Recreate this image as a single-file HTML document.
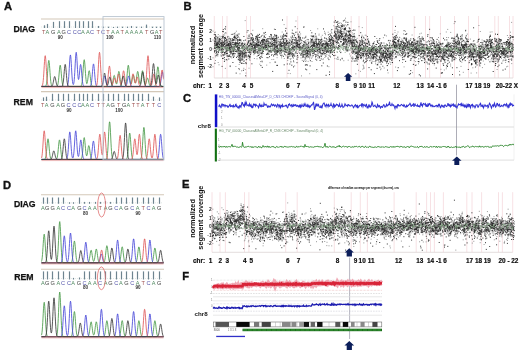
<!DOCTYPE html>
<html><head><meta charset="utf-8"><style>
html,body{margin:0;padding:0;background:#fff;width:520px;height:350px;overflow:hidden}
svg{display:block;filter:blur(0.3px)}
text{font-family:"Liberation Sans",sans-serif}
</style></head><body>
<svg width="520" height="350" viewBox="0 0 520 350">
<rect width="520" height="350" fill="#fff"/>
<text x="3.9" y="9.8" font-size="11.2" font-weight="bold" fill="#111" text-anchor="start" stroke="#111" stroke-width="0.35">A</text>
<text x="183.5" y="9.9" font-size="11.2" font-weight="bold" fill="#111" text-anchor="start" stroke="#111" stroke-width="0.35">B</text>
<text x="182.9" y="102.0" font-size="11.2" font-weight="bold" fill="#111" text-anchor="start" stroke="#111" stroke-width="0.35">C</text>
<text x="3.0" y="189.0" font-size="11.2" font-weight="bold" fill="#111" text-anchor="start" stroke="#111" stroke-width="0.35">D</text>
<text x="182.1" y="188.1" font-size="11.2" font-weight="bold" fill="#111" text-anchor="start" stroke="#111" stroke-width="0.35">E</text>
<text x="182.3" y="279.6" font-size="11.2" font-weight="bold" fill="#111" text-anchor="start" stroke="#111" stroke-width="0.35">F</text>
<polyline points="41.5,86.4 44.75,86.4 45,86.3 45.25,86.3 45.5,86.2 45.75,85.9 46,85.5 46.25,84.8 46.5,83.7 46.75,82.1 47,79.9 47.25,77.1 47.5,73.8 47.75,70.2 48,66.6 48.25,63.6 48.5,61.4 48.75,60.4 49,60.8 49.25,62.6 49.5,65.3 49.75,68.7 50,72.4 50.25,75.8 50.5,78.9 50.75,81.3 51,83.1 51.25,84.4 51.5,85.3 51.75,85.8 52,86.1 52.25,86.2 52.5,86.3 52.75,86.4 56.25,86.4 56.5,86.3 56.75,86.3 57,86.1 57.25,85.9 57.5,85.5 57.75,84.8 58,83.7 58.25,82.2 58.5,80.3 58.75,77.8 59,75 59.25,72 59.5,69.2 59.75,67 60,65.6 60.25,65.2 60.5,66 60.75,67.8 61,70.3 61.25,73.2 61.5,76.1 61.75,78.8 62,81.1 62.25,82.9 62.5,84.2 62.75,85.1 63,85.7 63.25,86 63.5,86.2 63.75,86.3 64,86.4 80.25,86.4 80.5,86.3 80.75,86.2 81,86.1 81.25,85.8 81.5,85.2 81.75,84.4 82,83 82.25,81.2 82.5,78.7 82.75,75.6 83,72 83.25,68.3 83.5,64.8 83.75,61.9 84,60.2 84.25,59.7 84.5,60.7 84.75,62.9 85,66.1 85.25,69.7 85.5,73.4 85.75,76.8 86,79.5 86.25,81.6 86.5,82.9 86.75,83.6 87,83.5 87.25,82.8 87.5,81.6 87.75,79.9 88,77.9 88.25,75.7 88.5,73.7 88.75,72 89,71 89.25,70.7 89.5,71.3 89.75,72.6 90,74.5 90.25,76.6 90.5,78.8 90.75,80.8 91,82.5 91.25,83.8 91.5,84.8 91.75,85.4 92,85.9 92.25,86.1 92.5,86.3 92.75,86.3 93,86.4 110.5,86.4 110.75,86.3 111,86.3 111.25,86.1 111.5,85.9 111.75,85.6 112,85 112.25,84.2 112.5,83.2 112.75,81.9 113,80.5 113.25,78.9 113.5,77.5 113.75,76.3 114,75.6 114.25,75.4 114.5,75.8 114.75,76.7 115,78 115.25,79.5 115.5,81 115.75,82.3 116,83.2 116.25,83.8 116.5,84 116.75,83.7 117,82.8 117.25,81.5 117.5,79.8 117.75,77.8 118,75.8 118.25,73.9 118.5,72.4 118.75,71.5 119,71.5 119.25,72.2 119.5,73.5 119.75,75.4 120,77.5 120.25,79.5 120.5,81.4 120.75,82.9 121,84.1 121.25,85 121.5,85.6 121.75,85.9 122,86.2 122.25,86.3 122.5,86.3 122.75,86.4 124.5,86.4 124.75,86.3 125,86.2 125.25,86 125.5,85.7 125.75,85.1 126,84.2 126.25,82.9 126.5,81.1 126.75,78.8 127,76.1 127.25,73.2 127.5,70.3 127.75,67.8 128,66 128.25,65.2 128.5,65.6 128.75,67 129,69.2 129.25,72 129.5,74.9 129.75,77.7 130,80.2 130.25,82 130.5,83.3 130.75,84.1 131,84.3 131.25,84 131.5,83.3 131.75,82.2 132,80.8 132.25,79.3 132.5,77.7 132.75,76.4 133,75.4 133.25,75 133.5,75.2 133.75,75.9 134,77.1 134.25,78.6 134.5,80.1 134.75,81.4 135,82.4 135.25,83 135.5,83.1 135.75,82.6 136,81.6 136.25,80 136.5,78.2 136.75,76.1 137,74.2 137.25,72.6 137.5,71.6 137.75,71.4 138,72 138.25,73.2 138.5,75 138.75,77 139,79 139.25,80.9 139.5,82.3 139.75,83.3 140,83.8 140.25,83.7 140.5,83.1 140.75,81.9 141,80.3 141.25,78.3 141.5,76.1 141.75,74.1 142,72.3 142.25,71.1 142.5,70.7 142.75,71.1 143,72.3 143.25,74.1 143.5,76.2 143.75,78.3 144,80.4 144.25,82.1 144.5,83.4 144.75,84.3 145,84.7 145.25,84.8 145.5,84.6 145.75,84 146,83.1 146.25,82.1 146.5,80.9 146.75,79.8 147,78.9 147.25,78.2 147.5,78 147.75,78.2 148,78.9 148.25,79.8 148.5,80.9 148.75,82.1 149,83.2 149.25,84.1 149.5,84.9 149.75,85.4 150,85.8 150.25,86.1 150.5,86.2 150.75,86.3 151,86.4 154,86.4 154.25,86.3 154.5,86.3 154.75,86.1 155,85.9 155.25,85.4 155.5,84.7 155.75,83.7 156,82.2 156.25,80.3 156.5,77.9 156.75,75.2 157,72.5 157.25,70 157.5,68 157.75,66.9 158,66.8 158.25,67.7 158.5,69.5 158.75,71.9 159,74.7 159.25,77.4 159.5,79.8 159.75,81.9 160,83.4 160.25,84.6 160.5,85.3 160.75,85.8 161,86.1 161.25,86.2 161.5,86.3 161.75,86.4 163.5,86.4" fill="none" stroke="#4a9a4a" stroke-width="0.95" stroke-opacity="0.9"/>
<polyline points="41.5,86.4 66.5,86.4 66.75,86.3 67,86.2 67.25,86 67.5,85.5 67.75,84.8 68,83.7 68.25,82.1 68.5,79.7 68.75,76.6 69,72.8 69.25,68.5 69.5,64.1 69.75,60.1 70,57 70.25,55.2 70.5,55 70.75,56.5 71,59.4 71.25,63.3 71.5,67.6 71.75,72 72,75.9 72.25,79.1 72.5,81.5 72.75,83.2 73,84.2 73.25,84.6 73.5,84.4 73.75,83.5 74,82 74.25,79.7 74.5,76.5 74.75,72.5 75,68 75.25,63.2 75.5,58.8 75.75,55.1 76,52.9 76.25,52.3 76.5,53.6 76.75,56.4 77,60.4 77.25,65 77.5,69.5 77.75,73.5 78,76.7 78.25,78.7 78.5,79.5 78.75,79.2 79,77.9 79.25,75.7 79.5,73 79.75,70.1 80,67.5 80.25,65.5 80.5,64.5 80.75,64.6 81,65.9 81.25,68 81.5,70.9 81.75,73.9 82,76.9 82.25,79.6 82.5,81.7 82.75,83.4 83,84.5 83.25,85.3 83.5,85.8 83.75,86.1 84,86.2 84.25,86.3 84.5,86.4 89.5,86.4 89.75,86.3 90,86.3 90.25,86.2 90.5,85.9 90.75,85.5 91,84.9 91.25,83.8 91.5,82.3 91.75,80.3 92,77.8 92.25,74.9 92.5,71.7 92.75,68.7 93,66.2 93.25,64.5 93.5,63.9 93.75,64.5 94,66.2 94.25,68.7 94.5,71.7 94.75,74.9 95,77.8 95.25,80.3 95.5,82.3 95.75,83.8 96,84.9 96.25,85.5 96.5,85.9 96.75,86.2 97,86.3 97.25,86.3 97.5,86.4 101.25,86.4 101.5,86.3 101.75,86.2 102,86 102.25,85.8 102.5,85.3 102.75,84.7 103,83.8 103.25,82.7 103.5,81.4 103.75,79.9 104,78.5 104.25,77.3 104.5,76.4 104.75,76 105,76.2 105.25,76.9 105.5,78 105.75,79.3 106,80.8 106.25,82.2 106.5,83.4 106.75,84.4 107,85.1 107.25,85.6 107.5,85.9 107.75,86.2 108,86.3 108.25,86.3 108.5,86.4 125,86.4 125.25,86.3 125.5,86.2 125.75,86.1 126,85.8 126.25,85.4 126.5,84.8 126.75,84 127,82.9 127.25,81.6 127.5,80.2 127.75,78.8 128,77.5 128.25,76.5 128.5,76 128.75,76.1 129,76.7 129.25,77.7 129.5,79.1 129.75,80.5 130,81.9 130.25,83.2 130.5,84.2 130.75,85 131,85.5 131.25,85.9 131.5,86.1 131.75,86.3 132,86.3 132.25,86.4 158.75,86.4 159,86.3 159.25,86.2 159.5,86 159.75,85.7 160,85.2 160.25,84.4 160.5,83.3 160.75,81.9 161,80.2 161.25,78.2 161.5,76.2 161.75,74.4 162,73 162.25,72.1 162.5,72.1 162.75,72.7 163,74.1 163.25,75.8 163.5,77.8" fill="none" stroke="#4a4ad8" stroke-width="0.95" stroke-opacity="0.9"/>
<polyline points="41.5,86.3 41.75,86.2 42,86 42.25,85.7 42.5,85.1 42.75,84.1 43,82.5 43.25,80.4 43.5,77.5 43.75,73.9 44,69.8 44.25,65.5 44.5,61.5 44.75,58.3 45,56.2 45.25,55.7 45.5,56.9 45.75,59.4 46,63.1 46.25,67.3 46.5,71.5 46.75,75.4 47,78.7 47.25,81.3 47.5,83.2 47.75,84.5 48,85.3 48.25,85.8 48.5,86.1 48.75,86.3 49,86.3 49.25,86.4 95.5,86.4 95.75,86.3 96,86.2 96.25,86 96.5,85.7 96.75,85.1 97,84.1 97.25,82.5 97.5,80.3 97.75,77.2 98,73.4 98.25,68.9 98.5,64.2 98.75,59.6 99,55.8 99.25,53.2 99.5,52.3 99.75,53.2 100,55.8 100.25,59.6 100.5,64.2 100.75,68.9 101,73.4 101.25,77.2 101.5,80.3 101.75,82.5 102,84.1 102.25,85.1 102.5,85.7 102.75,86 103,86.2 103.25,86.3 103.5,86.4 105.5,86.4 105.75,86.3 106,86.3 106.25,86.1 106.5,85.8 106.75,85.4 107,84.7 107.25,83.6 107.5,82.1 107.75,80 108,77.6 108.25,74.8 108.5,72 108.75,69.4 109,67.4 109.25,66.2 109.5,66.1 109.75,67 110,68.9 110.25,71.4 110.5,74.2 110.75,77 111,79.5 111.25,81.6 111.5,83.1 111.75,84.2 112,84.7 112.25,84.8 112.5,84.6 112.75,84 113,83.1 113.25,82.1 113.5,80.9 113.75,79.8 114,78.8 114.25,78.2 114.5,78 114.75,78.2 115,78.8 115.25,79.7 115.5,80.7 115.75,81.6 116,82.3 116.25,82.7 116.5,82.7 116.75,82.1 117,81.1 117.25,79.7 117.5,78.1 117.75,76.6 118,75.2 118.25,74.3 118.5,74 118.75,74.3 119,75.3 119.25,76.7 119.5,78.3 119.75,80 120,81.6 120.25,82.9 120.5,83.9 120.75,84.5 121,84.7 121.25,84.4 121.5,83.8 121.75,82.6 122,81.1 122.25,79.2 122.5,77 122.75,74.9 123,72.9 123.25,71.5 123.5,70.8 123.75,70.9 124,71.7 124.25,73.3 124.5,75.3 124.75,77.5 125,79.6 125.25,81.5 125.5,83.1 125.75,84.2 126,85.1 126.25,85.6 126.5,86 126.75,86.2 127,86.3 127.25,86.3 127.5,86.4 129.25,86.4 129.5,86.3 129.75,86.3 130,86.1 130.25,85.9 130.5,85.5 130.75,85 131,84.1 131.25,83 131.5,81.6 131.75,80 132,78.2 132.25,76.5 132.5,75.1 132.75,74.1 133,73.8 133.25,74.1 133.5,75.1 133.75,76.4 134,78.1 134.25,79.7 134.5,81.2 134.75,82.3 135,83 135.25,83.1 135.5,82.8 135.75,82.1 136,81.1 136.25,79.9 136.5,78.7 136.75,77.8 137,77.1 137.25,77 137.5,77.4 137.75,78.1 138,79.3 138.25,80.5 138.5,81.8 138.75,83 139,84.1 139.25,84.8 139.5,85.4 139.75,85.8 140,86.1 140.25,86.2 140.5,86.3 140.75,86.4 144,86.4 144.25,86.3 144.5,86.2 144.75,86.1 145,85.8 145.25,85.2 145.5,84.3 145.75,82.9 146,80.9 146.25,78.1 146.5,74.7 146.75,70.7 147,66.4 147.25,62.3 147.5,58.8 147.75,56.5 148,55.7 148.25,56.5 148.5,58.8 148.75,62.3 149,66.4 149.25,70.7 149.5,74.7 149.75,78.1 150,80.8 150.25,82.8 150.5,84.2 150.75,85 151,85.3 151.25,85.3 151.5,85 151.75,84.3 152,83.3 152.25,82 152.5,80.4 152.75,78.7 153,77 153.25,75.5 153.5,74.5 153.75,74 154,74.2 154.25,75 154.5,76.3 154.75,78 155,79.7 155.25,81.4 155.5,82.8 155.75,84 156,84.8 156.25,85.5 156.5,85.9 156.75,86.1 157,86.2 157.25,86.3 157.5,86.4 158.25,86.4 158.5,86.3 158.75,86.3 159,86.1 159.25,85.9 159.5,85.5 159.75,84.9 160,83.9 160.25,82.6 160.5,80.9 160.75,78.8 161,76.6 161.25,74.3 161.5,72.3 161.75,70.7 162,70 162.25,70.1 162.5,71 162.75,72.6 163,74.7 163.25,77 163.5,79.3" fill="none" stroke="#e05a5a" stroke-width="0.95" stroke-opacity="0.9"/>
<polyline points="41.5,86.4 51,86.4 51.25,86.3 51.5,86.3 51.75,86.2 52,86 52.25,85.6 52.5,85.2 52.75,84.5 53,83.5 53.25,82.4 53.5,81.1 53.75,79.7 54,78.4 54.25,77.3 54.5,76.7 54.75,76.5 55,76.9 55.25,77.7 55.5,78.9 55.75,80.2 56,81.6 56.25,82.9 56.5,83.9 56.75,84.8 57,85.4 57.25,85.8 57.5,86.1 57.75,86.2 58,86.3 58.25,86.4 61.25,86.4 61.5,86.3 61.75,86.3 62,86.1 62.25,85.9 62.5,85.4 62.75,84.7 63,83.6 63.25,82.1 63.5,80 63.75,77.5 64,74.5 64.25,71.5 64.5,68.6 64.75,66.2 65,64.8 65.25,64.4 65.5,65.2 65.75,67.1 66,69.7 66.25,72.7 66.5,75.7 66.75,78.5 67,80.9 67.25,82.8 67.5,84.1 67.75,85 68,85.6 68.25,86 68.5,86.2 68.75,86.3 69,86.4 100.75,86.4 101,86.3 101.25,86.3 101.5,86.1 101.75,85.9 102,85.5 102.25,84.9 102.5,84 102.75,82.8 103,81.3 103.25,79.5 103.5,77.7 103.75,75.9 104,74.4 104.25,73.4 104.5,73 104.75,73.4 105,74.4 105.25,75.9 105.5,77.7 105.75,79.5 106,81.3 106.25,82.8 106.5,83.9 106.75,84.7 107,85.2 107.25,85.3 107.5,85.1 107.75,84.7 108,84 108.25,83 108.5,81.8 108.75,80.5 109,79.3 109.25,78.1 109.5,77.4 109.75,77 110,77.2 110.25,77.8 110.5,78.8 110.75,80 111,81.3 111.25,82.6 111.5,83.7 111.75,84.6 112,85.2 112.25,85.7 112.5,86 112.75,86.2 113,86.3 113.25,86.3 113.5,86.4 119.5,86.4 119.75,86.3 120,86.3 120.25,86.2 120.5,85.9 120.75,85.6 121,85.1 121.25,84.4 121.5,83.4 121.75,82.2 122,80.8 122.25,79.3 122.5,78 122.75,76.9 123,76.2 123.25,76 123.5,76.4 123.75,77.3 124,78.5 124.25,79.9 124.5,81.4 124.75,82.7 125,83.8 125.25,84.7 125.5,85.3 125.75,85.8 126,86 126.25,86.2 126.5,86.3 126.75,86.4 139,86.4 139.25,86.3 139.5,86.3 139.75,86.1 140,85.9 140.25,85.5 140.5,84.9 140.75,84 141,82.8 141.25,81.3 141.5,79.4 141.75,77.4 142,75.5 142.25,73.8 142.5,72.5 142.75,72 143,72.2 143.25,73.2 143.5,74.7 143.75,76.6 144,78.6 144.25,80.6 144.5,82.2 144.75,83.6 145,84.6 145.25,85.3 145.5,85.8 145.75,86.1 146,86.2 146.25,86.3 146.5,86.4 149.5,86.4 149.75,86.3 150,86.3 150.25,86.2 150.5,85.9 150.75,85.5 151,84.8 151.25,83.8 151.5,82.3 151.75,80.3 152,77.7 152.25,74.7 152.5,71.5 152.75,68.5 153,65.9 153.25,64.2 153.5,63.6 153.75,64.2 154,65.9 154.25,68.5 154.5,71.5 154.75,74.7 155,77.6 155.25,80.1 155.5,81.9 155.75,83.1 156,83.7 156.25,83.6 156.5,83.1 156.75,82.1 157,80.8 157.25,79.2 157.5,77.7 157.75,76.4 158,75.4 158.25,75 158.5,75.2 158.75,75.9 159,77.2 159.25,78.7 159.5,80.3 159.75,81.8 160,83.1 160.25,84.2 160.5,85 160.75,85.5 161,85.9 161.25,86.1 161.5,86.3 161.75,86.3 162,86.4 163.5,86.4" fill="none" stroke="#3a3a3a" stroke-width="0.95" stroke-opacity="0.9"/>
<line x1="41.5" y1="86.60000000000001" x2="163.5" y2="86.60000000000001" stroke="#404040" stroke-width="0.8"/>
<line x1="41.5" y1="87.60000000000001" x2="163.5" y2="87.60000000000001" stroke="#e89090" stroke-width="0.6"/>
<line x1="41" y1="19.0" x2="164" y2="19.0" stroke="#d4c8b8" stroke-width="1.1"/>
<line x1="41" y1="27.0" x2="163" y2="27.0" stroke="#b8c8c0" stroke-width="0.4" stroke-dasharray="1,1"/>
<line x1="44.5" y1="25.28" x2="44.5" y2="28.0" stroke="#6e8490" stroke-width="1.2"/>
<text x="43.80" y="33.9" font-size="5.6" fill="#a05050" text-anchor="middle">T</text>
<line x1="47.5" y1="23.92" x2="47.5" y2="28.0" stroke="#6e8490" stroke-width="1.2"/>
<text x="47.40" y="33.9" font-size="5.6" fill="#508a60" text-anchor="middle">A</text>
<line x1="53.5" y1="21.88" x2="53.5" y2="28.0" stroke="#6e8490" stroke-width="1.2"/>
<text x="53.30" y="33.9" font-size="5.6" fill="#404040" text-anchor="middle">G</text>
<line x1="59.5" y1="21.20" x2="59.5" y2="28.0" stroke="#6e8490" stroke-width="1.2"/>
<text x="58.80" y="33.9" font-size="5.6" fill="#508a60" text-anchor="middle">A</text>
<line x1="64.5" y1="21.20" x2="64.5" y2="28.0" stroke="#6e8490" stroke-width="1.2"/>
<text x="63.80" y="33.9" font-size="5.6" fill="#404040" text-anchor="middle">G</text>
<line x1="69.5" y1="21.20" x2="69.5" y2="28.0" stroke="#6e8490" stroke-width="1.2"/>
<text x="69.00" y="33.9" font-size="5.6" fill="#5050a8" text-anchor="middle">C</text>
<line x1="75.5" y1="21.20" x2="75.5" y2="28.0" stroke="#6e8490" stroke-width="1.2"/>
<text x="74.80" y="33.9" font-size="5.6" fill="#5050a8" text-anchor="middle">C</text>
<line x1="79.5" y1="21.20" x2="79.5" y2="28.0" stroke="#6e8490" stroke-width="1.2"/>
<text x="79.20" y="33.9" font-size="5.6" fill="#5050a8" text-anchor="middle">C</text>
<line x1="83.5" y1="21.20" x2="83.5" y2="28.0" stroke="#6e8490" stroke-width="1.2"/>
<text x="82.80" y="33.9" font-size="5.6" fill="#508a60" text-anchor="middle">A</text>
<line x1="88.5" y1="21.20" x2="88.5" y2="28.0" stroke="#6e8490" stroke-width="1.2"/>
<text x="87.80" y="33.9" font-size="5.6" fill="#508a60" text-anchor="middle">A</text>
<line x1="92.5" y1="21.20" x2="92.5" y2="28.0" stroke="#6e8490" stroke-width="1.2"/>
<text x="92.10" y="33.9" font-size="5.6" fill="#5050a8" text-anchor="middle">C</text>
<line x1="98.5" y1="25.96" x2="98.5" y2="28.0" stroke="#6e8490" stroke-width="1.2"/>
<text x="98.10" y="33.9" font-size="5.6" fill="#a05050" text-anchor="middle">T</text>
<line x1="103.5" y1="26.64" x2="103.5" y2="28.0" stroke="#6e8490" stroke-width="1.2"/>
<text x="103.10" y="33.9" font-size="5.6" fill="#5050a8" text-anchor="middle">C</text>
<line x1="108.5" y1="26.64" x2="108.5" y2="28.0" stroke="#6e8490" stroke-width="1.2"/>
<text x="108.00" y="33.9" font-size="5.6" fill="#a05050" text-anchor="middle">T</text>
<line x1="113.5" y1="26.98" x2="113.5" y2="28.0" stroke="#6e8490" stroke-width="1.2"/>
<text x="112.80" y="33.9" font-size="5.6" fill="#508a60" text-anchor="middle">A</text>
<line x1="117.5" y1="26.64" x2="117.5" y2="28.0" stroke="#6e8490" stroke-width="1.2"/>
<text x="117.50" y="33.9" font-size="5.6" fill="#508a60" text-anchor="middle">A</text>
<line x1="122.5" y1="26.64" x2="122.5" y2="28.0" stroke="#6e8490" stroke-width="1.2"/>
<text x="122.20" y="33.9" font-size="5.6" fill="#a05050" text-anchor="middle">T</text>
<line x1="127.5" y1="26.64" x2="127.5" y2="28.0" stroke="#6e8490" stroke-width="1.2"/>
<text x="126.90" y="33.9" font-size="5.6" fill="#508a60" text-anchor="middle">A</text>
<line x1="131.5" y1="25.96" x2="131.5" y2="28.0" stroke="#6e8490" stroke-width="1.2"/>
<text x="131.60" y="33.9" font-size="5.6" fill="#508a60" text-anchor="middle">A</text>
<line x1="136.5" y1="26.64" x2="136.5" y2="28.0" stroke="#6e8490" stroke-width="1.2"/>
<text x="136.30" y="33.9" font-size="5.6" fill="#508a60" text-anchor="middle">A</text>
<line x1="141.5" y1="26.64" x2="141.5" y2="28.0" stroke="#6e8490" stroke-width="1.2"/>
<text x="141.10" y="33.9" font-size="5.6" fill="#508a60" text-anchor="middle">A</text>
<line x1="146.5" y1="24.60" x2="146.5" y2="28.0" stroke="#6e8490" stroke-width="1.2"/>
<text x="146.60" y="33.9" font-size="5.6" fill="#a05050" text-anchor="middle">T</text>
<line x1="152.5" y1="26.64" x2="152.5" y2="28.0" stroke="#6e8490" stroke-width="1.2"/>
<text x="152.10" y="33.9" font-size="5.6" fill="#404040" text-anchor="middle">G</text>
<line x1="156.5" y1="26.64" x2="156.5" y2="28.0" stroke="#6e8490" stroke-width="1.2"/>
<text x="156.50" y="33.9" font-size="5.6" fill="#508a60" text-anchor="middle">A</text>
<line x1="160.5" y1="26.64" x2="160.5" y2="28.0" stroke="#6e8490" stroke-width="1.2"/>
<text x="160.70" y="33.9" font-size="5.6" fill="#a05050" text-anchor="middle">T</text>
<text x="60.3" y="39.0" font-size="4.6" font-weight="bold" fill="#333" text-anchor="middle">90</text>
<text x="109.8" y="39.0" font-size="4.6" font-weight="bold" fill="#333" text-anchor="middle">100</text>
<text x="157.4" y="39.0" font-size="4.6" font-weight="bold" fill="#333" text-anchor="middle">110</text>
<polyline points="41.5,159.4 44.25,159.4 44.5,159.3 44.75,159.2 45,159 45.25,158.6 45.5,158 45.75,157 46,155.7 46.25,153.9 46.5,151.5 46.75,148.9 47,146 47.25,143.2 47.5,140.9 47.75,139.3 48,138.8 48.25,139.3 48.5,140.9 48.75,143.2 49,146 49.25,148.9 49.5,151.5 49.75,153.9 50,155.7 50.25,157 50.5,158 50.75,158.6 51,159 51.25,159.2 51.5,159.3 51.75,159.4 55.75,159.4 56,159.3 56.25,159.2 56.5,159 56.75,158.6 57,158.1 57.25,157.2 57.5,155.9 57.75,154.2 58,152 58.25,149.4 58.5,146.7 58.75,144.1 59,141.9 59.25,140.4 59.5,139.9 59.75,140.4 60,141.9 60.25,144.1 60.5,146.7 60.75,149.4 61,152 61.25,154.2 61.5,155.9 61.75,157.2 62,158.1 62.25,158.6 62.5,159 62.75,159.2 63,159.3 63.25,159.4 80.25,159.4 80.5,159.3 80.75,159.3 81,159.1 81.25,158.9 81.5,158.4 81.75,157.7 82,156.7 82.25,155.1 82.5,153.1 82.75,150.5 83,147.6 83.25,144.6 83.5,141.7 83.75,139.4 84,138 84.25,137.6 84.5,138.4 84.75,140.2 85,142.8 85.25,145.7 85.5,148.7 85.75,151.4 86,153.5 86.25,155 86.5,155.7 86.75,155.8 87,155.2 87.25,154.1 87.5,152.5 87.75,150.7 88,148.9 88.25,147.3 88.5,146.1 88.75,145.6 89,145.8 89.25,146.7 89.5,148.2 89.75,150 90,152 90.25,153.8 90.5,155.4 90.75,156.7 91,157.7 91.25,158.3 91.5,158.8 91.75,159.1 92,159.2 92.25,159.3 92.5,159.4 105.5,159.4 105.75,159.3 106,159.3 106.25,159.1 106.5,158.8 106.75,158.2 107,157.3 107.25,155.9 107.5,153.7 107.75,150.7 108,146.8 108.25,142.1 108.5,136.9 108.75,131.7 109,127 109.25,123.5 109.5,121.8 109.75,122 110,124.1 110.25,127.9 110.5,132.7 110.75,138 111,143.1 111.25,147.6 111.5,151.4 111.75,154.2 112,156.2 112.25,157.5 112.5,158.4 112.75,158.9 113,159.1 113.25,159.3 113.5,159.3 113.75,159.4 125.75,159.4 126,159.3 126.25,159.2 126.5,159.1 126.75,158.8 127,158.2 127.25,157.4 127.5,156.1 127.75,154.2 128,151.8 128.25,148.7 128.5,145.2 128.75,141.5 129,138 129.25,135.2 129.5,133.4 129.75,133 130,134 130.25,136.2 130.5,139.3 130.75,142.9 131,146.6 131.25,150 131.5,152.8 131.75,155 132,156.7 132.25,157.8 132.5,158.5 132.75,158.9 133,159.2 133.25,159.3 133.5,159.3 133.75,159.4 140,159.4 140.25,159.3 140.5,159.2 140.75,158.9 141,158.5 141.25,157.8 141.5,156.7 141.75,155 142,152.6 142.25,149.4 142.5,145.5 142.75,141.2 143,136.7 143.25,132.6 143.5,129.4 143.75,127.6 144,127.4 144.25,128.9 144.5,131.9 144.75,135.8 145,140.3 145.25,144.7 145.5,148.7 145.75,152 146,154.6 146.25,156.4 146.5,157.6 146.75,158.4 147,158.9 147.25,159.1 147.5,159.3 147.75,159.3 148,159.4 163.5,159.4" fill="none" stroke="#4a9a4a" stroke-width="0.95" stroke-opacity="0.9"/>
<polyline points="41.5,159.4 65.75,159.4 66,159.3 66.25,159.3 66.5,159.1 66.75,158.9 67,158.4 67.25,157.7 67.5,156.6 67.75,154.9 68,152.5 68.25,149.6 68.5,146.1 68.75,142.3 69,138.5 69.25,135.2 69.5,132.9 69.75,131.9 70,132.4 70.25,134.2 70.5,137.1 70.75,140.7 71,144.6 71.25,148.2 71.5,151.4 71.75,154 72,155.9 72.25,157.1 72.5,157.8 72.75,158.1 73,157.8 73.25,157.1 73.5,155.7 73.75,153.8 74,151.1 74.25,147.8 74.5,144 74.75,140 75,136.2 75.25,133.2 75.5,131.3 75.75,130.8 76,131.9 76.25,134.3 76.5,137.7 76.75,141.6 77,145.5 77.25,149.1 77.5,152.1 77.75,154.3 78,155.8 78.25,156.4 78.5,156.4 78.75,155.7 79,154.3 79.25,152.3 79.5,149.9 79.75,147.2 80,144.6 80.25,142.3 80.5,140.6 80.75,139.9 81,140.2 81.25,141.5 81.5,143.6 81.75,146.2 82,148.9 82.25,151.5 82.5,153.8 82.75,155.6 83,157 83.25,157.9 83.5,158.5 83.75,158.9 84,159.2 84.25,159.3 84.5,159.3 84.75,159.4 89.5,159.4 89.75,159.3 90,159.3 90.25,159.1 90.5,158.9 90.75,158.5 91,157.8 91.25,156.9 91.5,155.5 91.75,153.7 92,151.5 92.25,149 92.5,146.4 92.75,144 93,142.2 93.25,141.2 93.5,141.1 93.75,141.9 94,143.6 94.25,145.9 94.5,148.4 94.75,151 95,153.3 95.25,155.2 95.5,156.6 95.75,157.7 96,158.4 96.25,158.8 96.5,159.1 96.75,159.3 97,159.3 97.25,159.4 156.75,159.4 157,159.3 157.25,159.2 157.5,159 157.75,158.6 158,158 158.25,157 158.5,155.6 158.75,153.6 159,151 159.25,147.9 159.5,144.4 159.75,140.9 160,137.8 160.25,135.5 160.5,134.3 160.75,134.4 161,135.9 161.25,138.4 161.5,141.6 161.75,145.1 162,148.5 162.25,151.6 162.5,154 162.75,155.9 163,157.3 163.25,158.2 163.5,158.7" fill="none" stroke="#4a4ad8" stroke-width="0.95" stroke-opacity="0.9"/>
<polyline points="41.5,158.1 41.75,157.2 42,155.8 42.25,153.8 42.5,151.1 42.75,147.8 43,144 43.25,140 43.5,136.2 43.75,133.2 44,131.3 44.25,130.8 44.5,131.9 44.75,134.3 45,137.7 45.25,141.6 45.5,145.5 45.75,149.2 46,152.3 46.25,154.7 46.5,156.4 46.75,157.6 47,158.4 47.25,158.9 47.5,159.1 47.75,159.3 48,159.3 48.25,159.4 95.75,159.4 96,159.3 96.25,159.3 96.5,159.2 96.75,158.9 97,158.5 97.25,157.8 97.5,156.8 97.75,155.2 98,153.1 98.25,150.4 98.5,147.2 98.75,143.7 99,140.2 99.25,137.3 99.5,135.2 99.75,134.2 100,134.6 100.25,136.3 100.5,139 100.75,142.2 101,145.7 101.25,148.9 101.5,151.7 101.75,153.6 102,154.7 102.25,154.9 102.5,154.1 102.75,152.5 103,149.9 103.25,146.7 103.5,143 103.75,139.2 104,135.8 104.25,133.3 104.5,132 104.75,132.2 105,133.7 105.25,136.5 105.5,140 105.75,143.8 106,147.5 106.25,150.8 106.5,153.5 106.75,155.6 107,157.1 107.25,158 107.5,158.7 107.75,159 108,159.2 108.25,159.3 108.5,159.4 116.25,159.4 116.5,159.3 116.75,159.2 117,159 117.25,158.7 117.5,158.1 117.75,157.1 118,155.8 118.25,153.8 118.5,151.4 118.75,148.4 119,145.1 119.25,141.7 119.5,138.7 119.75,136.5 120,135.4 120.25,135.5 120.5,136.9 120.75,139.3 121,142.4 121.25,145.7 121.5,149 121.75,151.9 122,154.3 122.25,156.1 122.5,157.4 122.75,158.2 123,158.7 123.25,159.1 123.5,159.2 123.75,159.3 124,159.4 131,159.4 131.25,159.3 131.5,159.2 131.75,159 132,158.7 132.25,158.1 132.5,157.3 132.75,156 133,154.3 133.25,152 133.5,149.4 133.75,146.6 134,143.7 134.25,141.3 134.5,139.6 134.75,138.8 135,139.1 135.25,140.5 135.5,142.7 135.75,145.3 136,148.1 136.25,150.7 136.5,152.7 136.75,154.1 137,154.7 137.25,154.4 137.5,153.1 137.75,151.1 138,148.3 138.25,145 138.5,141.5 138.75,138.3 139,135.9 139.25,134.4 139.5,134.3 139.75,135.5 140,137.8 140.25,140.9 140.5,144.4 140.75,147.9 141,151 141.25,153.6 141.5,155.6 141.75,157 142,158 142.25,158.6 142.5,159 142.75,159.2 143,159.3 143.25,159.4 145.25,159.4 145.5,159.3 145.75,159.3 146,159.1 146.25,158.9 146.5,158.5 146.75,157.8 147,156.8 147.25,155.4 147.5,153.4 147.75,151 148,148.3 148.25,145.4 148.5,142.7 148.75,140.5 149,139.2 149.25,138.8 149.5,139.6 149.75,141.3 150,143.7 150.25,146.6 150.5,149.4 150.75,152 151,154.2 151.25,155.9 151.5,157.1 151.75,157.8 152,158 152.25,157.8 152.5,157.1 152.75,155.8 153,154 153.25,151.5 153.5,148.5 153.75,145.1 154,141.6 154.25,138.4 154.5,135.9 154.75,134.4 155,134.3 155.25,135.5 155.5,137.8 155.75,140.9 156,144.4 156.25,147.9 156.5,151 156.75,153.6 157,155.6 157.25,157 157.5,158 157.75,158.6 158,159 158.25,159.2 158.5,159.3 158.75,159.4 163.5,159.4" fill="none" stroke="#e05a5a" stroke-width="0.95" stroke-opacity="0.9"/>
<polyline points="41.5,159.4 50.25,159.4 50.5,159.3 50.75,159.2 51,159.1 51.25,158.9 51.5,158.5 51.75,158 52,157.3 52.25,156.4 52.5,155.3 52.75,154.1 53,152.9 53.25,151.9 53.5,151.2 53.75,150.9 54,151 54.25,151.6 54.5,152.5 54.75,153.6 55,154.8 55.25,155.9 55.5,156.9 55.75,157.7 56,158.3 56.25,158.8 56.5,159 56.75,159.2 57,159.3 57.25,159.3 57.5,159.4 60.5,159.4 60.75,159.3 61,159.2 61.25,159 61.5,158.7 61.75,158.1 62,157.3 62.25,156 62.5,154.3 62.75,152 63,149.4 63.25,146.6 63.5,143.7 63.75,141.3 64,139.6 64.25,138.8 64.5,139.2 64.75,140.5 65,142.7 65.25,145.4 65.5,148.3 65.75,151 66,153.4 66.25,155.4 66.5,156.8 66.75,157.8 67,158.5 67.25,158.9 67.5,159.1 67.75,159.3 68,159.3 68.25,159.4 110.75,159.4 111,159.3 111.25,159.2 111.5,159 111.75,158.8 112,158.4 112.25,157.8 112.5,157.1 112.75,156.2 113,155.1 113.25,154 113.5,152.9 113.75,152.1 114,151.5 114.25,151.4 114.5,151.7 114.75,152.4 115,153.3 115.25,154.4 115.5,155.5 115.75,156.5 116,157.4 116.25,158.1 116.5,158.6 116.75,158.9 117,159.1 117.25,159.3 117.5,159.3 117.75,159.4 121.5,159.4 121.75,159.3 122,159.3 122.25,159.1 122.5,158.8 122.75,158.3 123,157.4 123.25,156 123.5,153.9 123.75,151 124,147.2 124.25,142.6 124.5,137.6 124.75,132.5 125,128 125.25,124.7 125.5,123 125.75,123.2 126,125.2 126.25,128.9 126.5,133.5 126.75,138.6 127,143.6 127.25,148 127.5,151.6 127.75,154.4 128,156.3 128.25,157.6 128.5,158.4 128.75,158.9 129,159.1 129.25,159.3 129.5,159.3 129.75,159.4 163.5,159.4" fill="none" stroke="#3a3a3a" stroke-width="0.95" stroke-opacity="0.9"/>
<line x1="41.5" y1="159.6" x2="163.5" y2="159.6" stroke="#404040" stroke-width="0.8"/>
<line x1="41.5" y1="160.6" x2="163.5" y2="160.6" stroke="#e89090" stroke-width="0.6"/>
<line x1="41" y1="91.6" x2="164" y2="91.6" stroke="#d4c8b8" stroke-width="1.1"/>
<line x1="41" y1="100.0" x2="163" y2="100.0" stroke="#b8c8c0" stroke-width="0.4" stroke-dasharray="1,1"/>
<line x1="43.5" y1="97.40" x2="43.5" y2="101.0" stroke="#6e8490" stroke-width="1.2"/>
<text x="42.80" y="106.5" font-size="5.6" fill="#a05050" text-anchor="middle">T</text>
<line x1="46.5" y1="96.68" x2="46.5" y2="101.0" stroke="#6e8490" stroke-width="1.2"/>
<text x="46.60" y="106.5" font-size="5.6" fill="#508a60" text-anchor="middle">A</text>
<line x1="52.5" y1="93.80" x2="52.5" y2="101.0" stroke="#6e8490" stroke-width="1.2"/>
<text x="52.40" y="106.5" font-size="5.6" fill="#404040" text-anchor="middle">G</text>
<line x1="58.5" y1="93.80" x2="58.5" y2="101.0" stroke="#6e8490" stroke-width="1.2"/>
<text x="58.10" y="106.5" font-size="5.6" fill="#508a60" text-anchor="middle">A</text>
<line x1="63.5" y1="93.80" x2="63.5" y2="101.0" stroke="#6e8490" stroke-width="1.2"/>
<text x="62.90" y="106.5" font-size="5.6" fill="#404040" text-anchor="middle">G</text>
<line x1="68.5" y1="93.80" x2="68.5" y2="101.0" stroke="#6e8490" stroke-width="1.2"/>
<text x="68.40" y="106.5" font-size="5.6" fill="#5050a8" text-anchor="middle">C</text>
<line x1="74.5" y1="93.80" x2="74.5" y2="101.0" stroke="#6e8490" stroke-width="1.2"/>
<text x="74.30" y="106.5" font-size="5.6" fill="#5050a8" text-anchor="middle">C</text>
<line x1="79.5" y1="93.80" x2="79.5" y2="101.0" stroke="#6e8490" stroke-width="1.2"/>
<text x="79.40" y="106.5" font-size="5.6" fill="#5050a8" text-anchor="middle">C</text>
<line x1="83.5" y1="93.80" x2="83.5" y2="101.0" stroke="#6e8490" stroke-width="1.2"/>
<text x="82.80" y="106.5" font-size="5.6" fill="#508a60" text-anchor="middle">A</text>
<line x1="87.5" y1="93.80" x2="87.5" y2="101.0" stroke="#6e8490" stroke-width="1.2"/>
<text x="87.40" y="106.5" font-size="5.6" fill="#508a60" text-anchor="middle">A</text>
<line x1="92.5" y1="93.80" x2="92.5" y2="101.0" stroke="#6e8490" stroke-width="1.2"/>
<text x="92.00" y="106.5" font-size="5.6" fill="#5050a8" text-anchor="middle">C</text>
<line x1="98.5" y1="93.80" x2="98.5" y2="101.0" stroke="#6e8490" stroke-width="1.2"/>
<text x="98.40" y="106.5" font-size="5.6" fill="#a05050" text-anchor="middle">T</text>
<line x1="103.5" y1="93.80" x2="103.5" y2="101.0" stroke="#6e8490" stroke-width="1.2"/>
<text x="103.20" y="106.5" font-size="5.6" fill="#a05050" text-anchor="middle">T</text>
<line x1="108.5" y1="93.80" x2="108.5" y2="101.0" stroke="#6e8490" stroke-width="1.2"/>
<text x="108.20" y="106.5" font-size="5.6" fill="#508a60" text-anchor="middle">A</text>
<line x1="113.5" y1="93.80" x2="113.5" y2="101.0" stroke="#6e8490" stroke-width="1.2"/>
<text x="112.80" y="106.5" font-size="5.6" fill="#404040" text-anchor="middle">G</text>
<line x1="118.5" y1="93.80" x2="118.5" y2="101.0" stroke="#6e8490" stroke-width="1.2"/>
<text x="118.70" y="106.5" font-size="5.6" fill="#a05050" text-anchor="middle">T</text>
<line x1="124.5" y1="93.80" x2="124.5" y2="101.0" stroke="#6e8490" stroke-width="1.2"/>
<text x="124.20" y="106.5" font-size="5.6" fill="#404040" text-anchor="middle">G</text>
<line x1="128.5" y1="93.80" x2="128.5" y2="101.0" stroke="#6e8490" stroke-width="1.2"/>
<text x="128.30" y="106.5" font-size="5.6" fill="#508a60" text-anchor="middle">A</text>
<line x1="133.5" y1="93.80" x2="133.5" y2="101.0" stroke="#6e8490" stroke-width="1.2"/>
<text x="133.40" y="106.5" font-size="5.6" fill="#a05050" text-anchor="middle">T</text>
<line x1="138.5" y1="93.80" x2="138.5" y2="101.0" stroke="#6e8490" stroke-width="1.2"/>
<text x="138.00" y="106.5" font-size="5.6" fill="#a05050" text-anchor="middle">T</text>
<line x1="142.5" y1="93.80" x2="142.5" y2="101.0" stroke="#6e8490" stroke-width="1.2"/>
<text x="142.50" y="106.5" font-size="5.6" fill="#508a60" text-anchor="middle">A</text>
<line x1="148.5" y1="93.80" x2="148.5" y2="101.0" stroke="#6e8490" stroke-width="1.2"/>
<text x="147.80" y="106.5" font-size="5.6" fill="#a05050" text-anchor="middle">T</text>
<line x1="153.5" y1="96.68" x2="153.5" y2="101.0" stroke="#6e8490" stroke-width="1.2"/>
<text x="153.50" y="106.5" font-size="5.6" fill="#a05050" text-anchor="middle">T</text>
<line x1="159.5" y1="97.40" x2="159.5" y2="101.0" stroke="#6e8490" stroke-width="1.2"/>
<text x="159.20" y="106.5" font-size="5.6" fill="#5050a8" text-anchor="middle">C</text>
<text x="69.0" y="112.0" font-size="4.6" font-weight="bold" fill="#333" text-anchor="middle">90</text>
<text x="119.0" y="112.0" font-size="4.6" font-weight="bold" fill="#333" text-anchor="middle">100</text>
<rect x="103" y="16.6" width="61" height="143.3" fill="none" stroke="#b8c4d0" stroke-width="0.9"/>
<polyline points="41.5,261.5 41.75,260.6 42,259.2 42.25,257.2 42.5,254.5 42.75,251.2 43,247.4 43.25,243.4 43.5,239.6 43.75,236.6 44,234.7 44.25,234.2 44.5,235.3 44.75,237.7 45,241.1 45.25,245 45.5,248.9 45.75,252.6 46,255.7 46.25,258.1 46.5,259.8 46.75,261 47,261.8 47.25,262.3 47.5,262.5 47.75,262.7 48,262.7 48.25,262.8 55.5,262.8 55.75,262.7 56,262.7 56.25,262.5 56.5,262.3 56.75,261.8 57,261 57.25,259.7 57.5,257.6 57.75,254.7 58,250.9 58.25,246.1 58.5,240.6 58.75,234.8 59,229.4 59.25,225 59.5,222.3 59.75,221.6 60,223.2 60.25,226.6 60.5,231.5 60.75,237.1 61,242.8 61.25,248.1 61.5,252.5 61.75,256 62,258.5 62.25,260.3 62.5,261.4 62.75,262 63,262.4 63.25,262.6 63.5,262.7 63.75,262.8 70.5,262.8 70.75,262.7 71,262.6 71.25,262.5 71.5,262.2 71.75,261.7 72,261 72.25,259.8 72.5,258.2 72.75,256 73,253.4 73.25,250.4 73.5,247.4 73.75,244.6 74,242.4 74.25,241.2 74.5,241.1 74.75,242.1 75,244.1 75.25,246.8 75.5,249.8 75.75,252.8 76,255.5 76.25,257.8 76.5,259.5 76.75,260.8 77,261.6 77.25,262.1 77.5,262.4 77.75,262.6 78,262.7 78.25,262.8 87.5,262.8 87.75,262.7 88,262.6 88.25,262.4 88.5,262.1 88.75,261.6 89,260.9 89.25,259.9 89.5,258.6 89.75,257 90,255.3 90.25,253.6 90.5,252 90.75,250.8 91,250.3 91.25,250.3 91.5,251 91.75,252.3 92,253.9 92.25,255.6 92.5,257.3 92.75,258.8 93,260 93.25,260.8 93.5,261.3 93.75,261.3 94,261 94.25,260.3 94.5,259.3 94.75,257.8 95,256.1 95.25,254.2 95.5,252.3 95.75,250.7 96,249.5 96.25,249 96.5,249.2 96.75,250.1 97,251.6 97.25,253.4 97.5,255.4 97.75,257.2 98,258.8 98.25,260.1 98.5,261.1 98.75,261.7 99,262.2 99.25,262.5 99.5,262.6 99.75,262.7 100,262.8 103,262.8 103.25,262.7 103.5,262.7 103.75,262.6 104,262.3 104.25,262 104.5,261.3 104.75,260.4 105,259.1 105.25,257.4 105.5,255.4 105.75,253 106,250.6 106.25,248.4 106.5,246.7 106.75,245.8 107,245.7 107.25,246.5 107.5,248.1 107.75,250.2 108,252.6 108.25,254.9 108.5,257.1 108.75,258.8 109,260.2 109.25,261.2 109.5,261.9 109.75,262.3 110,262.5 110.25,262.7 110.5,262.7 110.75,262.8 118.5,262.8 118.75,262.7 119,262.6 119.25,262.4 119.5,262.1 119.75,261.6 120,260.8 120.25,259.7 120.5,258.2 120.75,256.3 121,254.2 121.25,251.9 121.5,249.8 121.75,248.1 122,247.1 122.25,246.8 122.5,247.4 122.75,248.7 123,250.6 123.25,252.8 123.5,255 123.75,257.1 124,258.8 124.25,260.2 124.5,261.1 124.75,261.8 125,262.2 125.25,262.5 125.5,262.6 125.75,262.7 126,262.8 135,262.8 135.25,262.7 135.5,262.7 135.75,262.6 136,262.4 136.25,262 136.5,261.4 136.75,260.6 137,259.4 137.25,257.8 137.5,255.9 137.75,253.7 138,251.5 138.25,249.5 138.5,247.9 138.75,247 139,246.9 139.25,247.6 139.5,249.1 139.75,251.1 140,253.3 140.25,255.5 140.5,257.5 140.75,259.1 141,260.4 141.25,261.3 141.5,261.9 141.75,262.3 142,262.5 142.25,262.7 142.5,262.7 142.75,262.8 151.25,262.8 151.5,262.7 151.75,262.6 152,262.4 152.25,262.1 152.5,261.5 152.75,260.8 153,259.7 153.25,258.2 153.5,256.4 153.75,254.4 154,252.3 154.25,250.5 154.5,249 154.75,248.1 155,248.1 155.25,248.8 155.5,250.1 155.75,251.9 156,254 156.25,256 156.5,257.9 156.75,259.4 157,260.6 157.25,261.4 157.5,262 157.75,262.3 158,262.6 158.25,262.7 158.5,262.7 158.75,262.8 163.5,262.8" fill="none" stroke="#4a9a4a" stroke-width="0.95" stroke-opacity="0.9"/>
<polyline points="41.5,262.8 60.25,262.8 60.5,262.7 60.75,262.7 61,262.5 61.25,262.3 61.5,261.9 61.75,261.1 62,260 62.25,258.3 62.5,256.1 62.75,253.2 63,249.7 63.25,246 63.5,242.3 63.75,239.1 64,236.8 64.25,235.8 64.5,236.3 64.75,238 65,240.9 65.25,244.5 65.5,248.2 65.75,251.8 66,255 66.25,257.5 66.5,259.4 66.75,260.7 67,261.5 67.25,261.8 67.5,261.8 67.75,261.5 68,260.7 68.25,259.4 68.5,257.4 68.75,254.8 69,251.4 69.25,247.5 69.5,243.4 69.75,239.4 70,236 70.25,233.8 70.5,233 70.75,233.8 71,236 71.25,239.4 71.5,243.4 71.75,247.5 72,251.4 72.25,254.8 72.5,257.4 72.75,259.4 73,260.8 73.25,261.6 73.5,262.2 73.75,262.5 74,262.6 74.25,262.7 74.5,262.8 82,262.8 82.25,262.7 82.5,262.6 82.75,262.4 83,262.1 83.25,261.5 83.5,260.7 83.75,259.4 84,257.7 84.25,255.4 84.5,252.8 84.75,250 85,247.1 85.25,244.7 85.5,243 85.75,242.2 86,242.6 86.25,243.9 86.5,246.1 86.75,248.8 87,251.7 87.25,254.4 87.5,256.8 87.75,258.8 88,260.2 88.25,261.2 88.5,261.9 88.75,262.3 89,262.5 89.25,262.7 89.5,262.7 89.75,262.8 97.75,262.8 98,262.7 98.25,262.6 98.5,262.5 98.75,262.3 99,261.9 99.25,261.3 99.5,260.6 99.75,259.7 100,258.5 100.25,257.3 100.5,256.1 100.75,255.1 101,254.3 101.25,254 101.5,254.1 101.75,254.7 102,255.7 102.25,256.8 102.5,258.1 102.75,259.2 103,260.3 103.25,261.1 103.5,261.7 103.75,262.1 104,262.4 104.25,262.6 104.5,262.7 104.75,262.7 105,262.8 113.75,262.8 114,262.7 114.25,262.6 114.5,262.4 114.75,262.1 115,261.5 115.25,260.7 115.5,259.4 115.75,257.5 116,255.2 116.25,252.4 116.5,249.2 116.75,246.1 117,243.3 117.25,241.2 117.5,240.1 117.75,240.2 118,241.5 118.25,243.8 118.5,246.7 118.75,249.9 119,253 119.25,255.7 119.5,257.9 119.75,259.7 120,260.9 120.25,261.7 120.5,262.2 120.75,262.5 121,262.6 121.25,262.7 121.5,262.8 129.75,262.8 130,262.7 130.25,262.6 130.5,262.4 130.75,262.1 131,261.5 131.25,260.6 131.5,259.2 131.75,257.3 132,254.8 132.25,251.8 132.5,248.5 132.75,245.2 133,242.2 133.25,240 133.5,238.9 133.75,239 134,240.4 134.25,242.8 134.5,245.8 134.75,249.2 135,252.4 135.25,255.3 135.5,257.7 135.75,259.5 136,260.8 136.25,261.6 136.5,262.1 136.75,262.5 137,262.6 137.25,262.7 137.5,262.8 146,262.8 146.25,262.7 146.5,262.6 146.75,262.5 147,262.2 147.25,261.7 147.5,260.9 147.75,259.7 148,257.9 148.25,255.7 148.5,253 148.75,249.9 149,246.7 149.25,243.8 149.5,241.5 149.75,240.2 150,240.1 150.25,241.2 150.5,243.3 150.75,246.1 151,249.2 151.25,252.4 151.5,255.2 151.75,257.5 152,259.4 152.25,260.7 152.5,261.5 152.75,262.1 153,262.4 153.25,262.6 153.5,262.7 153.75,262.8 163.5,262.8" fill="none" stroke="#4a4ad8" stroke-width="0.95" stroke-opacity="0.9"/>
<polyline points="41.5,262.8 98,262.8 98.25,262.7 98.5,262.6 98.75,262.4 99,262.1 99.25,261.6 99.5,260.9 99.75,259.8 100,258.5 100.25,256.9 100.5,255.2 100.75,253.4 101,251.8 101.25,250.7 101.5,250.1 101.75,250.1 102,250.8 102.25,252.1 102.5,253.8 102.75,255.5 103,257.3 103.25,258.8 103.5,260.1 103.75,261 104,261.7 104.25,262.2 104.5,262.5 104.75,262.6 105,262.7 105.25,262.8 140.75,262.8 141,262.7 141.25,262.6 141.5,262.4 141.75,262.1 142,261.5 142.25,260.6 142.5,259.2 142.75,257.3 143,254.8 143.25,251.8 143.5,248.5 143.75,245.2 144,242.2 144.25,240 144.5,238.9 144.75,239 145,240.4 145.25,242.8 145.5,245.8 145.75,249.2 146,252.4 146.25,255.3 146.5,257.7 146.75,259.5 147,260.8 147.25,261.6 147.5,262.1 147.75,262.5 148,262.6 148.25,262.7 148.5,262.8 163.5,262.8" fill="none" stroke="#e05a5a" stroke-width="0.95" stroke-opacity="0.9"/>
<polyline points="41.5,262.8 44.75,262.8 45,262.7 45.25,262.6 45.5,262.4 45.75,262 46,261.4 46.25,260.4 46.5,258.8 46.75,256.5 47,253.5 47.25,249.8 47.5,245.5 47.75,241.1 48,236.9 48.25,233.5 48.5,231.3 48.75,230.8 49,232 49.25,234.7 49.5,238.5 49.75,242.8 50,247.3 50.25,251.3 50.5,254.6 50.75,257.1 51,258.7 51.25,259.4 51.5,259.2 51.75,258 52,255.9 52.25,252.8 52.5,248.8 52.75,244 53,238.9 53.25,234 53.5,229.9 53.75,227.2 54,226.2 54.25,227.2 54.5,229.9 54.75,234 55,239 55.25,244.1 55.5,248.8 55.75,253 56,256.2 56.25,258.6 56.5,260.3 56.75,261.4 57,262 57.25,262.4 57.5,262.6 57.75,262.7 58,262.8 77,262.8 77.25,262.7 77.5,262.7 77.75,262.6 78,262.4 78.25,262 78.5,261.5 78.75,260.8 79,259.7 79.25,258.4 79.5,256.8 79.75,255.1 80,253.5 80.25,252 80.5,251 80.75,250.5 81,250.7 81.25,251.5 81.5,252.8 81.75,254.4 82,256.2 82.25,257.8 82.5,259.2 82.75,260.4 83,261.3 83.25,261.9 83.5,262.3 83.75,262.5 84,262.6 84.25,262.7 84.5,262.8 108.25,262.8 108.5,262.7 108.75,262.6 109,262.4 109.25,262.1 109.5,261.5 109.75,260.8 110,259.7 110.25,258.2 110.5,256.4 110.75,254.4 111,252.3 111.25,250.5 111.5,249 111.75,248.1 112,248.1 112.25,248.8 112.5,250.1 112.75,251.9 113,254 113.25,256 113.5,257.9 113.75,259.4 114,260.6 114.25,261.4 114.5,262 114.75,262.3 115,262.6 115.25,262.7 115.5,262.7 115.75,262.8 124.25,262.8 124.5,262.7 124.75,262.6 125,262.4 125.25,262.1 125.5,261.6 125.75,260.9 126,259.9 126.25,258.5 126.5,256.8 126.75,255 127,253 127.25,251.3 127.5,249.9 127.75,249.1 128,249.1 128.25,249.7 128.5,251 128.75,252.7 129,254.6 129.25,256.5 129.5,258.2 129.75,259.6 130,260.7 130.25,261.5 130.5,262 130.75,262.4 131,262.6 131.25,262.7 131.5,262.7 131.75,262.8 157,262.8 157.25,262.7 157.5,262.6 157.75,262.4 158,262.1 158.25,261.6 158.5,260.9 158.75,259.9 159,258.6 159.25,257 159.5,255.3 159.75,253.6 160,252 160.25,250.8 160.5,250.3 160.75,250.3 161,251 161.25,252.3 161.5,253.9 161.75,255.7 162,257.4 162.25,258.9 162.5,260.1 162.75,261.1 163,261.7 163.25,262.2 163.5,262.5" fill="none" stroke="#3a3a3a" stroke-width="0.95" stroke-opacity="0.9"/>
<line x1="41.5" y1="263.0" x2="163.5" y2="263.0" stroke="#404040" stroke-width="0.8"/>
<line x1="41.5" y1="264.0" x2="163.5" y2="264.0" stroke="#e89090" stroke-width="0.6"/>
<line x1="41" y1="194.8" x2="164" y2="194.8" stroke="#d4c8b8" stroke-width="1.1"/>
<line x1="41" y1="202.8" x2="163" y2="202.8" stroke="#b8c8c0" stroke-width="0.4" stroke-dasharray="1,1"/>
<line x1="43.5" y1="197.50" x2="43.5" y2="203.8" stroke="#6e8490" stroke-width="1.2"/>
<text x="42.80" y="209.60000000000002" font-size="5.6" fill="#508a60" text-anchor="middle">A</text>
<line x1="47.5" y1="197.50" x2="47.5" y2="203.8" stroke="#6e8490" stroke-width="1.2"/>
<text x="47.30" y="209.60000000000002" font-size="5.6" fill="#404040" text-anchor="middle">G</text>
<line x1="52.5" y1="197.50" x2="52.5" y2="203.8" stroke="#6e8490" stroke-width="1.2"/>
<text x="52.60" y="209.60000000000002" font-size="5.6" fill="#404040" text-anchor="middle">G</text>
<line x1="58.5" y1="197.50" x2="58.5" y2="203.8" stroke="#6e8490" stroke-width="1.2"/>
<text x="58.30" y="209.60000000000002" font-size="5.6" fill="#508a60" text-anchor="middle">A</text>
<line x1="63.5" y1="197.50" x2="63.5" y2="203.8" stroke="#6e8490" stroke-width="1.2"/>
<text x="62.90" y="209.60000000000002" font-size="5.6" fill="#5050a8" text-anchor="middle">C</text>
<line x1="69.5" y1="202.23" x2="69.5" y2="203.8" stroke="#6e8490" stroke-width="1.2"/>
<text x="69.10" y="209.60000000000002" font-size="5.6" fill="#5050a8" text-anchor="middle">C</text>
<line x1="73.5" y1="202.23" x2="73.5" y2="203.8" stroke="#6e8490" stroke-width="1.2"/>
<text x="73.00" y="209.60000000000002" font-size="5.6" fill="#508a60" text-anchor="middle">A</text>
<line x1="79.5" y1="197.50" x2="79.5" y2="203.8" stroke="#6e8490" stroke-width="1.2"/>
<text x="79.40" y="209.60000000000002" font-size="5.6" fill="#404040" text-anchor="middle">G</text>
<line x1="84.5" y1="201.91" x2="84.5" y2="203.8" stroke="#6e8490" stroke-width="1.2"/>
<text x="84.40" y="209.60000000000002" font-size="5.6" fill="#5050a8" text-anchor="middle">C</text>
<line x1="89.5" y1="201.91" x2="89.5" y2="203.8" stroke="#6e8490" stroke-width="1.2"/>
<text x="89.70" y="209.60000000000002" font-size="5.6" fill="#508a60" text-anchor="middle">A</text>
<line x1="95.5" y1="201.91" x2="95.5" y2="203.8" stroke="#6e8490" stroke-width="1.2"/>
<text x="94.90" y="209.60000000000002" font-size="5.6" fill="#508a60" text-anchor="middle">A</text>
<line x1="100.5" y1="201.91" x2="100.5" y2="203.8" stroke="#6e8490" stroke-width="1.2"/>
<text x="100.20" y="209.60000000000002" font-size="5.6" fill="#a05050" text-anchor="middle">T</text>
<line x1="105.5" y1="201.28" x2="105.5" y2="203.8" stroke="#6e8490" stroke-width="1.2"/>
<text x="105.50" y="209.60000000000002" font-size="5.6" fill="#508a60" text-anchor="middle">A</text>
<line x1="110.5" y1="201.91" x2="110.5" y2="203.8" stroke="#6e8490" stroke-width="1.2"/>
<text x="110.50" y="209.60000000000002" font-size="5.6" fill="#404040" text-anchor="middle">G</text>
<line x1="116.5" y1="197.50" x2="116.5" y2="203.8" stroke="#6e8490" stroke-width="1.2"/>
<text x="116.20" y="209.60000000000002" font-size="5.6" fill="#5050a8" text-anchor="middle">C</text>
<line x1="121.5" y1="197.50" x2="121.5" y2="203.8" stroke="#6e8490" stroke-width="1.2"/>
<text x="120.80" y="209.60000000000002" font-size="5.6" fill="#508a60" text-anchor="middle">A</text>
<line x1="126.5" y1="197.50" x2="126.5" y2="203.8" stroke="#6e8490" stroke-width="1.2"/>
<text x="126.50" y="209.60000000000002" font-size="5.6" fill="#404040" text-anchor="middle">G</text>
<line x1="132.5" y1="197.50" x2="132.5" y2="203.8" stroke="#6e8490" stroke-width="1.2"/>
<text x="132.20" y="209.60000000000002" font-size="5.6" fill="#5050a8" text-anchor="middle">C</text>
<line x1="137.5" y1="197.50" x2="137.5" y2="203.8" stroke="#6e8490" stroke-width="1.2"/>
<text x="137.50" y="209.60000000000002" font-size="5.6" fill="#508a60" text-anchor="middle">A</text>
<line x1="143.5" y1="197.50" x2="143.5" y2="203.8" stroke="#6e8490" stroke-width="1.2"/>
<text x="143.20" y="209.60000000000002" font-size="5.6" fill="#a05050" text-anchor="middle">T</text>
<line x1="148.5" y1="197.50" x2="148.5" y2="203.8" stroke="#6e8490" stroke-width="1.2"/>
<text x="148.50" y="209.60000000000002" font-size="5.6" fill="#5050a8" text-anchor="middle">C</text>
<line x1="153.5" y1="197.50" x2="153.5" y2="203.8" stroke="#6e8490" stroke-width="1.2"/>
<text x="153.50" y="209.60000000000002" font-size="5.6" fill="#508a60" text-anchor="middle">A</text>
<line x1="159.5" y1="197.50" x2="159.5" y2="203.8" stroke="#6e8490" stroke-width="1.2"/>
<text x="159.20" y="209.60000000000002" font-size="5.6" fill="#404040" text-anchor="middle">G</text>
<text x="85.5" y="215.3" font-size="4.6" font-weight="bold" fill="#333" text-anchor="middle">80</text>
<text x="138.1" y="215.3" font-size="4.6" font-weight="bold" fill="#333" text-anchor="middle">90</text>
<polyline points="41.5,335.2 41.75,334.1 42,332.4 42.25,330 42.5,326.7 42.75,322.7 43,318.1 43.25,313.3 43.5,308.8 43.75,305.2 44,302.9 44.25,302.3 44.5,303.6 44.75,306.5 45,310.6 45.25,315.3 45.5,320 45.75,324.4 46,328.1 46.25,331 46.5,333.1 46.75,334.6 47,335.5 47.25,336.1 47.5,336.4 47.75,336.5 48,336.6 48.25,336.7 55.5,336.7 55.75,336.6 56,336.6 56.25,336.4 56.5,336.1 56.75,335.6 57,334.7 57.25,333.3 57.5,331.1 57.75,327.9 58,323.7 58.25,318.5 58.5,312.6 58.75,306.3 59,300.5 59.25,295.7 59.5,292.8 59.75,292 60,293.7 60.25,297.4 60.5,302.7 60.75,308.8 61,315 61.25,320.7 61.5,325.6 61.75,329.3 62,332.1 62.25,333.9 62.5,335.1 62.75,335.9 63,336.3 63.25,336.5 63.5,336.6 63.75,336.7 70.5,336.7 70.75,336.6 71,336.5 71.25,336.3 71.5,336 71.75,335.5 72,334.6 72.25,333.2 72.5,331.3 72.75,328.9 73,325.8 73.25,322.4 73.5,318.9 73.75,315.7 74,313.2 74.25,311.7 74.5,311.6 74.75,312.8 75,315.1 75.25,318.2 75.5,321.7 75.75,325.2 76,328.3 76.25,330.9 76.5,332.9 76.75,334.3 77,335.3 77.25,335.9 77.5,336.3 77.75,336.5 78,336.6 78.25,336.7 87.25,336.7 87.5,336.6 87.75,336.6 88,336.5 88.25,336.2 88.5,335.9 88.75,335.3 89,334.5 89.25,333.3 89.5,331.7 89.75,329.9 90,327.8 90.25,325.8 90.5,323.9 90.75,322.6 91,321.9 91.25,321.9 91.5,322.8 91.75,324.3 92,326.2 92.25,328.2 92.5,330.2 92.75,332 93,333.4 93.25,334.4 93.5,334.9 93.75,335 94,334.8 94.25,334 94.5,332.9 94.75,331.3 95,329.5 95.25,327.4 95.5,325.4 95.75,323.6 96,322.4 96.25,321.8 96.5,322.1 96.75,323 97,324.6 97.25,326.6 97.5,328.7 97.75,330.6 98,332.4 98.25,333.8 98.5,334.8 98.75,335.6 99,336 99.25,336.3 99.5,336.5 99.75,336.6 100,336.7 103,336.7 103.25,336.6 103.5,336.6 103.75,336.5 104,336.3 104.25,335.9 104.5,335.3 104.75,334.5 105,333.3 105.25,331.7 105.5,329.8 105.75,327.6 106,325.3 106.25,323.3 106.5,321.7 106.75,320.8 107,320.7 107.25,321.4 107.5,322.9 107.75,324.9 108,327.1 108.25,329.3 108.5,331.3 108.75,333 109,334.3 109.25,335.2 109.5,335.8 109.75,336.2 110,336.4 110.25,336.6 110.5,336.6 110.75,336.7 118.5,336.7 118.75,336.6 119,336.5 119.25,336.3 119.5,336 119.75,335.5 120,334.7 120.25,333.5 120.5,332 120.75,330.2 121,328 121.25,325.8 121.5,323.7 121.75,321.9 122,320.9 122.25,320.6 122.5,321.2 122.75,322.6 123,324.5 123.25,326.7 123.5,328.9 123.75,331 124,332.7 124.25,334 124.5,335 124.75,335.7 125,336.1 125.25,336.4 125.5,336.5 125.75,336.6 126,336.7 135,336.7 135.25,336.6 135.5,336.6 135.75,336.5 136,336.3 136.25,335.9 136.5,335.3 136.75,334.5 137,333.3 137.25,331.7 137.5,329.8 137.75,327.6 138,325.3 138.25,323.3 138.5,321.7 138.75,320.8 139,320.7 139.25,321.4 139.5,322.9 139.75,324.9 140,327.1 140.25,329.3 140.5,331.3 140.75,333 141,334.3 141.25,335.2 141.5,335.8 141.75,336.2 142,336.4 142.25,336.6 142.5,336.6 142.75,336.7 151,336.7 151.25,336.6 151.5,336.6 151.75,336.5 152,336.3 152.25,335.9 152.5,335.3 152.75,334.5 153,333.3 153.25,331.7 153.5,329.8 153.75,327.6 154,325.3 154.25,323.3 154.5,321.7 154.75,320.8 155,320.7 155.25,321.4 155.5,322.9 155.75,324.9 156,327.1 156.25,329.3 156.5,331.3 156.75,333 157,334.3 157.25,335.2 157.5,335.8 157.75,336.2 158,336.4 158.25,336.6 158.5,336.6 158.75,336.7 163.5,336.7" fill="none" stroke="#4a9a4a" stroke-width="0.95" stroke-opacity="0.9"/>
<polyline points="41.5,336.7 60.25,336.7 60.5,336.6 60.75,336.6 61,336.4 61.25,336.1 61.5,335.6 61.75,334.8 62,333.5 62.25,331.6 62.5,329 62.75,325.7 63,321.7 63.25,317.4 63.5,313.2 63.75,309.6 64,307 64.25,305.8 64.5,306.3 64.75,308.4 65,311.7 65.25,315.7 65.5,320 65.75,324.2 66,327.7 66.25,330.6 66.5,332.8 66.75,334.3 67,335.2 67.25,335.6 67.5,335.6 67.75,335.1 68,334.2 68.25,332.6 68.5,330.3 68.75,327.1 69,323.2 69.25,318.5 69.5,313.6 69.75,308.8 70,304.8 70.25,302.1 70.5,301.2 70.75,302.1 71,304.8 71.25,308.8 71.5,313.6 71.75,318.5 72,323.2 72.25,327.1 72.5,330.3 72.75,332.6 73,334.3 73.25,335.3 73.5,336 73.75,336.3 74,336.5 74.25,336.6 74.5,336.7 82,336.7 82.25,336.6 82.5,336.5 82.75,336.3 83,335.9 83.25,335.4 83.5,334.5 83.75,333.1 84,331.3 84.25,329 84.5,326.2 84.75,323.2 85,320.2 85.25,317.6 85.5,315.8 85.75,315 86,315.4 86.25,316.8 86.5,319.1 86.75,322 87,325 87.25,327.9 87.5,330.4 87.75,332.4 88,334 88.25,335 88.5,335.7 88.75,336.2 89,336.4 89.25,336.6 89.5,336.6 89.75,336.7 97.5,336.7 97.75,336.6 98,336.5 98.25,336.3 98.5,336 98.75,335.3 99,334.4 99.25,332.9 99.5,330.8 99.75,328.1 100,324.8 100.25,321.1 100.5,317.3 100.75,313.8 101,311 101.25,309.5 101.5,309.3 101.75,310.6 102,313.1 102.25,316.5 102.5,320.3 102.75,324.1 103,327.5 103.25,330.4 103.5,332.5 103.75,334.1 104,335.2 104.25,335.9 104.5,336.3 104.75,336.5 105,336.6 105.25,336.7 113.75,336.7 114,336.6 114.25,336.5 114.5,336.3 114.75,336 115,335.4 115.25,334.6 115.5,333.2 115.75,331.4 116,329.1 116.25,326.2 116.5,323.1 116.75,319.9 117,317.1 117.25,315 117.5,313.9 117.75,314 118,315.3 118.25,317.6 118.5,320.5 118.75,323.7 119,326.8 119.25,329.6 119.5,331.8 119.75,333.5 120,334.8 120.25,335.6 120.5,336.1 120.75,336.4 121,336.5 121.25,336.6 121.5,336.7 129.75,336.7 130,336.6 130.25,336.5 130.5,336.3 130.75,335.9 131,335.3 131.25,334.3 131.5,332.9 131.75,330.9 132,328.3 132.25,325.2 132.5,321.7 132.75,318.2 133,315.1 133.25,312.8 133.5,311.6 133.75,311.7 134,313.2 134.25,315.7 134.5,318.9 134.75,322.4 135,325.8 135.25,328.9 135.5,331.3 135.75,333.2 136,334.6 136.25,335.5 136.5,336 136.75,336.3 137,336.5 137.25,336.6 137.5,336.7 146,336.7 146.25,336.6 146.5,336.5 146.75,336.4 147,336.1 147.25,335.6 147.5,334.8 147.75,333.5 148,331.8 148.25,329.6 148.5,326.8 148.75,323.7 149,320.5 149.25,317.6 149.5,315.3 149.75,314 150,313.9 150.25,315 150.5,317.1 150.75,319.9 151,323.1 151.25,326.2 151.5,329.1 151.75,331.4 152,333.2 152.25,334.6 152.5,335.4 152.75,336 153,336.3 153.25,336.5 153.5,336.6 153.75,336.7 163.5,336.7" fill="none" stroke="#4a4ad8" stroke-width="0.95" stroke-opacity="0.9"/>
<polyline points="41.5,336.7 140.75,336.7 141,336.6 141.25,336.5 141.5,336.3 141.75,335.9 142,335.2 142.25,334.1 142.5,332.5 142.75,330.4 143,327.5 143.25,324.1 143.5,320.3 143.75,316.5 144,313.1 144.25,310.6 144.5,309.3 144.75,309.5 145,311 145.25,313.8 145.5,317.3 145.75,321.1 146,324.8 146.25,328.1 146.5,330.8 146.75,332.9 147,334.4 147.25,335.3 147.5,336 147.75,336.3 148,336.5 148.25,336.6 148.5,336.7 163.5,336.7" fill="none" stroke="#e05a5a" stroke-width="0.95" stroke-opacity="0.9"/>
<polyline points="41.5,336.7 44.75,336.7 45,336.6 45.25,336.5 45.5,336.3 45.75,335.8 46,335.1 46.25,334 46.5,332.2 46.75,329.7 47,326.4 47.25,322.3 47.5,317.6 47.75,312.6 48,307.9 48.25,304.2 48.5,301.8 48.75,301.2 49,302.5 49.25,305.5 49.5,309.7 49.75,314.6 50,319.5 50.25,323.9 50.5,327.6 50.75,330.4 51,332.2 51.25,333 51.5,332.8 51.75,331.6 52,329.4 52.25,326.1 52.5,321.8 52.75,316.8 53,311.3 53.25,306.1 53.5,301.8 53.75,298.8 54,297.8 54.25,298.8 54.5,301.8 54.75,306.1 55,311.4 55.25,316.8 55.5,321.9 55.75,326.2 56,329.7 56.25,332.3 56.5,334 56.75,335.2 57,335.9 57.25,336.3 57.5,336.5 57.75,336.6 58,336.7 76.5,336.7 76.75,336.6 77,336.6 77.25,336.4 77.5,336.2 77.75,335.9 78,335.3 78.25,334.4 78.5,333.3 78.75,331.8 79,330.1 79.25,328.2 79.5,326.3 79.75,324.7 80,323.5 80.25,323 80.5,323.2 80.75,324.1 81,325.6 81.25,327.4 81.5,329.3 81.75,331.1 82,332.7 82.25,334 82.5,335 82.75,335.7 83,336.1 83.25,336.4 83.5,336.5 83.75,336.6 84,336.7 108,336.7 108.25,336.6 108.5,336.6 108.75,336.4 109,336.2 109.25,335.8 109.5,335.2 109.75,334.2 110,332.8 110.25,331 110.5,328.8 110.75,326.3 111,323.8 111.25,321.4 111.5,319.6 111.75,318.6 112,318.5 112.25,319.3 112.5,321 112.75,323.3 113,325.8 113.25,328.3 113.5,330.6 113.75,332.5 114,333.9 114.25,335 114.5,335.7 114.75,336.1 115,336.4 115.25,336.6 115.5,336.6 115.75,336.7 124,336.7 124.25,336.6 124.5,336.6 124.75,336.5 125,336.3 125.25,335.9 125.5,335.3 125.75,334.5 126,333.3 126.25,331.7 126.5,329.8 126.75,327.6 127,325.3 127.25,323.3 127.5,321.7 127.75,320.8 128,320.7 128.25,321.4 128.5,322.9 128.75,324.9 129,327.1 129.25,329.3 129.5,331.3 129.75,333 130,334.3 130.25,335.2 130.5,335.8 130.75,336.2 131,336.4 131.25,336.6 131.5,336.6 131.75,336.7 157,336.7 157.25,336.6 157.5,336.5 157.75,336.3 158,336 158.25,335.5 158.5,334.8 158.75,333.8 159,332.5 159.25,330.9 159.5,329.1 159.75,327.4 160,325.8 160.25,324.6 160.5,324.1 160.75,324.1 161,324.8 161.25,326.1 161.5,327.7 161.75,329.5 162,331.2 162.25,332.7 162.5,334 162.75,334.9 163,335.6 163.25,336.1 163.5,336.4" fill="none" stroke="#3a3a3a" stroke-width="0.95" stroke-opacity="0.9"/>
<line x1="41.5" y1="336.9" x2="163.5" y2="336.9" stroke="#404040" stroke-width="0.8"/>
<line x1="41.5" y1="337.9" x2="163.5" y2="337.9" stroke="#e89090" stroke-width="0.6"/>
<line x1="41" y1="269.3" x2="164" y2="269.3" stroke="#d4c8b8" stroke-width="1.1"/>
<line x1="41" y1="278.5" x2="163" y2="278.5" stroke="#b8c8c0" stroke-width="0.4" stroke-dasharray="1,1"/>
<line x1="43.5" y1="271.40" x2="43.5" y2="279.5" stroke="#6e8490" stroke-width="1.2"/>
<text x="42.80" y="284.6" font-size="5.6" fill="#508a60" text-anchor="middle">A</text>
<line x1="47.5" y1="271.40" x2="47.5" y2="279.5" stroke="#6e8490" stroke-width="1.2"/>
<text x="47.30" y="284.6" font-size="5.6" fill="#404040" text-anchor="middle">G</text>
<line x1="52.5" y1="271.40" x2="52.5" y2="279.5" stroke="#6e8490" stroke-width="1.2"/>
<text x="52.60" y="284.6" font-size="5.6" fill="#404040" text-anchor="middle">G</text>
<line x1="58.5" y1="271.40" x2="58.5" y2="279.5" stroke="#6e8490" stroke-width="1.2"/>
<text x="58.30" y="284.6" font-size="5.6" fill="#508a60" text-anchor="middle">A</text>
<line x1="63.5" y1="271.40" x2="63.5" y2="279.5" stroke="#6e8490" stroke-width="1.2"/>
<text x="62.90" y="284.6" font-size="5.6" fill="#5050a8" text-anchor="middle">C</text>
<line x1="69.5" y1="271.40" x2="69.5" y2="279.5" stroke="#6e8490" stroke-width="1.2"/>
<text x="69.10" y="284.6" font-size="5.6" fill="#5050a8" text-anchor="middle">C</text>
<line x1="73.5" y1="277.88" x2="73.5" y2="279.5" stroke="#6e8490" stroke-width="1.2"/>
<text x="73.00" y="284.6" font-size="5.6" fill="#508a60" text-anchor="middle">A</text>
<line x1="79.5" y1="277.48" x2="79.5" y2="279.5" stroke="#6e8490" stroke-width="1.2"/>
<text x="78.90" y="284.6" font-size="5.6" fill="#404040" text-anchor="middle">G</text>
<line x1="84.5" y1="271.40" x2="84.5" y2="279.5" stroke="#6e8490" stroke-width="1.2"/>
<text x="84.40" y="284.6" font-size="5.6" fill="#5050a8" text-anchor="middle">C</text>
<line x1="89.5" y1="271.40" x2="89.5" y2="279.5" stroke="#6e8490" stroke-width="1.2"/>
<text x="89.70" y="284.6" font-size="5.6" fill="#508a60" text-anchor="middle">A</text>
<line x1="95.5" y1="271.40" x2="95.5" y2="279.5" stroke="#6e8490" stroke-width="1.2"/>
<text x="94.90" y="284.6" font-size="5.6" fill="#508a60" text-anchor="middle">A</text>
<line x1="100.5" y1="271.40" x2="100.5" y2="279.5" stroke="#6e8490" stroke-width="1.2"/>
<text x="100.00" y="284.6" font-size="5.6" fill="#5050a8" text-anchor="middle">C</text>
<line x1="105.5" y1="271.40" x2="105.5" y2="279.5" stroke="#6e8490" stroke-width="1.2"/>
<text x="105.50" y="284.6" font-size="5.6" fill="#508a60" text-anchor="middle">A</text>
<line x1="110.5" y1="271.40" x2="110.5" y2="279.5" stroke="#6e8490" stroke-width="1.2"/>
<text x="110.50" y="284.6" font-size="5.6" fill="#404040" text-anchor="middle">G</text>
<line x1="116.5" y1="271.40" x2="116.5" y2="279.5" stroke="#6e8490" stroke-width="1.2"/>
<text x="116.20" y="284.6" font-size="5.6" fill="#5050a8" text-anchor="middle">C</text>
<line x1="121.5" y1="271.40" x2="121.5" y2="279.5" stroke="#6e8490" stroke-width="1.2"/>
<text x="120.80" y="284.6" font-size="5.6" fill="#508a60" text-anchor="middle">A</text>
<line x1="126.5" y1="271.40" x2="126.5" y2="279.5" stroke="#6e8490" stroke-width="1.2"/>
<text x="126.50" y="284.6" font-size="5.6" fill="#404040" text-anchor="middle">G</text>
<line x1="132.5" y1="271.40" x2="132.5" y2="279.5" stroke="#6e8490" stroke-width="1.2"/>
<text x="132.20" y="284.6" font-size="5.6" fill="#5050a8" text-anchor="middle">C</text>
<line x1="137.5" y1="271.40" x2="137.5" y2="279.5" stroke="#6e8490" stroke-width="1.2"/>
<text x="137.50" y="284.6" font-size="5.6" fill="#508a60" text-anchor="middle">A</text>
<line x1="143.5" y1="271.40" x2="143.5" y2="279.5" stroke="#6e8490" stroke-width="1.2"/>
<text x="143.20" y="284.6" font-size="5.6" fill="#a05050" text-anchor="middle">T</text>
<line x1="148.5" y1="271.40" x2="148.5" y2="279.5" stroke="#6e8490" stroke-width="1.2"/>
<text x="148.50" y="284.6" font-size="5.6" fill="#5050a8" text-anchor="middle">C</text>
<line x1="153.5" y1="271.40" x2="153.5" y2="279.5" stroke="#6e8490" stroke-width="1.2"/>
<text x="153.50" y="284.6" font-size="5.6" fill="#508a60" text-anchor="middle">A</text>
<line x1="159.5" y1="271.40" x2="159.5" y2="279.5" stroke="#6e8490" stroke-width="1.2"/>
<text x="159.20" y="284.6" font-size="5.6" fill="#404040" text-anchor="middle">G</text>
<text x="85.5" y="289.0" font-size="4.6" font-weight="bold" fill="#333" text-anchor="middle">80</text>
<text x="138.1" y="289.0" font-size="4.6" font-weight="bold" fill="#333" text-anchor="middle">90</text>
<ellipse cx="101.6" cy="205" rx="3.9" ry="12" fill="none" stroke="#e07070" stroke-width="0.8"/>
<ellipse cx="101.4" cy="278.3" rx="4" ry="11.4" fill="none" stroke="#e07070" stroke-width="0.8"/>
<text x="13.4" y="31.5" font-size="8.7" font-weight="bold" fill="#111" text-anchor="start" stroke="#111" stroke-width="0.25">DIAG</text>
<text x="13.6" y="104.7" font-size="8.7" font-weight="bold" fill="#111" text-anchor="start" stroke="#111" stroke-width="0.25">REM</text>
<text x="13.9" y="206.8" font-size="8.7" font-weight="bold" fill="#111" text-anchor="start" stroke="#111" stroke-width="0.25">DIAG</text>
<text x="14.3" y="279.5" font-size="8.7" font-weight="bold" fill="#111" text-anchor="start" stroke="#111" stroke-width="0.25">REM</text>
<line x1="214.3" y1="16.0" x2="214.3" y2="78.0" stroke="#f0c8ce" stroke-width="0.55"/>
<line x1="222.5" y1="16.0" x2="222.5" y2="78.0" stroke="#f0c8ce" stroke-width="0.55"/>
<line x1="227.0" y1="16.0" x2="227.0" y2="78.0" stroke="#f0c8ce" stroke-width="0.55"/>
<line x1="246.5" y1="16.0" x2="246.5" y2="78.0" stroke="#f0c8ce" stroke-width="0.55"/>
<line x1="250.5" y1="16.0" x2="250.5" y2="78.0" stroke="#f0c8ce" stroke-width="0.55"/>
<line x1="287.0" y1="16.0" x2="287.0" y2="78.0" stroke="#f0c8ce" stroke-width="0.55"/>
<line x1="297.7" y1="16.0" x2="297.7" y2="78.0" stroke="#f0c8ce" stroke-width="0.55"/>
<line x1="334.5" y1="16.0" x2="334.5" y2="78.0" stroke="#f0c8ce" stroke-width="0.55"/>
<line x1="351.2" y1="16.0" x2="351.2" y2="78.0" stroke="#f0c8ce" stroke-width="0.55"/>
<line x1="359.0" y1="16.0" x2="359.0" y2="78.0" stroke="#f0c8ce" stroke-width="0.55"/>
<line x1="366.5" y1="16.0" x2="366.5" y2="78.0" stroke="#f0c8ce" stroke-width="0.55"/>
<line x1="392.7" y1="16.0" x2="392.7" y2="78.0" stroke="#f0c8ce" stroke-width="0.55"/>
<line x1="414.2" y1="16.0" x2="414.2" y2="78.0" stroke="#f0c8ce" stroke-width="0.55"/>
<line x1="425.5" y1="16.0" x2="425.5" y2="78.0" stroke="#f0c8ce" stroke-width="0.55"/>
<line x1="429.6" y1="16.0" x2="429.6" y2="78.0" stroke="#f0c8ce" stroke-width="0.55"/>
<line x1="440.5" y1="16.0" x2="440.5" y2="78.0" stroke="#f0c8ce" stroke-width="0.55"/>
<line x1="454.5" y1="16.0" x2="454.5" y2="78.0" stroke="#f0c8ce" stroke-width="0.55"/>
<line x1="468.5" y1="16.0" x2="468.5" y2="78.0" stroke="#f0c8ce" stroke-width="0.55"/>
<line x1="478.5" y1="16.0" x2="478.5" y2="78.0" stroke="#f0c8ce" stroke-width="0.55"/>
<line x1="494.8" y1="16.0" x2="494.8" y2="78.0" stroke="#f0c8ce" stroke-width="0.55"/>
<line x1="498.3" y1="16.0" x2="498.3" y2="78.0" stroke="#f0c8ce" stroke-width="0.55"/>
<line x1="509.5" y1="16.0" x2="509.5" y2="78.0" stroke="#f0c8ce" stroke-width="0.55"/>
<line x1="513.0" y1="16.0" x2="513.0" y2="78.0" stroke="#f0c8ce" stroke-width="0.55"/>
<line x1="214.3" y1="78.0" x2="513" y2="78.0" stroke="#dcd4d4" stroke-width="0.8"/>
<text x="211.8" y="32.8" font-size="4.8" font-weight="bold" fill="#333" text-anchor="end">2</text>
<line x1="212.4" y1="31.1" x2="213.60000000000002" y2="31.1" stroke="#555" stroke-width="0.5"/>
<text x="211.8" y="41.7" font-size="4.8" font-weight="bold" fill="#333" text-anchor="end">1</text>
<line x1="212.4" y1="40.0" x2="213.60000000000002" y2="40.0" stroke="#555" stroke-width="0.5"/>
<text x="211.8" y="50.6" font-size="4.8" font-weight="bold" fill="#333" text-anchor="end">0</text>
<line x1="212.4" y1="48.9" x2="213.60000000000002" y2="48.9" stroke="#555" stroke-width="0.5"/>
<text x="211.8" y="59.5" font-size="4.8" font-weight="bold" fill="#333" text-anchor="end">-1</text>
<line x1="212.4" y1="57.8" x2="213.60000000000002" y2="57.8" stroke="#555" stroke-width="0.5"/>
<text x="211.8" y="68.4" font-size="4.8" font-weight="bold" fill="#333" text-anchor="end">-2</text>
<line x1="212.4" y1="66.7" x2="213.60000000000002" y2="66.7" stroke="#555" stroke-width="0.5"/>
<path d="M214.3 41.2h0m0.1 5.3h0m0.1-13.8h0m0 6.4h0m0 7.2h0m0.1 5.9h0m0.3-11.3h0m0.4 0.8h0m0.1-9.5h0m0 8.7h0m0 5.1h0m0.1-3h0m0-7.5h0m0 9.3h0m0 15.7h0m0-21.8h0m0.1 2.8h0m0-2.6h0m0 18h0m0.2-14.2h0m0.1 0.3h0m0-2.7h0m0.1 2.4h0m0.1-2.1h0m0.1 4.7h0m0.1-7h0m0 11.4h0m0-2.3h0m0.2-7.7h0m0 3.1h0m0.1 1h0m0.1-0.7h0m0.1-0.3h0m0-1h0m0 2h0m0.2-0.7h0m0.1-1.4h0m0 2.9h0m0.1 0.6h0m0.2 2.4h0m0-7.8h0m0.1 11.8h0m0-4h0m0-7.6h0m0.1 13.2h0m0.2 2.8h0m0-17.8h0m0.2 16.1h0m0-17.9h0m0.1 4.4h0m0.1 4.1h0m0 17.6h0m0.1-28h0m0.1 13.9h0m0.2 4.2h0m0-8h0m0 5.5h0m0-6.2h0m0.4 20.9h0m0.2-16.8h0m0.1-1.9h0m0 1.2h0m0.1-2.6h0m0 1.1h0m0-5.6h0m0 1.8h0m0.3 4.7h0m0.1 0.2h0m0-10.8h0m0.1 4.8h0m0-1.8h0m0.1 11h0m0-8.1h0m0.2 3.5h0m0 3.8h0m0.1-5.3h0m0.1-0.6h0m0.2 4.4h0m0.2 4.7h0m0.1-9h0m0-6.5h0m0.1 17.9h0m0-13.2h0m0.1-1.1h0m0.4 9.4h0m0-3.8h0m0.2 3.3h0m0-3.8h0m0.2 2.7h0m0.1-2.9h0m0-7h0m0 6.9h0m0.1 1.2h0m0.2 4.5h0m0-4.9h0m0.2-9.4h0m0.1 8.2h0m0.1 3.3h0m0.3-12.2h0m0.2 9.1h0m0.1-10.5h0m0.1 11.7h0m0-1.4h0m0.1 6.8h0m0-14.7h0m0.1 5.5h0m0 13.1h0m0.5-9.5h0m0-3.2h0m0.1-5.4h0m0.2 6h0m0.1-1.4h0m0.2-7.2h0m0-6.5h0m0.2 18.8h0m0 2.5h0m0-16.4h0m0.2 12.7h0m0.1 2.1h0m0.1-2h0m0.1 22.2h0m0-22.3h0m0-13.5h0m0 17.4h0m0-3.4h0m0-3.8h0m0.2-4.1h0m0.2 2.8h0m0.4-8.5h0m0 10h0m0-1.4h0m0-0.4h0m0.2 14.5h0m0.1-13.3h0m0 6.1h0m0-6h0m0-3.2h0m0.1 14.6h0m0.2-14.3h0m0 12.2h0m0.1 8.6h0m0.2-3.9h0m0-12.4h0m0 3.6h0m0.1 3.7h0m0.1-12.2h0m0.1 8.2h0m0.1 2h0m0-1.2h0m0.2-0.2h0m0-2.1h0m0.2-2.1h0m0.1 3h0m0.3-10.4h0m0 8.9h0m0.3-1.8h0m0-2.2h0m0.1-1.6h0m0.1 9h0m0.2-8.5h0m0.1-3h0m0.1 9.7h0m0.2-3.5h0m0 6h0m0-5.7h0m0.2 1.6h0m0 2.4h0m0 8.2h0m0.1-5.8h0m0 5.9h0m0.3-7.6h0m0.1-3.9h0m0.1 22.1h0m0-14.9h0m0 0.7h0m0.1-1.4h0m0.1-5.1h0m0.2-0.5h0m0-2.1h0m0.1-0.2h0m0-2.2h0m0.3 10.8h0m0 4.7h0m0-7.4h0m0.1-0.9h0m0.2-7.1h0m0.1 9.1h0m0-15.6h0m0 9.4h0m0.1 2.2h0m0.2-2h0m0.1 13.8h0m0.1-5.7h0m0.1-5.3h0m0-4.1h0m0.1 5.5h0m0 2.9h0m0.3 2.4h0m0.1-14.7h0m0 5.8h0m0 11.1h0m0-0.6h0m0-7.3h0m0.1-5.2h0m0.2 0h0m0 6.8h0m0.4 1.4h0m0.2-2.2h0m0.1-9.3h0m0 1.2h0m0 5.8h0m0.2 4.5h0m0 0.8h0m0-0.6h0m0-3.4h0m0.1 5.1h0m0-3.5h0m0.2-1.1h0m0.2-0.5h0m0-4.5h0m0.1 12.7h0m0.2-4.9h0m0-12.4h0m0.1-5.1h0m0.2 12.8h0m0-7.4h0m0-0.1h0m0.1 10.1h0m0-8.7h0m0.1-2.4h0m0.1 5.8h0m0-4.9h0m0.1 3.8h0m0-9.7h0m0.1 10.5h0m0 10.3h0m0.3-11.7h0m0 5h0m0.2-6.4h0m0 6.5h0m0.1 19.5h0m0-22.8h0m0.1-4.6h0m0.1 8.4h0m0.2-4.8h0m0.1 9.1h0m0-20.6h0m0.4 5h0m0.4 10.4h0m0.1-9.2h0m0.3 10.5h0m0 4.3h0m0.1-8.4h0m0 2.4h0m0.1-11.9h0m0.3 19.2h0m0 0.9h0m0-0.8h0m0.1-13.8h0m0-3.1h0m0 22.4h0m0-7.4h0m0.1-7.8h0m0-3.7h0m0 16.3h0m0-9.4h0m0.1 10.1h0m0.1-4.8h0m0-16.2h0m0.1 21.3h0m0-13.3h0m0 11.1h0m0.1-4.7h0m0 8.8h0m0.1-8.5h0m0-10.1h0m0.1 11h0m0-4.1h0m0.1 3.1h0m0 5.9h0m0-10.8h0m0 3.2h0m0.1 3.1h0m0-7h0m0.1 14.5h0m0 4.8h0m0.1-8.6h0m0.1-8.3h0m0-1.7h0m0 10.3h0m0.1 13.4h0m0.1-31.6h0m0 5.4h0m0 4.7h0m0.1 1.1h0m0 6.3h0m0.1-15.4h0m0.1 16.5h0m0.1-6.2h0m0 23.4h0m0.1-25.3h0m0.1 2.3h0m0 2.8h0m0 6.7h0m0.1-6.9h0m0.1 8.7h0m0.3-3.4h0m0.1 0.9h0m0-5.8h0m0.1 0.3h0m0-8.3h0m0.1-1h0m0.1 12.2h0m0.1-15h0m0.1 3.1h0m0 0.5h0m0.2 8.9h0m0.1 16.3h0m0-18.1h0m0.1 5.7h0m0.1 0.9h0m0.1 3.2h0m0-14.2h0m0 2h0m0 4.6h0m0.1 1.9h0m0.2 0.1h0m0.1-4.6h0m0.1-9.8h0m0.1 14.4h0m0-8.4h0m0.1 11.6h0m0.1-17.4h0m0.2 11.3h0m0.1 2.8h0m0.1-1.1h0m0.4-8h0m0.1-3.9h0m0.1 9.1h0m0.1 3.4h0m0 12h0m0-23.1h0m0.2 0.4h0m0.2 17.9h0m0.3-2.6h0m0.1-14.1h0m0.4 8.7h0m0.2-34.9h0m0.1 25.4h0m0 23.6h0m0.1-24h0m0 3.1h0m0 5.9h0m0.2-1.7h0m0.3 20.2h0m0-17.8h0m0.1 1.3h0m0 3.2h0m0.2-3.4h0m0.1-1.5h0m0 9h0m0.2-11.5h0m0-4.9h0m0.2 1.1h0m0.1-0.8h0m0 7.9h0m0.2-24.6h0m0 16.5h0m0-15.1h0m0.3 14.6h0m0.1 3.1h0m0.2 6.6h0m0.1-4.6h0m0.1-9.5h0m0 0.8h0m0 1.5h0m0.1-7.2h0m0.1 11.9h0m0-1.8h0m0.1-0.7h0m0 3.6h0m0.1-14.9h0m0 22.3h0m0.1-15.9h0m0-1.7h0m0 5.7h0m0.1-4.6h0m0.2 1.4h0m0.3-1.5h0m0.1 26.6h0m0-18h0m0.1-1.8h0m0.1 4h0m0-4.5h0m0.3-9.6h0m0 21.5h0m0.2-6.1h0m0-4.6h0m0-0.4h0m0-2.3h0m0.1 0h0m0-0.1h0m0.1 2.3h0m0-0.4h0m0-3.8h0m0.1-2.5h0m0 9.3h0m0.1-4.5h0m0 11h0m0.1 2.5h0m0.1-2.6h0m0-14h0m0 11.2h0m0.2-9.2h0m0.2-6h0m0 0.6h0m0.1 5.4h0m0.1-4.6h0m0-3.3h0m0.1 2h0m0 7h0m0.1 3.3h0m0.2-7.3h0m0.1 7.6h0m0-4.2h0m0 2.4h0m0-4.4h0m0.1 1.8h0m0 3.2h0m0.4-9.1h0m0.2 9.9h0m0.2-4.7h0m0-1.8h0m0.2 3.7h0m0-2.4h0m0.1-1.9h0m0.1-1.1h0m0.1-11.4h0m0.2 15.4h0m0 3h0m0-4.1h0m0.1-6.9h0m0.2 0.9h0m0.2 5.7h0m0.2 7.7h0m0.1-9.2h0m0 1.6h0m0.1 5.1h0m0 1.8h0m0 3.4h0m0.1-5.5h0m0.1 1.7h0m0.1-10.2h0m0 9.7h0m0.2-2.5h0m0 5.8h0m0 4.8h0m0.2-7.3h0m0.1 0.7h0m0-3h0m0.1-3.8h0m0.1-0.1h0m0.1 3.3h0m0.1-1.9h0m0 2.2h0m0.1-6.1h0m0.1 4.8h0m0.1 0.4h0m0.1 5.5h0m0-8.5h0m0.1-4.5h0m0 9.6h0m0-5.5h0m0.1-5.5h0m0 4.3h0m0.2 1.1h0m0.3-4.7h0m0.1 6h0m0.1-0.9h0m0-4.5h0m0.1 7h0m0.1-5.6h0m0.1-3.4h0m0.2 6.7h0m0 0.3h0m0.1 13.7h0m0.1-13.8h0m0-3.4h0m0 14.9h0m0.1-14.7h0m0.1 6.2h0m0-5.1h0m0.1-0.6h0m0.1-6.7h0m0.2 9.2h0m0.1-10.4h0m0 8.2h0m0-6.3h0m0.2 11.3h0m0 1.9h0m0.1-12.1h0m0 8.1h0m0.1-1.8h0m0.3 0.2h0m0 9.4h0m0.1-7.9h0m0 0.9h0m0.3 0.7h0m0.1 0.9h0m0-8.2h0m0.1 8.9h0m0.1 6.5h0m0.1-9.1h0m0-1.1h0m0 3h0m0.1 3.3h0m0-3.4h0m0-5.1h0m0.1 11.7h0m0-1.7h0m0-8.6h0m0.1 4.1h0m0.1 1.8h0m0.1 3.9h0m0 10.3h0m0-16.3h0m0.6-10.9h0m0 7.1h0m0.1 14.4h0m0 3.1h0m0.1-18h0m0 9h0m0.2-14.7h0m0.1 9.6h0m0.1 3.2h0m0.1-8.1h0m0 5.8h0m0.1-7.4h0m0.1 5.5h0m0.1 9.9h0m0.1-8.8h0m0-6.7h0m0 5.9h0m0.1-6.4h0m0.1 6.1h0m0.1 3.7h0m0 5h0m0.2-10.7h0m0.2-0.8h0m0 18.3h0m0.1-9h0m0.2-17.7h0m0.1 7.9h0m0 0.7h0m0.1-15.2h0m0.1 16.7h0m0.2-0.6h0m0 6.8h0m0-12.2h0m0 1.1h0m0.2 5.7h0m0 7.3h0m0-12.7h0m0.2 7.1h0m0.3-15h0m0 15.2h0m0-8.7h0m0.1-1.7h0m0 2h0m0.1 6.9h0m0.1 1.1h0m0.1-12.5h0m0.1 14.2h0m0-2.1h0m0.2-5.5h0m0.4 0.7h0m0.2 1.2h0m0.2 3.7h0m0-0.8h0m0 2.7h0m0-0.4h0m0.2 0.5h0m0-2.9h0m0.1-0.9h0m0-5.6h0m0.1 2h0m0-1.4h0m0.2-6h0m0.1 15.1h0m0 0.5h0m0.1-7.4h0m0 1.5h0m0 1.3h0m0.2-1.7h0m0-2.4h0m0.3 0.7h0m0 5.1h0m0-1h0m0.1-4.3h0m0 2.6h0m0.1 20.5h0m0-23.1h0m0.1 6h0m0.1 6.5h0m0.1-10h0m0 2.3h0m0.1-0.9h0m0 4.7h0m0-9h0m0.1 0.4h0m0.1 11.3h0m0-9.3h0m0 1.6h0m0.2-1.8h0m0 9.2h0m0.1-13h0m0 8.7h0m0 0h0m0.3 1.4h0m0.3-8.5h0m0.2 2.5h0m0.1 3.7h0m0-7.8h0m0.3 1.6h0m0.1 10.1h0m0.1-4.7h0m0.1-3.3h0m0.1 0.2h0m0 7.1h0m0.1-14.4h0m0 9.4h0m0.1 8.2h0m0-3.7h0m0.2 0.2h0m0.3-4.8h0m0.1 16.8h0m0.1-19.9h0m0.3 2.2h0m0-2.9h0m0 4.4h0m0.3-3.4h0m0 6.1h0m0-5.6h0m0.3-1h0m0 7.5h0m0.2-6.6h0m0.2 8.7h0m0-16.3h0m0 2.8h0m0.1 1.4h0m0 3.3h0m0.1 3h0m0.1 6h0m0.2 7.1h0m0.1-13.4h0m0.1-0.7h0m0.1 9.1h0m0.1-11.2h0m0.3 4.8h0m0.1-1.1h0m0.2-0.2h0m0.2-3.9h0m0.2 3.1h0m0.1-7.2h0m0.2 12h0m0-6.6h0m0.1 15.2h0m0-4.2h0m0.2-6.5h0m0-8.2h0m0.1-3.6h0m0.2 6.3h0m0 8.4h0m0-5h0m0.1-1.1h0m0.1-6.9h0m0 11.3h0m0 4.5h0m0-25.3h0m0.3 5.8h0m0.1 12.3h0m0-0.5h0m0-3.7h0m0.2 3.9h0m0-4.2h0m0 8.7h0m0.2-10h0m0.1 6.3h0m0.2-3.1h0m0-6.4h0m0-2h0m0.1 26h0m0-14.2h0m0.1-0.8h0m0.1 7.1h0m0.1-12.4h0m0 13h0m0-15.9h0m0 7h0m0.1 1.8h0m0-0.7h0m0.1 3h0m0.1-7h0m0 4.3h0m0 5.1h0m0.1-5.5h0m0 0h0m0.1 6.8h0m0.2-14.2h0m0.1 3h0m0.3 0.6h0m0 2.2h0m0 2.5h0m0.1 0.8h0m0 9h0m0-10.4h0m0-0.7h0m0.1 5.8h0m0.1-9.8h0m0 13h0m0-10.4h0m0.2 6.1h0m0.2-3.3h0m0.1-7.2h0m0.2-1.4h0m0.3 12h0m0.1-0.1h0m0-13.6h0m0.2 5.4h0m0.2 2.6h0m0.4-2.2h0m0.1 6.5h0m0.1-4h0m0 2.7h0m0-3.1h0m0.1-2.2h0m0 1h0m0.1 8h0m0.1 0.9h0m0-4.8h0m0.3-8.8h0m0-0.4h0m0.2 10.5h0m0 0.8h0m0.1-4h0m0 4.3h0m0.2-14h0m0.1 13.2h0m0.1-9.2h0m0 5.4h0m0.1-10.2h0m0.1 8h0m0.1-0.3h0m0 8.2h0m0.1 0.8h0m0-4.7h0m0.2 2.3h0m0-7.9h0m0 6.4h0m0.2 7.3h0m0.1 1.7h0m0-18.8h0m0.2 10.1h0m0-3.7h0m0.1-3.5h0m0-4.4h0m0.2 1.2h0m0 7.4h0m0.1-14.2h0m0.1 17.9h0m0-4.3h0m0.3-3.6h0m0.3-2.3h0m0.1 3.1h0m0-1.1h0m0 10h0m0-13.4h0m0.1-1h0m0.1 0.4h0m0.2 7h0m0.1-3.3h0m0-1.8h0m0.2 11h0m0.3-9.9h0m0.1-16.1h0m0 23.5h0m0.2 10.4h0m0.1-5.2h0m0-1.6h0m0-6.3h0m0 8.3h0m0.1-2.5h0m0.1-12.1h0m0.2 8.2h0m0 4.9h0m0.1-3.2h0m0.1-4.6h0m0.1-10.1h0m0 8.7h0m0.1 8.6h0m0.1-6.5h0m0.1-2.4h0m0 2.9h0m0-9.8h0m0 11.6h0m0.3-0.8h0m0.1 9.1h0m0.1-8.1h0m0-5h0m0.4-3.2h0m0 5.2h0m0.1-3.4h0m0.1-0.3h0m0.4 2.6h0m0-9.7h0m0-0.7h0m0.3 16.8h0m0-4.5h0m0.1 4.3h0m0-0.1h0m0.2-2.1h0m0.2 8.9h0m0 4.1h0m0-10.2h0m0.1-1.2h0m0.1-3.4h0m0 7h0m0.1 20.7h0m0.1-28.8h0m0.1 7h0m0.2 2.3h0m0.3-10.8h0m0 9.6h0m0.1-13.8h0m0.1 6.4h0m0.1 5.8h0m0-5.4h0m0 2.2h0m0-3h0m0 8.1h0m0.1-1.1h0m0.1-7h0m0.1 3h0m0.2 2.9h0m0.1-1.4h0m0.1-3.5h0m0.2 3.2h0m0.1 3.3h0m0 6.4h0m0.1-18h0m0.2 32.8h0m0-29.8h0m0.2 5.3h0m0-3.6h0m0.1 14.2h0m0-22.6h0m0.2 15h0m0-8.7h0m0.1 1.5h0m0.1 13.6h0m0.1-16.8h0m0.2-2.6h0m0.3 14h0m0 1.6h0m0-16.4h0m0.2 2.8h0m0.2 1.7h0m0.1 1.7h0m0-0.3h0m0.1 6.7h0m0-10.2h0m0.1 2.4h0m0-13.1h0m0 13.1h0m0.1-7.1h0m0 7.6h0m0 3.1h0m0.1-16.1h0m0.1 12.2h0m0.1 5.9h0m0.1-3.7h0m0-11.6h0m0 20.6h0m0-8.7h0m0.1 4h0m0.1-7.3h0m0.2 1h0m0 11h0m0.1-6.9h0m0.1 11.2h0m0-10.4h0m0.1-10.1h0m0.4 10.2h0m0 14h0m0.1-17.9h0m0 9.6h0m0-10.8h0m0.3 7.1h0m0.3-9.4h0m0 6.4h0m0 18.9h0m0-10.8h0m0-7.7h0m0.1 2.2h0m0-2.6h0m0.2 1.6h0m0-14.3h0m0.3 8.8h0m0-1.1h0m0 11h0m0.1-5.6h0m0.2-3.6h0m0-3.9h0m0 1h0m0.1 11.6h0m0.2-8h0m0.1 9.1h0m0.1-32.6h0m0 21.3h0m0-2.9h0m0.2 7h0m0 0.1h0m0.1-1.2h0m0-6.6h0m0.2 12.1h0m0.1-5h0m0.1 1.8h0m0.2 8.6h0m0-10.3h0m0.1-13.8h0m0.1 26h0m0-12.3h0m0.1 0.2h0m0.2 1.8h0m0-19.1h0m0 18.8h0m0.2-3.6h0m0.1-3.2h0m0.2-0.1h0m0 1.2h0m0.1-8.2h0m0.2 6.5h0m0.1 3.6h0m0-6.2h0m0 2.7h0m0.1 0.8h0m0-4.1h0m0.1-1.6h0m0 9.3h0m0.2 7.4h0m0.1-9.9h0m0.1-3.1h0m0 5.6h0m0-6.4h0m0.1 9h0m0.1-9.6h0m0 1.2h0m0.1 8.2h0m0-10.4h0m0.1 0.2h0m0.1 2.4h0m0.1 2.7h0m0.3-6.7h0m0.1 5.6h0m0 3.1h0m0.2 3.5h0m0.2-7.4h0m0.3-6.1h0m0.1 15.8h0m0.2-5.8h0m0-3.7h0m0 15.2h0m0-7.2h0m0.1 9.7h0m0-11.4h0m0.2 2.6h0m0-0.9h0m0.2-8.2h0m0.1 35.9h0m0.1-33.3h0m0.2 9.3h0m0.2 3.5h0m0.1-4.4h0m0.2 9.4h0m0.2-10.2h0m0 7.4h0m0-5.9h0m0.1-0.2h0m0.2 2h0m0.2-6.8h0m0-2.9h0m0.1 10.9h0m0.2-7.4h0m0.3 8.4h0m0.1-7.1h0m0.1-7h0m0.1 8.7h0m0-2.3h0m0.1-3h0m0.2 9.1h0m0.1-3.7h0m0-0.6h0m0.1-22.9h0m0 11.3h0m0 21.8h0m0.1-2.2h0m0.1-3.4h0m0.2-16.4h0m0 3.3h0m0.1 15.8h0m0.1-9.8h0m0-3.8h0m0.2 4.1h0m0.1-3.6h0m0.1 2.3h0m0.1 15.1h0m0-18.3h0m0 14.4h0m0-9.5h0m0-3h0m0.1 7.1h0m0 1.7h0m0-2.3h0m0.1-11h0m0.1 2.8h0m0 5.1h0m0.1-12.2h0m0 11.2h0m0.1-1.7h0m0-0.2h0m0.2 15.4h0m0.1-10.1h0m0.1-7.1h0m0.1 9.3h0m0.2-8.8h0m0.1 0.8h0m0.1 1.5h0m0.1 5.9h0m0-8.4h0m0.1 3.2h0m0 10.5h0m0-7.1h0m0-0.4h0m0-10.8h0m0.1 5.2h0m0 7h0m0 2.2h0m0.1-3.7h0m0.1-5.2h0m0 5h0m0 15.1h0m0-13.2h0m0.1-4.3h0m0.1-0.4h0m0-1.4h0m0.1 10.6h0m0-9.2h0m0.1 4.7h0m0.1-0.9h0m0.2-9.5h0m0 20h0m0.1-6.4h0m0.1-7.4h0m0.1-4.9h0m0 4.9h0m0.1 2.6h0m0.1-7.4h0m0.2 8.3h0m0.1-2h0m0 2.2h0m0.1-4.4h0m0.2 2.9h0m0.2 5.5h0m0.1-4.5h0m0.2 22.9h0m0-14.9h0m0.1-10.6h0m0.1-6h0m0.2 5.3h0m0.1 9.4h0m0.1-5h0m0-4.4h0m0 5.8h0m0.1-11.6h0m0 2.5h0m0.2-13.7h0m0 8h0m0 11.1h0m0.1-6.9h0m0.2 1h0m0.1-7.8h0m0.1 16.8h0m0-10.6h0m0.1-1.6h0m0.2-0.9h0m0.1-3h0m0.1-0.2h0m0 6.5h0m0-7h0m0 22.4h0m0-8.7h0m0-1.2h0m0.1 3h0m0.3 10.1h0m0-19.6h0m0.1 15.3h0m0.1-11.3h0m0-6.4h0m0-3.5h0m0.1 19.9h0m0.1-8.9h0m0.1-4.5h0m0.1 5.3h0m0-2h0m0 1.5h0m0.1-8.2h0m0 0.6h0m0.2-1.8h0m0.1 15.7h0m0-8.1h0m0 4.4h0m0.1-7.3h0m0.1 6.1h0m0-11.6h0m0 8.4h0m0.5-2.8h0m0-1.4h0m0 0.9h0m0.2 9.9h0m0-8.6h0m0.1-0.5h0m0.2 7.4h0m0.1-7.4h0m0.3 8.4h0m0-11.6h0m0.2 8.9h0m0.2-11.4h0m0.2 1.6h0m0 7.1h0m0 5.1h0m0.1-8h0m0.1 0.4h0m0-2.9h0m0.1 15.5h0m0.2-5.8h0m0.2-0.7h0m0.1-7.4h0m0.2 12.4h0m0-12.4h0m0-0.4h0m0 3.8h0m0-6.9h0m0.1 17.1h0m0-14.9h0m0-0.9h0m0.1 9.2h0m0 7.1h0m0-19.2h0m0.1 5.8h0m0.1 3.6h0m0.1-8.6h0m0.1 0.9h0m0.2 5.9h0m0.1 9.6h0m0-7.7h0m0.1-2.4h0m0.2 11.4h0m0.1-12.1h0m0.1 12.1h0m0-9h0m0.1-17.8h0m0 29h0m0-18.5h0m0.1 8.2h0m0.2 1.7h0m0.3-9.3h0m0 6h0m0.2 4.2h0m0.1 5.4h0m0-16.3h0m0 9h0m0.1 8.2h0m0-9.1h0m0.2-3.7h0m0.1-8.4h0m0.1 23h0m0-24.1h0m0.1 15.6h0m0.2 2.9h0m0.1-3.4h0m0-6.8h0m0.1 4h0m0.4 1.4h0m0.1-1.8h0m0.1 7.7h0m0.3-11.2h0m0 4.8h0m0.1 7.9h0m0-2.4h0m0.1-4.2h0m0.1-8.9h0m0 5.4h0m0.1-4.1h0m0 9.5h0m0.1-0.5h0m0.1-2.4h0m0.1-10.6h0m0.1 10.9h0m0-4.9h0m0 6.4h0m0-6.7h0m0 6.1h0m0.2-6.5h0m0.1 13.5h0m0.2-0.7h0m0.1-11.2h0m0.2 5.7h0m0.1-3.4h0m0.1-10.9h0m0 5.6h0m0.4 6.1h0m0.2 7.2h0m0 5.4h0m0.1-5.3h0m0.1-4.7h0m0 3.4h0m0.2-6.8h0m0 12.6h0m0.4-6.9h0m0.5-5.5h0m0 2.3h0m0.1-5.3h0m0.2-5.5h0m0-6.5h0m0.1 22.5h0m0.2-6.4h0m0 3.7h0m0.1-9.6h0m0 15.9h0m0.2-14.3h0m0.1 2.4h0m0 2.6h0m0 7.1h0m0.1-8.7h0m0.2-4.6h0m0-7.3h0m0 8.1h0m0 6.5h0m0.1-8.4h0m0.2 6.2h0m0-0.3h0m0.2 6.2h0m0-11.5h0m0.1 2.3h0m0 6.4h0m0 1.1h0m0.2-0.8h0m0.1-3h0m0.1 1.5h0m0-9.8h0m0.2 5.3h0m0-3.2h0m0.1 13.3h0m0-12.4h0m0 1.4h0m0.1-0.4h0m0.1-3.1h0m0.2 4.9h0m0.2 1.2h0m0-2.5h0m0.1 1.1h0m0 6.2h0m0-7.5h0m0.1 2.9h0m0.1-0.2h0m0.1-6.8h0m0.1 13.1h0m0.1-2.5h0m0-5.8h0m0.2 8.2h0m0-20.2h0m0.1 18.8h0m0-4.3h0m0.3-9.3h0m0 3.9h0m0 6.5h0m0.3 7.8h0m0 11.1h0m0.3-11.7h0m0-4.3h0m0.1-5.4h0m0.1-6.8h0m0 14.5h0m0-8.4h0m0.4-3.7h0m0.1-0.7h0m0 10.8h0m0.1-6.4h0m0.1-5.1h0m0.1 6.8h0m0 1.6h0m0-10.1h0m0.1 5.2h0m0-8.8h0m0.1 7.1h0m0.1 16h0m0-16.4h0m0.1-1.5h0m0 13.3h0m0.1-12.5h0m0.1 13.4h0m0-5.3h0m0.3-12.6h0m0 10.5h0m0-10.6h0m0-4.6h0m0.2 18.9h0m0.1 0.1h0m0-7.2h0m0.2-10.4h0m0 15.1h0m0.1-8.6h0m0.1 10h0m0-6.6h0m0.1-9h0m0 11.6h0m0.3-2.7h0m0 7.3h0m0-8.8h0m0.1 7.5h0m0-10h0m0.2 7.8h0m0 1.7h0m0.1-3.7h0m0-3.3h0m0 11.6h0m0-5.9h0m0.3-4.6h0m0 4.8h0m0.5 1.5h0m0.1-3.1h0m0.1 5.9h0m0.2-25.2h0m0 20.3h0m0-2.8h0m0.5-3h0m0.2 6.6h0m0.3 11.8h0m0-26.4h0m0 0h0m0.3-3.3h0m0 4.9h0m0.1-7.1h0m0 3.3h0m0-2.9h0m0.2 1.4h0m0 6.9h0m0-13.3h0m0.1 12.9h0m0-0.3h0m0.1 6.5h0m0 14.1h0m0.1-9.2h0m0.3-13.3h0m0.1 13.9h0m0.1-3.6h0m0.1-4.5h0m0.1 7.7h0m0-11.7h0m0.1-8h0m0.1 32.3h0m0.1-29.6h0m0 15.3h0m0-7.1h0m0.2 4.6h0m0.1-13.2h0m0.2 7.7h0m0.1 15.9h0m0-12.6h0m0-6.9h0m0-6.6h0m0 3.8h0m0.4 5.8h0m0 13h0m0.2-17.5h0m0.1 1.8h0m0.2 2.1h0m0.1 1.5h0m0 2.8h0m0 9.6h0m0-2.7h0m0.2-11.8h0m0.1 1.8h0m0.2-5.5h0m0.1 7.2h0m0-3.5h0m0.2 4.8h0m0-4.8h0m0.2-0.4h0m0.2 17h0m0-7.4h0m0.1-4.2h0m0-3.5h0m0-0.1h0m0.1 1.8h0m0.1 0.4h0m0-6.5h0m0.1-1.2h0m0-0.8h0m0 16.8h0m0.1-11.6h0m0.1-1.5h0m0-10.8h0m0.1 16.9h0m0.1-8.8h0m0.2 2.3h0m0 2.2h0m0.1-7.7h0m0 18.7h0m0.2-21h0m0.1 26.6h0m0.1-17h0m0.1-8.9h0m0 13.2h0m0.1-0.1h0m0.3-13.7h0m0-2.1h0m0.1 14.2h0m0.1-2.3h0m0.2-8.3h0m0 7.4h0m0.1-8.4h0m0-0.2h0m0.1 19.3h0m0-13.1h0m0.1-5.9h0m0.1 32.9h0m0.1-30.4h0m0 7.8h0m0.2 9.4h0m0.2-12.2h0m0.1-2.1h0m0.3 2.5h0m0-5.7h0m0.2 1.4h0m0.1 10.1h0m0 4.3h0m0-1.8h0m0.1-10.3h0m0 14.8h0m0.2 13.9h0m0.3-21.4h0m0-2.5h0m0.1-4.1h0m0.1 7.4h0m0.1-9.1h0m0 12.2h0m0-13.5h0m0.1 11.9h0m0.2-0.3h0m0.1-0.9h0m0.3-6.6h0m0.2-8.9h0m0 25.1h0m0.1-10.9h0m0.1-4.1h0m0-16.8h0m0.3 26h0m0.1-8.3h0m0 13.8h0m0.2-10.6h0m0 6.5h0m0.1-2.9h0m0-12h0m0.1 6.7h0m0.2 7.7h0m0 1.2h0m0.1-15.4h0m0 2.5h0m0-7.5h0m0 21.3h0m0-15h0m0.2 4.1h0m0.1 13.9h0m0-6.5h0m0.1 6.6h0m0.2-13.5h0m0.1 1.3h0m0 6.2h0m0 1.2h0m0.3-14.1h0m0 18.9h0m0.2 0.1h0m0-25.7h0m0.1 25h0m0 1.2h0m0.1-12.8h0m0 4.5h0m0.1-3.7h0m0.1 21.3h0m0-16.2h0m0.2-0.8h0m0.1-7h0m0.1 4.8h0m0.1-3h0m0 1.3h0m0-1.8h0m0.3-9.6h0m0 12.4h0m0.2-5h0m0 3.4h0m0-5.3h0m0-1.9h0m0.1 7.1h0m0.1-11h0m0 13.2h0m0 0.5h0m0-3h0m0.1-6.8h0m0 11.1h0m0-7.6h0m0.1-5h0m0 24h0m0-14.3h0m0-1.8h0m0.1-4.7h0m0.1 8.6h0m0.1 8.5h0m0.3-8.2h0m0.1-3.9h0m0.1 2h0m0-0.3h0m0-5.3h0m0 21.4h0m0.2-7.5h0m0.1-1.2h0m0-11.7h0m0.2 6.3h0m0.1-10.2h0m0-9.9h0m0.1 18.6h0m0.2 2h0m0.1 15.5h0m0.1-14.3h0m0.3 6.4h0m0-7.1h0m0.1-4.4h0m0 19.8h0m0-9.1h0m0-2h0m0.1-6.6h0m0.1 17.4h0m0-17.3h0m0.1-0.7h0m0.1-7.1h0m0 9h0m0 1.3h0m0.3 2.9h0m0.1-1.6h0m0 14.9h0m0-2.5h0m0.3-10.4h0m0-12.1h0m0.1 7.5h0m0-5.8h0m0 15.9h0m0.5-6.2h0m0-16.1h0m0.1 21.8h0m0.1-8.1h0m0.1 5.7h0m0-2.4h0m0.4 5.2h0m0-15.7h0m0 7.7h0m0.1 10.3h0m0-14.1h0m0 3h0m0.1-4.9h0m0.1 8.5h0m0 0.1h0m0-10.4h0m0.1 7.6h0m0.3 17.1h0m0.4-10.1h0m0 1.4h0m0.3 6.4h0m0-14.3h0m0.1 29.3h0m0-27.2h0m0.1-5.7h0m0.1 10.9h0m0.1 1.5h0m0.1-3.3h0m0.4-0.3h0m0 6h0m0.2-10h0m0.3-7.4h0m0 14.8h0m0.1 0.5h0m0 4.3h0m0-6h0m0.1 9.4h0m0-3.4h0m0.1-9.3h0m0.2 6.3h0m0-1.7h0m0-1.1h0m0-9.6h0m0.8 16.9h0m0.1-5.1h0m0 16h0m0.2-15.3h0m0 1.5h0m0.1-3.6h0m0.1-7h0m0.1-19.2h0m0.3 24.5h0m0.1-6.4h0m0-3.7h0m0.2 2.6h0m0.1 2.4h0m0 8.6h0m0-8.2h0m0.1 2.1h0m0-3.5h0m0.5 5.2h0m0 0h0m0.1 21.1h0m0-23.7h0m0-0.3h0m0.1 3.2h0m0.3-1.6h0m0.1-2.5h0m0 5.8h0m0.1 1.2h0m0.3 3.9h0m0.1 0.5h0m0.1-5.4h0m0.1-5.1h0m0-1.8h0m0 13.2h0m0-17.8h0m0 12.1h0m0-16.6h0m0.1 11.8h0m0-6.1h0m0 10.5h0m0-11.9h0m0.1 9.5h0m0 4.2h0m0-13h0m0.2 10.7h0m0 1.2h0m0.1-2.6h0m0-8h0m0-7.6h0m0.1 7.8h0m0.1 2.6h0m0-18h0m0.3 23.7h0m0.2-1.5h0m0 6.1h0m0 13.3h0m0.2-32.8h0m0.1 12.2h0m0 16.6h0m0.1-24.4h0m0.1 2.6h0m0 5.4h0m0 9h0m0.1 8h0m0.3-15.5h0m0-0.7h0m0 17.2h0m0-18.5h0m0 7.9h0m0.2-14.4h0m0.1 1.4h0m0.2 3.4h0m0.1-3.8h0m0 13.5h0m0.2-18.2h0m0 4.7h0m0.1 0h0m0.1 6.2h0m0.2-8.2h0m0.1 11.6h0m0-3.5h0m0.1-5.9h0m0 6.7h0m0.1-14.5h0m0 8.8h0m0.3 11.3h0m0.2-9.6h0m0.1-5.4h0m0.2 6.5h0m0.1-11.4h0m0 17.2h0m0.1 4.8h0m0.2-8.9h0m0.2 11.2h0m0.1-11.8h0m0 3.4h0m0.3-7.9h0m0.1 6.1h0m0 6.1h0m0.1 1.7h0m0.2-6.5h0m0 0.4h0m0.1-4.6h0m0.2 5h0m0-7.2h0m0.3-5.8h0m0 13.4h0m0.1-9.7h0m0.2 7.9h0m0.1-4.3h0m0.1-3.5h0m0 7.2h0m0-7.9h0m0.2 10.5h0m0 5.8h0m0.2-1.4h0m0-15.3h0m0 3h0m0.1 8.4h0m0.1 5.6h0m0.1-14.8h0m0.2 13.4h0m0.3-13.6h0m0.1 9.7h0m0.1-5.1h0m0 8.8h0m0.1-6.4h0m0.1 2.6h0m0-3.4h0m0 3.8h0m0.1 4.6h0m0.1-6.6h0m0.1 6.7h0m0 0.8h0m0.1-8.5h0m0.1 3.4h0m0.3 0.1h0m0-5.9h0m0 0.6h0m0 10.6h0m0.1-8.3h0m0 3h0m0 2.3h0m0.1-4.4h0m0 0.7h0m0.1-3.4h0m0.1 1.9h0m0 7.3h0m0.1 4.1h0m0.1-5h0m0-9h0m0.1 2.8h0m0.1 0.9h0m0.1 11.4h0m0.1-15h0m0.1 11.7h0m0-8.1h0m0.2 2.1h0m0-5.6h0m0.1 13.2h0m0.1-4.6h0m0-2.1h0m0.1-3.5h0m0 6.4h0m0.1 0.3h0m0-7.6h0m0.1-1.4h0m0 2.9h0m0-0.5h0m0.1-6.5h0m0 12.9h0m0-9.3h0m0-5.1h0m0.1 4.7h0m0.2 6.5h0m0-6.9h0m0.1 7h0m0.1-2.7h0m0.1 7.3h0m0.1-5.3h0m0-5.1h0m0.1 0.8h0m0.1-2h0m0.1 10.2h0m0.2 3.4h0m0-10.7h0m0 2h0m0.1-2.3h0m0 0.5h0m0.1 0.7h0m0.1-2.4h0m0 3h0m0.1-10.7h0m0 5.6h0m0.1 5.6h0m0.1-7.3h0m0 7.1h0m0.1 1.4h0m0-0.1h0m0.1 2.8h0m0-7.2h0m0.1-0.2h0m0.4 9h0m0.1-5.4h0m0.2 10.9h0m0-2h0m0-4.8h0m0.1-7.1h0m0 11.7h0m0.4-1.7h0m0-4.9h0m0.1 5.4h0m0-4.4h0m0.3-3.6h0m0.2-6.1h0m0-7.8h0m0 19.7h0m0-3h0m0.6-14.3h0m0.3 14.4h0m0.1-2.7h0m0 6.8h0m0.2-7.5h0m0 13h0m0.2-1.9h0m0.1-3h0m0.2-0.6h0m0.2 1.6h0m0.2-4.2h0m0.2 5.3h0m0.2-14.7h0m0.1 3h0m0.1 6.6h0m0.1-4.4h0m0 4h0m0.1 0.3h0m0.1-0.8h0m0.1-12.1h0m0.1 6.6h0m0 8.1h0m0.1-15.5h0m0.2 17h0m0-9.5h0m0.1 2.6h0m0 2.7h0m0.2 13.7h0m0-24.2h0m0 5h0m0.2 11.7h0m0.1-8.1h0m0.2 0.2h0m0-6.1h0m0 8.2h0m0.1 12.4h0m0.2-18.5h0m0.2 2.4h0m0 4.3h0m0.2 0.2h0m0.1-3.4h0m0.1 2.9h0m0.1-4.5h0m0.1 5.4h0m0.2-5.1h0m0-2.5h0m0.4 16.4h0m0.1-0.2h0m0.3-9.3h0m0-13.9h0m0.1 11.1h0m0 1h0m0.1-3h0m0.1 0.4h0m0-14.8h0m0.1 22.7h0m0-9.8h0m0.1 9.4h0m0.3-8h0m0 3.7h0m0.1 4.8h0m0.1-8.4h0m0 0.1h0m0 1.2h0m0.1-8.1h0m0 15.4h0m0 7.3h0m0-24.9h0m0.1 9.5h0m0.3-0.3h0m0.1 0h0m0 7.9h0m0.3-1.1h0m0.1 1h0m0.3 1.3h0m0-14.2h0m0 4.1h0m0-5.8h0m0.2 15.2h0m0-12.8h0m0 0.5h0m0.1 3.3h0m0.1-1.8h0m0.1 5.7h0m0.1-5h0m0.4-14.7h0m0 13.1h0m0 0.8h0m0-5.9h0m0.1 10.5h0m0.1-5h0m0.1 8h0m0.1-9.7h0m0 6.9h0m0.1 6.7h0m0.2-4.1h0m0.1-9.1h0m0 17.6h0m0.1-17.7h0m0.1 0.1h0m0.4 3.3h0m0 4.6h0m0-0.6h0m0.3 17.5h0m0-20.5h0m0.1 0h0m0-5.1h0m0 1.8h0m0.1-8.3h0m0 10.1h0m0.1-1.6h0m0.2 5.7h0m0-6.9h0m0.2 9.2h0m0.2-4.2h0m0.2 0h0m0.1-4.8h0m0.2-1.6h0m0 0.5h0m0.1 6.4h0m0.1-4.6h0m0 12.3h0m0.1-3.9h0m0.1-10.4h0m0 5.3h0m0.3 10.3h0m0.3-10.8h0m0.1 12.5h0m0-6.3h0m0-9.1h0m0.2 8h0m0-9.2h0m0.1-0.1h0m0-3.7h0m0.1 8.1h0m0.1 3.1h0m0-7.4h0m0 9.7h0m0.1-2.2h0m0-7.4h0m0.1 11.2h0m0.1-3.7h0m0-9.8h0m0.1 1.7h0m0.2 4.4h0m0-6.3h0m0.2 9.6h0m0.1 5.8h0m0.2-6.2h0m0.1 4.9h0m0.2-5.1h0m0-3.9h0m0-1h0m0 6.1h0m0-0.6h0m0.4-17.9h0m0.2 2.5h0m0 16.8h0m0-15.3h0m0.1-1.4h0m0.2 4.6h0m0.1-3h0m0-2.6h0m0.3 0.6h0m0 7.3h0m0.1 8.3h0m0.1-10h0m0.1-0.3h0m0 0.3h0m0-6.1h0m0.1 19.5h0m0.3-18.7h0m0 5.8h0m0.1-2.9h0m0.3-4.5h0m0 8.1h0m0.1-13.4h0m0-2.2h0m0 11.1h0m0.1 3.9h0m0-0.4h0m0 9.2h0m0.2-14.8h0m0 4.7h0m0.1-6.9h0m0.1 11.6h0m0.1 18.3h0m0-15.6h0m0.2-12.5h0m0.1 9.9h0m0-3.6h0m0.4-5.8h0m0 2.8h0m0 2.8h0m0.3 2.5h0m0-9.7h0m0.1 10.7h0m0.1-3.6h0m0.1-1.3h0m0.2-9.6h0m0 20.6h0m0.2-9.4h0m0.1 4.1h0m0-0.2h0m0.1-3.1h0m0.1-2.7h0m0.1 4.2h0m0-0.1h0m0 5.7h0m0.1 1.8h0m0-7.2h0m0 4.5h0m0.1-10h0m0.1 6h0m0 4.6h0m0-20.9h0m0.2 13.8h0m0.1 3h0m0.3-5.9h0m0.1-3.9h0m0 5.6h0m0.2-2.7h0m0 13.4h0m0.1-9.2h0m0.1-0.7h0m0 8.7h0m0.1-0.9h0m0-4.8h0m0.2-11.1h0m0.1 0.2h0m0.1 8.8h0m0-2.3h0m0.1 7h0m0-7.3h0m0.1-6h0m0.2 11.2h0m0.1-4h0m0.3 7.1h0m0-7.1h0m0.2 10.9h0m0-8.5h0m0.3 1.5h0m0.1 0.2h0m0-4.9h0m0.3-2.8h0m0.1 7.8h0m0-2.4h0m0.3-0.1h0m0 2.5h0m0.1-10h0m0.2 12.4h0m0 4.4h0m0.2-7.7h0m0.1 5.4h0m0.1-6.4h0m0.1 15.3h0m0.2-22.1h0m0.2 8.7h0m0.1 0.3h0m0-6.9h0m0.2 6h0m0.1-1.7h0m0.1 6.8h0m0.1-19.7h0m0 8h0m0 17.7h0m0.1-16.1h0m0 3.2h0m0.1 5.1h0m0.1 2.2h0m0.1-4.6h0m0.1-10.6h0m0.1 28.1h0m0-18.4h0m0.1 5.4h0m0.1-7h0m0 12.4h0m0-16.3h0m0.1 9.6h0m0-0.4h0m0.2-6h0m0.1-8.2h0m0 18.5h0m0.1-3.9h0m0.1-4h0m0.1-4.5h0m0-5.5h0m0.1 9.1h0m0-0.5h0m0.1 3.8h0m0-12.2h0m0.1 5.3h0m0.1 4.1h0m0.1-4.8h0m0-12.1h0m0.2 14.5h0m0.1 6.8h0m0-10.3h0m0.2-4.1h0m0 0.9h0m0.1 9.6h0m0.1 5.2h0m0-6h0m0.2-13.5h0m0 5.2h0m0.1 10.6h0m0-9.5h0m0.2-1.8h0m0.4 8.7h0m0.1 2.4h0m0.1 0.1h0m0.1-6.6h0m0-0.2h0m0.1 8.7h0m0.1-10h0m0 11.2h0m0.2 4h0m0.1-10.3h0m0 0.2h0m0.1 5.7h0m0.2-9.9h0m0.1-0.8h0m0.1 0h0m0 7.6h0m0 2.7h0m0-5.3h0m0 1h0m0.1-4.2h0m0.1 13.2h0m0-8h0m0.1 1.7h0m0.2-1.8h0m0-8.9h0m0.2 7.6h0m0 4.4h0m0-2.4h0m0.1 2.8h0m0.3-9.4h0m0 1h0m0.1 3.8h0m0.1 3.2h0m0 0.4h0m0.2-7h0m0.1 6.8h0m0.1-7.1h0m0.2 7.7h0m0-2.4h0m0.2 2h0m0.1-4.8h0m0-0.6h0m0.1 8.5h0m0.2 1.4h0m0.1-1h0m0.2-9h0m0 5.9h0m0 8.2h0m0.2-13.5h0m0.2 11.7h0m0.1-7.4h0m0 0.8h0m0.1-7.7h0m0.2 9.5h0m0-4h0m0.1-14.5h0m0.1 18.4h0m0.1-6.5h0m0.1 25.8h0m0.1-23.1h0m0 7.2h0m0.1-5.2h0m0.2-3.9h0m0-3.6h0m0.1 13.6h0m0-14.9h0m0.1 1.2h0m0 4.8h0m0.2 15.6h0m0-15.2h0m0.2-3.4h0m0.1-0.5h0m0-0.3h0m0-1.5h0m0 6.6h0m0.1-3.2h0m0.1 9.7h0m0-13h0m0.2-2.3h0m0 1.9h0m0.1 5.3h0m0-4.2h0m0.2 16.4h0m0.2-16.2h0m0 10h0m0.1-8.1h0m0 1h0m0 0.9h0m0.2-3.4h0m0 0.3h0m0 2.8h0m0.2-1.9h0m0-2.2h0m0.2 0.8h0m0.1-4.9h0m0.1 18.1h0m0.1-9.2h0m0.1-2.4h0m0 4.7h0m0.1 10.6h0m0-17.8h0m0.2 9.8h0m0.2-3.5h0m0-6.6h0m0.1 4.3h0m0 0h0m0-4.4h0m0.2 8.1h0m0.1 13.5h0m0-20.2h0m0 8.1h0m0.1-2.9h0m0.2 0.6h0m0-4.9h0m0.1 0.5h0m0.3 4.2h0m0-0.1h0m0.1-2.1h0m0.2 4.6h0m0 0.6h0m0 2.8h0m0.1-11.9h0m0.2 8.1h0m0.1-10.8h0m0-3.6h0m0 2.6h0m0.1 12.4h0m0-7.1h0m0.2-5.6h0m0 21.1h0m0.1-14.3h0m0 3.9h0m0-7.6h0m0.2 2.1h0m0.1 18.3h0m0-8.4h0m0-2.8h0m0.1-0.9h0m0-4.5h0m0.1 8h0m0.2-17.9h0m0 14h0m0-2.8h0m0.1 1.9h0m0.1-5h0m0.1 6.1h0m0 1h0m0.3-3.8h0m0-6.1h0m0 0.5h0m0 12.7h0m0.1-7.8h0m0.1 2h0m0 0.5h0m0-11.7h0m0.1-4.9h0m0.1 7.9h0m0 0.6h0m0.1 10.6h0m0-7.8h0m0.2-6.2h0m0 9.2h0m0.2 8h0m0.1-5.4h0m0 7.9h0m0-15.2h0m0.4 4.1h0m0 8.8h0m0.1-2.2h0m0-13.1h0m0.2 4h0m0.1-11.9h0m0 15.2h0m0.3 4.2h0m0 1.4h0m0.1-9.6h0m0.1 8.5h0m0 4.6h0m0.1-6.6h0m0.2 9.7h0m0.1-7.9h0m0-8.4h0m0 4.3h0m0.1-0.2h0m0.2-1h0m0.1 1.9h0m0.1 8.8h0m0.2-13.2h0m0.1 5.2h0m0.1 7.4h0m0-10.1h0m0.1 1.4h0m0.1 7.2h0m0-2.6h0m0.1-5.5h0m0.2-0.7h0m0.1-1.3h0m0 2.8h0m0.1 9.8h0m0.1-14h0m0.4 4.3h0m0 5.2h0m0 6.7h0m0.1-9h0m0.1 0.1h0m0 0.3h0m0 0.1h0m0.6 3.1h0m0.2-2.2h0m0-3.9h0m0 2.5h0m0.1 9.4h0m0-6.9h0m0.3 0.8h0m0-6.9h0m0.3-6.1h0m0.2 20.7h0m0-7.6h0m0.1-9.9h0m0.1 10h0m0.1-6.6h0m0.1 8.4h0m0.2-11.6h0m0 16.4h0m0.1-19.3h0m0.1 14.3h0m0.1-3.1h0m0.1 1.8h0m0.1-14h0m0 8.3h0m0-2.5h0m0.1 15.3h0m0-16.1h0m0.1 17.4h0m0-7h0m0.4-7.3h0m0.2 5.2h0m0-2.3h0m0 0h0m0.2-3h0m0.2-9h0m0 9.7h0m0.1 10.1h0m0.2-7h0m0.1-0.3h0m0.1-6.1h0m0.1 16.6h0m0.3-19.6h0m0 10.1h0m0.1-3.5h0m0.1 0.5h0m0-9.5h0m0.1 5.2h0m0 1.2h0m0.1 7.7h0m0-3.4h0m0.1-8.3h0m0.2 7.5h0m0.1 0.2h0m0 8h0m0.1-13.1h0m0.2 13.5h0m0.1 1.4h0m0-14.6h0m0 4.2h0m0.1-10.7h0m0.1 6.3h0m0.3 12.3h0m0.1-14h0m0-0.8h0m0.1 5.6h0m0 4.3h0m0 5.8h0m0.2-2.9h0m0.1-14.1h0m0.1 7h0m0 4h0m0-1.6h0m0.1-11.6h0m0.2 10.9h0m0.1-10h0m0.1 14.9h0m0.1 2.7h0m0.1-6.9h0m0 4h0m0.1 3h0m0.1-3.6h0m0 4.8h0m0.1-3.7h0m0.3-17h0m0.3 15.5h0m0-4h0m0 3.9h0m0-11.5h0m0.2 6.2h0m0.1-3.8h0m0 0.5h0m0 4.7h0m0.1-1.1h0m0-0.1h0m0.2-4.6h0m0 18h0m0.2-5.1h0m0-9.7h0m0.1 11.8h0m0.1 4.5h0m0-13.5h0m0-1.3h0m0.2-5.8h0m0.1 1.3h0m0.2 8.7h0m0-0.9h0m0.1 6.4h0m0.1 0.4h0m0.1-6.2h0m0.2 2.4h0m0-7.4h0m0.2 1.5h0m0.3-0.9h0m0 8.6h0m0.1-1.5h0m0 2.8h0m0 0.5h0m0.1-13.1h0m0.1-1.6h0m0 13.9h0m0-5.4h0m0.1 2.8h0m0-6.1h0m0.2 6.5h0m0-5.8h0m0 2.4h0m0.1 8.3h0m0-5.7h0m0.1 3.4h0m0.1-6.2h0m0.2-1.1h0m0 2.6h0m0.1-10h0m0 5.9h0m0.2-7.1h0m0 6h0m0.1 12.7h0m0-9.5h0m0.2-0.2h0m0-0.5h0m0.1 6.5h0m0.3-2.9h0m0.2-7.7h0m0-2.1h0m0.1 7.7h0m0.1 0.7h0m0.2-16.9h0m0.1 13.2h0m0 1.4h0m0 0.6h0m0.1-10.4h0m0-1.5h0m0.1 10.7h0m0-0.6h0m0.2-1.4h0m0-6.6h0m0 8.9h0m0.1 1.6h0m0-5.1h0m0 6.3h0m0 4.9h0m0.2-10.2h0m0.1-2.5h0m0 5.4h0m0.1-9.1h0m0.1 3.2h0m0.1 4.5h0m0.1-8.7h0m0 12.1h0m0-5.6h0m0.2 5.3h0m0.1 1.3h0m0.1-10.3h0m0.1-11.1h0m0.1 23h0m0.2-0.5h0m0.1-6.5h0m0.2 19.5h0m0.1-17.9h0m0.1 8.2h0m0.2-7h0m0.1 4.1h0m0.1-6.4h0m0.1-4.4h0m0-2.2h0m0 15.7h0m0.2-6.4h0m0.1 1.7h0m0-6h0m0.1-2.3h0m0.2 10h0m0.1-10h0m0.1 7.1h0m0.1 1.2h0m0 0.1h0m0.1-0.9h0m0.2-4h0m0.1-6.7h0m0 0.9h0m0.2 14.9h0m0.3-3.6h0m0 9.6h0m0.1-15.3h0m0.1 9.2h0m0-4.2h0m0-5.8h0m0 3.7h0m0.1 3.8h0m0 0h0m0.2-8.7h0m0.3-1.2h0m0.1 23.5h0m0-15.7h0m0.1 4.8h0m0-7.1h0m0 0.5h0m0 9.2h0m0.5 1h0m0.2-3.2h0m0-9.5h0m0.1 0.7h0m0 11.5h0m0.1-10.9h0m0.1 4h0m0-3.2h0m0.1 1.9h0m0 1.8h0m0.1 6.5h0m0.3-2.5h0m0.1-3.7h0m0.1-6.1h0m0.1 2.3h0m0-2.8h0m0.1 2.6h0m0-20.1h0m0 20.2h0m0-2.5h0m0 19.1h0m0.1-1.7h0m0.2-20.2h0m0-2.1h0m0-7.3h0m0.1 12.5h0m0.2 0.6h0m0 0.1h0m0.1 5.7h0m0-10.6h0m0 7.6h0m0.1-4.1h0m0 5.3h0m0-0.7h0m0.1 10.8h0m0-21.4h0m0.2 13.6h0m0.3-14.8h0m0-12.7h0m0 31.4h0m0-14.2h0m0-3.3h0m0.1 14.4h0m0.2-12.4h0m0 2.3h0m0.3 2.6h0m0.1-0.7h0m0 1.6h0m0-13.5h0m0.1 17.9h0m0.1-6.1h0m0.1 6.3h0m0 0.2h0m0-11.8h0m0.2 4.7h0m0.1-6.3h0m0 16h0m0-8.5h0m0.1 4.6h0m0.5-0.7h0m0-2.5h0m0 2h0m0.1-3.6h0m0.1-1.6h0m0.2 2.7h0m0 1.9h0m0.1 0.4h0m0.1-0.3h0m0.1-0.2h0m0-6h0m0.1-0.4h0m0.2 19.7h0m0-1.9h0m0-13.4h0m0.1-18.3h0m0 23h0m0-7.7h0m0.1 4.1h0m0-0.9h0m0 0.1h0m0.2-5.5h0m0.1-2.8h0m0 4.9h0m0.1 1.8h0m0.1 7.4h0m0.3-10.4h0m0 5.1h0m0.1 1.5h0m0-7.3h0m0 11.2h0m0.2-2.1h0m0.1-16.8h0m0 13.1h0m0.1 10h0m0.2-3.6h0m0.6-1.4h0m0-10h0m0.2-5.5h0m0 15.2h0m0.2-6.1h0m0.1 2.4h0m0-0.6h0m0.1 8.4h0m0.1-8.2h0m0-5.2h0m0.1 2.2h0m0-2h0m0.1-2.5h0m0.1-4.5h0m0 4.7h0m0 7.6h0m0 3.2h0m0 1h0m0.1-9.2h0m0.1-1.5h0m0.1-21.9h0m0 30h0m0-12h0m0.1-0.1h0m0.1 2.8h0m0.1-5.2h0m0.1 15.2h0m0.2-11.3h0m0.2-5h0m0-1.2h0m0 12.2h0m0.1-7.6h0m0.1 0.5h0m0.2 8.1h0m0 3.3h0m0-7.3h0m0.1-2.4h0m0 1h0m0.1 8.9h0m0.2-4.9h0m0.2 4.7h0m0-6.9h0m0.1-2.5h0m0.1 4.7h0m0.1-1.7h0m0 11.5h0m0-15.3h0m0.2-6.4h0m0.5 17.6h0m0-5.1h0m0.2 4.9h0m0.3-1.6h0m0.2-7.9h0m0.1 2.8h0m0-0.8h0m0.2-3.2h0m0 1.2h0m0.1-6.9h0m0.4 12h0m0.1-11.1h0m0.1 14.3h0m0.3-11.9h0m0.1 4.4h0m0 3.4h0m0.2-1.8h0m0.1-1.8h0m0.1 26.2h0m0-14.1h0m0 3.4h0m0.1-10.3h0m0.1-5.3h0m0.1 2.1h0m0 3.5h0m0-3.1h0m0.3-5.1h0m0.1 7.3h0m0.1 3.1h0m0.2-3.9h0m0.1 3.1h0m0.1-2.1h0m0.1-1.5h0m0.1 6.6h0m0.1 11.3h0m0.2-31h0m0.1 2.6h0m0.2 18.8h0m0.1-11.4h0m0 9.5h0m0-5.7h0m0-5.2h0m0.1 8.6h0m0.1 9.6h0m0.2-8.2h0m0.1-7.5h0m0-7.4h0m0-2.5h0m0 13.5h0m0.3-11.1h0m0-0.7h0m0 8.6h0m0-5.9h0m0.1 12.8h0m0.1 6.2h0m0.2-10.3h0m0.1-1.7h0m0 7.3h0m0-4.8h0m0 0.3h0m0.1 8.7h0m0-4.7h0m0.1-14.7h0m0 11h0m0.2 5.1h0m0 16.1h0m0.2-17.3h0m0.1-4.2h0m0.1 0.9h0m0.2 0.9h0m0.2-3.2h0m0 2.5h0m0.1-3.2h0m0 2.9h0m0.1-2.6h0m0 2.4h0m0-7.1h0m0-2.2h0m0.1 10.6h0m0.1 6.1h0m0-10.6h0m0.1 0.8h0m0-3.8h0m0-4.1h0m0.5 8.7h0m0 4.1h0m0.1-6.4h0m0.1 4.8h0m0.1-9h0m0.1 2.4h0m0 6.7h0m0-8.6h0m0 3.1h0m0.2-16.7h0m0 11.9h0m0.1 12h0m0.2-2.2h0m0.2-7.3h0m0 2.2h0m0.2-3.1h0m0.1-2.3h0m0.1 4.2h0m0.1 6.9h0m0-4.3h0m0.2 0.4h0m0.1-1.8h0m0-0.2h0m0.2 2.7h0m0.1-2.3h0m0-12.9h0m0.2 10.7h0m0 13.5h0m0-11.3h0m0.1 3.9h0m0 1.6h0m0.1-13.7h0m0.1 2.8h0m0.3 0.6h0m0.2-2.7h0m0.1 18.1h0m0-5.6h0m0.1 2h0m0.1 0.5h0m0.3-4.5h0m0 12.9h0m0.1-9.7h0m0-8.8h0m0.2 7.9h0m0.1 4.6h0m0-2.8h0m0.1-9.2h0m0.2 1.5h0m0 6.2h0m0 2.9h0m0 5h0m0.1-10.7h0m0.1-0.9h0m0.1 0.6h0m0 1.6h0m0.1 5.5h0m0-7.4h0m0 1.4h0m0.1-4.3h0m0.1 8.8h0m0.1-10.3h0m0 9.9h0m0.1-7.3h0m0-8.3h0m0.2 11.4h0m0.1 7.6h0m0-7.2h0m0 4.2h0m0.1 2.2h0m0.1-3.3h0m0 3h0m0.1 3.3h0m0.1-5.1h0m0 17.9h0m0-25.3h0m0.1-3.1h0m0 15.3h0m0.1-11.7h0m0 2.4h0m0.1 1.9h0m0-2.6h0m0 2.9h0m0.1-2.9h0m0.3 7.9h0m0.3-3.4h0m0 9.8h0m0-14.7h0m0.1 7h0m0.1-2.4h0m0 2.4h0m0-5.8h0m0.1 5.3h0m0-2.2h0m0-5.8h0m0.1 3h0m0.1 1.6h0m0.1-3.7h0m0-4h0m0.1 22.8h0m0-18.8h0m0.1 3h0m0.1-4.5h0m0 2.9h0m0.1 2.8h0m0 1.4h0m0.1-2.5h0m0-6.9h0m0 9.2h0m0.1-13h0m0.1 5.2h0m0.2 9.6h0m0 4h0m0-6.7h0m0 5.7h0m0-7.5h0m0.1 3h0m0-9.2h0m0.1 8.6h0m0-4.8h0m0.1 2.7h0m0 6h0m0-7h0m0 5.9h0m0.1-0.2h0m0-5.2h0m0 0.9h0m0.1-8.2h0m0.2 9.6h0m0.1-3.6h0m0 6.5h0m0 4.5h0m0-16.3h0m0.2 6.5h0m0.1-1.3h0m0.1-6.6h0m0.3 9.5h0m0.1-3.2h0m0 7.4h0m0.2-2.6h0m0-1.7h0m0 14.5h0m0.1-11h0m0-7.6h0m0 3.4h0m0.1 4.6h0m0-5.8h0m0.1 15.6h0m0.1-3.3h0m0.1-1.9h0m0.1-11.7h0m0.1-3.8h0m0.1 16.8h0m0.1-0.7h0m0-4.3h0m0.3 15.2h0m0.1-16h0m0-1.4h0m0.1 6.2h0m0.1-5.9h0m0-4.4h0m0.1 4.6h0m0 6.5h0m0-8.2h0m0.2-11.9h0m0.1 19.6h0m0.1-5.8h0m0.1 3.4h0m0-4.7h0m0.3-1.1h0m0.3-8.5h0m0-5.4h0m0 1.7h0m0.1 6h0m0.1 2.9h0m0 0.2h0m0.1 0.8h0m0.1-0.9h0m0.2-0.9h0m0.2-24.2h0m0.2 28.6h0m0-6.9h0m0.2 15.4h0m0 1.5h0m0.1-25.1h0m0.1 5.1h0m0 21.1h0m0 0.6h0m0.1-14.1h0m0.1 0.2h0m0 12.2h0m0-4.2h0m0.2 3.2h0m0-14.2h0m0 8.2h0m0-2.8h0m0.3 2.5h0m0 9.1h0m0.1-8.9h0m0 6h0m0-6.5h0m0-25h0m0.1 23.2h0m0-5.3h0m0.3 3.1h0m0.2-6.3h0m0 13.7h0m0-14h0m0 2.5h0m0 11.3h0m0.2-2.4h0m0-11h0m0 0.5h0m0.1 11.1h0m0-3.9h0m0.3 1.1h0m0 0.7h0m0.1-7.4h0m0 3h0m0.2 3.5h0m0.1-9.5h0m0.1 13.2h0m0.1-18.6h0m0.1 15.8h0m0.2-6.2h0m0 2.1h0m0 15.9h0m0-10.3h0m0-14.2h0m0.2 1.4h0m0 11.8h0m0.1-0.2h0m0-4.5h0m0-1.4h0m0-1h0m0-0.8h0m0.2-1.2h0m0.1-1.2h0m0.2-3.2h0m0.1 18.2h0m0-11.4h0m0.5 3.4h0m0-12.4h0m0.1 10.7h0m0.7 13h0m0-17.3h0m0.1 3h0m0 2.6h0m0 1.1h0m0.2 2h0m0.3-9.1h0m0.1 8.6h0m0.1-5.1h0m0.1-2.2h0m0.1-4h0m0 2h0m0 1.6h0m0.1-5.9h0m0 4.2h0m0.1 4.2h0m0.2 2.4h0m0.2-5.8h0m0.1 1.1h0m0.1-5.9h0m0 7.3h0m0.1-5.4h0m0.2 10.3h0m0.1 0.3h0m0.2-7.9h0m0.1 2h0m0-0.3h0m0.1-6.7h0m0 5.8h0m0.1 7.8h0m0.2-4.3h0m0-5.2h0m0.3 6.4h0m0.2 3.7h0m0.1-9.3h0m0.2-2h0m0.1 1.7h0m0.1 10.6h0m0.1 3.2h0m0.2-19.9h0m0.1 3.3h0m0.1 5.3h0m0.1-5.1h0m0 6.7h0m0.2-10.2h0m0.2 1.4h0m0-3.9h0m0.1 14.2h0m0.1-3h0m0.1-4.7h0m0.1 8h0m0-6.4h0m0.1-6.5h0m0.1 17h0m0.1-23.9h0m0 23.4h0m0.3-15.7h0m0 14.4h0m0.3-14.2h0m0.2 6.1h0m0 1.6h0m0.1 12.2h0m0.1-16.9h0m0.2 5h0m0.1-8.2h0m0.1 6.4h0m0-5.6h0m0.1 6.5h0m0 1.2h0m0.1-0.8h0m0-1.7h0m0.1 7.9h0m0-7.7h0m0-4.4h0m0.1-9.7h0m0 17.4h0m0-1.8h0m0.1 0.3h0m0.1 3.9h0m0-12.4h0m0 0.5h0m0.1 10.8h0m0.2-1.1h0m0.1 8.4h0m0-4.6h0m0.1 1.8h0m0 0.8h0m0.2-0.3h0m0-4.3h0m0 9.8h0m0.1-3h0m0.1-9.3h0m0.1-5.1h0m0.1 4.5h0m0 10.1h0m0-5.9h0m0.1-1.2h0m0-4.2h0m0.3 1.5h0m0.1 13.9h0m0.1-1.2h0m0-6.5h0m0 1.1h0m0.1-6.3h0m0 8.3h0m0-8.3h0m0.1 9.2h0m0.4-20.3h0m0.5 13.4h0m0.2-1.2h0m0.1 15h0m0.1-17h0m0.2 1.1h0m0.1-7.9h0m0 5.8h0m0.3-6.8h0m0.2 10.1h0m0.1-4h0m0.1 5.7h0m0.1-1.1h0m0-2.9h0m0.1 9.7h0m0-13.8h0m0.1 4.7h0m0 6.3h0m0.1-4h0m0.1 7.5h0m0.1-10.4h0m0.1 20.9h0m0-26.3h0m0.1 0.5h0m0.2 0.7h0m0 0.4h0m0.1 6.9h0m0 7.1h0m0-12.3h0m0.1 9.4h0m0.1-21.8h0m0.2 24.7h0m0.2-16.8h0m0 8.5h0m0.1-5.7h0m0 1.2h0m0.4-0.2h0m0.2 12.4h0m0.1-10.2h0m0-3.3h0m0 9.8h0m0.1-3.4h0m0.2-11.2h0m0.5 17.2h0m0.1-14h0m0.1-0.6h0m0.3 5.8h0m0 0.6h0m0 1.3h0m0-4.5h0m0-6.1h0m0.2 2h0m0 2.5h0m0.1 9.8h0m0.1 0.5h0m0-6.9h0m0.1-6.6h0m0.1 16.5h0m0.2-10.9h0m0 1.4h0m0.1 0.6h0m0.1 8.2h0m0.1-12.1h0m0.1-4.3h0m0.1 18h0m0-4.9h0m0.3-5.6h0m0.1 6.1h0m0-2.7h0m0.3 3.1h0m0-11.3h0m0.1 2.8h0m0 9.1h0m0.1-9.5h0m0.1-1h0m0 3.4h0m0 5h0m0-5.2h0m0.1 8.1h0m0.1-3.9h0m0.1 9.2h0m0.2-14.2h0m0.3 13.2h0m0.1-2.6h0m0.1-6.9h0m0.1 0.9h0m0 0.8h0m0 2.1h0m0.5 6h0m0-11h0m0.1 4.7h0m0.1-5.5h0m0.1 6.7h0m0.1-0.3h0m0-1.5h0m0-3.4h0m0 0.9h0m0.2 0.3h0m0.1 0.1h0m0.1 1.3h0m0 4.5h0m0-3.7h0m0-1.6h0m0.1-2.2h0m0 8.2h0m0 0.3h0m0.1-9.4h0m0.1 5.7h0m0.2-8.3h0m0.1 8.6h0m0.1 7.7h0m0.3-2.6h0m0.2-5h0m0-6.8h0m0.1 5.9h0m0.3 2.7h0m0.1 10.2h0m0-17.1h0m0.1-1.9h0m0 2.6h0m0.2 0h0m0-5.1h0m0 6.9h0m0.2-2h0m0.1 3h0m0-4.7h0m0 4.7h0m0.1 4.2h0m0.1-10.8h0m0-11.1h0m0 5.9h0m0.3 24.9h0m0.1-19.3h0m0.2 9.6h0m0.3-13.7h0m0 0.4h0m0.1-5.8h0m0 15.8h0m0.1-13.7h0m0.1 4.1h0m0.2 3h0m0 8.5h0m0.1-7.7h0m0.1-7.9h0m0.2 22.3h0m0.1-14.1h0m0.3 3.7h0m0 4.9h0m0.1-10.6h0m0.1-2.2h0m0.1 12.8h0m0-0.1h0m0.1 3.2h0m0.2-19.6h0m0.2 14.2h0m0 1.6h0m0-14.6h0m0.1 1.4h0m0 4.2h0m0-14.5h0m0.1 19.8h0m0.1 1.7h0m0.1-1.6h0m0.1-15.8h0m0 16.1h0m0.1-5.8h0m0.1-0.7h0m0.1 12.9h0m0.1-8.2h0m0.1 3.7h0m0.1-2.2h0m0.1-0.9h0m0-28.8h0m0.1 35.9h0m0 5.3h0m0-9.5h0m0 5.5h0m0.1-4.3h0m0.1-18.2h0m0 11.7h0m0.1 1.6h0m0-5.2h0m0.1-8h0m0 4.7h0m0.1 11.3h0m0-7.4h0m0.2 0.5h0m0 3.1h0m0.2 6.7h0m0-2.7h0m0-15.9h0m0.1 10.2h0m0.1 2h0m0.1-3.1h0m0 9.4h0m0-0.5h0m0.1-6.8h0m0-1.1h0m0.1 2.6h0m0.1-10.4h0" stroke="#959595" stroke-width=".95" stroke-linecap="square"/>
<path d="M214.3 34.6h0m0.2 13.7h0m0 3.5h0m0.1-9.9h0m0-4.3h0m0 13.3h0m0-7h0m0.1 1.3h0m0-1.9h0m0.1 4.2h0m0.1 15.8h0m0-12.6h0m0-12.3h0m0.2 2.4h0m0.2 4.4h0m0-7.2h0m0 10.7h0m0.1-0.7h0m0-13.4h0m0.1 4.7h0m0.2 2.4h0m0.1-5.5h0m0.2 0.5h0m0 16.6h0m0 2.4h0m0.1-5.1h0m0.1-5h0m0-1.2h0m0.1-1h0m0 8h0m0.1 3.6h0m0.1-7.8h0m0-2.8h0m0.1 0.9h0m0 2.2h0m0-2.5h0m0 7.5h0m0.1-5.4h0m0.1-2.8h0m0.4-2h0m0.1 0.9h0m0.1 2.1h0m0-7.5h0m0.1 6.7h0m0 2.2h0m0.1 8.1h0m0.1-5.8h0m0-5.2h0m0 0.5h0m0.3-1.6h0m0.1-4.7h0m0 8.5h0m0-0.4h0m0.1 1.3h0m0.2-5.6h0m0 4.9h0m0 4.4h0m0.1 1.1h0m0.2-8.5h0m0.1-0.7h0m0 5.3h0m0.3-8.4h0m0 0.1h0m0 7.5h0m0.2-6h0m0.1-1.6h0m0.1 4.6h0m0 3h0m0.1 2.2h0m0-11.3h0m0.1 7.6h0m0.2 2h0m0.1 2.1h0m0.1-7.5h0m0-3.4h0m0.1 4.5h0m0.2-4h0m0.6 6.6h0m0.1-0.5h0m0-2.1h0m0.2-0.9h0m0 13.2h0m0.1-7.8h0m0.1 0.2h0m0.1-4.6h0m0 0.8h0m0 8.3h0m0.1-4.1h0m0.1-3.8h0m0 6h0m0-1.4h0m0.1-7.1h0m0.1-3.6h0m0 7.9h0m0.1-3.8h0m0-2.3h0m0 25.7h0m0.1-16.5h0m0-13.5h0m0.1 10.5h0m0-5h0m0 4.3h0m0.1 2.2h0m0.1-11.1h0m0.1 21.2h0m0-6.1h0m0.1-8.1h0m0-12.8h0m0 23.4h0m0.2-2.9h0m0-8.4h0m0.2 14.8h0m0.1-13.6h0m0 0.7h0m0.1-15.9h0m0 13.1h0m0-0.6h0m0.1-5.8h0m0-4.6h0m0.1 13.4h0m0 4.2h0m0.2 5.6h0m0.2-8h0m0.2 8h0m0-17h0m0.1 0.9h0m0.1 2.1h0m0.1 20.5h0m0-3.8h0m0.1-15.8h0m0 2.7h0m0 8h0m0.1-12.7h0m0-2.3h0m0.2 15.9h0m0 6.4h0m0-16.5h0m0.2 0.6h0m0 10.3h0m0.1-6.2h0m0.1-7.6h0m0 6.2h0m0 5.6h0m0.1-14.9h0m0.1 1.1h0m0-9.3h0m0.1 9.1h0m0.1-11.4h0m0.2 25.2h0m0.1-4.9h0m0.1 1.6h0m0.1-3.2h0m0.1 6.1h0m0-11.1h0m0 3.7h0m0.1 1.2h0m0.2 4.5h0m0 3.7h0m0.2 5.9h0m0-20.1h0m0.1 6.8h0m0.1 7.2h0m0.1-2.9h0m0-0.2h0m0-6.2h0m0 3.4h0m0.2-5h0m0.2 3h0m0-4.4h0m0.1 12.2h0m0-16.3h0m0.2 18.3h0m0-7.9h0m0.1 0.6h0m0-3.6h0m0 6h0m0.2 6.2h0m0.1-11.8h0m0.3 0.2h0m0.2 11.1h0m0-11.2h0m0-0.6h0m0.1 1.1h0m0 3h0m0.1-4.9h0m0 15.5h0m0-10.5h0m0.1-5.3h0m0 1.2h0m0.1 2.3h0m0.1-8.2h0m0.1 17.9h0m0-5.7h0m0-5.7h0m0.1 5.5h0m0-4.6h0m0.1 9.2h0m0-5.6h0m0.1-1.8h0m0.2-6h0m0 6.9h0m0.1 0.7h0m0-0.2h0m0.1-1.7h0m0-5.6h0m0.1 7.8h0m0 2.5h0m0.2-9h0m0 22.9h0m0.1-14.2h0m0-11.9h0m0 3.2h0m0.2-4.2h0m0 5.6h0m0 5.3h0m0.1-2.2h0m0.1 3.5h0m0 5.8h0m0.1-2.9h0m0-1h0m0.1-6.8h0m0.1-3.3h0m0 2.5h0m0.6 7.5h0m0.1-5.9h0m0-0.8h0m0.1 5.3h0m0.2-10.7h0m0.1 7.6h0m0-4.1h0m0 2.8h0m0-8.2h0m0.1 11.2h0m0.1-2.8h0m0-13h0m0.5 8h0m0-2.3h0m0 0.6h0m0.1 14.1h0m0 7.8h0m0-8.7h0m0.1-14.5h0m0.1 14.6h0m0.1-11.3h0m0 8.9h0m0-1.9h0m0.2 3.9h0m0.1 3.9h0m0.1-17.6h0m0.1 4.8h0m0-7.4h0m0 13.6h0m0.1 2.7h0m0.1 2.7h0m0.1-22.2h0m0.1 13.4h0m0-7.4h0m0.1 4.9h0m0.1 2.3h0m0 1.6h0m0.1-11.3h0m0 9h0m0.1-10.5h0m0 8.2h0m0.1-7.7h0m0.2 1.1h0m0 16.2h0m0.3-4.4h0m0.1-6.6h0m0 0.1h0m0.2-5.8h0m0.1 7.6h0m0.1 6.8h0m0-6.2h0m0.1-1.8h0m0.1-5.5h0m0.2 6.3h0m0.1-1.2h0m0 3h0m0-11h0m0 9.7h0m0.1 28.3h0m0-23h0m0.1 0.8h0m0-7.6h0m0 2.8h0m0-3h0m0.2 14.3h0m0.2-5.8h0m0-13.1h0m0.2 8.1h0m0.1 0.9h0m0.2-2.2h0m0-5.4h0m0.2 16.3h0m0.1-20.9h0m0 7.5h0m0 5.2h0m0.1-4.4h0m0 5.5h0m0.1-2.3h0m0 4.2h0m0-9.7h0m0.1-1h0m0-0.7h0m0 10.3h0m0.1-12.6h0m0 11.3h0m0-3.2h0m0.2 2.7h0m0.1-5h0m0 0.8h0m0.1 1.3h0m0.1 14.5h0m0-10.4h0m0.1-1.8h0m0.2 3.1h0m0.2-6.6h0m0 9.5h0m0 15.2h0m0.1-34.7h0m0 21.4h0m0.2-1.1h0m0 3.6h0m0.1-4.1h0m0-5.2h0m0.1 0h0m0-1.1h0m0.1-7.4h0m0 15.8h0m0-13.2h0m0 8.8h0m0-11.8h0m0.1 19.3h0m0.1-13.2h0m0 14.8h0m0-7.1h0m0-4.8h0m0.1 2.4h0m0-10.7h0m0.1 15.7h0m0 6.2h0m0.1-19.3h0m0 12.4h0m0.1-2.7h0m0 1h0m0.1 3.6h0m0.1 1.7h0m0-3.7h0m0.2 5.6h0m0.1-6.5h0m0.1-14.7h0m0 11.2h0m0.1-5.1h0m0-5.2h0m0.1 11.4h0m0.3-0.3h0m0.2 11.8h0m0.2-19.6h0m0 4h0m0 12.1h0m0.1-6.7h0m0.2-9.6h0m0.1 12.5h0m0.1-10.2h0m0-1.6h0m0.1 3.8h0m0-0.5h0m0 10.5h0m0-6.9h0m0.1 4.2h0m0.1-1.3h0m0.2 2.6h0m0-13.2h0m0.1 8.7h0m0.1-5.9h0m0 6.4h0m0 6.8h0m0.1-6.1h0m0.1 10h0m0.1-9.4h0m0.1-8.3h0m0.2 4.8h0m0-4.7h0m0 24.4h0m0.4-9.1h0m0-20.5h0m0 8.4h0m0.1 5.6h0m0-18.2h0m0.2 17h0m0 4.4h0m0.1-6.1h0m0.1 2h0m0-4.7h0m0.1 8h0m0.1-10.1h0m0-2.5h0m0.3 9.5h0m0 2.1h0m0-6.6h0m0 3.7h0m0.1-9.9h0m0.1 12.4h0m0.1-3.4h0m0.3-4.3h0m0 4.8h0m0-12.7h0m0.1 10.8h0m0.2 24.9h0m0.1-13.1h0m0.2-7.4h0m0 1.7h0m0.2 6.3h0m0.2-10.4h0m0.2-6.8h0m0 13.5h0m0.4-10.5h0m0.1-0.8h0m0.1 1.3h0m0.1-5.1h0m0.1 3.5h0m0.1-4.1h0m0.2 5.8h0m0-0.3h0m0.1 1h0m0.2-19.8h0m0.1 8h0m0.1 7.7h0m0.1-3.7h0m0-1.4h0m0.1 13.9h0m0.2 1.2h0m0.1-10.6h0m0.1-4.5h0m0 11.2h0m0.2 3.2h0m0.1-18.9h0m0.1-1.6h0m0.1 16.8h0m0.2 5.9h0m0-1.3h0m0-11.1h0m0 3.8h0m0.3 0.7h0m0.1 2.1h0m0-11.5h0m0.2 16.1h0m0-4.3h0m0.2-2.6h0m0-6.4h0m0.1 0h0m0 1.1h0m0.2 10.2h0m0-11.2h0m0.3 9.7h0m0.2-19.5h0m0 4.5h0m0.1 10.8h0m0.2-10.6h0m0.1 6.3h0m0.1-0.6h0m0.2 2.6h0m0 3.8h0m0.1 13.4h0m0.1-19h0m0 7.1h0m0-17.5h0m0.1 3.1h0m0 1.9h0m0.2 7.6h0m0.1-6.5h0m0.1-4.8h0m0 11h0m0 2.2h0m0.3-4.7h0m0.1-4.8h0m0.1 1.6h0m0.1-2.1h0m0 3.6h0m0 2.7h0m0.5-6h0m0 2.5h0m0.1 9.9h0m0 0.6h0m0 0.2h0m0-7h0m0.1 3.3h0m0.2 1.7h0m0.2-1.9h0m0-0.4h0m0-0.6h0m0 3.2h0m0.1-3.3h0m0 5.7h0m0.1-8.2h0m0-1.9h0m0 3.2h0m0 3.3h0m0.1 0.6h0m0-4h0m0.2 3.9h0m0.1-0.6h0m0.1-3.7h0m0.3 4.4h0m0.2 0.8h0m0-2.8h0m0.1-3.1h0m0 7.1h0m0-5.2h0m0.1-8.2h0m0.1-1.7h0m0.2 9.2h0m0.3-9.7h0m0 7.1h0m0.1 1.4h0m0.1-1h0m0 0.5h0m0.1-0.5h0m0.2-7.9h0m0 16h0m0.1-2.3h0m0-12.8h0m0 7.9h0m0.1-7.1h0m0 6.2h0m0 3.2h0m0.1-4.1h0m0.1 3.8h0m0.2-9.7h0m0 14.2h0m0.1-6.5h0m0 8.2h0m0.1-14.4h0m0 0.9h0m0.1 6.3h0m0.1-5.5h0m0-1.2h0m0 6.5h0m0.2 6.9h0m0.3-11.5h0m0.1 9.9h0m0 4.4h0m0-19.9h0m0 19.9h0m0.1-13.4h0m0 3.1h0m0-2.6h0m0 2.2h0m0.2 4.5h0m0.1-3.5h0m0.1 4.7h0m0.1-4.9h0m0-5.4h0m0.1 5.4h0m0.2 3h0m0-11.1h0m0.1 7.7h0m0-7.5h0m0.2-3.2h0m0.1 15.5h0m0.1 7.6h0m0.2-15.8h0m0.1 9.1h0m0.1 7.9h0m0.1-8.4h0m0.1-4.7h0m0.1 0.8h0m0.1-3.7h0m0.1 6.2h0m0-5.3h0m0.2 13.1h0m0.1 8.9h0m0.2-12.1h0m0.1-4.5h0m0.3-1.7h0m0-6.8h0m0-4.4h0m0.1 9.1h0m0.1 7.9h0m0.2 0.7h0m0.1 7.4h0m0-20.2h0m0.1 0.2h0m0 3.5h0m0-2.5h0m0 15.2h0m0.1-4.7h0m0.1-12.8h0m0 27.5h0m0.1-15.6h0m0-9.7h0m0.3 8.4h0m0.1-3h0m0-0.9h0m0-2.4h0m0-5h0m0 1.6h0m0.1-0.5h0m0 8.7h0m0.1 2.3h0m0-7.1h0m0.1-1.4h0m0.3-1.4h0m0 9.9h0m0.2-3.7h0m0 0.8h0m0.1-8.7h0m0.1 2.9h0m0.2-3.1h0m0.2-6.3h0m0.1 3.6h0m0 3.4h0m0 3.6h0m0-7.6h0m0.2 3.3h0m0 1.2h0m0.1 6.2h0m0-1.9h0m0.4-1.1h0m0.2-6.3h0m0 8.1h0m0.1 1.3h0m0.1-14.6h0m0 16.3h0m0.1-0.9h0m0.1-2.3h0m0-0.4h0m0.2 0.3h0m0.2-1.6h0m0.1-2.1h0m0.2-0.4h0m0 4.2h0m0 4.1h0m0.2-4h0m0 8.7h0m0-6.9h0m0.1-7.5h0m0 7h0m0.2-7.7h0m0.2 1.5h0m0 16.9h0m0.7-18.9h0m0.1 14.9h0m0-12.5h0m0.1 8.3h0m0-5.6h0m0 9.9h0m0-5.8h0m0.1 9.8h0m0-3.4h0m0.1-8.2h0m0.3-1.3h0m0-2.8h0m0 9.7h0m0.1-6.2h0m0.3-6.9h0m0 12.3h0m0.1 0.3h0m0-7.5h0m0.1 2.6h0m0.1 0.5h0m0-4.6h0m0 9.7h0m0.4 4.8h0m0.3-17.9h0m0.1-1.9h0m0.1 13.8h0m0-3.9h0m0.2-0.3h0m0.3-3.5h0m0.1 9h0m0.1-1.2h0m0-2.7h0m0.2-13.6h0m0 5.2h0m0.1-1.1h0m0 7.2h0m0-11.3h0m0.2 1.2h0m0.1 8.8h0m0.1 7.1h0m0.1 3.5h0m0.2-17.9h0m0.2 9.4h0m0.1-2.3h0m0-2.7h0m0.1 9.1h0m0.1-5.8h0m0.1 1h0m0.1-2.3h0m0.1-5.3h0m0.1 1.4h0m0.1 31.7h0m0-21.3h0m0-6.8h0m0.1-4.8h0m0.2 0.3h0m0.1 10.2h0m0.4-4.3h0m0.1-4.2h0m0 15.5h0m0.1-5.7h0m0-5.3h0m0.1-8h0m0.1 5.4h0m0.1 7.4h0m0.2-11h0m0 0.7h0m0.1 5h0m0 4.3h0m0-7.8h0m0.1-0.5h0m0.1 4.7h0m0 3h0m0.1 6.1h0m0-2.3h0m0-5h0m0.1-12.1h0m0.1 4.9h0m0.1 2.2h0m0 0.8h0m0 1.6h0m0.1 17.7h0m0-22h0m0.1 0.7h0m0 11.3h0m0.1-22.6h0m0 21.1h0m0-14.9h0m0.1 13.7h0m0-4.1h0m0.2 1.7h0m0.2-8.5h0m0.2 15.4h0m0.1-2.3h0m0 2.1h0m0.2-13.1h0m0.1 2.2h0m0.1 3.7h0m0-7.7h0m0.1 3.2h0m0-6.7h0m0 1.6h0m0 0.3h0m0.1 14.7h0m0.1-16.3h0m0 15.3h0m0-6.9h0m0.1 4.8h0m0.1 16.6h0m0-27.1h0m0 7.7h0m0.1 2.1h0m0-1.2h0m0 0h0m0.1-0.5h0m0.1 4.2h0m0 3.6h0m0-2.5h0m0.1-6.1h0m0 5.1h0m0.1-0.1h0m0 14.8h0m0.3-13h0m0-0.4h0m0.2-3.3h0m0.1-0.6h0m0.1-6.7h0m0-4.2h0m0.1 13.9h0m0.1-6.4h0m0.3 5.1h0m0.2 1.4h0m0.7-9.1h0m0.1 5h0m0.1-2.3h0m0.2 4h0m0.1 5.1h0m0-3.1h0m0.1-0.5h0m0.1-4.8h0m0.2 2.8h0m0-6.6h0m0.1 2.8h0m0.1-1.3h0m0.1 7.3h0m0.1 4.9h0m0.1-12.4h0m0 8.3h0m0.1-6.9h0m0-4.8h0m0.1 6.8h0m0 0.3h0m0.1-1.3h0m0.1 7.5h0m0.2-6.8h0m0 3.8h0m0-6.7h0m0.2 2.2h0m0.1 4.8h0m0.2 5h0m0.4-11.7h0m0-7.4h0m0.1 2.1h0m0-18.2h0m0.1 26h0m0.4 4.8h0m0.2-14.5h0m0.1 10.7h0m0.1-3.2h0m0-4.5h0m0 3h0m0 14h0m0.1-22h0m0.1 11.4h0m0-4h0m0.1-1.4h0m0.3-4.2h0m0.1 9h0m0-9.5h0m0.1 29.2h0m0-15.7h0m0.1 2.1h0m0.1-3.3h0m0.1-5.2h0m0 4h0m0.2-3.2h0m0.2 5h0m0-4.4h0m0 10.4h0m0.1-10.7h0m0-5.1h0m0.1 10.8h0m0.1-6.7h0m0.3-7.2h0m0 16.3h0m0-21h0m0.1 19.2h0m0.1-0.8h0m0.1-10.6h0m0 6.6h0m0.1 2h0m0-18.9h0m0.3 23.9h0m0-3.2h0m0.1-7.7h0m0-5.1h0m0 4.1h0m0.1-4.4h0m0 7.3h0m0.1 1.5h0m0.2-3.4h0m0 3.4h0m0-11.5h0m0 18.8h0m0.1-16h0m0.3 4.6h0m0 9.5h0m0-7.6h0m0.2 21.4h0m0.2-20.6h0m0 6.2h0m0.3 8.4h0m0-14.8h0m0 14.8h0m0.1-3.2h0m0 2.9h0m0.2-1.3h0m0-3.4h0m0.1-4.3h0m0.1 5.6h0m0.3-7.2h0m0.2 6.8h0m0-7.7h0m0.1-4.2h0m0.1 1.6h0m0 26.7h0m0.2-27.7h0m0 8.9h0m0.2 2.9h0m0-4.4h0m0.2 3.5h0m0.1-10.9h0m0 6.5h0m0.1 7h0m0 7.9h0m0.1-23.9h0m0.2 8.6h0m0 3.5h0m0.1 0.7h0m0.4 0.2h0m0.2-2.1h0m0.1 10.9h0m0-11.7h0m0 2.4h0m0.1 2.2h0m0-1.1h0m0.3-9.4h0m0.1 5h0m0.1-7.5h0m0.2 0.6h0m0.1 4.9h0m0 17.9h0m0.1-17.3h0m0.2-10.5h0m0.1-4.3h0m0.1 8.1h0m0.1 12h0m0-17.1h0m0 20.5h0m0.1-10.1h0m0.2 8.8h0m0-7.4h0m0 1h0m0.1-9.2h0m0 6.6h0m0 7.6h0m0.1-14.5h0m0.1 8.6h0m0.1 9.1h0m0-5.9h0m0 4h0m0-7.5h0m0.1-1.5h0m0.3 14.8h0m0 5.9h0m0.1-33.1h0m0.1 21.1h0m0.1-11.7h0m0.1 6.1h0m0.1-3.3h0m0.2 4.3h0m0.1-0.8h0m0.1-13.8h0m0.2 7.1h0m0-3h0m0 6.7h0m0.1 9.6h0m0.1-9h0m0.4-20.4h0m0 10.9h0m0.5 0h0m0.1-5.3h0m0.1 7.7h0m0 6h0m0.1-2.8h0m0.1-4.3h0m0 13.2h0m0.1-8.8h0m0 4.8h0m0.1-6.1h0m0 6.9h0m0.4-5.9h0m0-2h0m0 4.8h0m0.3 13.5h0m0-14.5h0m0 17.9h0m0.1-22.2h0m0.1 1.9h0m0 11.1h0m0-10.3h0m0 2.6h0m0-1h0m0.1-1.6h0m0.1-0.3h0m0 3.6h0m0-1.8h0m0.2 10.8h0m0.3 1.7h0m0.1-22.5h0m0.5 12.5h0m0.1-2.8h0m0-7.9h0m0.2 9.6h0m0.1-6h0m0-2.7h0m0.2 10.3h0m0.1 0.5h0m0-2.5h0m0.1 4.6h0m0.1-6.3h0m0 3.4h0m0-2.8h0m0.2 0.1h0m0-3.6h0m0-9h0m0.1 21h0m0.3-4.9h0m0.1-2h0m0 3.1h0m0-10.3h0m0.1 10.3h0m0-2.2h0m0.2-9.7h0m0 1.5h0m0.2 4.4h0m0.1 11.5h0m0.2-7.3h0m0.1-0.2h0m0 2.7h0m0.4 3.5h0m0.4-0.1h0m0.1-12.7h0m0.1 7.9h0m0 6.1h0m0.3-2.8h0m0-6.1h0m0.3 2.4h0m0-0.5h0m0.1-9.7h0m0.2 18.7h0m0.2-4.1h0m0 3.2h0m0.1-9.6h0m0-0.3h0m0.1 4.3h0m0.1 4.2h0m0 2.6h0m0.2-12.5h0m0 6.7h0m0-24.1h0m0 34.2h0m0.2-14.8h0m0-4.7h0m0.2 4.1h0m0.3 5.1h0m0.1-6.5h0m0.1-2.2h0m0 6.3h0m0.1-3.8h0m0.1 4h0m0.1 5.8h0m0-2.4h0m0.2 2.6h0m0.2-6h0m0.2 4.3h0m0 12h0m0-14h0m0.2 3.6h0m0 14.4h0m0-10.2h0m0.1-21.7h0m0.1 5h0m0.2 8.7h0m0.1-2.7h0m0.1 1.7h0m0 14.7h0m0-10.4h0m0.1 2h0m0 0.5h0m0.2-6.6h0m0.2 19.7h0m0-16.4h0m0.2-9h0m0 2.9h0m0.1 8.2h0m0.1 9.6h0m0.1-12.4h0m0-2.3h0m0.1 2.7h0m0.2 2.1h0m0-7.1h0m0.1 2.7h0m0.1 0.8h0m0 1.9h0m0.1-1.4h0m0.2 2h0m0-6.4h0m0.1 3h0m0.1 6.1h0m0-17.1h0m0 8h0m0-0.5h0m0.1 6.7h0m0.1-6.9h0m0.2-3.3h0m0 6.8h0m0.1-7.6h0m0 8.8h0m0.1-6.5h0m0.1 4.4h0m0.2 7.5h0m0.1-8.1h0m0.4 2.9h0m0.2 1h0m0.2 1.1h0m0-4.5h0m0.1 16.4h0m0-16.3h0m0 4.8h0m0.1-7.2h0m0.2 13.5h0m0-9.1h0m0.2 3.6h0m0.1-5.4h0m0.1-3h0m0-0.5h0m0.3 4.7h0m0.1-10.7h0m0.1-0.8h0m0 2.4h0m0 8.4h0m0.1-4h0m0.3-0.9h0m0.1-12.6h0m0.1 6.7h0m0.1 1.3h0m0.2 4.3h0m0-5.9h0m0.1 9.6h0m0.1 1.1h0m0 0.3h0m0.1 0.6h0m0 0.8h0m0-15.3h0m0.1 11.1h0m0.1 3.9h0m0.1-5.5h0m0.1 7.9h0m0.1-12.7h0m0 3.2h0m0.1 9.2h0m0-8h0m0.1-3h0m0 13.3h0m0.1-12.4h0m0.1 2.7h0m0.1 2.6h0m0.1-12.2h0m0 8.1h0m0 1.7h0m0.1-10.3h0m0.1 16h0m0-3.2h0m0.1 0.4h0m0.1-0.4h0m0.2 3.5h0m0.1-9.7h0m0.1 8h0m0-5.2h0m0 1.3h0m0-0.7h0m0.1-2.4h0m0 0.8h0m0.1 9.7h0m0.3-8.5h0m0.1-3.9h0m0.3 6h0m0.1-13.7h0m0.1 23h0m0.2-2.2h0m0-11h0m0.1 7.7h0m0 7.8h0m0-7.7h0m0.1-15.3h0m0.1 3.3h0m0 7.1h0m0.2-5.5h0m0.2 3.1h0m0.2-5h0m0 4.8h0m0-1.1h0m0.1 4.6h0m0 12.6h0m0.1 9.5h0m0.1-25.5h0m0.1 1.1h0m0.1 2.9h0m0 3.8h0m0.1-7.1h0m0 5.3h0m0.1 0.1h0m0.1-4.8h0m0.1 4.8h0m0.6 3.6h0m0-2h0m0-7.5h0m0.1 2.9h0m0.2-3.2h0m0-0.8h0m0.2 0.2h0m0.1-3.8h0m0 4h0m0 0.5h0m0.1-3h0m0 8.5h0m0.1-6.8h0m0.1-3.2h0m0.2 12.2h0m0.1-10.2h0m0 6.2h0m0 1.8h0m0.1-4.7h0m0 12.7h0m0.1-9h0m0.1 1.3h0m0-3.9h0m0.1 10.6h0m0-12h0m0.1 7.5h0m0.3 8.4h0m0-11.4h0m0 2.1h0m0.3-11.1h0m0 3.5h0m0.2 9.2h0m0.1-1.9h0m0-8.7h0m0.4 2.8h0m0 3.4h0m0.1-8.4h0m0 18.9h0m0.1-5.6h0m0 3.3h0m0.3-17.4h0m0 8.6h0m0.1-1.9h0m0-6.6h0m0.1 26.5h0m0-11.9h0m0.1-12.3h0m0 3.4h0m0.3 0.3h0m0.1-1.5h0m0 2.6h0m0.2 7.3h0m0.1-3.5h0m0.1-5h0m0 5.5h0m0-5.7h0m0 3.5h0m0.1 2.2h0m0.3 2.4h0m0.1-2.3h0m0-6h0m0.1-1.4h0m0 19.6h0m0.2-34.1h0m0.2 14.6h0m0.1 9h0m0.2-7.8h0m0.1 3.2h0m0-0.7h0m0-6.4h0m0.2 8.4h0m0.1-0.9h0m0.2-0.9h0m0.1-9.4h0m0.1 6.7h0m0 6h0m0 3h0m0.2-2.5h0m0-3.4h0m0-14.6h0m0.1 20.3h0m0.1-6h0m0.3-0.5h0m0 2.1h0m0.2-5.5h0m0.1 4.4h0m0-3.5h0m0 2.1h0m0.1 9.6h0m0.1-9.8h0m0.1 28.9h0m0-31.9h0m0.1-5h0m0.1 6.9h0m0.1-1.4h0m0.1 7.4h0m0 1.1h0m0-3.7h0m0.3-5.7h0m0-0.6h0m0.1 3.8h0m0-0.3h0m0.2 4.5h0m0-4.6h0m0-2.1h0m0.2 3.1h0m0.1 19.2h0m0-21.7h0m0.2 0.9h0m0 0.1h0m0 0.2h0m0-0.4h0m0 6.2h0m0-2.3h0m0.2-5.4h0m0.2 7.3h0m0.1 7.2h0m0.1-8.9h0m0-4.9h0m0.1 4.4h0m0-2.3h0m0 5.5h0m0.1-17.1h0m0.3 12.8h0m0.1-6h0m0.1 1.9h0m0 16.1h0m0-8.5h0m0.1-5.6h0m0.1-4.4h0m0-2.1h0m0.4-2.3h0m0 37.9h0m0.1-35.5h0m0 1.9h0m0 31h0m0.2-23.3h0m0.1-8.5h0m0 10.6h0m0-11.4h0m0.1-5.3h0m0.1 11.3h0m0 10.9h0m0.1-15.3h0m0.1 11.6h0m0-3.8h0m0.1-5.4h0m0 3.8h0m0.1 4.7h0m0-5.8h0m0.2 1h0m0 3.7h0m0-8h0m0-7.1h0m0 4h0m0.6 5.4h0m0 7h0m0-1.5h0m0.1-10.9h0m0 0.1h0m0.1-3h0m0 1.3h0m0.3 11.2h0m0-19.7h0m0.1 15.1h0m0.1 1h0m0.2-2.4h0m0.1 8.7h0m0-12.1h0m0 7.8h0m0.2 6.7h0m0.1-13.4h0m0-3.6h0m0.4 5.8h0m0.1-2.7h0m0 6.5h0m0.1-8.1h0m0.2 5.7h0m0.1-1.3h0m0-2.7h0m0 1.6h0m0 8.5h0m0.1-6.1h0m0.2 2.4h0m0.1 8.5h0m0 0.1h0m0-14h0m0.1-5.8h0m0.2 0.4h0m0-14.1h0m0.1 30.4h0m0.1-1.9h0m0.2-3.2h0m0-16.2h0m0 1.4h0m0.1 3.6h0m0.1-0.9h0m0.3 13.4h0m0-7.5h0m0.3-20.6h0m0 14.1h0m0.2 3.1h0m0-4.3h0m0.2 3.1h0m0.2-5.2h0m0 6.8h0m0.2 1.7h0m0-3.1h0m0.1 5.8h0m0-7.2h0m0.1 7h0m0.2-4.2h0m0.1-9.9h0m0-6.1h0m0.1 4.9h0m0 7.2h0m0.1 13.1h0m0.1-24.9h0m0 16.2h0m0.1-1.4h0m0.1 4.1h0m0.1 6.7h0m0.1-21.9h0m0 15.9h0m0.1-17.8h0m0.3 32.9h0m0-27h0m0-8.8h0m0.1 18.8h0m0-8.6h0m0 1.4h0m0 15.7h0m0.1-19h0m0 29.5h0m0-15.8h0m0.1-11.1h0m0.1 10.3h0m0-5.3h0m0 2.3h0m0.2-0.3h0m0 8.2h0m0.1-1.9h0m0.2-9.9h0m0-9.8h0m0 22.3h0m0.1-12.2h0m0.1 2.2h0m0-14.9h0m0.1 3.9h0m0.1 18.4h0m0.1-18.3h0m0.2 19.3h0m0.1-9.1h0m0.2-1.1h0m0.1 2.1h0m0-6.3h0m0.1 0.1h0m0.4 1h0m0.1 26.6h0m0-24h0m0.2 5.9h0m0.1-11.2h0m0 22h0m0.1-24.4h0m0 3.5h0m0 4.5h0m0.1-4h0m0 9.3h0m0.1-8.6h0m0.1-3.2h0m0.2 12.1h0m0-4.8h0m0 0.7h0m0.1-6.3h0m0.2 3.1h0m0-1h0m0.1 3.4h0m0-10.3h0m0 8.2h0m0.1-0.8h0m0.1-8.2h0m0.2 32.5h0m0.1-19.1h0m0.1-14.4h0m0.1 20.2h0m0-8.7h0m0.2-0.3h0m0-9.7h0m0.2 7.6h0m0 10h0m0.2-0.2h0m0.2-6.7h0m0.1 7.8h0m0-5.4h0m0 1.2h0m0.1-19.7h0m0.1 21.4h0m0.1 0.8h0m0-4.6h0m0 0.2h0m0 5.1h0m0.2-3.9h0m0 2.9h0m0.1 5.4h0m0-23h0m0.1 13.6h0m0.1 5.6h0m0-18.3h0m0 17h0m0.1 3.3h0m0.1-10.5h0m0.1-6.4h0m0.1 10.2h0m0-11.3h0m0.2-8.2h0m0.1 8.8h0m0 0.4h0m0.1 7.8h0m0.2-4h0m0.1-3.6h0m0.1 12.1h0m0 1h0m0.1-14.8h0m0 11.7h0m0-1.2h0m0.1 8.6h0m0-18h0m0.1-0.6h0m0 7.4h0m0 4h0m0.2-4.3h0m0.1-0.6h0m0-12.8h0m0 26.2h0m0-12.1h0m0.1 4.6h0m0 8.3h0m0-14.8h0m0.1 5.2h0m0 1.8h0m0.2 6.3h0m0.1-7.4h0m0 4h0m0 4.6h0m0-2.1h0m0.1-12.8h0m0.3 17h0m0.1-10.7h0m0 3.9h0m0.1-2.3h0m0-7h0m0.1 14.4h0m0.4-13.2h0m0 6.1h0m0.2 8.7h0m0.1-26.1h0m0 14.4h0m0.1-16.7h0m0.3 8.6h0m0.1 16.3h0m0.2-6.7h0m0-5.3h0m0-3.9h0m0.1 6h0m0-5.2h0m0 9.5h0m0.2-0.2h0m0-3.4h0m0.5-0.1h0m0-6.6h0m0.1 14.4h0m0-11.8h0m0.1 0.9h0m0.2-0.2h0m0.1 9.1h0m0-12.7h0m0-2.6h0m0 7.3h0m0.1-3.8h0m0 8.5h0m0.2 3.5h0m0-9.5h0m0 6.6h0m0.1-4h0m0 1.8h0m0.1-3.6h0m0.2 5.1h0m0.1-4h0m0-6h0m0.3 11.4h0m0.1-1.7h0m0-4.4h0m0.1 6.5h0m0-0.2h0m0.2 0.9h0m0.3-0.2h0m0-6.5h0m0.1 15.9h0m0.2-3.9h0m0-3.6h0m0 16.5h0m0-17.6h0m0.1 1.6h0m0-4.8h0m0.1 8.2h0m0-1.8h0m0.1-1.2h0m0.2 0.7h0m0.1-4.1h0m0 7.8h0m0.2-13.2h0m0.1 5.4h0m0 11.3h0m0.1-15.6h0m0 14.1h0m0.1-21.4h0m0 12.3h0m0 15.5h0m0-11.8h0m0-10h0m0.1 7.5h0m0-1.3h0m0-3.2h0m0.2 11.3h0m0 1h0m0.2-11.3h0m0.2-4h0m0.1 15.5h0m0-5.3h0m0.2-4.8h0m0.1 0.6h0m0 8.4h0m0.1 10.1h0m0-27.2h0m0.2 11.8h0m0-9.3h0m0.2 13.1h0m0.1-9.4h0m0.1 4.7h0m0-1.4h0m0 2.8h0m0.1-9h0m0-6.9h0m0.2 10.4h0m0.1 11.8h0m0.1 6.3h0m0.3-10.3h0m0.1 5h0m0.1-6.9h0m0 11.9h0m0-10.2h0m0 1.1h0m0.1 4.5h0m0-14.3h0m0 7.7h0m0.1 13.7h0m0.2-5h0m0.1-3.8h0m0.2-10.1h0m0 14.7h0m0.1-15h0m0 5.8h0m0-1h0m0 6.8h0m0-7.1h0m0 11.6h0m0.1-16.9h0m0.1 11.6h0m0.1-7.6h0m0.1 15h0m0.3-7.7h0m0.1-10.1h0m0 22.2h0m0-13.4h0m0.1 6.7h0m0-3.6h0m0.2-10.9h0m0 13.3h0m0.1-7.2h0m0-2.2h0m0.1 8.2h0m0-7.3h0m0 9.5h0m0-3h0m0 4.3h0m0.3-11.5h0m0.1-1.1h0m0 6.3h0m0.1-3.6h0m0.1 1.8h0m0.1 6.9h0m0-3.8h0m0.1-4.2h0m0-0.9h0m0.1-1.9h0m0 4.7h0m0.3-4.3h0m0.1-11.5h0m0.1 10.1h0m0 5.5h0m0.1-0.3h0m0-0.9h0m0-5.2h0m0.2 7.4h0m0 2.4h0m0.2-11.5h0m0 7h0m0-5.4h0m0.1 2.6h0m0.1-6.8h0m0.1 15.3h0m0.1-13h0m0.1 6h0m0.1 1.4h0m0-1.3h0m0.1-3.4h0m0 9.9h0m0.1 2.8h0m0.1-16.8h0m0 11.6h0m0-3.1h0m0-17.2h0m0.2 24.2h0m0.1 0.3h0m0.1-8.8h0m0.2 9.1h0m0-2.3h0m0.1-10.9h0m0.1-6.8h0m0.1 12.1h0m0-1.7h0m0.1-8.8h0m0.6 5.2h0m0 5h0m0.1-4.9h0m0-4.1h0m0 2.6h0m0 10.8h0m0.2 2h0m0.1-13.7h0m0.1-0.8h0m0.1 7.9h0m0.2-0.3h0m0 4.5h0m0.1-1.8h0m0 2.7h0m0.1 0.3h0m0 6.7h0m0.1-15h0m0-8.4h0m0 16.1h0m0.1-5.7h0m0.1 7.4h0m0-6h0m0 10.6h0m0.2-14.7h0m0.1 6.5h0m0 1.5h0m0-6.3h0m0 20.9h0m0.5-5.3h0m0.3-19.8h0m0 4.1h0m0.1 3.9h0m0.1 0.4h0m0-1.8h0m0.1-1.5h0m0.2 5.8h0m0.2-3.5h0m0-11h0m0.2 22.6h0m0-17.2h0m0.1 3.2h0m0-2.1h0m0 12.9h0m0.2-4.3h0m0.1-11.4h0m0 10.7h0m0.2 7.7h0m0.1-5.2h0m0.1-2.7h0m0.3-1.9h0m0.1-8.2h0m0 11.5h0m0.3-8.5h0m0 7.2h0m0 6.7h0m0-1.8h0m0-3.4h0m0.1-8.8h0m0.1 0.2h0m0.1-10h0m0.2 14h0m0 0h0m0-7h0m0.1 10.2h0m0-14.4h0m0.2 12.6h0m0.3-11.2h0m0.1 7.6h0m0.1 7.3h0m0.1 0h0m0.2-14.2h0m0 15.7h0m0.2-14.6h0m0 6.9h0m0.1-1.6h0m0 5.3h0m0 14.4h0m0-18.5h0m0.1 1h0m0.1 1h0m0 3h0m0.2-9.4h0m0.2 3.2h0m0.2 5.8h0m0-2.3h0m0 1.4h0m0.1 7.9h0m0-6.6h0m0.1-4.2h0m0-4.5h0m0.2 5.9h0m0.3 2.1h0m0 1.6h0m0.1-5h0m0.6 19.8h0m0.2-19h0m0.1-1.2h0m0.1-2.6h0m0 2.5h0m0 13.5h0m0.1-13.4h0m0.1 1.3h0m0 5.8h0m0.2-4.7h0m0.1 3h0m0-6.4h0m0.1 9.5h0m0-11.1h0m0.1-1.1h0m0.1 4.9h0m0-2.6h0m0.3 0.8h0m0 5.3h0m0.1-5h0m0.1 5.7h0m0.2-4.3h0m0.1-6.8h0m0.1 5.3h0m0.1 8.4h0m0-0.1h0m0.1-3.1h0m0 1.5h0m0-12.6h0m0 13.3h0m0.1 1.8h0m0.1-10.8h0m0.2-4.5h0m0 6.5h0m0 3h0m0.1-4.5h0m0.1-1.3h0m0.3 26.8h0m0.1-19.8h0m0 1h0m0.1 1.9h0m0.2-20.2h0m0.1 17.5h0m0-5.9h0m0.2 1h0m0.2 8.1h0m0.1-10.7h0m0 2.3h0m0.1 5.2h0m0-3.8h0m0 0.9h0m0.1-1.6h0m0.1 4.7h0m0.1 6h0m0-11.2h0m0.1 2.9h0m0.1 2.6h0m0.1-10h0m0 6h0m0.2 0.3h0m0.3 4.6h0m0 2.8h0m0-10h0m0.1 2.7h0m0 2.1h0m0-0.2h0m0-8.3h0m0.1 5.5h0m0.1 2.5h0m0.2 15.9h0m0-12.1h0m0.1-4.4h0m0 12.9h0m0-15.2h0m0.1-8.7h0m0.2 1.4h0m0 9.6h0m0.1 12.7h0m0.1-22.6h0m0.1 7h0m0.1 3.8h0m0 7.2h0m0.4-9.9h0m0.2-3.6h0m0.1-3.1h0m0.3 7.8h0m0.3-10.9h0m0.2 11.6h0m0 7.4h0m0-11.2h0m0 0.5h0m0.1 8.8h0m0-11.3h0m0.3 3.5h0m0-11h0m0 12.1h0m0.1 16.4h0m0.1-9.9h0m0-5.1h0m0 10h0m0-9.2h0m0 5.8h0m0.1-13.4h0m0 4h0m0.1 0.8h0m0.2-3.2h0m0 6.4h0m0.1 7.2h0m0-1h0m0.2 0.9h0m0-11.6h0m0-4.1h0m0 16.2h0m0-0.7h0m0.2-13.9h0m0.1 8.4h0m0.1 9.5h0m0-21.3h0m0 12.3h0m0 6h0m0-12.4h0m0.1 11h0m0.1-11.6h0m0.2-5.1h0m0 16.6h0m0.1-11.6h0m0.2 4.5h0m0 1.2h0m0 7.4h0m0.1-4.9h0m0.1 2.2h0m0.1-10.1h0m0.3 5.7h0m0.1-8.4h0m0.1 16.4h0m0.1-5.1h0m0.1-1.4h0m0-1.5h0m0 0.3h0m0.1 0.9h0m0.1-4.2h0m0.2-3.9h0m0 6.8h0m0.1 3.1h0m0.1-6.5h0m0.1 3.4h0m0.1-0.6h0m0 2.5h0m0.1-3.1h0m0.1-2.7h0m0.1 3.6h0m0 4h0m0.1-4.6h0m0.2-7.1h0m0.1 12.8h0m0.2-1.1h0m0.2-22.6h0m0 21.2h0m0.1-8.8h0m0 11.4h0m0.1-7.3h0m0-3.2h0m0.1 9.2h0m0-5.5h0m0.1-3.5h0m0.1 11.6h0m0.2-3.5h0m0.1-3h0m0 2.8h0m0.1-1.3h0m0-4h0m0.1 4.7h0m0-2.7h0m0 2.9h0m0.1-10.1h0m0.2 12.1h0m0.2-5.4h0m0-3.3h0m0.2 4.4h0m0.1-0.1h0m0 3.4h0m0.1 5.9h0m0.1-4.6h0m0.1-5h0m0.1 8.2h0m0.1-5.5h0m0.1 1.6h0m0-8.9h0m0-4.2h0m0.2 16.2h0m0-6.3h0m0 7.2h0m0 3.8h0m0.1-5.8h0m0-14.4h0m0.1 24.8h0m0-18.9h0m0.1-0.7h0m0 3.8h0m0.1 1.2h0m0.1-4.6h0m0 7.1h0m0.2 1.8h0m0-8.4h0m0-2.5h0m0.4 14.8h0m0.2-9.6h0m0-5.3h0m0.1 8.6h0m0.1-17h0m0.2 16.2h0m0 0.9h0m0.2-6.3h0m0.1 6.6h0m0-2.6h0m0-9.7h0m0.1 2.2h0m0-4.7h0m0.1 10.6h0m0.1-8.3h0m0.2 9.3h0m0 1.8h0m0.1 1.7h0m0.1 0.6h0m0-2.9h0m0.1 3.5h0m0.2-11.3h0m0-7.2h0m0.2 12.7h0m0-0.4h0m0.1 3.3h0m0.3-1.4h0m0 0h0m0-3.3h0m0.1 2h0m0.3 1.2h0m0.5 5.4h0m0-14.8h0m0.2 13.3h0m0.1-7.4h0m0 1.2h0m0.1 5.5h0m0-1.8h0m0.1-2.9h0m0 9.1h0m0.1 0.1h0m0.1-10.7h0m0.1 1.3h0m0-5.5h0m0.1 4.4h0m0.1-10.4h0m0 9.4h0m0-16.9h0m0.1 17.3h0m0-10.2h0m0.1 3.9h0m0.1-0.3h0m0.1-4.4h0m0.1 3.8h0m0.1-0.9h0m0.2-1.3h0m0.1 10.6h0m0-15.3h0m0.5 4.5h0m0 5.2h0m0 3h0m0 0.3h0m0-7.8h0m0.1-1.2h0m0.2 5.1h0m0-1h0m0-3.3h0m0.1 4.6h0m0 3.7h0m0.2-3.1h0m0-10.9h0m0.1 3.2h0m0.1-0.8h0m0.1 5.5h0m0.1 2.6h0m0 1.2h0m0-8.8h0m0.1 3.9h0m0.1-5.6h0m0.1-11.3h0m0 16.1h0m0.1 14.3h0m0-9.4h0m0 6.4h0m0.1-8.1h0m0.1-9.8h0m0 14.9h0m0.1-4.6h0m0.1 11.4h0m0.1-14.4h0m0.1 4.3h0m0 5h0m0.1 3.9h0m0-10.2h0m0.1-10.6h0m0.2 11.1h0m0 4.9h0m0.1-6h0m0.1 0.9h0m0.1-1.9h0m0.2 7.4h0m0.1-14.8h0m0.2 33.4h0m0.3-29.7h0m0-0.1h0m0.2 5h0m0.1 6.8h0m0.2 15.1h0m0-26.7h0m0.3 3h0m0.1-3h0m0 0.7h0m0.1-1h0m0.3-1.2h0m0.2 7.9h0m0-2.3h0m0.1 3h0m0.1 0.1h0m0 0.5h0m0.1 12h0m0.2-14h0m0.2 8h0m0.1-8.3h0m0 1.8h0m0.1-3.5h0m0.2 0.6h0m0.1 0.5h0m0.2 4.6h0m0.3-8.9h0m0.1 1.5h0m0 7.8h0m0.1-9.5h0m0.1 2h0m0 1.5h0m0.3 8.3h0m0-10.2h0m0.3 3.4h0m0 6.9h0m0.4 2.2h0m0.1-7.2h0m0.1 9.5h0m0.1-3.4h0m0-3.1h0m0.1-2h0m0-4.6h0m0.1 15h0m0.1-18.4h0m0.2 1.3h0m0 6.9h0m0.1 3h0m0-2.6h0m0.1-2.7h0m0 6h0m0-7.6h0m0 1.5h0m0.1 0.5h0m0.1 0.4h0m0.1 0h0m0.1-4.2h0m0.2 7.7h0m0-8.8h0m0.1 0.1h0m0-4.6h0m0.1 8h0m0 10.8h0m0.1-7.7h0m0 7.1h0m0-25.6h0m0.2 15.1h0m0.1-7.7h0m0 12.4h0m0-5.2h0m0.1-1.2h0m0.2 11.6h0m0.1-10h0m0 4.1h0m0.1-2.5h0m0.4-12.9h0m0.1 9.3h0m0.1 4.7h0m0.1 6h0m0 1.3h0m0 5.7h0m0.2-8.4h0m0-6.3h0m0.1-6.4h0m0 5.4h0m0-1.9h0m0.2-3.9h0m0.2-0.2h0m0 7.1h0m0.1-8.6h0m0.2 3.1h0m0.1 5.1h0m0-12.7h0m0.3 8.6h0m0.1 3.4h0m0 0.1h0m0.1-1.3h0m0 1.3h0m0.1 2h0m0.1-3.5h0m0.3-2.2h0m0 5.7h0m0.1 8.7h0m0-13.8h0m0.1 10.3h0m0.1-3.4h0m0 7.4h0m0-2.1h0m0.1-7.4h0m0.1 8.7h0m0.2-2.9h0m0.2 0.1h0m0.1-0.1h0m0-12.1h0m0.1 4.9h0m0.1 9.3h0m0.2-11.5h0m0 0.3h0m0.2 30.1h0m0.1-25.1h0m0.1-1.7h0m0-5.4h0m0 5.5h0m0.1 8.1h0m0.1-8.8h0m0.1-1.7h0m0.1 5.9h0m0.1-2.4h0m0.1-4.6h0m0.1 5.8h0m0-9.5h0m0.1 3.6h0m0.1 16.2h0m0.1 13.5h0m0.2-3.1h0m0.1-31.7h0m0.2 11.6h0m0 8.1h0m0.1-12.8h0m0.1 5.1h0m0.1-2.2h0m0-0.2h0m0.2-4.8h0m0 7.5h0m0-8.3h0m0.1 1.8h0m0.2 5.1h0m0.1-7.9h0m0.1 0.5h0m0.1-0.1h0m0.1 4.2h0m0 2.6h0m0-4.4h0m0.1 6.2h0m0.2 0.2h0m0-0.2h0m0-8.8h0m0.2 8.6h0m0-0.6h0m0-4.3h0m0.1 7h0m0.2-1.3h0m0 4.8h0m0-5.7h0m0.2-1h0m0 0.4h0m0.1-5.3h0m0.1 1.4h0m0-0.9h0m0-6.6h0m0 12h0m0.1 1.9h0m0.1-3.1h0m0 15h0m0-7.7h0m0.2-7.5h0m0-0.8h0m0 4h0m0.1-1.1h0m0 2.6h0m0.1-14.6h0m0.1 1.1h0m0 2.4h0m0-2.6h0m0.3 13.4h0m0.2 1.1h0m0.1 2.5h0m0-7.9h0m0.2 8.5h0m0-30.5h0m0 29.7h0m0-9.4h0m0.2-0.8h0m0.1-2.4h0m0 7.1h0m0.1-0.2h0m0-8.3h0m0 9.5h0m0.1 12.8h0m0.2-17h0m0.1-4.3h0m0 5.3h0m0.1 0.1h0m0 5.4h0m0.1-6.6h0m0.3 9.3h0m0-16.3h0m0.1 9.9h0m0.2-3.8h0m0 5.3h0m0-9.3h0m0.1 6.8h0m0.1-1.1h0m0 0.4h0m0-3.2h0m0.1 3.8h0m0.3 1h0m0.1-1.9h0m0.1-0.4h0m0.1-6.8h0m0.1 1.9h0m0 5.9h0m0-3.9h0m0.3-3.6h0m0.2-0.5h0m0.1 6.3h0m0.1 1.9h0m0.1-4.9h0m0.1 16.5h0m0.1-9.7h0m0.2-5.9h0m0 13h0m0.1-10h0m0 4.3h0m0 2.1h0m0-4.6h0m0.2 11.1h0m0-11.4h0m0.2-0.8h0m0-4.6h0m0.1 29.8h0m0-38.2h0m0.1 14.4h0m0-4.1h0m0.4-1.6h0m0.1-2.1h0m0.2 8.2h0m0-12.6h0m0 2.5h0m0-1h0m0.4 35.6h0m0.1-21.6h0m0.2-9.5h0m0 2.6h0m0.1 6.5h0m0 3.2h0m0.2-5.7h0m0-1.9h0m0.1-8.7h0m0 9.7h0m0.1-1.4h0m0-2h0m0.1-3.2h0m0-2h0m0.3 11.6h0m0 7.1h0m0.2-7.1h0m0.1-1.8h0m0-6.9h0m0.1-5.7h0m0-0.4h0m0.1-1.6h0m0.3 13.5h0m0.1-3.1h0m0.1-1.1h0m0 4.1h0m0-6.5h0m0.3 7.6h0m0.1-12h0m0 17h0m0-0.4h0m0.1-4.5h0m0.2-13.3h0m0.1 6.6h0m0.1 5.2h0m0 0.3h0m0.1 3.4h0m0.2-2.6h0m0-10.7h0m0 6.6h0m0.1 8h0m0-1.4h0m0.1-3h0m0-5.7h0m0.2 13.1h0m0.2 4.4h0m0.1-4.3h0m0-5.2h0m0.1-5.8h0m0.2-2.9h0m0 15.1h0m0-10.7h0m0.1 2.6h0m0.3 1.5h0m0.8-4.5h0m0.1-4h0m0.4 3.2h0m0 2.4h0m0.1-1.1h0m0-1.4h0m0.6-2.3h0m0 7.7h0m0 3.6h0m0.1-3.2h0m0-4.5h0m0.2 20.1h0m0-32.7h0m0.1 19.2h0m0.1-6.9h0m0.1-13.9h0m0.1 13.7h0m0 0.9h0m0 1.3h0m0.2 9.3h0m0.1-1.1h0m0.1-6.8h0m0.2-0.8h0m0 4.9h0m0-2.8h0m0.1 6.6h0m0.1-11.4h0m0 10.9h0m0.3-17.6h0m0 9h0m0.1 13.5h0m0.2-11.3h0m0.2-2.4h0m0-21.2h0m0 19.4h0m0.1-4.4h0m0 11.3h0m0.1 4.6h0m0.1-7.3h0m0-3.7h0m0.2 8.5h0m0.1-20h0m0.2 18.9h0m0.1 0.3h0m0-10.8h0m0 4.9h0m0.1 9.5h0m0.1-2.4h0m0.2-4.3h0m0.2 7.9h0m0.1-18.2h0m0 2.5h0m0.2 2.6h0m0 3.6h0m0.2-2.9h0m0.2 6.4h0m0.1-3.7h0m0.1 1.4h0m0-15.8h0m0.2 21.6h0m0.1-7.3h0m0-8.9h0m0 17.2h0m0-21.9h0m0.1 15.3h0m0-4.9h0m0.1-3.3h0m0.1 9h0m0.1 8.8h0m0.4-5.1h0m0-3.3h0m0 6.2h0m0.1-17.8h0m0.1-3.7h0m0 3.4h0m0.2 7.8h0m0 2.5h0m0.1 3.6h0m0 2.2h0m0.1-15.8h0m0 11h0m0.1-13.6h0m0 20.8h0m0.2-19.7h0m0.1 1.6h0m0.3 10.5h0m0.2 9.7h0m0-19.9h0m0 3.4h0m0.1 5h0m0 1.2h0m0.1-8h0m0.1 2.3h0m0.1 3.5h0m0-3.8h0m0 3.5h0m0.1 2.7h0m0-7.3h0m0 1.1h0m0.3 7h0m0.1-6.7h0m0 0h0m0.1 3.5h0m0 3.5h0m0-2h0m0.3 6.8h0m0.1-5.8h0m0.1-5.4h0m0.1 20h0m0.1-13.6h0m0-5.3h0m0.1-7.2h0m0.1 12.9h0m0-8.9h0m0.4 5.3h0m0-6.2h0m0 11.3h0m0.1-6.2h0m0 6.1h0m0.1-16.9h0m0 6.3h0m0-1.7h0m0.1 12.1h0m0.2-2.9h0m0-4h0m0-1.8h0m0 12.5h0m0.2-3.3h0m0.1 6.3h0m0.1-18h0m0 16.8h0m0.1-5.2h0m0-7.4h0m0.1 2h0m0.1-0.3h0m0.1 1.5h0m0-3h0m0.2-2h0m0.1 10.3h0m0-7h0m0.1-0.7h0m0 1.1h0m0-5.7h0m0.2 6.1h0m0.1-5.7h0m0.1-1.2h0m0.1 8.4h0m0.1-4.4h0m0-0.6h0m0 8.9h0m0-9.5h0m0.3 1.1h0m0-1.6h0m0.1 2.7h0m0.1 7.1h0m0.1-4h0m0-5.5h0m0 2.6h0m0.2 6.1h0m0.1-6.4h0m0.3-6h0m0 17.6h0m0.1-9.2h0m0.1 1.3h0m0-8.7h0m0 3.6h0m0 0.8h0m0.1 3.1h0m0.2-2.2h0m0.2 3.1h0m0.2 8.2h0m0-10.3h0m0 22.5h0m0.3-16.4h0m0.3 0h0m0 1.8h0m0-14.4h0m0.1 6.8h0m0.1 22h0m0.1-0.4h0m0.1-15.1h0m0.1 0.8h0m0.3-14.9h0m0.2 11.9h0m0-6.2h0m0 8.7h0m0-1.4h0m0.1-4.6h0m0.1 11.9h0m0.1-6.5h0m0.1 2.2h0m0.1-11.2h0m0.1 10.7h0m0-20.6h0m0.1 15.4h0m0 11.7h0m0.2-13h0m0-1.9h0m0.2 1.9h0m0 7.3h0m0.1-10.5h0m0 2.1h0m0.3 1.5h0m0 7.4h0m0-5h0m0.2 0.3h0m0.1-15.6h0m0.1 17.1h0m0-4.2h0m0 7.1h0m0.1-5.9h0m0.1-5h0m0.1-2.3h0m0.4 4.5h0m0.3-1.4h0m0 3.1h0m0.1-7.3h0m0.3 0.7h0m0 6.8h0m0-7.6h0m0.1 0.8h0m0 10.7h0m0-11.6h0m0.1 5.4h0m0.1 2.1h0m0.1-6.3h0m0.1 7.1h0m0.1-13.8h0m0 25.7h0m0-15.3h0m0.1-0.5h0m0-5.1h0m0.1 12.7h0m0.1-6.8h0m0-4.3h0m0.3 4.8h0m0.1 15.4h0m0.2-9.3h0m0.1 6.4h0m0-18h0m0.1 1.3h0m0-1.7h0m0.1 5.6h0m0-6.4h0m0.1 15.9h0m0.1-5.2h0m0.1 3.5h0m0-15.6h0m0.1 5h0m0.3 1.3h0m0 0.9h0m0.2 1h0m0-6.9h0m0.1 11.6h0m0 0.3h0m0-5.8h0m0 3.6h0m0.3 8.2h0m0-12.4h0m0-3.4h0m0.1-1.6h0m0.3 1.9h0m0.4-0.2h0m0 9.6h0m0.1-12.6h0m0.1 12.5h0m0.2-0.6h0m0.1-4h0m0.1-0.7h0m0.1-3.4h0m0.1 7.3h0m0.2-9.4h0m0.1 11.4h0m0.1-5.5h0m0.1 2.5h0m0.2 0.6h0m0 0.4h0m0-16.4h0m0.1 17.2h0m0-7h0m0.3 3h0m0.1 9.4h0m0-1.7h0m0-10.9h0m0-2.5h0m0 10.6h0m0.2-6.8h0m0.1 18.3h0m0-18h0m0.1 24.7h0m0-16.6h0m0.1-5.3h0m0-9.3h0m0.1 12.5h0m0.1-17.7h0m0.1 13.9h0m0.1 0.4h0m0.1 0.4h0m0-0.8h0m0.2 5.1h0m0.1-8.4h0m0-7.6h0m0.1 15.5h0m0.1-9.8h0m0.1 7.3h0m0-10.8h0m0.2-4.7h0m0.2 7.3h0m0 13.3h0m0.1-20.9h0m0.1 12.8h0m0.1-7.7h0m0.1 3.9h0m0.1-6.5h0m0.1 18.9h0m0.1-11.7h0m0 3.7h0m0.1 6h0m0.1-11.1h0m0-24.9h0m0 31.3h0m0 4.9h0m0.2-8h0m0.3-7.4h0m0.3-2.6h0m0.2 15.6h0m0.1-13.6h0m0.1 3.2h0m0.1 2.6h0m0 3.7h0m0.1-8.6h0m0 4.1h0m0.2 1.8h0m0-0.1h0m0-5.2h0m0.1-7h0m0 9.5h0m0.2 21.8h0m0-19.4h0m0 5.3h0m0.2-17.9h0m0.1-1.5h0m0.1 0.8h0m0.1 6.5h0m0 2.8h0m0.2 6.7h0m0.1-14.1h0m0.2 7.3h0m0-1.6h0m0.1 9.6h0m0.1-13.1h0m0 13.6h0m0-5h0m0-7.2h0m0.1 3.8h0m0 4.1h0m0.1 1h0m0-11.5h0m0.3 17.3h0m0-6h0m0.1-10.5h0m0.1 11.2h0m0 1h0m0.2-7.6h0m0-2.1h0m0 10.4h0m0.1-8.5h0m0-0.1h0m0.2 0.1h0m0 12.1h0m0.2-5h0m0-8.3h0m0.1 17.4h0m0-15.2h0m0.1 30.8h0m0.1-21.7h0m0.2-5.2h0m0 7.6h0m0-2.6h0m0.1-3.2h0m0.2 3.7h0m0-0.8h0m0.3 8.5h0m0-11h0m0-13.6h0m0 16.6h0m0.1-2.3h0m0-3.6h0m0.1 0.9h0m0-8.4h0m0 11.4h0m0.1 7.3h0m0-9.2h0m0-0.1h0m0 5.8h0m0.1-16.1h0m0-0.5h0m0.3 7.3h0m0-2.8h0m0 6.5h0m0.1-4.8h0m0.1-0.4h0m0.2 0.8h0m0 7.3h0m0 5.1h0m0.2-6.6h0m0.1-9.2h0m0.3-6.6h0m0.2 24.4h0m0-12.3h0m0.1-1.3h0m0 1.1h0m0 12.9h0m0.1-11.4h0m0-3.7h0m0.1 3.4h0m0.1-0.3h0m0.1 0.7h0m0.2-0.6h0m0-2h0m0.2 0.6h0m0.1-5.8h0m0 6.4h0m0.1 3.5h0m0.1-5.6h0m0.1 1.5h0m0 12.2h0m0.3-9.2h0m0-4.3h0m0.1 2.6h0m0 4.6h0m0 1.4h0m0.2-4.5h0m0 0.2h0m0.1-2h0m0 10.2h0m0.1-11.8h0m0.1-1.3h0m0.1 8.4h0m0-8.1h0m0.1 6.4h0m0.1 6.2h0m0.1-8.6h0m0.1 8h0m0 3.7h0m0.1-9h0m0-5.8h0m0.3-8.5h0m0-6.5h0m0 21.7h0m0-2.2h0m0.1-5.5h0m0 12h0m0.2-12.5h0m0 0.9h0m0-2.2h0m0.1-4.5h0m0.2 5.7h0m0.1 2h0m0-10.4h0m0.1 3.3h0m0 11.6h0m0.1 1.3h0m0-4.8h0m0.1 2.7h0m0.2-5.6h0m0 8.8h0m0.2-11.8h0m0.2-1.3h0m0.4 1.3h0m0.1 8.1h0m0.2-8h0m0.1 8.1h0m0.1-1.1h0m0 8h0m0.2-14.9h0m0 28h0m0.4-23h0m0 0.1h0m0.2 5h0m0.3 5.4h0m0.1 5.3h0m0.1-6h0m0-3.4h0m0.2 0.9h0m0.2-4.8h0m0.1-3.4h0m0 10.1h0m0-6.7h0m0.1 7.1h0m0.2-4.8h0m0.2 0.2h0m0.1-1.2h0m0.2 1.6h0m0.1 1.2h0m0.1 1.7h0m0.1-11h0m0 0.4h0m0 7.8h0m0.3 0.6h0m0 6.9h0m0.1-15.1h0m0 20.4h0m0-8h0m0 2.7h0m0.1-0.4h0m0.1 4.9h0m0 0.2h0m0.1-0.6h0m0.2-9.2h0m0.2 1.4h0m0-2.8h0m0.1 0.8h0m0.2 2.2h0m0-10.2h0m0.3 8.5h0m0.2-0.3h0m0.1-10.1h0m0 12.9h0m0.2 0.5h0m0.1-4.2h0m0.1 6h0m0.1-1.6h0m0-11.2h0m0.1-18.5h0m0 21h0m0.1 0.4h0m0.2 7.5h0m0-16h0m0.1 16.2h0m0-9.9h0m0.2 2h0m0.2 1.7h0m0 10.3h0m0 0.1h0m0.2-11.1h0m0.1 1.3h0m0-1.9h0m0.2-4.8h0m0.2 9.3h0m0.3 8.8h0m0.1 1h0m0-12.8h0m0.1 10.1h0m0.1-0.5h0m0.1 2.1h0m0.3-3.2h0m0.1-3.1h0m0 7.6h0m0.4-16h0m0.1 6h0m0.2-1.6h0m0.1 7.8h0m0.1 4.9h0m0.2-10.6h0m0.1 0.9h0m0.2-3h0m0.1-1.6h0m0.3 3.3h0m0.2-13h0m0.1 13.1h0m0.1 2.8h0m0.1-1.7h0m0.1-15.7h0m0.1 7h0m0.1-7.2h0m0.1 13.5h0m0.1 4.2h0m0.1 1.4h0m0.1-6.3h0m0 4h0m0.1-0.1h0m0 1.5h0m0.1 3.2h0m0-9.8h0m0.1 10.1h0m0-4.9h0m0 4.9h0m0.2-14.2h0m0 6h0m0-6.5h0m0 1.9h0m0.1 7.1h0m0.1-3.1h0m0-2.9h0m0 5.6h0m0 3.7h0m0.1-5.3h0m0-4.5h0m0.1 3.9h0m0.1-1h0m0 5.3h0m0.1 2.3h0m0-4.1h0m0-9.3h0m0 7h0m0.1-3.9h0m0 4h0m0.1 4.8h0m0.2 5.3h0m0.1-20.6h0m0.2 17.6h0m0.1-0.7h0m0.1-7.9h0m0 5.4h0m0.2 0.9h0m0.3-11.5h0m0 1.4h0m0 5.9h0m0.1 3.7h0m0.2-3.2h0m0-11.7h0m0.1 1.7h0m0 8.2h0m0.1-0.1h0m0.5-1.1h0m0.2-4.2h0m0.1 9.9h0m0.3-5.4h0m0 1.9h0m0.2-3.4h0m0.2 0.5h0m0 7h0m0.1-5.2h0m0-4.5h0m0 4.5h0m0.1 0.8h0m0 0.4h0m0-0.1h0m0 2h0m0 0.1h0m0.1-10.5h0m0.1 4.3h0m0.1-7.6h0m0.1 10.7h0m0-3.8h0m0.1 2.8h0m0.1 0.2h0m0.1-10.4h0m0.1 17.2h0m0.1-5.2h0m0.3 2.2h0m0.5 3.4h0m0.1-14.3h0m0.1 10.2h0m0.1 4.6h0m0-14.2h0m0-2.8h0m0.1 13.3h0m0-8.7h0m0.1 3h0m0.1-7.5h0m0.2 8.5h0m0.1-5.1h0m0.4-4.1h0m0 4.4h0m0.1-6.5h0m0.1 9.1h0m0.1-8.2h0m0.1 5.4h0m0 8.2h0m0.1-5.6h0m0 6.4h0m0-9.8h0m0-0.6h0m0.1 7.5h0m0.3 5.6h0m0-4.1h0m0.1-6h0m0 4.6h0m0.1-6.6h0m0.1-4.3h0m0 12.3h0m0.1-8.6h0m0.1 4.8h0m0-0.9h0m0.2-0.2h0m0-6.3h0m0.1 14.8h0m0.3-0.5h0m0.1-5.7h0m0.3-0.1h0m0.2-9.6h0m0-4.1h0m0.1 14.8h0m0-12.5h0m0.1 2.5h0m0.2 20h0m0.2-12.9h0m0-1.5h0m0.2-12.2h0m0 1.3h0m0.1 6.8h0m0 4.6h0m0-2.5h0m0-9.3h0m0.1 7.4h0m0 0.9h0m0.1 2.5h0m0.1-6h0m0 3.3h0m0.1 7.3h0m0.1-1.1h0m0-8.7h0m0 4.1h0m0.1-2.8h0m0 3.6h0m0.1 0.9h0m0.2 0.7h0m0-0.5h0m0.1-7h0m0.1 1.7h0m0 3.5h0m0 6.4h0m0.1 5.9h0m0.2-10.7h0m0.1-0.3h0m0.1 7.2h0m0-10.4h0m0.2-4.5h0m0.1 22.1h0m0-13.2h0m0.1-5.9h0m0.6 14.1h0m0-9.5h0m0.1 8.5h0m0.1 15.9h0m0-16.3h0m0.1 4.4h0m0-8.7h0m0-0.8h0m0 1.7h0m0.1 4.4h0m0.1-4.3h0m0.2 9.5h0m0.1-3.4h0m0.1-3.8h0m0.1-10.2h0m0 11.5h0m0.1-6.6h0m0.2 7.7h0m0.2-2.8h0m0 2.4h0m0-4.5h0m0.3-11.8h0m0.1 12h0m0.1-13.5h0m0 16.1h0m0.1 4.3h0m0.1-17.5h0m0 12.5h0m0-7.4h0m0.1-5.4h0m0 10.7h0m0-0.1h0m0.1 2.1h0m0.1-19.6h0m0 31.2h0m0.1-1.8h0m0.1 0.1h0m0.1-2.3h0m0.1-3.6h0m0.1-11.6h0m0.1 8.3h0m0-3.7h0m0.2 0.8h0m0-2.8h0m0-9.3h0m0 17.1h0m0.1-11.4h0m0 10h0m0.1-9.3h0m0.1 1.2h0m0 3.9h0m0.1-11.7h0m0 2h0m0-0.1h0m0.1 6.7h0m0.1 6.1h0m0-4.1h0m0.2-3.3h0m0.1-4h0m0 13.2h0m0-6.2h0m0 10.4h0m0.1-3.4h0m0.2-8.7h0m0-13.3h0m0 18.7h0m0.3-3.7h0m0 12.5h0m0-7.5h0m0.1-3.1h0m0-6.1h0m0 21.3h0m0.1-11.6h0m0.5-7h0m0-4.8h0m0.1 17.8h0m0-11.3h0m0-5.1h0m0.1-4.4h0m0 19.6h0m0-10.3h0m0 4.3h0m0.2-8.1h0m0 6.5h0m0.1-13.6h0m0 8.2h0m0 18.4h0m0.1-23.7h0m0.1 6.7h0m0-0.3h0m0 4.4h0m0.1-0.3h0m0-5.5h0m0 2.1h0m0 7h0m0.1-7.3h0m0.1 10.7h0m0-19.1h0m0.2 3.6h0m0.2-4h0m0.1 17.7h0m0.1-0.7h0m0.2-5.1h0m0 5.2h0m0.2-6.1h0m0 7h0m0.2-16.5h0m0.1-1.4h0m0.4 13.6h0m0-2.7h0m0-10.4h0m0.3 10.7h0m0.1 1.8h0m0-0.9h0m0.1-8.2h0m0 11.4h0m0.1 8.3h0m0.3-9.9h0m0-6.9h0m0.1 5.6h0m0.2-5.5h0m0.1 6.8h0m0-3.5h0m0.2-1.6h0m0 5.3h0m0.1-1.2h0m0.1-1h0m0-2.2h0m0.1 21h0m0.2-21.5h0m0.1 0.2h0m0 3.5h0m0.2 1.2h0m0.1-10.8h0m0.1 8.9h0m0 2.9h0m0.1-6.5h0m0.2 7h0m0-6h0m0.1 1.7h0m0.1-6.5h0m0 8.7h0m0.1 4.4h0m0-6.6h0m0.2-7.9h0m0.2 6.4h0m0.1 3.8h0m0.2-4h0m0.3 20.1h0m0-13.9h0m0.1-0.9h0m0-11.9h0m0 14h0m0.2-5.8h0m0.2-2h0m0 11.7h0m0.1-8.8h0m0.1-7.3h0m0.3-0.2h0m0.1 1.2h0m0.1-3.2h0m0-0.1h0m0 9.1h0m0-7.8h0m0.1 10.6h0m0.3-0.5h0m0-11.8h0m0 13.9h0m0.2-13.8h0m0.1 10.3h0m0.3 0.6h0m0.1-10.5h0m0.1-2.4h0m0 4.6h0m0 8.4h0m0-5.4h0m0.1 8.8h0m0.2 1.2h0m0.1-17h0m0 2.3h0m0.1 3.4h0m0.1-1.8h0m0 4.8h0m0-2.6h0m0.1-3.2h0m0 18.6h0m0.1-9.9h0m0.1 7.6h0m0.1-10.7h0m0.2-5.2h0m0.1 0.6h0m0.2-1.2h0m0 7h0m0-4.4h0m0.1-3h0m0 5.6h0m0-0.4h0m0.1-6h0m0.1 1h0m0.1 1.7h0m0 2.7h0m0.2 2.4h0m0-3.8h0m0.2 5.7h0m0.1-13h0m0.2-2.9h0m0.1 15.9h0m0 1.2h0m0.2-15.1h0m0.1 6.9h0m0 7.5h0m0.1-7.5h0m0 11.7h0m0.2-12.7h0m0.4-0.1h0m0 0.3h0m0.2 16.5h0m0.1-11.4h0m0.1 7.5h0m0.1-8.3h0m0.3-11.4h0m0 7.2h0m0 8.1h0m0.2-4h0m0.1 0.1h0m0 3.4h0m0.2 5.1h0m0.1-11.6h0m0 2.4h0m0-9.7h0m0.1 9.9h0m0.1 2.4h0m0 7.3h0m0-12.2h0m0.4-8h0" stroke="#2a2a2a" stroke-width=".95" stroke-linecap="square"/>
<path d="M215.3 47.1h0m0.6-0.3h0m0.4 2.1h0m0.4 0.3h0m0-2.7h0m1.8 2h0m0.4 2.4h0m0.1-1.2h0m0.4 0.6h0m0.3-4.6h0m0 0.7h0m1.3 1.3h0m0.2 0.8h0m0 3h0m0.4-3.6h0m0.8-0.6h0m0 0h0m0.3 4.1h0m0.3-3.5h0m0.4 2.9h0m0.8-2.7h0m1.2-0.1h0m0.2-1h0m0.5 2.1h0m0.7-1.6h0m0.1 0.4h0m0.3 2h0m0.8-1.9h0m0.1 1.8h0m0.1 0.1h0m0.1-1.9h0m0.2 0h0m0-0.7h0m0.3 2.8h0m0.4 0.4h0m0.7-0.8h0m1.9-1.3h0m0.4 0.9h0m0.2 1.9h0m0.3-3.8h0m0.1 1.8h0m0.9 0.1h0m0.2-0.4h0m0.2-3.4h0m0.1 1.3h0m0.3 3.6h0m0.1-3.1h0m1.7 3.3h0m0.1-5.3h0m0.4-0.5h0m0.3 2.9h0m1.6-2.4h0m0.6 3.6h0m0.2 2.8h0m1.8-3.2h0m0.2-0.7h0m0 0.8h0m0.4-2.4h0m0.5 3.7h0m0.5-1.2h0m0.2-0.3h0m0.8-0.1h0m0.1-0.6h0m0.4 3.4h0m0.3-4.6h0m0.2 4.2h0m0.9-6h0m0.6 1.8h0m0.2 0.5h0m0.6 1.4h0m0.1 1.1h0m0.3 0.1h0m1.4 1.5h0m0-3h0m0.4 0.9h0m1.1 0.1h0m0 1.5h0m0.1-2.8h0m0 0.7h0m0.6-1.1h0m0 2.5h0m0-0.2h0m1.5-5.3h0m1.2 4.3h0m0.1 0.5h0m0.6 0.2h0m0 0.4h0m0.4 2.5h0m3-4.8h0m0-0.2h0m0.6 2.1h0m0.2-2h0m0.3 3.4h0m0.3-1.9h0m0.7 0.4h0m0.1-2.3h0m1.6 0.2h0m0.1 1.3h0m0-0.3h0m0.3 1h0m0.1-1.2h0m0 2.3h0m0 1.5h0m0.5-2.5h0m0.1 0h0m1.4-0.7h0m0.1 0.2h0m0.5 0.2h0m0.5 0.5h0m0.2-0.5h0m0.1 0.1h0m0.7-4.5h0m0.8 0.5h0m0.9 1.8h0m0.4 4.5h0m0-3.9h0m0.1-3h0m0.2 5.2h0m0.3-2.2h0m1.1 0.9h0m0.9 1.4h0m0.3 1.5h0m0.3-5.5h0m0.2 2.7h0m1.2 1.6h0m0 1h0m0.5-3.2h0m0.2 2.3h0m2.3 1.7h0m0.6-3.4h0m0.2 1.2h0m0.3 0.1h0m2.1 2.3h0m0.1-3.4h0m0.4-1.4h0m0.8 2.5h0m0.5-1h0m0.1-0.9h0m0.6-0.1h0m0.3 0.5h0m0-0.4h0m0.8 3.8h0m0.6-2.9h0m0.8 0.4h0m1.4-2.9h0m0.5 2.1h0m0.1 0.3h0m0.1 2.8h0m0.7-1.8h0m0.1-2.8h0m0.3 2.9h0m0.9 0.4h0m0-1.3h0m0-0.1h0m1.3-1.9h0m0.1-0.6h0m0.6 5.8h0m0-2.5h0m0.2 0.6h0m0.5-1.2h0m1.7-2.6h0m0 2.9h0m0.2-3h0m1.6 3.6h0m0.8 1.4h0m0.5-2.3h0m0.6-0.4h0m0.7 0.8h0m0.2-0.2h0m1.2-0.1h0m1.5 0.7h0m0.1-1.9h0m0.2 2h0m0.6 3.3h0m0.3-3.6h0m0.9-1.3h0m0.5 0.9h0m0.4 2h0m0.8-1.5h0m0.1-3.2h0m0.2 2.7h0m0.1-4.7h0m0.4 4.1h0m0.4 2.2h0m0.1 3.5h0m0.1-7.9h0m0.5 1h0m1.7 0.1h0m0.8 2.6h0m0.2-0.7h0m1.1-1.1h0m0.3 0.9h0m0.6-2.2h0m0.3 2h0m0.1 3h0m0.1-0.9h0m0.8-1.3h0m0.8 1.1h0m0.2-0.2h0m0.3 1.6h0m0.3-3.7h0m0.1 1.9h0m0.2-2.1h0m0.3 0h0m0.6-0.5h0m0.1 1h0m0.4 0.2h0m0.4-0.8h0m0.1 0.1h0m0.4 0.8h0m0.1-0.4h0m0-0.9h0m1.2 1.1h0m0.4-0.2h0m1.6-6.1h0m0.1 5.2h0m0.6 3.1h0m1.1-4.2h0m0.7 1.1h0m0.3 0.5h0m1.3 0.1h0m0.5-1.1h0m0.4 1.5h0m1.2-3.2h0m1.2 2.5h0m0.1-1.7h0m0.1 1.5h0m0.2 1.7h0m1.4 0.9h0m0.1-1h0m0.4-1.3h0m0.3-1h0m1.2 0h0m0.6 1.9h0m0.3 2.6h0m0.8-4.2h0m0.4 3.5h0m0.1-6.3h0m0.1 3.8h0m0.6 1.9h0m0.7-4.2h0m0.5 3.2h0m0-4.4h0m0.1 4.7h0m0.2-1h0m0.7-0.7h0m0.3-0.4h0m1.2 3.9h0m1-3.6h0m0.1 0.8h0m0.1-0.2h0m1.3-0.1h0m0.2-3.5h0m0.2 5.3h0m0.1-1.1h0m0.3-2.1h0m0.3-1.1h0m0.7-0.9h0m0.4 2.7h0m0.1-0.9h0m0.2 1.2h0m0.4 1.3h0m0.7-0.2h0m0.4-2.6h0m0 3.6h0m0.5-3.1h0m1.1 5.2h0m1-5.2h0m0 2.1h0m0.2-0.7h0m0.9-1.7h0m0.7 1.4h0m0.2-0.5h0m0.7 1.6h0m0.1-3.5h0m1 4h0m1.3-3.1h0m0.1-0.1h0m0.1 2h0m1.7 0.5h0m0.3-1.6h0m0.6 1.1h0m0.8-6.3h0m0.2 9.9h0m0.1-4.1h0m0.7-2.7h0m0.1 1.4h0m0.6 1h0m0.4 0.5h0m0.2 0.3h0m0.1-1.3h0m1.5 2.8h0m0.5-1h0m0.1 0.6h0m1.3-2.3h0m0.2 0.4h0m0.6 1.7h0m0.3 0.5h0m0.3-2.6h0m1 2.8h0m0.6-0.8h0m0.1 1.5h0m0.2-2.4h0m0.5 0.7h0m0.1-1.8h0m0.4 1.5h0m0.9-1.3h0m0.7-0.6h0m0.3 1h0m0.2 1.9h0m0.8-2h0m0.5 2.7h0m0.2-2.2h0m0.2 0.8h0m0.3 2.2h0m0.4-3.1h0m0.2 1.5h0m0.6-1h0m0.1 1.2h0m0-2.1h0m0.7 0.7h0m0.8-1h0m0.7 3.1h0m0.4-1.2h0m1-3.4h0m0.5 2.6h0m0.1 1.3h0m0.4-0.2h0m0.2-1.3h0m0.2-0.1h0m0.6-1.7h0m1 1.2h0m0.8-0.5h0m0.4 5.3h0m0.6-5.2h0m0.8 1.8h0m0.1-1.1h0m0.7 2.6h0m0.8 0.4h0m0-4.8h0m0.2 5.1h0m2.7 0.6h0m0.1 0.3h0m0.4-6.5h0m1.3 3.4h0m0.2-2.7h0m0.5-1.2h0m0.4 2.3h0m2-0.5h0m0.9-2.3h0m0.1 5.6h0m0.1 1.7h0m1-1.4h0m0-4.6h0m0.6 5.4h0m0.4-4.5h0m0-0.7h0m0.5 4.9h0m0.6-3.7h0m0.7 1.6h0m0.1-1.2h0m0.8-3.5h0m0.4 4.1h0m0.1 2.8h0m0.5-2.8h0m0-1.7h0m0.8 0.9h0m0.4 1.2h0m1.1 3.6h0m0.1-7h0m0.3 5.6h0m0.3-3.8h0m0.5 0.2h0m0.2 2.4h0m0 0.3h0m0.3-0.9h0m0.8 2.9h0m0.4-5.8h0m0.5 1h0m0.4-2.3h0m1.7 6.6h0m0.4-2.9h0m0-1.1h0m2.6 1.5h0m0.3 0.6h0m0-2.9h0m2.5 1.9h0m0-2.2h0m0.4 0.9h0m0.2 4h0m0.1-3.4h0m0.4 1.2h0m0.4-0.1h0m0-0.2h0m0-2.2h0m0.4 6.3h0m1-5.8h0m0.7 2.4h0m0.7-3.2h0m0.1 1.9h0m0.8 2.8h0m0.6-1.9h0m0.8 0.9h0m0.9 2.6h0m0.7-7.8h0m0.5 1.3h0m0.1 2.8h0m0.6-3.4h0m0.1 1.8h0m1.9 2.2h0m0.1-0.8h0m0.1-1.1h0m0.5 1.8h0m0.3-3.2h0m0.2 2.7h0m0.7 2.6h0m0.1-3.6h0m0.6 0.6h0m1.1 0.2h0m0-1.5h0m0.5 2.6h0m0.4-1.6h0m0.1 0.4h0m1.1 0.5h0m0.1-2.7h0m1.1 0.6h0m0.2-0.1h0m0-0.6h0m0.3 2.3h0m0.3 1.7h0m0.4-1.1h0m0.1 0h0m0.3-2.4h0m0.7 1.8h0m0.1-1.2h0m0.3 4.2h0m0-4h0m0.2-1h0m1 2.5h0m1.7-2.7h0m0.5 0.7h0m1.6 1.6h0m0.3 0.6h0m0-3.1h0m0.2 2h0m0.9 0.5h0m0.3-1.6h0m0.6 1.5h0m0.2 0.3h0m0.1-0.3h0m1.1-2.3h0m1.3 0.8h0m0.4 3.5h0m0.2-2h0m0.3-0.4h0m0.9 2.1h0m0.4-1.4h0m0.9-0.7h0m0.4-0.3h0m0.6 1.2h0m0.6 1.2h0m0.5-1.9h0m1 0.7h0m0-1.9h0m0.3-3h0m0 2.9h0m0.1 1h0m0.5-1.2h0m0.9 4.8h0m0.2-1.1h0m0.4-1.8h0m1.1-0.9h0m0.2 1.6h0m0.1-0.5h0m0.4 0.8h0m0-1.2h0m0.8-0.5h0m0.6 0.6h0m2.1-0.3h0m0.4-0.9h0m0 1.7h0m0.2 0.5h0m0-0.3h0m0.5-0.6h0m0.8 0.5h0m0.1-1.8h0m0.2 3.1h0m0.5-1.3h0m0.4-0.6h0m0.1 1.9h0m0.2-2h0m0.1 1.6h0m0.1-5.3h0m0.1 3.7h0m0.5 2.8h0m0.5 0h0m1.7-3h0m0.5 0.3h0m1.3-0.3h0m0.2 2.4h0m0.3 0.2h0m0.5 2.2h0m1.7-4.5h0m1.6 0.2h0m0.3 0.6h0m0.4-0.6h0m0.3-0.4h0m0.6-1.6h0m0.4 1.1h0m0.4 1.4h0m0.6-2.8h0m0.7-0.6h0m0.5-0.3h0m0.6 5.4h0m0.5-1.5h0m0.6-1.5h0m0.3 2.5h0m0.1-1h0m0.4 0.9h0m0.2-2.9h0m1.2-1.6h0m0.5-0.7h0m0.1 1.2h0m0.8 2h0m0 1.9h0m0.1 2h0m0-3.4h0m2.1-0.8h0m0.3 2.3h0m0.3-2.6h0m0.1 1.5h0m0 0.7h0m0.6 0.1h0m0.6 0.6h0m0.2-5.8h0m0.7 3.8h0m0.4 3.4h0m1-5.2h0m0.3 4h0m0.5 0.1h0m0.9-0.7h0m0.9 0.9h0m0.9-2.2h0m1.5-2.1h0m0 1.7h0m0.9 2.6h0m0.6-2.1h0m1.6-0.9h0m0.1 1.1h0m0.1-0.9h0m1.1-0.8h0m0.5 0.3h0m0.1 2.4h0m0.3-4.4h0m0.4 4.1h0m0.1-1.3h0m0.9-0.6h0m0.2 3.5h0m0-4.9h0m0.6 4h0m0.4-2.9h0m0.8-1.7h0m0.5 6.6h0m0.3-5.1h0m0.4-1.2h0m0.2-1.5h0m0.2 4.5h0m0.2-3.7h0m0.3 4.4h0m0.8 0.3h0m0.4-5.8h0m0.2 3.3h0m0.3-1.2h0m2.2 0.5h0m0.2 2.5h0m3-0.7h0m0-1.5h0m0.1 0.2h0m0.5 0h0m0.5 0.5h0m0.6 0.6h0m0.4-0.8h0m0.2 2.1h0m0.1-4.1h0m0 3.9h0m0.1-0.9h0m0.3 0h0m0.9-0.5h0m0.9 1.4h0m0.4-3.8h0m0.4-2.3h0m0.1 6.1h0m0.9-0.2h0m0.1-0.2h0m0.5-2.4h0m0.3 1.9h0" stroke="#88a888" stroke-width=".95" stroke-linecap="square"/>
<g stroke="#111" stroke-width="0.2"><text x="193" y="87.60000000000001" font-size="6.4" font-weight="bold" fill="#111">chr:</text>
<text x="208.5" y="87.60000000000001" font-size="6.4" font-weight="bold" fill="#111">1</text>
<text x="219" y="87.60000000000001" font-size="6.4" font-weight="bold" fill="#111">2</text>
<text x="225.8" y="87.60000000000001" font-size="6.4" font-weight="bold" fill="#111">3</text>
<text x="242.3" y="87.60000000000001" font-size="6.4" font-weight="bold" fill="#111">4</text>
<text x="249.7" y="87.60000000000001" font-size="6.4" font-weight="bold" fill="#111">5</text>
<text x="285.9" y="87.60000000000001" font-size="6.4" font-weight="bold" fill="#111">6</text>
<text x="296.8" y="87.60000000000001" font-size="6.4" font-weight="bold" fill="#111">7</text>
<text x="335.4" y="87.60000000000001" font-size="6.4" font-weight="bold" fill="#111">8</text>
<text x="353.5" y="87.60000000000001" font-size="6.4" font-weight="bold" fill="#111">9</text>
<text x="359" y="87.60000000000001" font-size="6.4" font-weight="bold" fill="#111">10</text>
<text x="368.2" y="87.60000000000001" font-size="6.4" font-weight="bold" fill="#111">11</text>
<text x="393.3" y="87.60000000000001" font-size="6.4" font-weight="bold" fill="#111">12</text>
<text x="416.6" y="87.60000000000001" font-size="6.4" font-weight="bold" fill="#111">13</text>
<text x="427" y="87.60000000000001" font-size="6.4" font-weight="bold" fill="#111">14 -1 6</text>
<text x="465.5" y="87.60000000000001" font-size="6.4" font-weight="bold" fill="#111">17 18 19</text>
<text x="495.7" y="87.60000000000001" font-size="6.4" font-weight="bold" fill="#111">20-22 X</text>
</g>
<text transform="translate(195.2,45.0) rotate(-90)" font-size="7.3" font-weight="bold" fill="#111" text-anchor="middle">normalized</text>
<text transform="translate(203.4,46.0) rotate(-90)" font-size="7.3" font-weight="bold" fill="#111" text-anchor="middle">segment coverage</text>
<line x1="212.0" y1="192.2" x2="212.0" y2="252.3" stroke="#f0c8ce" stroke-width="0.55"/>
<line x1="220.0" y1="192.2" x2="220.0" y2="252.3" stroke="#f0c8ce" stroke-width="0.55"/>
<line x1="225.4" y1="192.2" x2="225.4" y2="252.3" stroke="#f0c8ce" stroke-width="0.55"/>
<line x1="244.5" y1="192.2" x2="244.5" y2="252.3" stroke="#f0c8ce" stroke-width="0.55"/>
<line x1="248.9" y1="192.2" x2="248.9" y2="252.3" stroke="#f0c8ce" stroke-width="0.55"/>
<line x1="285.7" y1="192.2" x2="285.7" y2="252.3" stroke="#f0c8ce" stroke-width="0.55"/>
<line x1="297.2" y1="192.2" x2="297.2" y2="252.3" stroke="#f0c8ce" stroke-width="0.55"/>
<line x1="334.3" y1="192.2" x2="334.3" y2="252.3" stroke="#f0c8ce" stroke-width="0.55"/>
<line x1="351.2" y1="192.2" x2="351.2" y2="252.3" stroke="#f0c8ce" stroke-width="0.55"/>
<line x1="360.3" y1="192.2" x2="360.3" y2="252.3" stroke="#f0c8ce" stroke-width="0.55"/>
<line x1="367.4" y1="192.2" x2="367.4" y2="252.3" stroke="#f0c8ce" stroke-width="0.55"/>
<line x1="394.1" y1="192.2" x2="394.1" y2="252.3" stroke="#f0c8ce" stroke-width="0.55"/>
<line x1="416.2" y1="192.2" x2="416.2" y2="252.3" stroke="#f0c8ce" stroke-width="0.55"/>
<line x1="426.6" y1="192.2" x2="426.6" y2="252.3" stroke="#f0c8ce" stroke-width="0.55"/>
<line x1="430.5" y1="192.2" x2="430.5" y2="252.3" stroke="#f0c8ce" stroke-width="0.55"/>
<line x1="434.4" y1="192.2" x2="434.4" y2="252.3" stroke="#f0c8ce" stroke-width="0.55"/>
<line x1="443.4" y1="192.2" x2="443.4" y2="252.3" stroke="#f0c8ce" stroke-width="0.55"/>
<line x1="466.8" y1="192.2" x2="466.8" y2="252.3" stroke="#f0c8ce" stroke-width="0.55"/>
<line x1="472.0" y1="192.2" x2="472.0" y2="252.3" stroke="#f0c8ce" stroke-width="0.55"/>
<line x1="481.6" y1="192.2" x2="481.6" y2="252.3" stroke="#f0c8ce" stroke-width="0.55"/>
<line x1="498.5" y1="192.2" x2="498.5" y2="252.3" stroke="#f0c8ce" stroke-width="0.55"/>
<line x1="502.4" y1="192.2" x2="502.4" y2="252.3" stroke="#f0c8ce" stroke-width="0.55"/>
<line x1="512.7" y1="192.2" x2="512.7" y2="252.3" stroke="#f0c8ce" stroke-width="0.55"/>
<line x1="212" y1="252.3" x2="512.7" y2="252.3" stroke="#dcd4d4" stroke-width="0.8"/>
<text x="211.6" y="210.9" font-size="4.8" font-weight="bold" fill="#333" text-anchor="end">2</text>
<line x1="212.2" y1="209.2" x2="213.4" y2="209.2" stroke="#555" stroke-width="0.5"/>
<text x="211.6" y="219.5" font-size="4.8" font-weight="bold" fill="#333" text-anchor="end">1</text>
<line x1="212.2" y1="217.8" x2="213.4" y2="217.8" stroke="#555" stroke-width="0.5"/>
<text x="211.6" y="228.1" font-size="4.8" font-weight="bold" fill="#333" text-anchor="end">0</text>
<line x1="212.2" y1="226.4" x2="213.4" y2="226.4" stroke="#555" stroke-width="0.5"/>
<text x="211.6" y="236.7" font-size="4.8" font-weight="bold" fill="#333" text-anchor="end">-1</text>
<line x1="212.2" y1="235.0" x2="213.4" y2="235.0" stroke="#555" stroke-width="0.5"/>
<text x="211.6" y="245.3" font-size="4.8" font-weight="bold" fill="#333" text-anchor="end">-2</text>
<line x1="212.2" y1="243.6" x2="213.4" y2="243.6" stroke="#555" stroke-width="0.5"/>
<path d="M212.1 228.8h0m0.1 5.5h0m0 1.7h0m0.1-6.9h0m0-4.9h0m0 16.2h0m0-11.4h0m0.1 9.9h0m0-16.6h0m0.1-3.5h0m0.1 10.5h0m0.1 8.5h0m0-4.7h0m0 5.9h0m0.4-1h0m0.1-11h0m0.2-10h0m0 17.9h0m0-6.5h0m0.1-2.5h0m0.1 5.3h0m0.1-6.2h0m0.1 12h0m0-8.8h0m0.3-4.3h0m0 2.7h0m0-3h0m0.1-1.4h0m0.2 9.7h0m0.1-5.6h0m0.1 6.7h0m0-4.7h0m0-8.2h0m0.5 11.9h0m0 1h0m0.4-11.8h0m0.1 10.9h0m0.3-10.1h0m0.1 6h0m0.5 1.9h0m0 3.5h0m0.1-9.8h0m0 8.7h0m0.1-7.6h0m0 16.7h0m0.6-17.6h0m0 5h0m0-16.9h0m0.1 15.9h0m0.3-4.5h0m0.1-6.3h0m0 11.6h0m0.1 4.5h0m0.1-6.9h0m0.1 3h0m0-10.1h0m0.1 3.8h0m0 12.3h0m0.1 0h0m0.1-4.3h0m0.1-5.9h0m0.2-11.3h0m0.2 14.8h0m0.1-6.5h0m0.1 6.2h0m0 16.9h0m0.1-15.4h0m0.1 1h0m0-4h0m0 2h0m0.1-0.8h0m0-9.2h0m0 5.7h0m0.1 0.8h0m0.1 4.4h0m0-3.8h0m0.1 3.6h0m0-2.6h0m0.1 2.2h0m0-1h0m0.1-3.7h0m0.1 9.3h0m0.1-0.4h0m0.2 1.4h0m0 5h0m0-2.6h0m0.1-12.1h0m0.1 4.9h0m0.2 4.3h0m0 3.7h0m0-11.6h0m0.2-2.1h0m0.1 2.2h0m0 1.2h0m0.1-3.1h0m0 3.1h0m0.3-2.8h0m0.3 7.8h0m0-2.2h0m0.1 0.6h0m0-4.9h0m0.1-18.2h0m0 13h0m0.6 7.2h0m0.1-0.6h0m0.1 7.8h0m0 2.2h0m0.1-13.8h0m0.1 3.8h0m0-0.1h0m0.2 4.2h0m0-3.7h0m0 1.3h0m0.2 0.2h0m0-19.6h0m0.1 27.6h0m0.1-10.4h0m0-3.6h0m0 11.5h0m0-2.8h0m0-6.5h0m0.2 5.7h0m0.3-10.1h0m0.1-3.8h0m0 11.4h0m0 12h0m0.1-7.6h0m0-4.2h0m0 0.2h0m0.1-2.5h0m0-4h0m0.3-1.6h0m0.1 3.2h0m0.1 6.3h0m0-5.4h0m0 6.2h0m0.3-4.3h0m0.1 0.3h0m0.1 1.2h0m0-4.1h0m0.7-5.2h0m0-0.1h0m0.1-0.5h0m0.1 18.9h0m0-13h0m0-11.4h0m0.1 21.2h0m0-10.7h0m0.2 5.7h0m0-9.3h0m0.1 5.7h0m0-1h0m0.1-5.6h0m0.2-2h0m0.1 3.3h0m0-2.6h0m0 2.3h0m0.1-7.4h0m0.2 0.8h0m0.8 12.3h0m0-3.7h0m0-7.8h0m0.2 17.5h0m0.1-2.7h0m0-12.9h0m0-0.9h0m0.1 5.2h0m0.1 10.2h0m0-5.9h0m0.1-12.7h0m0.1 12.6h0m0.1-4.1h0m0 0.6h0m0.1 6.5h0m0 1.2h0m0.1-3.6h0m0-8.7h0m0.1 2.1h0m0.1 14.4h0m0.2-18.1h0m0.2 17.1h0m0.4-6.4h0m0.2-7.2h0m0.2-3.7h0m0.1 3.8h0m0 9.5h0m0.1-12.8h0m0.4 11.4h0m0-1.3h0m0-9h0m0.1 9.4h0m0 4.3h0m0.1-8.5h0m0 1.1h0m0.1-0.9h0m0.1 0.2h0m0.1-7.4h0m0.1 1.3h0m0-4.1h0m0 6.7h0m0.2 11.2h0m0.1-15.1h0m0 8h0m0.1 0.1h0m0 0h0m0 1.1h0m0.3-7.4h0m0.2 7.2h0m0-7.9h0m0 6.7h0m0-6.8h0m0 2.5h0m0.1 2.3h0m0 5h0m0.4 5.7h0m0-6.6h0m0.1-7.8h0m0.1 0.1h0m0.2 5.2h0m0.1-3.7h0m0-3.1h0m0.1 12.8h0m0.3-11h0m0.1 15.2h0m0.1-10.9h0m0 4.4h0m0.1-14.1h0m0 1h0m0.1 4.1h0m0-3.5h0m0.1 3.7h0m0.1 9.4h0m0.1-8h0m0.1-4.8h0m0 20.2h0m0.1-15.9h0m0.1 9.8h0m0.2-7.8h0m0-0.3h0m0.2-4.1h0m0.1 8.2h0m0 2.3h0m0 0.3h0m0 0.4h0m0.1 2.9h0m0-6h0m0.1 1.7h0m0.1-3.4h0m0 3.5h0m0.1 7.1h0m0-16.5h0m0.1 12.3h0m0.1-6.1h0m0.1 1.3h0m0 11.4h0m0.1-1.9h0m0.2-18.9h0m0.1 13.6h0m0.1-0.7h0m0.1-15.7h0m0.3 7.1h0m0.2 8h0m0.1-2.6h0m0.3-9.9h0m0.1 6.9h0m0.2 4.5h0m0.1-0.1h0m0.2-5.9h0m0.1 0.6h0m0 6.9h0m0-10.9h0m0.1 1.8h0m0 1.2h0m0.1-3.1h0m0.1 10.4h0m0.1-4.4h0m0.1 2.1h0m0.1-0.7h0m0 5.9h0m0.1-6.7h0m0.1 0.3h0m0 1.9h0m0.4-2.8h0m0.1 2.1h0m0.3-0.8h0m0-5.3h0m0 5.4h0m0.1 8.3h0m0.1-13.2h0m0 0.6h0m0 1.7h0m0.7-12.6h0m0 3.7h0m0 3.2h0m0.1-5.5h0m0.1-5.5h0m0.2 14.6h0m0.2-5.4h0m0 3.2h0m0.1 4.4h0m0 3.3h0m0-12.9h0m0-0.2h0m0.1 9.7h0m0-3.9h0m0.1-5.4h0m0.4 7.6h0m0-7.9h0m0 7.4h0m0 5h0m0.1-2.6h0m0 3.8h0m0.3-16.7h0m0.2 12.4h0m0.2-4.4h0m0.1-1.7h0m0.1-4.3h0m0.1-1.7h0m0.1 6.8h0m0.1-4.8h0m0 7.9h0m0.1-2.4h0m0.1-10.9h0m0.1 11h0m0-2.1h0m0 2.3h0m0.1-1.2h0m0.1-1.6h0m0 5.8h0m0.1-2.8h0m0 7.2h0m0-6.8h0m0.2 3.3h0m0.1 7.5h0m0 13.5h0m0.1-27.2h0m0.2-3.3h0m0.2 29.7h0m0.1-13.3h0m0.1-3.4h0m0.2 6.8h0m0.2-7.9h0m0 5.8h0m0.1 8.7h0m0-1.6h0m0 3.2h0m0.3-22.3h0m0 9.5h0m0.3 1.9h0m0-12.7h0m0 4.9h0m0.1 8.6h0m0.3-2.1h0m0-6.7h0m0.1 12.8h0m0-12.4h0m0.3 7.6h0m0-3.3h0m0.4-12.2h0m0.1 9h0m0.1 3.9h0m0.1 7.8h0m0.2-9.9h0m0 13.9h0m0-10.9h0m0.1-1.2h0m0-0.1h0m0.3 7.1h0m0.1 10.3h0m0-12.1h0m0.3-6h0m0 16.7h0m0.5-15.6h0m0-3.5h0m0.1 6.5h0m0.1-6.8h0m0 1.2h0m0.1 12h0m0-4.9h0m0.4-1.7h0m0 5.3h0m0-2.8h0m0.1 1.9h0m0.1-3.3h0m0-12.8h0m0.2 9.9h0m0 0h0m0.1-2.8h0m0.1 4.9h0m0 2h0m0.2 3.7h0m0-7.7h0m0 1.6h0m0.1-1.3h0m0 9.7h0m0-7.9h0m0.1-6.5h0m0 5.9h0m0.1-2.2h0m0 4.6h0m0.1 2.7h0m0-9.2h0m0.1 2.9h0m0.1 4.4h0m0.2 8.7h0m0.1-14.2h0m0 2.7h0m0.3-3.1h0m0 7.6h0m0 5.8h0m0-3.9h0m0.3 7.6h0m0-16.5h0m0.1-0.6h0m0.1 7.7h0m0.1-5.4h0m0.1-8.3h0m0.1-1.2h0m0.2 14.1h0m0.2 2.1h0m0.2-9.2h0m0.1-3.5h0m0.2 0.1h0m0 13.7h0m0-12.4h0m0.1 5.9h0m0 2.3h0m0 1.3h0m0-8h0m0.1 0.4h0m0-0.2h0m0.2 4.5h0m0.1-4.8h0m0 13h0m0.2-6.3h0m0-1h0m0 4.2h0m0.2-0.5h0m0.1-4.9h0m0.1 8.3h0m0 0.1h0m0.2-13.9h0m0.1-1.1h0m0.2 16.6h0m0.1-4.8h0m0-4.8h0m0.1-6.8h0m0.1 5.4h0m0 6.1h0m0-10.4h0m0.1 1.1h0m0.2 0.8h0m0.1 0.2h0m0.1 2.2h0m0.1-8.5h0m0 12h0m0.3 3.6h0m0.1-9.9h0m0 5.4h0m0.1 2.7h0m0.1-0.8h0m0.1-0.5h0m0-3.1h0m0.2 6.6h0m0 1.3h0m0-16.3h0m0.1 12.6h0m0.1 0.3h0m0-4.3h0m0.3-2.3h0m0.1 1h0m0 4.6h0m0.5-2.8h0m0.1 4.1h0m0.1 5.8h0m0-10h0m0.1-5.1h0m0 6h0m0.2-7.9h0m0-0.1h0m0.1 2.1h0m0.1 11.3h0m0.2-1.1h0m0 2.3h0m0.1-1.3h0m0.2-10.6h0m0.1-2.2h0m0.1 10.1h0m0.5-5.8h0m0.1 5.6h0m0.1-9.9h0m0.1 3.3h0m0.1-4.9h0m0 11.5h0m0.1-1.9h0m0.1 5.7h0m0-18.1h0m0.1 6.9h0m0.1 8h0m0.2-10.9h0m0.1 2.3h0m0 2.8h0m0.1 6.8h0m0.1-6.7h0m0.3 0.8h0m0 1.9h0m0.1-7.4h0m0 10.9h0m0.3-4.4h0m0 7.5h0m0 3.9h0m0.1-6.5h0m0.1-1.8h0m0.1-0.7h0m0.2-0.6h0m0-4.2h0m0.1 2.7h0m0.2-2.8h0m0.1 10.2h0m0.2 9.3h0m0.2-10.1h0m0 7.6h0m0.1-17.5h0m0 7.4h0m0.1-10.4h0m0.1 2.2h0m0.1 4.9h0m0.1-9.2h0m0.1-5h0m0.2 7.1h0m0 4.1h0m0.2 2.7h0m0-6.7h0m0.1 4.2h0m0.2-0.7h0m0 14.6h0m0.1-11.7h0m0.1-7.9h0m0.1 7.3h0m0.1 5.2h0m0-0.6h0m0 2.4h0m0.1-9.6h0m0.1 5.4h0m0-8.5h0m0 6.3h0m0-4.3h0m0 5.1h0m0-7.6h0m0.2 0.8h0m0.1 5.3h0m0.1-3.9h0m0.1 4.5h0m0-5.1h0m0.1-0.2h0m0.1 1.1h0m0.1 5.9h0m0.1-0.8h0m0-8.8h0m0.2 3.7h0m0 8.2h0m0.1-8.6h0m0.1 4.1h0m0.1 0.6h0m0.3 8.4h0m0-15.4h0m0 5.9h0m0-10.2h0m0 15h0m0.1-4.7h0m0.1-6.9h0m0.1 6.1h0m0.2 4.7h0m0.2-2.9h0m0-2.8h0m0.1 4.2h0m0 8.3h0m0.1-10.8h0m0.1 1h0m0-4.7h0m0 4.5h0m0.2-1.1h0m0.3-1.8h0m0.1 4.1h0m0.2-9.8h0m0.1 7.4h0m0 0.8h0m0.1 5.9h0m0-12h0m0.1 6.6h0m0.2 1.3h0m0-12.7h0m0.4 8.3h0m0.1 5.4h0m0 2.4h0m0-9.4h0m0.1 9.2h0m0-12.2h0m0.2 11.6h0m0.1-8.2h0m0 2.4h0m0.1-0.3h0m0.1 8h0m0.2-4.8h0m0.2-4.5h0m0.2 2.6h0m0.1 8.5h0m0-8.3h0m0.1-3.6h0m0.3 4.1h0m0.1-3.7h0m0 10h0m0-1.9h0m0.1-5.8h0m0 6.2h0m0.1-2.2h0m0 0.3h0m0-0.6h0m0.1-4.6h0m0.1 3h0m0-9.7h0m0 6.7h0m0 5.4h0m0.1-2.7h0m0-0.3h0m0.1-10.4h0m0.3 2.6h0m0 7.6h0m0.1-1.2h0m0-1.2h0m0.1-2.5h0m0 16.3h0m0.1-12h0m0-15.1h0m0.2 18.8h0m0.1-10.5h0m0 5.5h0m0.1 8.8h0m0.1-16.4h0m0.2 11.9h0m0.2-5.1h0m0 5.7h0m0.3-0.2h0m0.3-7.6h0m0.2 9.2h0m0-9.1h0m0 2.2h0m0.1 4.9h0m0.2 5.4h0m0.2-5.3h0m0-0.6h0m0.3-8.8h0m0.4 4.9h0m0.2-3.6h0m0.1 1h0m0 2.2h0m0.1 0.6h0m0.2 2.6h0m0-6.5h0m0 6.8h0m0.1-1.6h0m0-8.3h0m0.2 19h0m0-10.3h0m0.1 8.5h0m0.2 2h0m0-7.3h0m0.1-18.3h0m0.1 13.4h0m0.1 12.5h0m0-7.3h0m0.1 4.4h0m0-2.5h0m0-11.3h0m0.1 6.9h0m0.2 4.3h0m0-8.1h0m0.1 5.1h0m0.3-6h0m0 4.9h0m0.1 9.8h0m0-1.6h0m0-13.6h0m0 10.7h0m0.1-12.8h0m0.1 17.5h0m0.1-7h0m0.1 3.7h0m0-7.7h0m0 5.8h0m0.2 6.4h0m0.1-12.5h0m0.1 4.6h0m0.1 5.1h0m0.2-8.2h0m0.3 4.6h0m0.2-4.2h0m0.4 0.3h0m0.1 5h0m0 1.9h0m0.1-2h0m0.2-14.2h0m0 15.2h0m0.1 8.7h0m0-10h0m0.1 0.5h0m0-4.9h0m0.2 3.7h0m0.1 1.4h0m0.2-5.4h0m0.1-0.3h0m0.2-0.1h0m0.2 2.6h0m0.1-5.8h0m0.2 2.8h0m0.3-6.4h0m0 0.8h0m0.2 1.5h0m0.2 4.6h0m0.1 0.3h0m0 1.4h0m0.3 3.5h0m0.1-6.3h0m0.1 9.5h0m0.3-10.7h0m0.1-0.8h0m0 0.1h0m0-15.4h0m0.1 26h0m0.3-12.1h0m0.1 13.3h0m0-15h0m0.1 6.6h0m0.2-11.7h0m0.2 15.4h0m0.2-9.1h0m0.1 4.9h0m0.1 3.2h0m0.4-8.5h0m0 14.6h0m0.1-15.3h0m0 11.6h0m0.3-21.3h0m0.2 14.8h0m0 7.5h0m0.1-10h0m0.2 16.8h0m0-3.8h0m0.2-10.9h0m0-9.5h0m0.1 10.4h0m0.2-2.3h0m0-2.6h0m0.2 6.6h0m0.2-14.5h0m0.1 2.7h0m0.1 1h0m0.2 11.2h0m0-7.8h0m0.1 17.9h0m0-19.1h0m0-20.1h0m0 17h0m0.2 2.1h0m0.1 5.7h0m0.1 0.5h0m0.2 9h0m0.5-24.8h0m0.1 11.4h0m0-7.8h0m0.1 1.2h0m0.2 9.8h0m0-2.7h0m0-2.3h0m0.1 3.5h0m0-3.9h0m0 9h0m0.1-4.5h0m0.1-11.9h0m0.3 3.7h0m0 16.3h0m0 1.2h0m0.1-6.6h0m0.1-3.2h0m0.1-9.2h0m0.2 10.2h0m0-6.2h0m0 1.1h0m0.2 14.7h0m0.1-8.9h0m0.1 2.5h0m0.3-1h0m0-5.4h0m0-7.4h0m0.1 1.6h0m0.1 9.4h0m0.1-13h0m0.2 8h0m0.1 4.5h0m0-7h0m0.2 3.4h0m0 2.3h0m0-4.7h0m0-7.2h0m0 13.6h0m0.2 4.6h0m0.2 1.3h0m0-14h0m0.1 5.9h0m0.1-6.3h0m0.1 14.7h0m0.1-3h0m0.1-8.4h0m0.2 7.4h0m0-9.5h0m0 13.5h0m0-13.4h0m0.1-3.5h0m0 1.9h0m0.1 6.6h0m0-3.4h0m0 3h0m0.2-7.6h0m0 10.4h0m0-5.7h0m0.7-4h0m0.6 11.2h0m0.2 0.6h0m0.4-2.8h0m0.2-7.2h0m0.1 13.9h0m0.1-4.7h0m0-4.6h0m0.2 3.5h0m0 6.4h0m0.1-17.1h0m0 6.7h0m0.1 8.3h0m0.5-15.8h0m0.1 7.4h0m0 17.5h0m0-11h0m0.2-6.3h0m0 5.9h0m0-4.1h0m0.2-2.1h0m0 2.9h0m0.7 9.3h0m0.1-3.9h0m0.1-0.1h0m0.1-4.8h0m0 6.9h0m0-7.2h0m0.2 5.7h0m0.2 2.4h0m0 0.3h0m0.3-2.2h0m0-4.8h0m0.1-0.7h0m0 2.2h0m0 4.8h0m0 5.2h0m0.1-6.6h0m0 4.3h0m0.1-7.6h0m0 4.6h0m0.1-3h0m0.1-3h0m0.2 3.2h0m0-3.3h0m0.1-3.6h0m0.1 1.9h0m0 11h0m0-10.8h0m0.3-2.4h0m0.1 10.2h0m0.2-7.7h0m0.1 2.4h0m0.2-7.5h0m0 4.2h0m0.1 8.3h0m0-1.8h0m0.1 2.9h0m0.1-14.8h0m0.1 6.6h0m0 6.6h0m0.1-1.8h0m0 0.3h0m0 0.2h0m0.1-4.6h0m0 4.1h0m0-1.2h0m0.1-3.1h0m0 1.4h0m0-4.8h0m0 14.5h0m0.3-3.3h0m0.1-11.6h0m0 7.1h0m0.5 0.1h0m0-16.2h0m0.3 15.9h0m0-5.9h0m0.1-1.2h0m0.3 3.6h0m0.2 10h0m0-4.5h0m0.5-1.8h0m0-4.7h0m0.1 6.5h0m0.2-3h0m0.1 0h0m0.1 2.4h0m0.1 0.3h0m0.1 0.5h0m0-1.7h0m0-2.1h0m0.2 0.5h0m0.3-4.1h0m0.1 1.1h0m0.1-12.1h0m0.1 15h0m0.1-3h0m0 0h0m0 4.8h0m0.1-1.7h0m0-1.3h0m0.2-7.6h0m0.1 4h0m0 6.4h0m0-0.2h0m0.1 1.1h0m0.2-4.5h0m0.2-14h0m0.1 12.9h0m0 4.9h0m0.1-1.5h0m0-7.3h0m0.1 7.2h0m0.1-0.3h0m0.1-0.4h0m0 2.7h0m0.1-3h0m0.1-7.1h0m0 10.7h0m0.2-7.5h0m0.1 3.1h0m0.1 12h0m0-9.9h0m0.1-2.3h0m0 6h0m0.2-4.9h0m0 4.9h0m0.1-8.4h0m0 0.2h0m0.2-2.3h0m0 7.7h0m0.1-1.6h0m0.1-3.2h0m0.3 1.5h0m0 5h0m0 2.8h0m0-9.5h0m0.1 9.2h0m0.1-10.4h0m0.4-3.3h0m0 6.7h0m0.1-5.3h0m0 5.3h0m0.2-1.3h0m0.1 3.6h0m0 3.3h0m0-2.8h0m0-2.6h0m0 2.2h0m0 7.7h0m0.1-12.1h0m0.1 5.3h0m0-2.2h0m0.4 1.5h0m0-3.8h0m0-2.4h0m0.1 2h0m0.2-2.5h0m0 1.9h0m0 1.9h0m0.1 2.3h0m0.3-5.1h0m0-3.7h0m0 11.6h0m0-23.7h0m0.1 36.7h0m0.1-20.1h0m0 0.8h0m0 8.6h0m0.1-18.7h0m0.1 6.3h0m0-3.2h0m0.1-1h0m0.5 6.8h0m0.1-5.8h0m0.1 13.3h0m0.1-2h0m0.1-8.7h0m0-7.1h0m0.1 19.9h0m0-8.8h0m0 2.4h0m0.2-5.1h0m0.1 1.6h0m0.1-2.5h0m0.1 0.6h0m0 6.6h0m0.5 5.2h0m0-12.4h0m0.2 1.2h0m0.1 10.1h0m0-13.6h0m0 2.2h0m0 8.9h0m0.2-2.7h0m0 4.7h0m0.1-12.1h0m0.1 0.5h0m0.1-3.3h0m0 7.2h0m0.1 4.8h0m0-12.7h0m0.2 8.2h0m0.1-1.2h0m0.3-0.7h0m0.1 4.5h0m0-7.7h0m0.1 6.3h0m0.3-4.8h0m0.1 9.5h0m0.1 2.5h0m0-16.2h0m0 8.7h0m0-10.5h0m0.1 20.1h0m0-7.9h0m0 1.8h0m0.3-8.3h0m0-0.1h0m0.1 2.8h0m0-4.1h0m0 8.4h0m0.1-3.4h0m0.1-2.4h0m0-4.6h0m0.1 11.2h0m0-11.7h0m0 3.8h0m0.2 1.9h0m0 4.1h0m0-3.2h0m0.1-2.2h0m0-1.7h0m0.1 0.5h0m0 0.5h0m0 3.5h0m0.1 16.8h0m0.7-12.7h0m0.2-11.7h0m0.1 5.8h0m0.2 7.6h0m0.1-1.1h0m0.8-6.9h0m0 1.5h0m0.2 9.4h0m0-7h0m0.3 6.1h0m0.6-4.3h0m0-1.3h0m0.3-0.2h0m0.1-3.7h0m0 0.9h0m0 0.4h0m0.2-6.8h0m0.1 3.7h0m0 10.5h0m0.1-11.8h0m0.1 2.7h0m0.1 4.2h0m0-5.9h0m0.1 10.5h0m0.2-2.3h0m0 1h0m0.1-0.3h0m0.2 0.4h0m0-2h0m0-6.4h0m0 0.8h0m0.2-2.1h0m0.1 5h0m0-3.3h0m0 4.8h0m0.2-0.1h0m0 4.5h0m0.3-13h0m0 3.4h0m0.1 12.2h0m0-4.9h0m0.1-9.6h0m0.2 14h0m0-2.3h0m0.2-15h0m0 4.3h0m0.3 2.9h0m0.3 2.4h0m0.3-3.2h0m0.1 3.4h0m0-0.3h0m0.1 9.5h0m0 3.3h0m0.1-14.9h0m0.2 2.8h0m0.4-3.5h0m0.2 18.4h0m0.3-8.1h0m0-7.3h0m0.1 3.4h0m0.4 7.9h0m0-3.1h0m0.2-6.7h0m0.1-6h0m0.1 4.7h0m0.1-0.7h0m0.2 7.8h0m0.1-5.9h0m0 3.5h0m0.1-2.7h0m0-0.1h0m0 4.4h0m0.1-3h0m0-2.9h0m0.2-3.3h0m0 6.9h0m0.1 15.3h0m0.2-3.3h0m0-19.3h0m0.2 1.1h0m0 3.7h0m0 0.8h0m0-1.2h0m0.1-2.1h0m0.1 4.2h0m0.2 1h0m0 0.8h0m0.1-4.5h0m0.3 4.9h0m0-1.1h0m0.1-8.1h0m0.1 12.7h0m0.1-4.7h0m0.1 0.8h0m0.1 2.3h0m0.1-2.5h0m0-1.9h0m0.2 4.3h0m0.1-6.2h0m0 4h0m0 0.2h0m0-2.1h0m0.1-0.8h0m0 17.2h0m0-19.3h0m0 7.2h0m0.1-10.2h0m0.1 7.9h0m0.2-0.6h0m0-10.8h0m0.2 13.9h0m0.1-3.6h0m0.1 7.8h0m0-10.6h0m0.1 2.6h0m0 1.8h0m0.1-2h0m0.1-4.2h0m0 4.5h0m0.1-2.9h0m0.1 6h0m0.1-1.5h0m0.1-6.6h0m0 7.2h0m0.2 3.1h0m0-6.8h0m0-1.1h0m0.1 7.7h0m0-17.1h0m0.1 7.5h0m0 4.4h0m0 5.1h0m0.1-0.7h0m0-4h0m0-1.2h0m0.1 3.5h0m0.3-1h0m0 3.4h0m0.1-11.9h0m0-1.5h0m0.1 9.2h0m0.1 14.9h0m0.3-10.3h0m0-14.1h0m0.1 4.3h0m0-0.4h0m0 1h0m0.4-10.4h0m0 3.7h0m0.2 7.6h0m0-0.6h0m0.2 7h0m0-8.3h0m0.3 7h0m0.3-8.5h0m0.1 0.7h0m0.1 6.1h0m0 0.6h0m0.2-5.3h0m0 0.4h0m0 0.2h0m0.1 13.7h0m0.1-14.2h0m0.2-18h0m0.3 28.1h0m0-8.8h0m0.1-5.4h0m0 8.4h0m0.1-2.3h0m0.1-1.2h0m0.2 0h0m0.1 0.4h0m0.1-9.7h0m0.1 10.4h0m0 5.4h0m0.1-10.6h0m0.1 2.1h0m0.1-5.1h0m0.1 11.8h0m0.4-2.3h0m0.1 0.9h0m0.5-7h0m0-4.4h0m0 4.7h0m0.1-14.6h0m0.1 14.6h0m0.1-7.2h0m0.1 1.8h0m0.1 4.7h0m0.3-0.7h0m0-5.1h0m0.2 7.1h0m0 14.7h0m0.7-14.2h0m0 0.6h0m0.1 11h0m0.1-8.8h0m0-12.2h0m0 5.6h0m0.1-5.1h0m0.1 10.5h0m0.1-9.3h0m0.2 4.6h0m0.1-7.8h0m0 7.4h0m0.4 22h0m0.2-16.3h0m0-4.9h0m0-8.4h0m0.2 13.5h0m0-17.5h0m0.1 15.6h0m0 5.1h0m0.1-19h0m0.2 13.3h0m0-1.9h0m0.1-1h0m0.1-5.3h0m0.2 2.2h0m0 12.4h0m0-4.1h0m0.1 0.3h0m0-5.3h0m0.2-0.7h0m0-0.4h0m0 6.6h0m0 5.7h0m0.1-12.5h0m0 0.7h0m0.2-11.6h0m0.1 18.1h0m0.1 2.5h0m0.1-5.3h0m0.1 6.6h0m0.1 3.3h0m0-7.9h0m0.1-17.4h0m0 19.9h0m0.1-4.1h0m0-5.9h0m0 17.5h0m0.1-16.9h0m0 10.7h0m0-13.7h0m0.1 14.6h0m0.1-5h0m0.4 4.4h0m0.1-3.1h0m0.2-8.2h0m0.4 1.4h0m0.2 5.5h0m0.2-7.4h0m0 13h0m0.1-22.1h0m0.2 26.7h0m0.1-25.4h0m0 23.1h0m0.1-14.6h0m0.1 5.1h0m0-8.2h0m0-4h0m0 12.7h0m0.2 17.3h0m0-18.8h0m0.2-0.4h0m0.1 9.8h0m0-2.2h0m0-6.1h0m0.1-2.7h0m0.1 6.1h0m0-10.8h0m0 15.3h0m0.1-11h0m0 6.7h0m0.3-8.6h0m0 2.5h0m0-5.6h0m0.2 4.4h0m0.1 8.4h0m0.2 5.6h0m0.1-16.6h0m0.1 2.4h0m0.2 8.4h0m0 6.6h0m0-4.7h0m0.1 4.9h0m0-12.5h0m0.1 17h0m0.1-20.6h0m0.1 6.1h0m0 0.3h0m0.3 11.5h0m0-3.1h0m0 1.9h0m0.1-11.2h0m0-1.2h0m0.1 0.5h0m0.1-2.3h0m0.2-5.4h0m0 18.8h0m0.1-8.8h0m0.2-2.8h0m0-2.2h0m0.1 2.9h0m0.1-8h0m0 7.5h0m0.1 0.6h0m0.1-0.5h0m0.1-0.6h0m0.1-4.2h0m0.1 3.3h0m0 7.4h0m0.1 0h0m0.1-10.1h0m0.1 5h0m0 5.3h0m0-4.9h0m0 5.2h0m0.1-7.5h0m0 8.6h0m0.2 3.8h0m0-10.6h0m0.3 8.9h0m0.1-5.4h0m0.2-13.6h0m0.2 5.4h0m0.2-9h0m0.1 6.9h0m0.3 1.1h0m0.1 5.1h0m0.1 6.1h0m0.2-11h0m0.1 4.6h0m0 10.6h0m0-17.4h0m0 7.3h0m0.2-1.3h0m0 1.8h0m0.1 5.4h0m0.1 0.8h0m0.3-8.2h0m0.1 2.4h0m0.1 1.3h0m0.1 4.8h0m0 4.3h0m0-6.3h0m0.1-8.7h0m0.1 14.1h0m0.1-12.6h0m0.1 1h0m0 4.8h0m0-2.4h0m0.2 2.1h0m0.1 11.4h0m0-7.9h0m0.1-6h0m0.1-1.3h0m0-3h0m0 19.7h0m0.1-16.8h0m0 5.8h0m0.3 7.2h0m0-4.8h0m0-15.7h0m0.1 15.3h0m0-2.6h0m0.1 16.7h0m0.1-22.9h0m0.1 1.7h0m0.2 4h0m0 3.6h0m0.3-0.8h0m0.2-8.8h0m0.3 4.3h0m0.1-1.9h0m0 2h0m0.1 5.7h0m0.1-4h0m0.2-3.3h0m0 4h0m0-3.7h0m0 4.8h0m0.1-0.7h0m0.2 9.8h0m0.1-14.8h0m0.1 6.3h0m0.1 1h0m0 2.3h0m0.1-13.8h0m0 4.1h0m0-6.4h0m0.2 11.3h0m0-9.5h0m0.1 3.3h0m0.1 8h0m0.1-5.2h0m0.2 4.8h0m0.1-9.9h0m0.1 8.8h0m0.1-7.7h0m0 14.3h0m0.2-4.4h0m0.1-8.3h0m0.3 8.3h0m0.1-8.8h0m0.2 1h0m0 4.2h0m0-8.2h0m0.2-5.3h0m0.1 11.1h0m0.1 0.6h0m0 1.3h0m0.2 0.2h0m0.4-5.8h0m0 4.8h0m0.1 0.9h0m0.1-5.8h0m0.1 10.6h0m0-5.8h0m0.1 14h0m0.2-16.7h0m0 10.4h0m0-10.3h0m0.2 0.9h0m0.1 3.2h0m0.1-1.7h0m0.4 5h0m0.1-5.4h0m0-9.6h0m0.2 6.2h0m0 4.1h0m0.3-6.2h0m0.1-0.2h0m0.1 7.3h0m1-1.7h0m0.1-2h0m0 1.5h0m0.1 2.3h0m0.1-6.2h0m0.1 1.6h0m0 2.9h0m0.1-1.1h0m0-9.1h0m0.1 11.9h0m0.3-1.6h0m0-4h0m0.2 6.4h0m0.1-6.4h0m0.2 8.5h0m0-2.5h0m0.1 13.6h0m0-3.2h0m0.4-8.6h0m0.2 6.2h0m0-2.5h0m0-1.6h0m0-3.5h0m0 0.7h0m0.1 3.6h0m0-3.9h0m0-2.1h0m0.2-3.4h0m0-2.3h0m0.1 16h0m0.1-7.2h0m0-6.4h0m0.1 0.2h0m0 8.8h0m0.2-2.5h0m0-5.8h0m0 3.2h0m0 2.5h0m0.1-5.4h0m0.2-1.7h0m0 0.2h0m0.1 1.8h0m0 1.7h0m0.1-0.9h0m0.1 0.8h0m0.2 0h0m0-6.2h0m0.2 3.7h0m0 6h0m0.3 2.9h0m0-10.2h0m0.1 9h0m0-10.6h0m0 7.8h0m0.1-16.5h0m0 18.2h0m0.7-5.6h0m0-3.5h0m0.1 2.1h0m0.5 10.3h0m0.1-13.2h0m0 10.5h0m0.1-10.7h0m0 2.1h0m0.1 13.1h0m0-10.5h0m0.1 4.7h0m0.1-6.7h0m0.1 3.7h0m0.1-3.8h0m0.1-3.3h0m0.1 8.2h0m0.1-2.4h0m0 1.8h0m0.1-4.9h0m0.1 1.1h0m0.4 7.6h0m0.1-4.8h0m0.1 5.5h0m0.2-4.9h0m0.1 2.1h0m0.1-2h0m0 1.3h0m0.1 2.4h0m0.1-0.9h0m0-7.9h0m0.1 10.5h0m0.4-4.7h0m0 3.1h0m0-5.6h0m0.1 5.4h0m0-1h0m0.1 8.4h0m0.1-13.2h0m0 0.8h0m0.2 3.5h0m0.1-2.9h0m0.1 0.5h0m0.1-0.3h0m0 0.5h0m0 7.5h0m0.3-10.6h0m0.3 10.1h0m0.1-5.4h0m0.1 0.3h0m0.3-6.3h0m0.1 5.3h0m0.2-0.4h0m0-1.2h0m0 3.7h0m0.1-2.2h0m0 0.6h0m0.1 3.7h0m0-0.3h0m0.1-9.5h0m0.2 7.1h0m0 3.6h0m0-14.5h0m0.1 4.4h0m0-2.3h0m0.5-0.6h0m0 16.4h0m0-6.5h0m0.1-12.4h0m0.1 13.4h0m0-7.2h0m0 5.9h0m0-1.1h0m0.1 2.9h0m0-1.5h0m0 1.1h0m0.2-5.5h0m0.1 1h0m0.1-0.5h0m0 1.4h0m0.1-4.1h0m0.2 4.8h0m0.2-4.1h0m0.2 2.9h0m0.3-0.5h0m0 1h0m0-3h0m0.1-7.3h0m0.1 11.5h0m0-8.7h0m0.1 23.1h0m0.4-17.1h0m0.1-2.7h0m0.1 4.8h0m0.1-1.9h0m0.1 1.3h0m0-4.6h0m0.1 5.2h0m0.1 2.1h0m0 8.4h0m0.2-16.8h0m0.1 2.2h0m0 3.1h0m0-1.5h0m0.1-7.2h0m0.3 1.7h0m0.1 13.2h0m0.1-4.3h0m0.2-0.9h0m0.2-7.3h0m0.1 4.6h0m0.2 3.9h0m0-5.5h0m0.5 1.6h0m0 2.6h0m0 0.4h0m0.4 0.9h0m0-3.1h0m0.1-4h0m0.1 8.3h0m0.2-7.2h0m0.2-5.1h0m0 7.1h0m0.1 8.6h0m0.1-0.8h0m0.1 0.4h0m0.1-11.5h0m0 2.9h0m0 5h0m0.1 0.4h0m0.5-8.9h0m0.2 2.5h0m0-0.6h0m0.1-0.4h0m0 10.9h0m0-5.6h0m0.2-1.4h0m0 5.3h0m0.2-0.3h0m0.1 0.7h0m0.2-1.7h0m0.1-5.1h0m0 0.9h0m0.1-1.4h0m0.1 5h0m0-3.5h0m0.1-0.1h0m0 5.2h0m0.2-4.2h0m0.1 1.2h0m0 2.5h0m0-9.6h0m0.2 1.8h0m0-2.2h0m0.3 8.5h0m0.1 3.8h0m0-7.5h0m0.1 1.5h0m0 19h0m0.1-16.1h0m0.2 0.1h0m0.1 4.5h0m0.1-11.7h0m0-2.8h0m0.2 7.1h0m0.2 10.2h0m0-8h0m0.1-1.3h0m0.1 4.6h0m0.1-3.7h0m0.1-0.5h0m0.1 0h0m0.4 2.9h0m0-15.6h0m0.1 15.1h0m0.2-8.6h0m0.1-1.5h0m0.1 2.5h0m0.1 14.7h0m0-12.4h0m0.1-0.7h0m0-0.1h0m0.1-2h0m0.2-5.5h0m0 8.5h0m0.1 6.6h0m0.1-4.1h0m0.4-6.4h0m0 1h0m0 7.5h0m0.1-5.5h0m0.2 2.4h0m0.1-6.8h0m0.1 11.1h0m0.3-5.9h0m0-3.4h0m0.2 3.2h0m0-2.1h0m0 5.7h0m0-9.3h0m0.1 13.8h0m0-12.1h0m0.1 3.8h0m0 6.9h0m0.3-1.6h0m0.1-3.2h0m0.1-3.1h0m0.2 1.8h0m0.1-3.3h0m0.7 1.9h0m0.1 19.8h0m0.2-27.3h0m0 17.4h0m0.1 1.6h0m0.1-9.2h0m0 4.8h0m0.1 14.6h0m0-20.2h0m0.1 3.4h0m0.1 3.8h0m0-15.9h0m0 17.7h0m0.1-4.3h0m0-3.5h0m0.2-8.5h0m0.2 16.4h0m0-5.8h0m0-3.5h0m0-6.5h0m0.2 11.8h0m0.1-12.5h0m0.1 7.2h0m0-1.3h0m0-2.8h0m0.3 3.7h0m0.2 2h0m0.1 1.9h0m0.1-5.7h0m0.2 3.5h0m0.1-11.4h0m0.1 6.7h0m0.3 4h0m0 3.4h0m0-2.9h0m0-4.2h0m0.5-5.4h0m0 11.1h0m0-7.1h0m0.1-0.2h0m0.2 8.4h0m0.1-2.3h0m0-3.8h0m0.1 10.7h0m0.1-11h0m0.1 6.2h0m0.2-5.5h0m0.2 11.4h0m0-12.1h0m0 12.7h0m0.1-2.3h0m0.2 0.6h0m0.1-8.3h0m0.1-1.8h0m0.2 4.4h0m0.2-5.8h0m0-5.8h0m0.1 4.6h0m0 7.2h0m0.1 3.4h0m0.1-11h0m0 12.6h0m0.1-12.2h0m0-3.4h0m0-1.2h0m0.3-1.3h0m0.1 7.7h0m0.1 0.3h0m0.1-6.2h0m0.1 14h0m0.1-0.1h0m0 1.5h0m0.2-10.4h0m0 15.7h0m0.3-3.8h0m0-13.5h0m0.2 2.3h0m0.3 0.9h0m0.2 6.3h0m0.2-4.2h0m0.4-6.6h0m0.2 9.3h0m0 6.8h0m0-9.5h0m0.1-4.1h0m0.2 1.2h0m0.1-1h0m0.1 3.3h0m0.2-2.4h0m0 5.5h0m0.2-8.2h0m0 6.2h0m0.1-4.4h0m0.1 1.3h0m0.1 2.2h0m0 6h0m0.1-8.5h0m0.2-11h0m0 11.7h0m0.1 5h0m0.1-1.5h0m0.1 5.3h0m0-1.2h0m0-10.8h0m0-6.7h0m0.3 3.3h0m0 9.2h0m0.1 0.9h0m0-3.4h0m0 0.9h0m0-1.4h0m0.1 7.2h0m0-9.1h0m0.2 0.9h0m0.1 0.8h0m0 4.9h0m0-10h0m0.1 9.5h0m0.1-4.8h0m0 16.6h0m0.1-16.7h0m0.2-4.5h0m0.1 9.7h0m0.3-3.4h0m0.1-0.6h0m0-5.6h0m0 10.6h0m0.5-6.6h0m0.3-0.3h0m0 8.2h0m0.2-8.3h0m0 4.6h0m0-3h0m0.1-3.2h0m0.2 5.5h0m0-1.1h0m0 0.2h0m0.1-5.9h0m0.1 5.9h0m0.1-1.1h0m0.1-4.2h0m0.2 4.4h0m0.1 1.3h0m0 3.9h0m0.3-8.7h0m0.1 3.3h0m0-4.6h0m0 6.1h0m0.3 0.3h0m0.3-9.6h0m0.1 5.4h0m0 4.3h0m0.1-1.1h0m0.3 1.5h0m0.1-4.3h0m0.1 6.8h0m0.1-7.1h0m0.1-6.4h0m0.1 9.7h0m0-2.6h0m0 0.1h0m0.1 0h0m0.1-4.5h0m0.1 1.9h0m0 0.7h0m0.1-2.3h0m0 1.5h0m0 3h0m0.1-0.4h0m0 2.8h0m0.2-10.7h0m0.1 10.3h0m0 0.5h0m0.1-5.4h0m0.1 0.7h0m0.1 6.6h0m0.3-2.9h0m0-2.5h0m0.1-0.3h0m0.2-0.2h0m0 5.3h0m0.1-2.4h0m0.1 4.1h0m0-1.2h0m0.1-5.5h0m0 0.4h0m0.3 6.1h0m0.1 0.2h0m0-16.6h0m0.1 11.4h0m0.1 9.1h0m0 3.1h0m0.2-10.4h0m0.1-7.1h0m0 1.1h0m0.2 25.9h0m0-9.8h0m0.3-2.9h0m0-12.6h0m0 5.6h0m0.1 3.3h0m0-8.5h0m0.1 3.8h0m0 11.9h0m0.5-13.1h0m0-4.3h0m0 1.3h0m0.2 5.1h0m0.1 1.4h0m0.1 3.8h0m0.1-12.4h0m0.2 14h0m0.2-9.2h0m0-8.2h0m0.1 7.3h0m0.2 0.6h0m0.2-2h0m0.4 6.9h0m0.2-1.9h0m0.1 3.7h0m0.3-4.4h0m0.1 1.8h0m0.2-0.2h0m0.1 0.5h0m0-1.7h0m0.1-5.8h0m0 1.6h0m0 0.6h0m0.1-1.9h0m0.2 5.3h0m0.1 1.1h0m0.2-1.2h0m0.1-0.1h0m0.1-0.9h0m0.1 2.7h0m0.3-2.5h0m0-6.9h0m0 9h0m0.1-0.1h0m0.1-8.1h0m0.2 5.8h0m0 4.4h0m0.5-2.3h0m0.1-2.9h0m0.1 2.9h0m0 2.6h0m0.2-8.5h0m0.2 10.8h0m0.2-3.9h0m0.2-0.4h0m0 0.1h0m0.1 4h0m0-4.1h0m0-7.2h0m0.1 9.1h0m0-4.9h0m0.1-5h0m0.1 0.6h0m0 6h0m0.4 0.6h0m0.3-4.5h0m0.1-1.4h0m0.1 6.9h0m0.1 3.2h0m0-7.5h0m0.2-0.4h0m0 9.7h0m0-2h0m0.1-3.1h0m0.1-3.6h0m0.1 0.7h0m0 2.3h0m0.1 2.6h0m0-2.9h0m0.2-5.8h0m0.1 7.3h0m0-2.7h0m0.1 3.7h0m0.2-5.4h0m0 1.9h0m0.2-11.6h0m0.4 6.2h0m0 7h0m0 6.9h0m0.1-12.1h0m0 19.8h0m0.1-20.5h0m0.1 0.3h0m0.1 6.1h0m0.2-2.8h0m0.3-1.2h0m0.2-5.4h0m0 9.2h0m0-5.2h0m0.1 2h0m0-4.7h0m0.1 3.2h0m0-1h0m0 6.3h0m0.1-3.4h0m0.2 0.9h0m0 1.7h0m0.1 3.5h0m0-9.6h0m0.2 4.1h0m0-2.4h0m0.3 6.4h0m0.1-9h0m0-2.9h0m0.3 14.1h0m0.1-3.7h0m0.1-0.4h0m0-1.1h0m0-2.1h0m0.3 3.3h0m0.1 3.9h0m0.1-8.1h0m0 11.5h0m0-5.8h0m0.2 3.8h0m0.1-8.7h0m0.2 17.9h0m0.4-15.5h0m0.2 5.1h0m0.2-8h0m0.1 1.7h0m0.2 2.4h0m0.2 3.2h0m0-12.2h0m0.2-0.5h0m0.3 8.2h0m0-8.6h0m0.3 6.2h0m0 1.8h0m0.2-2.1h0m0.2 10h0m0.1-15.2h0m0 0h0m0.2 4.3h0m0 19.1h0m0.3-16.3h0m0 0.9h0m0.3 5.2h0m0 6.7h0m0-13.5h0m0.1-2.6h0m0 8.1h0m0.2-2.1h0m0.1-5.7h0m0.2-4.1h0m0.1 11.6h0m0.1-6.6h0m0.1-11.2h0m0 17.1h0m0.1-0.9h0m0.1-0.3h0m0 0.8h0m0.1-9.8h0m0.1 14.7h0m0-19.9h0m0.1 4.4h0m0 4.6h0m0.3 4.2h0m0.1-8h0m0.4 6.2h0m0.1 6h0m0-4.1h0m0 4.8h0m0.3 0.4h0m0.2-13.2h0m0.1 8.5h0m0-2.4h0m0.4 0.4h0m0 2.3h0m0.3 4h0m0.1-10.8h0m0 5h0m0-5.8h0m0.1-4.2h0m0 12.5h0m0.1-3.6h0m0 1.1h0m0-4.2h0m0.1 12.5h0m0.2-13.8h0m0.2 2.7h0m0 9.3h0m0.1-11.1h0m0 6.6h0m0.1-1.5h0m0 6.8h0m0.1-12.2h0m0.1 15.3h0m0.2-17.5h0m0.2 9.9h0m0.3-6.3h0m0-1.1h0m0 10.3h0m0.1-11.9h0m0.2 6.9h0m0.2-6h0m0.1 7.6h0m0-5.1h0m0 4.7h0m0.2 1.3h0m0.1-2.9h0m0.3 5.3h0m0.1-7.1h0m0.1 5.1h0m0.3-10.2h0m0.1 11.6h0m0-5.2h0m0.1-4h0m0 13.9h0m0.1-11.5h0m0.3-0.7h0m0.5 5.4h0m0-2.7h0m0.1-8.6h0m0 16.5h0m0.1-1.1h0m0.1-12h0m0.1 9.2h0m0.1-8.8h0m0.1-1h0m0-2.8h0m0.1 8.9h0m0.2 6.1h0m0.1-7.8h0m0-6.9h0m0.1 5.7h0m0 2.6h0m0 2.9h0m0-3h0m0-1.1h0m0.2 1.6h0m0 4.3h0m0.1-10.3h0m0.2 8.8h0m0.1-3.5h0m0.3 7.9h0m0.1-2.3h0m0-0.3h0m0.1 1.4h0m0-8.9h0m0 2h0m0.1 4.7h0m0.2-2.1h0m0-1.4h0m0.3 3.5h0m0.1-0.2h0m0.2 0.6h0m0.2-0.2h0m0.1-14.2h0m0.2 13.6h0m0.1-7.8h0m0 2.7h0m0.4 2h0m0.2 2.6h0m0.2-4.6h0m0.1 2.4h0m0.1-5.3h0m0 6.9h0m0.1-12.6h0m0.3 11.1h0m0.2 2.2h0m0.1-0.5h0m0.1-3.1h0m0 9.7h0m0.1-1.3h0m0-8h0m0-1.2h0m0.3 1.1h0m0-3.4h0m0 10h0m0.2-16.6h0m0.1 9h0m0.2 2.2h0m0.4-2.2h0m0.4 4.2h0m0.1-9.7h0m0.1 10.7h0m0.1-8.6h0m0.1 3.4h0m0-4.3h0m0 9.6h0m0.1 1.6h0m0.2-5.7h0m0-2.1h0m0 7.3h0m0.1-6.7h0m0.4-5.1h0m0.4 8.7h0m0.3-8.9h0m0.1 4.8h0m0-3.8h0m0.2 5.3h0m0.1-7.7h0m0 12.5h0m0-3.6h0m0.2 2.1h0m0.1-8.2h0m0-3.6h0m0.1 11.8h0m0-4h0m0.3 19.4h0m0.2-20.2h0m0-8.6h0m0.1 12.5h0m0-4.4h0m0.1-2.1h0m0.1 1.3h0m0.1 1.3h0m0.1-7.3h0m0.4 7.1h0m0.1-0.1h0m0.2-1.2h0m0 9.9h0m0.1-2.9h0m0 1.8h0m0.1-7.8h0m0.2-2h0m0.3-0.9h0m0.1 2.6h0m0 2.1h0m0.1-2.7h0m0.1 3h0m0.1 4h0m0.2-8.9h0m0.1 0.5h0m0.1 4.1h0m0 4.8h0m0.1-4.6h0m0 2.7h0m0.1-1h0m0-1.4h0m0.3 3.2h0m0 5.3h0m0.1-5.1h0m0 6.1h0m0-9h0m0.1-0.1h0m0 0.4h0m0.3-0.8h0m0.1 5.1h0m0.1-4.9h0m0.3 6.4h0m0-6.9h0m0.2-10.5h0m0.3 14.1h0m0.1-7.5h0m0.2 9.4h0m0 1.1h0m0.1-4.3h0m0-1.5h0m0 0.3h0m0.2-9.1h0m0-0.6h0m0.2 10.3h0m0.1-0.4h0m0.2-5.5h0m0 2.7h0m0 1.5h0m0.1-4.4h0m0 12h0m0-15.3h0m0.1 10.6h0m0-2.4h0m0.1-1.7h0m0.1 6.7h0m0.6-5.9h0m0.2-2.9h0m0.2 1.4h0m0 4.1h0m0.2-11.1h0m0.3 13.9h0m0.1-3.9h0m0.3-5.2h0m0.1 5.8h0m0.3-6h0m0.2 1.4h0m0.1 1.1h0m0 5.9h0m0-4.6h0m0.1 3.1h0m0.3 3.2h0m0.1-12.6h0m0 8.1h0m0-0.5h0m0.1 2.9h0m0.1-2h0m0.1-0.3h0m0.1-3.9h0m0.1 2.8h0m0-7.2h0m0.1 6.2h0m0 5.6h0m0.2-4h0m0.1-4.2h0m0.2 27.1h0m0.1-23.4h0m0.1 4.8h0m0.2 5.1h0m0.1-13.1h0m0.1 3.2h0m0.3-8.7h0m0.1 16.8h0m0.1-16.9h0m0 4.2h0m0.4 15.5h0m0.1-9.6h0m0.2 2.2h0m0.1 7.7h0m0-15.4h0m0.2 3.2h0m0.1-0.4h0m0 7.4h0m0.1-8.6h0m0-4.3h0m0.2 7.3h0m0.1 0h0m0-2.8h0m0 4.3h0m0.1-10.8h0m0.1 10h0m0.1-7h0m0 9.4h0m0.1-10.8h0m0.2 3.9h0m0.2 2.6h0m0 2h0m0.1-3.4h0m0-9.6h0m0.1 7.2h0m0-7.7h0m0.1 8.8h0m0-4.9h0m0.2 7.2h0m0-0.1h0m0.1 1.8h0m0.1-8.7h0m0.1-0.1h0m0.1 10.2h0m0.2-5h0m0-2.7h0m0 2.5h0m0.2-3.7h0m0.1-3.9h0m0.1 17.9h0m0.4-18.4h0m0.2 11.5h0m0.1-1.3h0m0.4 0.1h0m0-6.3h0m0-3.2h0m0.1 3.6h0m0 5.6h0m0.1 0.5h0m0.3-13.6h0m0.1 12.8h0m0 5.4h0m0-8.7h0m0 5.4h0m0.1-7.6h0m0.2 6.8h0m0.1-7.7h0m0 14h0m0-13.9h0m0 2.8h0m0 0.6h0m0.1-4.7h0m0.3 22.4h0m0.1-9.8h0m0.2 0.5h0m0.1-8.3h0m0 11.7h0m0-4.1h0m0 0.5h0m0 3.8h0m0-8.8h0m0.1 8.3h0m0.3-6.2h0m0.4 4.2h0m0-6.9h0m0.1-5.2h0m0.1 5.1h0m0 0.3h0m0 1.4h0m0.3-0.4h0m0 6.9h0m0.2-7.2h0m0.2 4.5h0m0.1-0.4h0m0-8h0m0.2 10.7h0m0-10.2h0m0.1 12.6h0m0.2-12.3h0m0.1-0.1h0m0.3 4.9h0m0.1-2.5h0m0.2 0.1h0m0.1 7.8h0m0.3-8.7h0m0.1-0.5h0m0.1 5.2h0m0-0.6h0m0.1-5.2h0m0 1.7h0m0.1 0.5h0m0-2.7h0m0.2-4.3h0m0.2 14.6h0m0.1-6.6h0m0-5.8h0m0 2.1h0m0-1.5h0m0.1 8.8h0m0.1-7.1h0m0 1.2h0m0.1-3h0m0 3.2h0m0 5h0m0.2-2.4h0m0.1 3.4h0m0.3-4.5h0m0-7.9h0m0.2 11h0m0.1-5.6h0m0-0.7h0m0.1 6.1h0m0-6.1h0m0.1 3.5h0m0-2.1h0m0.1 1.7h0m0.2 0.7h0m0.3-0.8h0m0.1 6.6h0m0-8.5h0m0.1 2.4h0m0 1.8h0m0.2-4.3h0m0.1 1.6h0m0.4-6.5h0m0.1-0.2h0m0.4 3.8h0m0.2 6.6h0m0.2-6.5h0m0.3 5h0m0-1.8h0m0.2-7.2h0m0 9.8h0m0-0.2h0m0-4.5h0m0.1-0.6h0m0-1.2h0m0 21.7h0m0.1-15.1h0m0.1-3.3h0m0.1 2.1h0m0.1 4h0m0.1-3.8h0m0.1-2.7h0m0.1-0.6h0m0-2.6h0m0.3 3.1h0m0.4 9.1h0m0-2.7h0m0-3.8h0m0 7.2h0m0.1 7.3h0m0-16.8h0m0.2 1.3h0m0 0.5h0m0 2.5h0m0.1-4.6h0m0.1 2h0m0 5.1h0m0.2-8.2h0m0 4.9h0m0.1 2.3h0m0.2-5.4h0m0 6.1h0m0-13.9h0m0.1 14.8h0m0-2.7h0m0.1-3.9h0m0.1 11.9h0m0.2-7.7h0m0.1 7.2h0m0-15.5h0m0.3 0.7h0m0.1 3.3h0m0.3 3.3h0m0-3.6h0m0.1-1.8h0m0.3-2.8h0m0 6.9h0m0.1-5.5h0m0.1 11.3h0m0.1-9.6h0m0.3 2.7h0m0 1.3h0m0.2 1.1h0m0-0.2h0m0.2-9.7h0m0.1 7.4h0m0.3 6.2h0m0.1-4.5h0m0.1 1.5h0m0.1-0.2h0m0 7.1h0m0.1-17.2h0m0.1 7.3h0m0-4.1h0m0.2 12h0m0.1-13.7h0m0.2 13.8h0m0-5.5h0m0.1 6.1h0m0.1-1.7h0m0.2-2.5h0m0.1-19.3h0m0 16.9h0m0 4.6h0m0.5 6.7h0m0.4-9.5h0m0 12.7h0m0.2-9.3h0m0.1 4.8h0m0.3-23.5h0m0 13.3h0m0 2.6h0m0.2 2.9h0m0-1.5h0m0.2-1.3h0m0 9.2h0m0-0.1h0m0.3-8.8h0m0-5.4h0m0.1 7.1h0m0.1-10.8h0m0-3.5h0m0.1 7.3h0m0.2 0.3h0m0 1.4h0m0-3.4h0m0.1-2.4h0m0 8.4h0m0.1-4.7h0m0.2 4.3h0m0.1-3.1h0m0.1 6.2h0m0.3-13.4h0m0.1 3.6h0m0 5.2h0m0 2.1h0m0.1-7.6h0m0-1.1h0m0.1 3.4h0m0-3.1h0m0.1 0.7h0m0.1-0.8h0m0 2.8h0m0.7-5.5h0m0-2.6h0m0 28.1h0m0.1-20.3h0m0.1-1.6h0m0-1.7h0m0.1 6.8h0m0 5.1h0m0.2-7.6h0m0 0.6h0m0 9h0m0.1-5.2h0m0.1 4h0m0.2 2h0m0.1-8.1h0m0.1 5.9h0m0.1-2.2h0m0.6 5.1h0m0-4h0m0-5.6h0m0-6.2h0m0.1 2.9h0m0.1 10.9h0m0-7.7h0m0.2-7.6h0m0.3 11.9h0m0.3-4.2h0m0 5.6h0m0.1-5.1h0m0 3.5h0m0.1-6.3h0m0.1 6.3h0m0.1-7.1h0m0.1-12h0m0 21.6h0m0.2-6.4h0m0-0.7h0m0.1-3.7h0m0 10.3h0m0.2-10.2h0m0.1-3.3h0m0.2 10.8h0m0.3-6.6h0m0.2 5.1h0m0 0.1h0m0.3-5.2h0m0.1 6.9h0m0.3-1h0m0.2-4.8h0m0.1 8.4h0m0.2-7.7h0m0 1.6h0m0.1 9.9h0m0.3-10.1h0m0-0.1h0m0.1 4.3h0m0.2-6.5h0m0.1 4.2h0m0-7.4h0m0.1 3.2h0m0-2.5h0m0.1-0.2h0m0.1 2.2h0m0.1-5.5h0m0.1 3.9h0m0.1 6.4h0m0-3.6h0m0.1 5.6h0m0.3-5.4h0m0.1-0.6h0m0-1.5h0m0.2 3.9h0m0.1 0.7h0m0.1 4h0m0.1 1.3h0m0-9.2h0m0 0.3h0m0.1-1.5h0m0.1 5h0m0-5.2h0m0.1 5.7h0m0.1-3.9h0m0.1-1h0m0.1-1.1h0m0.1-3.4h0m0.1 7.3h0m0-5.7h0m0.1 11.5h0m0.1-9.8h0m0.2-3.3h0m0 6.3h0m0.1 3.8h0m0-3.3h0m0.1-4.6h0m0.1 13h0m0.1-2h0m0.1-15.3h0m0.1 13.4h0m0-2.5h0m0-1.9h0m0.2 14.2h0m0.2-13.3h0m0-1.7h0m0.1-6h0m0 9.5h0m0.2 2.1h0m0.1-2.4h0m0-2.9h0m0.1-0.9h0m0.1-1.6h0m0.1-0.3h0m0 11.6h0m0-6.3h0m0.2-6.9h0m0 14.1h0m0.1-0.9h0m0.5-4.5h0m0.1 9.6h0m0.1-15.8h0m0 5.8h0m0.4-6.1h0m0.2 10.3h0m0.1 3.5h0m0.5-6.8h0m0.2-13.6h0m0 8.2h0m0.1 3.9h0m0.2-4.2h0m0 8.9h0m0.1-12.1h0m0 6.3h0m0.1-5.4h0m0-2.1h0m0 2.1h0m0.1 8.3h0m0-4h0m0.2 2.7h0m0.6-0.2h0m0-8h0m0.1 5.7h0m0.1 0.7h0m0-0.8h0m0.1-3.1h0m0 9.9h0m0.1-6.9h0m0-3.4h0m0 6.5h0m0.3-3.4h0m0 10.5h0m0-0.7h0m0-14.5h0m0.1 20h0m0.2-17.4h0m0.1 3.3h0m0.3 2.8h0m0-3.5h0m0.1-1.1h0m0.2-4h0m0 13.3h0m0.1-10.2h0m0 1.8h0m0-6.6h0m0.2 1.9h0m0.2 8.2h0m0.2-2.4h0m0.1-4.8h0m0.1-5.2h0m0.1 7.5h0m0.1 4.3h0m0 7.7h0m0.1-17.1h0m0.1 1.5h0m0.4-2.3h0m0.2 8.1h0m0.1-2.3h0m0.1-3.6h0m0 1.8h0m0-1.2h0m0.1 4.8h0m0.1-0.2h0m0 0.6h0m0.2-3h0m0.2-1.9h0m0.1 9.1h0m0-1.2h0m0-8.7h0m0.1 6.2h0m0.1 4.8h0m0.1-3h0m0.1 1.2h0m0.1 0.9h0m0-7.7h0m0.1 4.4h0m0.3-4.4h0m0 0.6h0m0.1-0.4h0m0.1 17.5h0m0.2-18h0m0.1 11.1h0m0-5.7h0m0.1-4.2h0m0 3.5h0m0.6 1.1h0m0-8.7h0m0.2 5.2h0m0.2 8.6h0m0-6.8h0m0.2-4.2h0m0.3 16.5h0m0.1-18h0m0.1 11.7h0m0.3-1h0m0.3-8.3h0m0 6.9h0m0.2 9.4h0m0.1-11.4h0m0-5.7h0m0 8.9h0m0.2-11.5h0m0.2 5.5h0m0 3.1h0m0-0.3h0m0 7h0m0.1-26.8h0m0.1 20.8h0m0-2.1h0m0.1-1.2h0m0 2.2h0m0.1 6.9h0m0.1-8.1h0m0.2 3.7h0m0.1-1.8h0m0-5.7h0m0.1-2.5h0m0.2-5.7h0m0 15.1h0m0.2-7.2h0m0 1.6h0m0.2-2.5h0m0-0.5h0m0 9.6h0m0.2-4.6h0m0.1-1.3h0m0 0.6h0m0.1 2.8h0m0.1-3.4h0m0.3 4.5h0m0-15.7h0m0.3 12.8h0m0.2-2.9h0m0-2h0m0.1 7.1h0m0.1-6.7h0m0.1-3.9h0m0.1 13.3h0m0-9.3h0m0.7 7.6h0m0-5.6h0m0.1-6.5h0m0-0.3h0m0 12.2h0m0.1-8.9h0m0 3.4h0m0.3 4.5h0m0.3 0.8h0m0.4-1.8h0m0.2 8.6h0m0.1-9.4h0m0.2 2.8h0m0.1-1.7h0m0.3 2h0m0-7.3h0m0.2 0.9h0m0.2-2.8h0" stroke="#959595" stroke-width=".95" stroke-linecap="square"/>
<path d="M212 231.8h0m0.1-1.3h0m0-14.7h0m0 17.4h0m0.1-2h0m0.1-7.2h0m0.1 16.5h0m0-14.4h0m0.2 6.3h0m0 4h0m0.2-0.9h0m0.3-8h0m0.1-2.5h0m0.1 10.5h0m0.1-9.6h0m0-5.9h0m0 11.1h0m0.1-5.3h0m0 6.7h0m0.1-11.1h0m0 13.7h0m0.1-5.3h0m0-5.4h0m0.2 0.8h0m0.4 2.7h0m0 0.9h0m0.1-0.3h0m0.1 4.4h0m0.1 5.9h0m0.1-20.8h0m0.2 10.8h0m0 9.6h0m0.1-5.2h0m0.2-6.6h0m0.2 1.6h0m0.1 6.5h0m0.1-6.7h0m0 0.7h0m0.1-3.9h0m0 10.7h0m0-7.2h0m0.2-5.2h0m0 12.8h0m0.1-7.2h0m0.1-0.6h0m0 0.6h0m0.1-0.8h0m0.1-1.5h0m0.3 8.7h0m0.1-10.8h0m0.3 0.4h0m0-2.2h0m0 5.3h0m0 0h0m0.2 7.2h0m0-6.9h0m0.1-6.8h0m0.1 2.8h0m0-2.6h0m0 8.7h0m0.3-5.1h0m0.1 4.3h0m0 0h0m0 3.3h0m0 1.7h0m0.1-8.2h0m0 0.7h0m0.3 1h0m0 2h0m0-4.6h0m0.2 3.5h0m0-4.4h0m0.1-5.2h0m0.2 5.5h0m0-0.5h0m0.3 9.7h0m0-1.2h0m0.2-10.6h0m0.1 13.2h0m0.1-7.1h0m0.1-4.2h0m0 13.6h0m0 2.7h0m0.4-16.5h0m0.1 7.7h0m0.1-7.7h0m0.1 6.4h0m0.2 0.2h0m0.1-5.6h0m0.2-7.6h0m0 15.6h0m0-11.6h0m0.1 3.4h0m0-5.3h0m0.1 5.8h0m0-0.3h0m0-2.4h0m0.1 6.3h0m0.1 6.5h0m0.2-5.6h0m0.1 0.5h0m0.1 4.4h0m0-9.6h0m0.2 3.4h0m0.2-0.6h0m0.2-8.7h0m0.2 11.4h0m0.2 2.6h0m0.1 4.2h0m0.5-12.3h0m0.1 15.5h0m0.3-11.7h0m0.1-3.1h0m0.2 7.8h0m0.2-8.7h0m0.3 5.7h0m0.3 3.3h0m0.1-3.3h0m0.1-17h0m0.1 20.1h0m0.1-15.5h0m0 7.9h0m0.1-5.9h0m0.1 5.3h0m0.1 8.7h0m0-18h0m0 18.7h0m0.2-7.9h0m0.1-11.9h0m0.1 8.6h0m0 3.6h0m0.3 5.3h0m0-12.6h0m0.1 12.7h0m0.1 4.7h0m0.1-18.1h0m0 13.7h0m0.3-0.1h0m0-10.3h0m0 2.2h0m0.1-1.5h0m0-3.6h0m0 0h0m0.1-0.9h0m0.2-8h0m0.4 9.9h0m0.1 0h0m0.1-3.9h0m0.1-1.3h0m0 3.3h0m0.2 6.7h0m0.2-0.3h0m0.1-3.4h0m0.1-4.4h0m0.1 11.8h0m0.1-3h0m0.3 1.7h0m0.2-9h0m0 9.4h0m0.1-4.9h0m0 2.2h0m0.1 16.9h0m0.1-25.2h0m0.1 2h0m0 9h0m0.2-0.3h0m0.4-5.3h0m0.1 8.5h0m0 11.7h0m0-17.2h0m0.2-1.9h0m0-1.4h0m0.1-1.7h0m0-0.8h0m0 10.1h0m0.1-17.5h0m0.1 8.8h0m0-2h0m0.1 2.2h0m0.1 0.9h0m0 1h0m0-6.1h0m0.1 4h0m0.1-6.4h0m0.2 15.3h0m0.1-7.4h0m0 4h0m0.1-8.8h0m0 5.4h0m0.1 2.6h0m0.1-1.2h0m0.4-9.2h0m0.1 7.3h0m0-7.4h0m0.2 7.9h0m0.1 0.6h0m0-9.7h0m0.3 13.9h0m0.1-3.7h0m0.1-5.1h0m0.1-2.8h0m0-3h0m0.3 5.1h0m0.2-2.6h0m0 18.8h0m0.1-13.7h0m0.1 10.6h0m0.4-17.9h0m0.3 5.5h0m0-3.4h0m0 9h0m0.1-3.2h0m0.1 3.9h0m0-1.6h0m0.1 0.3h0m0.1-3.7h0m0.1 6h0m0.1-3.9h0m0-1.2h0m0 6.1h0m0.4-7.4h0m0.1 9h0m0-8h0m0 4.2h0m0.1-13.2h0m0.1 16.4h0m0.1-7.4h0m0 0.4h0m0.1-1.2h0m0.2 10.3h0m0.3-10.9h0m0.1 1.7h0m0.1 1.2h0m0.1-1.9h0m0 8.9h0m0.1-9h0m0.3 6h0m0-7.2h0m0.3-0.4h0m0.2 6.7h0m0-5h0m0-9.1h0m0.2 3.6h0m0.1 12.8h0m0-11.6h0m0-2.6h0m0 7.3h0m0.1-3.1h0m0.3 2.4h0m0.1 1.6h0m0.2 5.6h0m0.3-10.1h0m0 5.4h0m0.1-3.7h0m0 17.5h0m0.1-15.7h0m0.2-1.3h0m0.1 7.2h0m0.1 0.1h0m0.1-10.3h0m0.1 7.8h0m0-13.8h0m0.1 8.3h0m0-1h0m0.1 10.4h0m0-5.5h0m0.1-6h0m0.1-1.3h0m0.1-4.2h0m0.1 5h0m0 1.8h0m0 4.1h0m0.2 3h0m0.1-9.2h0m0-4.9h0m0 8.8h0m0.1 5h0m0-10.1h0m0.2 4.8h0m0.2-14.4h0m0.1 13.2h0m0-8.6h0m0 5.4h0m0.2-4.7h0m0.2 12.7h0m0 4.7h0m0.3-4.9h0m0.2-6.2h0m0-0.4h0m0.1-9.6h0m0 16h0m0 12.3h0m0-15.9h0m0.2-4.6h0m0-3.5h0m0.1 2.7h0m0.2-4.4h0m0 7.7h0m0.2 6.4h0m0.1-4.2h0m0-8.6h0m0.1-3.2h0m0 5h0m0 5.3h0m0.5 3.2h0m0.1 27.5h0m0.1-42.2h0m0 4.3h0m0.1 7.4h0m0 2h0m0-3.1h0m0 2h0m0.1 0.1h0m0.1 0.4h0m0.1 13.8h0m0.1-6.5h0m0.4-13h0m0-2.1h0m0 13.8h0m0.1-3.7h0m0.3 1h0m0.1 1.8h0m0.2 0.6h0m0.2-2h0m0.1 6.8h0m0.1-3.4h0m0 0.4h0m0-2.7h0m0.1-1.6h0m0 5.5h0m0.1 4.9h0m0.1-2.4h0m0.2-6.6h0m0-7.2h0m0.1 1.9h0m0.1 2.2h0m0 10.3h0m0 3.2h0m0-10h0m0.1-7.9h0m0 6.4h0m0.1 11.8h0m0-12.5h0m0 10.6h0m0.1-4.4h0m0.1-4.1h0m0 1h0m0.1 2h0m0.1 4.4h0m0.1 0.2h0m0.1-1h0m0.3-23.9h0m0.1 23.6h0m0.1-10.9h0m0.3 0.1h0m0.1 11.6h0m0.3-8.6h0m0.3 2.3h0m0.2-7.5h0m0 9.2h0m0.1-1.1h0m0.1 20.3h0m0.1-20.4h0m0 5.7h0m0.1 0.5h0m0.1-17.6h0m0.1 19.5h0m0.1-13.1h0m0 6.8h0m0.3 5.7h0m0.3-9.1h0m0.1 4.5h0m0.4 3.5h0m0 2.3h0m0-8.4h0m0.6 9.7h0m0.2-11.9h0m0.1 10.5h0m0-2h0m0.1-1.5h0m0.3-4.4h0m0 7.4h0m0.3-5.2h0m0-7h0m0.1 2.9h0m0 12.2h0m0.1-3.5h0m0.1-6.1h0m0.2-3.8h0m0 2.1h0m0.2-0.2h0m0 9.9h0m0.1-12h0m0.1 8.7h0m0-6.6h0m0.1-6.6h0m0.1 4.5h0m0.1 6.6h0m0-6.3h0m0.1 2.6h0m0.1 12.9h0m0.1-14.1h0m0.4 0.1h0m0 4.8h0m0 6.5h0m0-8.4h0m0.2-8.1h0m0 5.7h0m0.2-2.7h0m0.2 6.5h0m0.2-5.9h0m0.2 12h0m0-7.3h0m0.1 7.6h0m0-0.9h0m0.5-7.2h0m0 21.3h0m0.1-22.4h0m0.1 1.2h0m0 1.5h0m0.4-5.1h0m0.3 6.3h0m0.2-5.6h0m0.1-2.3h0m0.1 16.7h0m0-12.3h0m0.1 2.4h0m0 2.7h0m0-10.3h0m0.4 4.5h0m0.1 3.2h0m0.1 2.7h0m0.2 3.3h0m0.1-7.5h0m0.2 5.5h0m0.1-1h0m0.1-2.6h0m0 2.5h0m0.2 0.4h0m0-7.6h0m0.4 3.9h0m0.2-5h0m0.1 7.5h0m0-2.5h0m0.2 11.5h0m0.3-15.3h0m0.1 11.9h0m0-12.1h0m0 4.3h0m0.1-1.5h0m0 13.7h0m0.1-2.3h0m0-14.1h0m0.3 9.5h0m0-5.1h0m0 8.7h0m0.1-7.4h0m0.1-10.5h0m0 17.4h0m0.3-8.6h0m0-2h0m0.1 1.7h0m0 0h0m0.2-3.3h0m0.4 4.5h0m0 1.3h0m0.1-1.8h0m0.1-9.3h0m0 8.6h0m0 0.2h0m0.2-0.9h0m0 2.6h0m0.5 7h0m0-10.7h0m0 11.7h0m0.2-15.7h0m0 14.6h0m0.1-9.1h0m0-1h0m0.1 4.5h0m0.2-7.2h0m0.1 9.4h0m0.1-1.6h0m0-7.3h0m0.1 1.6h0m0 0.3h0m0.1-3.1h0m0 9.1h0m0.1-6.4h0m0.1 5.1h0m0.2-15.3h0m0 23.9h0m0.1-2.2h0m0-13h0m0-3.5h0m0 9.4h0m0.3-13.1h0m0 22.8h0m0.2-19.3h0m0.1 7.5h0m0-3.3h0m0.2 4.3h0m0.3-3.3h0m0.3 5h0m0.1-10.4h0m0 7.4h0m0 0.2h0m0.1 7.1h0m0-0.8h0m0.2-3.3h0m0-1h0m0.1-6.4h0m0-0.5h0m0-0.5h0m0.1 9.2h0m0-1.6h0m0.3-9.5h0m0.1 9.9h0m0.1-8.8h0m0 2.7h0m0.1 5.2h0m0.1-7h0m0.1-3.7h0m0-1.8h0m0.3 14h0m0-2.2h0m0.2-0.3h0m0.4-5.6h0m0.2 0.4h0m0 0.6h0m0-0.8h0m0.2 13.3h0m0-9.2h0m0-2h0m0.2 2.9h0m0.1-10.5h0m0.1 9.8h0m0.3-0.5h0m0.1-5.2h0m0.1 4h0m0 1.9h0m0.1-3h0m0 3h0m0.1-3.5h0m0.3 7h0m0.1-3.5h0m0 0.2h0m0.1 1.9h0m0 6.4h0m0-7h0m0.1-10.4h0m0 6.5h0m0 13.2h0m0.1-11.4h0m0.1-13.1h0m0.1 11.2h0m0.1-0.4h0m0 1.1h0m0.1 2.2h0m0.1-1.5h0m0-3.9h0m0.1 1.5h0m0.2-14h0m0.1 17.6h0m0.1-7.1h0m0 10.7h0m0-1.5h0m0 1.3h0m0.1-3.4h0m0.2 1h0m0 0.5h0m0.1-8.5h0m0 9.4h0m0.1-7.8h0m0-0.8h0m0.1 3.5h0m0.5 10.7h0m0.1-3.2h0m0.1-4.5h0m0-0.7h0m0.5-2.8h0m0 3.2h0m0-5.8h0m0 9.7h0m0.1-5.1h0m0.1-5.8h0m0.4 8.2h0m0-0.9h0m0.1-3.3h0m0.1 0.9h0m0.3-3h0m0.1 0h0m0.2-5.3h0m0.1 7.7h0m0-4.1h0m0.1 16.8h0m0.1-0.6h0m0-12.9h0m0.1 11.5h0m0.3-9.8h0m0.2 0.9h0m0.1-1.4h0m0.1 4h0m0.1-3.6h0m0.1 2.5h0m0.1 8.9h0m0.2-15h0m0.1 9.9h0m0.1-19.2h0m0 18.3h0m0.1 3.1h0m0-0.9h0m0-4.7h0m0.1 9.3h0m0.3-8.9h0m0.1 2.2h0m0-3.1h0m0.1-2.9h0m0.1 8.4h0m0.1-7.1h0m0.2 5h0m0 2.3h0m0.1 1.2h0m0.1-2h0m0.1-1.3h0m0-1.6h0m0.1-5.1h0m0.6-1.5h0m0.1 1.6h0m0.3 10.5h0m0-9.1h0m0.2 5.2h0m0 5.2h0m0.2-19.6h0m0.1 12.1h0m0.1 6.8h0m0-14h0m0.2 4.9h0m0 2.7h0m0.1-6.2h0m0.1 2.9h0m0.1 6.3h0m0.1 5.8h0m0-14.9h0m0.2 4.7h0m0 4h0m0.1 5.7h0m0-14.2h0m0.1 10.5h0m0.1-8h0m0 3.5h0m0.1-0.7h0m0 0.1h0m0 8.2h0m0.1-9.5h0m0.1 9.5h0m0-3.8h0m0.2-2.1h0m0.2 0.6h0m0.1 3.6h0m0.1-3.1h0m0-3.8h0m0-0.4h0m0 3.9h0m0.3-2.1h0m0.3 16.2h0m0.1-8.6h0m0-13.5h0m0.2 15.2h0m0.1-5.9h0m0.1-6.2h0m0 4.4h0m0.2-3.2h0m0.1 7.2h0m0.1-24.8h0m0 18.5h0m0.3 0.9h0m0.2 5.8h0m0.2-12.7h0m0 13.1h0m0.2-7.1h0m0.2-0.2h0m0.2 0.2h0m0-9.3h0m0.1 24.4h0m0.1-22.6h0m0.1 1.8h0m0.1 6.3h0m0.1-10.4h0m0.2-1.4h0m0 13.5h0m0.2-8.6h0m0.2 0.5h0m0.1-3.1h0m0 9.8h0m0-13.4h0m0.3 25.1h0m0.4-13h0m0.1-14h0m0.1 7.1h0m0.1 0.7h0m0.3 7h0m0 10.8h0m0-25.1h0m0.1-0.8h0m0 8h0m0.1-9.8h0m0 0.1h0m0 6.8h0m0.1 11.9h0m0.1-12.2h0m0 9.9h0m0-12.2h0m0.1 11.9h0m0-7.4h0m0 7.6h0m0.2-2.4h0m0-9.8h0m0.3 7.2h0m0 1h0m0.1-0.5h0m0.1-4.4h0m0.1 8.4h0m0.1 6.3h0m0.1-10.3h0m0.2 4.3h0m0-5.5h0m0.1 0.4h0m0.5-2.2h0m0.2 0h0m0.2 5.5h0m0.1-3.3h0m0.2 2.6h0m0.1-1.8h0m0 3.1h0m0.1 1.8h0m0.1-0.9h0m0-1.4h0m0-4.6h0m0.1 6.7h0m0.1-11.1h0m0.1 0.2h0m0 11.5h0m0.1 5.3h0m0.2-7.9h0m0.1-7.5h0m0.2 11.7h0m0.3-3.2h0m0.2-12.1h0m0.1 15.6h0m0.1-7.3h0m0.1-6.4h0m0 11.3h0m0.1-3.3h0m0.1-9.7h0m0 3.5h0m0-5.9h0m0 16h0m0.1-0.4h0m0.1-13.6h0m0.1 4.8h0m0 14.1h0m0.2-9.9h0m0-0.7h0m0.2 1.9h0m0.1 10.1h0m0-16h0m0 6.6h0m0.1-10.6h0m0.1 21.9h0m0.1-24.8h0m0.1 8.2h0m0 6.8h0m0.1 0h0m0.1-3.9h0m0 5.4h0m0-11.3h0m0.1 9.5h0m0.2 0.7h0m0.2-6.2h0m0 1.1h0m0.1 4.2h0m0.1 0.4h0m0.2-11.9h0m0-6.9h0m0 21.3h0m0-8h0m0.2-10.3h0m0 6.6h0m0.1 14.1h0m0-8.7h0m0.2-4.6h0m0.1-4.6h0m0.1-1h0m0.1 14.1h0m0.1-5h0m0-10.6h0m0.1 15.4h0m0.1-5.9h0m0.2-2h0m0.2 9.3h0m0.1-5.3h0m0 6.3h0m0.1-4.4h0m0.2-8.6h0m0 9.8h0m0.2-0.2h0m0.3-6.4h0m0.1 13.3h0m0-4.4h0m0-8.5h0m0.1 25.4h0m0.1-22.9h0m0.1-1.1h0m0.3 7.2h0m0.1-1.3h0m0-0.3h0m0.1 9.3h0m0-8.4h0m0.1-1.6h0m0.1-0.1h0m0.2 3.9h0m0.1 1h0m0-6.3h0m0-0.2h0m0.1 6h0m0.1-5.7h0m0.2 5.8h0m0-1.3h0m0.1 3.2h0m0 5.9h0m0.1-7.6h0m0.1 1h0m0-5.2h0m0.1 0.7h0m0-9.7h0m0.1 6.3h0m0.1-1h0m0.1 2.3h0m0.2-0.1h0m0-1.9h0m0.1 1.1h0m0.3 16h0m0.1-13.4h0m0.1-3.9h0m0 3.3h0m0 0.5h0m0 7.6h0m0.5-3.6h0m0.1 1.9h0m0-17.6h0m0.1 12.4h0m0-0.8h0m0.2-4.7h0m0 16.9h0m0.1-10.4h0m0.1-1.8h0m0.2 2.1h0m0 3h0m0.3-7.7h0m0.1 6h0m0-3.6h0m0.3 7.7h0m0-8.2h0m0.1-2.3h0m0.2 3.9h0m0.2-16.5h0m0.2 7.3h0m0 3.8h0m0.1 4.4h0m0.3-0.6h0m0-4.3h0m0.2 3.7h0m0.2 6h0m0-8h0m0.3-1.6h0m0-2.8h0m0.2 0h0m0.5 2.9h0m0 10h0m0.1-7.6h0m0 1.3h0m0.1-0.9h0m0.1 5.1h0m0.1-2.6h0m0.2 1.3h0m0.1 4.9h0m0.1-1.6h0m0.1-12.9h0m0.2 1.8h0m0 3.2h0m0-2.6h0m0.4 13.7h0m0-10.5h0m0.2 9.4h0m0.4-7.8h0m0.2 1.4h0m0.7 3.2h0m0.1-4.9h0m0 3.5h0m0.2-3.8h0m0.3 0h0m0.2-8.8h0m0.1 20.2h0m0-15.9h0m0.2 11.3h0m0-2.4h0m0-1.2h0m0.1 5.6h0m0.1-11.9h0m0.2 10.4h0m0-7.3h0m0.5-1.7h0m0-4.7h0m0.1 20.1h0m0-21.6h0m0.1 3.3h0m0 16.2h0m0-3.2h0m0.1-2.2h0m0.1 1.4h0m0.1-15.5h0m0.2 3.1h0m0.1 8.9h0m0.1-2.4h0m0-3.1h0m0.2-2.1h0m0.1-0.3h0m0.1-6.2h0m0.1 14.3h0m0.1-6.1h0m0.1 3.7h0m0.1-10.8h0m0-1h0m0.1-7.3h0m0.2 13.9h0m0.3 9.6h0m0-5.4h0m0.1 1.3h0m0.3-10.7h0m0 15.4h0m0.1-4.2h0m0.2-5.7h0m0.2 3.3h0m0 3h0m0.1-8h0m0.3 2.5h0m0-3.7h0m0.2 2.6h0m0.1-0.8h0m0.1 8h0m0-15.1h0m0.2 7.5h0m0.1 2.4h0m0-0.7h0m0 0.1h0m0.3-8.1h0m0 10.9h0m0.1 2.1h0m0.1-15.4h0m0.1 6.8h0m0 5.1h0m0.1-3.4h0m0.1-0.3h0m0 1.9h0m0.1-7.6h0m0.1 13.7h0m0.1-9.5h0m0.2 6.3h0m0-4.2h0m0 7.7h0m0.1-4.4h0m0 4.7h0m0.1-12.7h0m0.1 3.7h0m0.2-8.6h0m0.3 8.5h0m0.4-1.5h0m0 3.1h0m0.1-1.9h0m0-4.4h0m0.3 7.4h0m0.3 0.1h0m0.2-1.7h0m0.2-2.7h0m0.4-1.7h0m0.1 4.3h0m0.1-1.6h0m0 13.8h0m0.1-17.9h0m0 4.7h0m0.1 0.9h0m0.1 8.7h0m0-3.6h0m0-3.7h0m0.1 1.3h0m0-4.5h0m0.2 1.8h0m0.4 9.5h0m0.3-14.5h0m0 7.2h0m0.1-5.7h0m0 0.9h0m0.5 6.5h0m0.1-10.1h0m0.2 31.4h0m0.1-29.5h0m0 5.4h0m0.1 13.7h0m0-12.3h0m0.2-23.8h0m0 26.2h0m0.1 7.1h0m0.2-17.8h0m0.1 2.3h0m0 9.2h0m0.1-3.5h0m0.1-1.1h0m0 3.9h0m0.1-12.9h0m0.1 4.8h0m0.1 2.9h0m0.1 8.8h0m0.3-1.5h0m0.2-17.3h0m0.3 20.5h0m0.2-15.4h0m0 19.3h0m0.1 3.1h0m0.1-19.7h0m0.1 7.5h0m0.1 3.2h0m0.1 2.8h0m0.2-13.1h0m0.1 6.1h0m0 0.9h0m0.2 2.4h0m0-5.4h0m0-1.6h0m0.1-7.8h0m0.1 14.4h0m0.1-2.5h0m0.2 6.6h0m0-3.8h0m0.3-1.9h0m0-7.5h0m0 2.8h0m0.1 11.1h0m0.3-12.2h0m0.2 1.6h0m0.1-3h0m0.1-3.1h0m0 13.4h0m0.2 0.9h0m0.1-7.3h0m0.1 0.3h0m0 4.3h0m0.1-1.4h0m0.1 4.6h0m0-6.9h0m0.1 4.5h0m0.2-1.8h0m0.3 2.3h0m0.2-20.5h0m0 14h0m0.2 4.4h0m0 7.4h0m0.1-1.2h0m0.1-9.2h0m0.2 0.7h0m0.2 4.7h0m0.1-13.7h0m0.1 12.8h0m0-0.1h0m0.1-16.8h0m0 12.9h0m0.2 3.7h0m0.2-7.1h0m0.2-5h0m0.2 4.6h0m0 9h0m0.1 2.5h0m0.1-10.8h0m0-4.9h0m0.1 7.8h0m0 7h0m0-9.5h0m0.2-2.3h0m0.4 5.8h0m0.3 3.7h0m0.3 6.4h0m0-14.3h0m0 11.4h0m0.1-2h0m0-9h0m0 5.1h0m0.1 8.7h0m0-8.8h0m0.3-4.8h0m0.1 7.8h0m0-4.8h0m0.1-6.3h0m0.1 10.4h0m0-13.7h0m0 12.3h0m0.2 0.3h0m0.1-3.4h0m0.1-4.1h0m0.1-1h0m0 9.7h0m0.4-12.6h0m0.1 12.8h0m0 5.4h0m0.1-6.5h0m0.3 1.4h0m0-10.6h0m0.1 0.8h0m0 5h0m0.1 0.7h0m0-3.8h0m0.1-1.4h0m0.3 3.7h0m0.1-3.1h0m0.1-2h0m0 2.8h0m0.1 4.9h0m0.1-8h0m0 15.9h0m0.1-10.4h0m0-7h0m0 6.6h0m0 1.1h0m0 1.7h0m0-0.3h0m0.1-7.9h0m0.1 6.4h0m0.1-0.8h0m0.1 6.5h0m0-0.8h0m0-2.6h0m0.3-0.8h0m0.3-4.3h0m0.1 8.4h0m0-3.8h0m0-4.2h0m0.1-3.5h0m0.2-1.2h0m0.1-1.6h0m0.2-7.2h0m0.3 8.8h0m0.1 2.5h0m0.1-5.3h0m0.1 9.7h0m0.1-8.4h0m0.1 7.7h0m0 0.1h0m0.1 0.7h0m0-13.7h0m0 10.1h0m0 15.7h0m0.1-0.6h0m0.1-17.3h0m0.1-0.4h0m0-1.4h0m0 0h0m0.1 1.2h0m0.1 2.2h0m0.1 0.5h0m0-9.5h0m0.2 1.7h0m0 6h0m0-2.4h0m0.2-6.6h0m0.1 16.1h0m0.1-9.1h0m0.1-2.5h0m0.2 12.6h0m0-4.5h0m0.1-7.5h0m0.1 8.1h0m0.2-16.8h0m0 17.1h0m0.1-9.9h0m0.1 18.7h0m0 4.3h0m0.3-9.2h0m0-0.2h0m0 3h0m0.1-5.4h0m0.1-10h0m0 4.9h0m0.4-3.8h0m0.1 8.7h0m0-0.7h0m0-2.1h0m0 18.6h0m0.1-21h0m0.3 0.9h0m0.1 5h0m0-3h0m0 1.6h0m0.4 0.4h0m0.1-6.2h0m0 2.5h0m0.1 13.2h0m0.2-9h0m0.1-9.2h0m0.3-0.1h0m0.3 0.9h0m0.1 12.1h0m0-10.7h0m0.1 2.5h0m0.3 5.4h0m0-6.4h0m0.1-4.4h0m0 3.7h0m0-5.4h0m0.1 11.9h0m0.1 5.7h0m0-15.5h0m0 10.9h0m0.1-22.3h0m0.1 25.1h0m0.1-8.2h0m0.1-17h0m0.1 13.6h0m0.1 14.4h0m0.1-12.7h0m0.1 3h0m0.2-4.2h0m0.2-6.8h0m0.3 2.5h0m0.1 10.1h0m0.1 6.2h0m0.2-9.7h0m0.2 4.1h0m0.1-11.7h0m0-1.3h0m0.1 7.7h0m0.2-7.1h0m0.1 14.9h0m0.1-5.6h0m0-1.6h0m0.2 2.2h0m0-3.3h0m0.1-1h0m0 3.3h0m0.3 5.2h0m0-2.7h0m0-3.6h0m0.1 6.4h0m0 5.9h0m0.2-9.4h0m0.1 1.4h0m0.1-5.3h0m0.1-9.2h0m0 10.7h0m0.1 6.9h0m0.1-0.3h0m0 19.9h0m0.6-31.8h0m0.1 15.8h0m0.1-17.2h0m0.1 16.7h0m0.4-15.6h0m0.3 17.5h0m0.1-14.9h0m0 17.5h0m0-12.8h0m0.1 1.1h0m0.1-8h0m0 0.7h0m0.2 11.4h0m0.3-9.2h0m0.3 7.4h0m0 3h0m0 10.1h0m0.3-5.5h0m0.1-15h0m0-5h0m0.1 15.1h0m0.1 13.4h0m0.2-18.6h0m0.1 6.4h0m0.2 10.6h0m0.2-21.1h0m0-5.5h0m0.6 15.4h0m0.1-0.6h0m0.1-20.9h0m0 6.2h0m0.2 16.4h0m0.2-14.3h0m0.2 16.2h0m0.1-15.3h0m0 0.2h0m0.1 11.8h0m0-8.9h0m0.1 6h0m0.1 1.3h0m0-6h0m0 9.5h0m0.1-8.7h0m0.1-4.3h0m0.1 8.3h0m0.1-5.3h0m0.4 3.9h0m0.2 4.8h0m0-6h0m0.1-6.6h0m0.2 6.4h0m0.2-2.2h0m0.1 8.1h0m0.3-2.5h0m0 5.9h0m0-1.6h0m0.3-9.5h0m0.1 19.5h0m0-24.9h0m0.1 15.5h0m0.2 5.5h0m0.1-14.6h0m0.2 0.7h0m0.1 4.5h0m0-4.3h0m0-2.6h0m0.2 2.7h0m0.1 2h0m0 2.9h0m0.1 9.1h0m0-16.2h0m0.1 5.9h0m0.1-1.9h0m0.1-3.3h0m0.1 10.2h0m0.3 8.1h0m0.2-11.9h0m0.2 4h0m0-3.7h0m0.1-8h0m0-0.1h0m0-0.8h0m0 0.9h0m0 0.3h0m0.1 0h0m0 17.7h0m0-16.3h0m0.1 6h0m0.2-3h0m0 5.4h0m0.2-14.9h0m0 7.9h0m0.1 6.5h0m0.1-8.5h0m0.1-1.1h0m0-2.8h0m0.2 5.3h0m0.1 3.7h0m0.2-8.7h0m0 2.6h0m0.1 4.4h0m0.4-4h0m0 3.2h0m0 0.8h0m0.1 0.7h0m0.1-1.3h0m0.2 3.5h0m0-9.5h0m0-1.8h0m0.3-5.7h0m0.2 12.4h0m0-3.6h0m0.2-1.8h0m0.2 10.3h0m0.1-5.1h0m0-4.6h0m0.1 3.7h0m0 0.3h0m0.1 7.6h0m0.3-3.2h0m0 1.3h0m0 2.3h0m0.1-7.1h0m0.1 0.9h0m0.1 6.8h0m0.4-19.8h0m0 19.3h0m0.1-6.7h0m0.1 10.2h0m0.4-10.3h0m0 0h0m0.1 1.2h0m0-9.1h0m0 10.5h0m0 1.4h0m0.1-0.2h0m0.2 2.3h0m0.1-11.8h0m0.1 4.3h0m0.4-6.6h0m0.1 10.8h0m0.2-3.8h0m0 2.3h0m0.1-5.7h0m0.4-3.9h0m0.1 0.5h0m0.1 8.6h0m0.1-0.4h0m0.1 7.2h0m0.1-9.7h0m0 7h0m0-5h0m0.1-2.8h0m0.1 0.6h0m0.1 2.3h0m0.1-5.1h0m0.2 2.6h0m0.1-3h0m0.1 12.5h0m0.1-0.8h0m0.1-6.9h0m0.1 3.5h0m0.2 9h0m0.2-6.3h0m0.1-3.6h0m0.1-5h0m0.1 14.3h0m0.1-10.4h0m0 0.4h0m0.1 3.6h0m0-2.9h0m0.2 4.6h0m0.1-1.2h0m0.2-10.1h0m0.1 9.6h0m0-5h0m0.1 3.4h0m0.1 0.2h0m0.1-11.8h0m0 7.6h0m0.1 0.4h0m0-1.8h0m0-8h0m0.2 18.9h0m0.1-6.9h0m0.1-3.6h0m0.2 15.9h0m0-11h0m0-3.3h0m0.1-2.3h0m0.3-5.4h0m0.1 9.6h0m0 4.5h0m0.1-0.1h0m0-5.5h0m0.2-2.6h0m0.2-0.8h0m0 0.2h0m0.1 6.5h0m0 3.7h0m0.5-5.5h0m0.1 8.8h0m0.1-9.3h0m0.1-3.9h0m0 0.3h0m0.3 9.6h0m0.3-9.4h0m0-0.4h0m0.1 1h0m0-0.1h0m0.1 3.4h0m0-0.8h0m0-3.3h0m0.2-4.2h0m0 10.6h0m0.2-10.5h0m0 7h0m0 0.5h0m0.1-0.4h0m0.2-0.2h0m0.2 15.5h0m0.1-12.9h0m0-11.7h0m0.3 12.3h0m0.2 1.2h0m0.1-6h0m0.1-3.3h0m0 8h0m0.1-1.2h0m0.1 6.8h0m0-6.9h0m0 4.6h0m0.2-6.4h0m0.1 3.7h0m0.1 0.3h0m0-2.1h0m0.2-1.7h0m0.2-1.8h0m0 7.2h0m0.2-4.4h0m0.1-3.2h0m0 20.6h0m0.1-17.7h0m0.1-0.9h0m0 0h0m0.1 6.9h0m0-6.2h0m0.3 2.1h0m0.1-4.5h0m0-7.7h0m0 8.4h0m0.1 4h0m0.2-6.8h0m0.1 8h0m0.2-12.2h0m0 11.6h0m0.2-3.6h0m0.1 2.4h0m0.4-1.1h0m0.1 6.2h0m0.1-8.2h0m0 6.2h0m0.1-10.4h0m0.1 9.9h0m0.3-11.3h0m0.1 6.5h0m0 0.3h0m0.2 2.1h0m0 2.8h0m0.1-8.1h0m0 5.9h0m0.2-4.6h0m0 0.6h0m0.3-4.3h0m0.2 4h0m0 1.1h0m0.1 14.1h0m0.1-17.4h0m0 6.1h0m0.1-7.1h0m0.1 6.4h0m0.1-11.1h0m0.1 7.9h0m0.2 9h0m0.1-7.8h0m0.1 0.3h0m0-2.1h0m0 2.7h0m0-4.5h0m0.4 4.5h0m0.1 5.8h0m0.4-7.8h0m0.1 1.4h0m0-3.5h0m0 6h0m0-2.9h0m0.2-8.7h0m0.2 3h0m0 3h0m0.1 4.8h0m0.3-1.2h0m0.1-0.7h0m0.1-5.6h0m0.2 20.3h0m0.2-17.8h0m0.1 0.7h0m0.1 0.6h0m0.1-0.7h0m0.4 3.7h0m0.3-4.3h0m0.2 2.4h0m0-0.9h0m0.1 2.1h0m0 2.6h0m0-6.2h0m0.3-0.8h0m0-0.1h0m0.3 2.7h0m0.1 2.8h0m0.1 1h0m0 3.7h0m0-7.6h0m0.1 2.9h0m0.3-0.4h0m0.1-3h0m0.1 2.5h0m0 5h0m0.1-7.1h0m0 3.4h0m0.1-3.7h0m0 1.3h0m0-7.4h0m0 14.7h0m0.1-8h0m0.1-0.7h0m0.3 6.8h0m0.1-7.3h0m0 3.5h0m0.2 3.5h0m0.2-2.7h0m0-0.7h0m0.1 2.4h0m0 1.2h0m0.1-5.9h0m0.2 11.1h0m0-7.1h0m0.1-3.6h0m0.1 4h0m0-2h0m0.2-3.5h0m0.2 4.4h0m0-4.6h0m0 8.1h0m0-6.3h0m0.1-3.9h0m0.1 5.5h0m0 2.4h0m0.1-18.3h0m0 14.9h0m0.1-6.1h0m0.4 9.1h0m0-6.5h0m0.1-0.2h0m0 10.2h0m0-9h0m0.2 3.6h0m0.1 7.2h0m0-4.2h0m0.1-1.7h0m0-1.5h0m0-10.5h0m0.1 9.4h0m0.5 5h0m0-1.4h0m0.2-5.2h0m0.1 4.9h0m0.1-6.8h0m0 2.2h0m0.1 5.1h0m0.1 12.6h0m0-9.8h0m0.5-5.1h0m0.4-1.5h0m0-7.8h0m0.3 5.1h0m0-3.7h0m0.1 10.6h0m0.1 4.5h0m0.3-4.1h0m0.1 0.9h0m0.1-10.4h0m0.1 2.6h0m0.1 1.6h0m0.1-10h0m0.2 12.9h0m0-8.5h0m0.1 6.6h0m0.2 1.1h0m0.2 6.4h0m0.1-9.7h0m0 7.1h0m0-5h0m0.1-2.9h0m0.1 3.6h0m0-0.2h0m0.1 5.8h0m0.1-16.5h0m0.1 10.9h0m0.2-7.5h0m0 1.9h0m0-1.6h0m0.1 5h0m0.1 6.1h0m0-0.2h0m0.2-5.9h0m0-1.2h0m0 3.6h0m0.1-5.4h0m0.2 8.6h0m0.1-1.4h0m0 2.7h0m0-21.7h0m0 10.3h0m0.1 8h0m0-1.8h0m0.2 12.7h0m0-11h0m0.1 0.6h0m0-0.6h0m0.3 3.6h0m0.2 6.3h0m0-8.2h0m0-3.9h0m0.1-0.1h0m0 5.8h0m0.1-1.5h0m0 0.7h0m0 0.9h0m0.2-3.5h0m0.1-6.1h0m0 2.8h0m0-1.6h0m0.2 1.5h0m0-4.4h0m0.1 14.4h0m0.1-9.5h0m0.1 1.7h0m0-4.8h0m0.1 2.3h0m0-0.3h0m0.2 12.3h0m0-11.7h0m0 5.7h0m0.1-8.1h0m0.2 0.5h0m0.2 4.1h0m0.2-4h0m0-6.4h0m0.1 8.9h0m0.9 0.5h0m0.1-11.3h0m0.1 11.7h0m0-3.4h0m0-0.8h0m0-8.2h0m0.2 13.4h0m0 1.7h0m0.2-6.4h0m0.1-2.3h0m0 16.6h0m0-10.3h0m0.4-5.1h0m0.3-2.3h0m0.1 6.2h0m0 7.2h0m0.1-2h0m0-4h0m0.1-8.3h0m0-0.4h0m0.1-1.3h0m0.1 7.3h0m0.3 5h0m0.1-3.5h0m0-5.8h0m0 8.6h0m0.1-0.2h0m0.3-6.2h0m0.1-1.8h0m0.1 5.1h0m0.4-2.9h0m0.1 7.2h0m0.2-4.7h0m0-5.2h0m0.1 7.7h0m0.2-6.6h0m0.2 10.4h0m0.1-5.9h0m0 0.2h0m0 6.4h0m0.1-1.1h0m0 3.5h0m0.3-11.2h0m0-0.6h0m0 2.8h0m0.1 0h0m0 4h0m0-8.5h0m0.4 9.8h0m0.3-5.6h0m0.2-1.4h0m0 9.1h0m0-5.4h0m0.2 2.8h0m0.1 0.9h0m0-8.3h0m0.4 3.9h0m0.1-1.4h0m0.2-0.8h0m0 6.3h0m0.1-3.2h0m0 0.8h0m0.1-8.3h0m0.2 0.1h0m0.1 25.3h0m0-21.3h0m0.1-0.3h0m0.1-1.4h0m0 1.1h0m0.3-5.1h0m0.1 8.1h0m0.1-9.9h0m0.1 8.6h0m0 1.5h0m0.1-6h0m0 3.6h0m0.1 4.6h0m0-3.1h0m0.1 9.4h0m0.1-8.2h0m0-13.7h0m0 13.6h0m0.2-18.1h0m0 19.4h0m0-3.8h0m0.3-3.1h0m0.2 4.6h0m0-2.2h0m1 8.5h0m0-7.3h0m0.3-1.4h0m0-0.9h0m0-6.4h0m0.1 9h0m0.2-8.6h0m0.2 11.2h0m0.1-5h0m0 1h0m0.1 5.2h0m0-5.6h0m0.1 1.6h0m0.2-1.4h0m0.2-1.1h0m0.1 4.4h0m0-6.1h0m0.2 7.5h0m0.2 0.2h0m0-11h0m0.1 9.8h0m0-7.7h0m0.1-2.8h0m0.1 16.1h0m0-10.5h0m0.1 2.1h0m0.1-2.5h0m0.1-1.3h0m0.2 5.6h0m0 1.2h0m0.3-5.9h0m0 13h0m0.1-14.1h0m0 0.6h0m0.1 4.4h0m0 0.3h0m0.1 1.7h0m0.1-5.4h0m0-0.2h0m0 8.9h0m0.2-6.6h0m0.4-4.6h0m0.1 14h0m0-3h0m0.1-4h0m0.1-6.9h0m0 6.2h0m0.1-5h0m0 1.2h0m0-6.8h0m0 11.2h0m0.1-2.7h0m0 2.6h0m0 3.7h0m0.1-5.9h0m0-1.8h0m0.1 1.2h0m0 3.7h0m0.1-8.8h0m0.1 3.7h0m0.1 0.6h0m0-1.7h0m0.2 3.8h0m0.1-2.3h0m0.1 6.7h0m0.2-5.7h0m0.1 3.4h0m0.1-3.7h0m0 15.3h0m0.1-18.3h0m0.3 3.4h0m0.1 4.3h0m0.2-3.7h0m0.2-0.2h0m0 1h0m0.1-5.5h0m0.1 10.6h0m0-12h0m0 5.9h0m0.1 2.9h0m0-4h0m0.1 0.8h0m0.7-2.8h0m0.2 14.5h0m0-10.4h0m0.2-8h0m0 10.8h0m0-6.6h0m0.1 0h0m0.1 8h0m0.1-5h0m0.1 3.5h0m0 4.7h0m0.1-10h0m0.2-4.1h0m0 5.3h0m0.1-0.3h0m0.1-3.6h0m0 7.5h0m0 5h0m0.1-9.8h0m0.1 5.5h0m0-6.9h0m0 8.4h0m0 3.4h0m0.1-5h0m0.1 3.9h0m0-10.2h0m0.1 2.9h0m0-3.8h0m0.2 2.3h0m0.1-2.7h0m0 7.2h0m0-8.9h0m0.2-4h0m0.1 16.6h0m0.1-3.9h0m0.1 0.3h0m0.1-1.3h0m0-3.6h0m0.1 4.9h0m0-0.4h0m0-8h0m0.1 8.8h0m0.2-3h0m0.1-5.7h0m0 9.2h0m0.1-3.7h0m0.1 3h0m0.2-1.1h0m0-0.5h0m0.1-0.3h0m0 3.1h0m0.1-6.9h0m0-2.4h0m0.1 3.1h0m0.4 8.4h0m0.1-0.9h0m0-4.8h0m0.2 5.3h0m0.1-5h0m0-3.7h0m0.1 7.4h0m0.1-12.1h0m0 8.8h0m0.1 2.4h0m0-2.6h0m0.1-0.3h0m0.3 0.3h0m0-2h0m0.1-1h0m0-2.4h0m0.2-18.1h0m0.1 18.5h0m0.1 3.5h0m0.3-3.5h0m0.1 2.7h0m0.7 21h0m0.3-16.5h0m0.1 18.2h0m0.2-15.5h0m0.1-0.5h0m0-3.7h0m0-5h0m0.1 5.4h0m0-8.3h0m0 2.1h0m0.3-2.8h0m0 1.8h0m0.1 8.9h0m0.1-5.3h0m0-3.7h0m0 19h0m0.1-9.4h0m0 1.7h0m0-5.2h0m0.1-1.4h0m0-7.1h0m0.1 5.5h0m0.1 25.8h0m0-20h0m0-3.5h0m0.1 5.5h0m0.1-7.8h0m0.1-7.9h0m0 8.6h0m0.1-1.4h0m0.3 0.6h0m0-6.4h0m0.1 4.5h0m0-2.9h0m0.2 9.4h0m0 2.3h0m0-7.2h0m0-3.6h0m0.2 5.8h0m0.5-1.4h0m0.3 6.8h0m0.1-12.1h0m0.2 10.5h0m0.2-16.7h0m0.1 16.2h0m0-17.9h0m0.1 11h0m0.1 1.6h0m0-3.1h0m0.2 8.7h0m0.1-0.5h0m0-7.3h0m0 5.4h0m0-0.9h0m0.1 1.9h0m0-5h0m0.1 0.1h0m0.1 8.7h0m0.1-4.5h0m0.1-1.1h0m0.1-0.7h0m0 4.4h0m0-3.6h0m0.2-4.4h0m0.1-4h0m0 9.7h0m0 8.3h0m0-5.1h0m0.2-7.9h0m0 2.8h0m0.2 6.3h0m0.1-4.3h0m0.1-7.6h0m0 5.3h0m0.1-0.7h0m0.5 2.1h0m0.2 2.8h0m0-2.2h0m0-5.3h0m0.2 1.4h0m0 4.2h0m0.2-5.9h0m0.3 18.9h0m0.1-1.1h0m0-17.4h0m0.1 3.3h0m0.1-0.5h0m0-11.6h0m0.3 26.5h0m0-9.1h0m0.1-15.6h0m0 6.7h0m0.2 2.2h0m0 3.4h0m0.2 6.2h0m0-14.6h0m0 0.9h0m0.1 7.5h0m0-0.8h0m0.1 7.7h0m0.1-7h0m0.3-5.7h0m0.2-0.2h0m0.1 9.9h0m0.1-14.2h0m0.1 4.1h0m0.1-4h0m0 6.4h0m0-4.5h0m0.1 10.9h0m0-3.1h0m0.2-4.9h0m0 6.6h0m0.1-11.5h0m0.1 4.9h0m0.1 0.8h0m0.2 0.8h0m0.2-7.5h0m0.1 15h0m0-0.5h0m0.1-2.2h0m0.3-0.6h0m0 2h0m0.1-8.9h0m0.1-1.1h0m0 5.9h0m0.1-4.5h0m0-2.8h0m0-0.4h0m0 12h0m0.1-0.8h0m0.1 5.2h0m0.2-4h0m0.2-2.4h0m0.1-2.2h0m0.1 3.6h0m0.1-8.2h0m0.2 9.8h0m0.1-1.1h0m0.1-4.4h0m0 0.4h0m0.1-4.1h0m0 15h0m0.3-6.5h0m0-0.7h0m0.2-5.3h0m0.2 0.9h0m0-3h0m0 5h0m0.1-2h0m0-2.1h0m0.2 2.1h0m0-5.8h0m0.1 12h0m0.3-4.7h0m0.1 4.9h0m0-6.8h0m0.1 2.3h0m0 1.5h0m0.1-0.5h0m0 5h0m0.2-3.2h0m0-2.5h0m0-4.6h0m0.2 1h0m0 2.6h0m0.2 7.2h0m0.2-3.8h0m0-2.1h0m0.2-0.6h0m0 0.2h0m0 5.8h0m0.4-0.8h0m0.1-5.3h0m0 2.4h0m0-4.3h0m0.1-2.7h0m0.4 11.4h0m0-18.8h0m0 15.7h0m0.3-4.2h0m0.1-2.3h0m0-4.1h0m0.1 5.6h0m0-9.8h0m0.1 14.5h0m0-0.8h0m0.1-3.8h0m0.1-1.5h0m0 6.8h0m0.4-5.2h0m0-3.2h0m0.1 6.8h0m0.1 4h0m0.2-12h0m0 6.8h0m0 13.7h0m0.1-16.4h0m0-1.6h0m0 1.6h0m0-2.2h0m0.1 4.1h0m0.3-9.7h0m0.1 12.8h0m0-3.3h0m0.1-6.3h0m0.1 6.9h0m0-1.3h0m0.1-2.8h0m0.1 4.3h0m0-6.5h0m0-1h0m0 9.2h0m0.1-5.9h0m0.1-6.3h0m0 1.5h0m0.1 10.1h0m0-5.8h0m0 6.2h0m0.1-8h0m0 1.5h0m0 4.7h0m0.2 5.6h0m0.1-14.6h0m0 5.2h0m0 4.5h0m0.2-6.8h0m0.2-1.9h0m0.1 6.3h0m0.1-4.6h0m0.4 13.8h0m0.1-12.5h0m0.4 7.5h0m0-5.3h0m0.1-2.5h0m0.2-1.4h0m0.2 5.3h0m0-8.7h0m0.1 6.5h0m0-2.4h0m0 9.5h0m0.4-7.7h0m0.1 1.2h0m0-2.2h0m0 2.1h0m0.2-4.4h0m0.1 6.4h0m0-2.3h0m0-6.2h0m0.1 2h0m0.4 5.2h0m0.1 4.3h0m0-11.5h0m0 26.4h0m0.1-27.2h0m0 29.2h0m0.1-24.3h0m0 2.5h0m0-5.5h0m0 6.2h0m0.1 2.9h0m0 5.2h0m0-13.4h0m0.4 10.8h0m0.3-9.2h0m0.1 1h0m0 8.3h0m0-1.3h0m0.2-11h0m0 9.4h0m0.1-3.4h0m0.2-0.3h0m0.1-5.7h0m0.1 17.6h0m0-13.4h0m0.1 1.8h0m0 3.7h0m0.1-0.5h0m0.7-3.9h0m0 1.6h0m0.1-4.3h0m0.1-4h0m0 8.8h0m0.1-0.9h0m0.1 5h0m0.1-3.4h0m0-2.8h0m0.1 4.5h0m0.1 17.3h0m0.1-27.3h0m0 6.3h0m0-2.9h0m0.1-6h0m0 15.4h0m0.1-4.3h0m0 6.4h0m0-11.1h0m0.2-5.6h0m0 0.7h0m0.2 10.5h0m0.1-3.5h0m0.4 10.8h0m0-13.1h0m0.2 4.1h0m0.1-0.3h0m0 1.9h0m0-4.9h0m0.2 5.9h0m0 4.3h0m0.1-14.3h0m0 10.9h0m0.1-2.5h0m0-5.2h0m0 4.3h0m0.1 1.1h0m0.3 12.3h0m0.1-11.2h0m0-10h0m0.1 8.7h0m0.1 5.7h0m0 1.4h0m0.2-2.2h0m0-6.8h0m0.2 3.4h0m0.2-4.2h0m0 6.9h0m0.1-2.3h0m0-17.5h0m0.1 13.5h0m0.3 5.9h0m0.1-11.9h0m0.3 6.4h0m0 2.2h0m0.1 2.1h0m0.1-3h0m0 2.1h0m0.1-8.6h0m0.1 7h0m0.1-0.4h0m0.3-0.9h0m0.2-0.3h0m0.5-0.6h0m0.1-1.6h0m0 1.1h0m0-1.3h0m0-9.1h0m0.1 15.7h0m0-5.4h0m0.1-0.4h0m0.1 5.3h0m0.2-4.4h0m0.1-2.6h0m0.1 4.1h0m0.1-6.3h0m0 4h0m0.1 3.5h0m0-28.1h0m0.3 29.5h0m0-3.2h0m0 9.5h0m0.2-11.8h0m0.2 10.3h0m0.1-11.6h0m0.2 5h0m0-2.1h0m0.1 1.4h0m0-0.9h0m0.2 6.9h0m0.1-2.5h0m0.1-7.7h0m0-0.3h0m0.1 5.6h0m0.2-5.9h0m0.1 8.6h0m0-3.7h0m0.1 2.6h0m0-3.7h0m0.2 2.6h0m0.2-7.1h0m0.1 6.4h0m0.1 2.6h0m0-6.4h0m0.1-5.1h0m0.1 14.4h0m0-1.8h0m0.1-4.1h0m0.1-4.4h0m0.2 1.3h0m0.1 3.6h0m0.1-1h0m0.3 0.5h0m0.1-4.9h0m0 1.5h0m0.1 3h0m0.4 0.9h0m0-0.8h0m0.1 1.2h0m0.1-0.6h0m0 3.5h0m0.2-7.2h0m0.1 0.7h0m0.1 2.9h0m0.2 0.1h0m0.1-7.3h0m0.1-1h0m0.2 3.1h0m0.1-4.9h0m0 8.4h0m0-3.5h0m0.2-4.5h0m0.1 2.5h0m0.2 1.7h0m0.1 6.7h0m0 3.3h0m0-10.2h0m0.1 3.6h0m0-9h0m0.2 10.5h0m0.2-3.7h0m0-2.2h0m0.3-2.3h0m0.2 6.9h0m0.2 4.5h0m0.1-9.8h0m0 3.9h0m0.2-7.2h0m0-3.7h0m0.1 8.8h0m0.2-0.8h0m0-0.7h0m0.1 1.6h0m0.1 6.9h0m0.1-11.8h0m0 4.2h0m0-4.1h0m0 2.5h0m0.1-1.2h0m0.3 7h0m0 0.1h0m0.2 3.4h0m0-2.7h0m0.1 3.9h0m0-10h0m0 10.3h0m0.2-4.7h0m0.1-4.2h0m0.1 1.8h0m0.1 4.3h0m0-1.5h0m0.1-5.4h0m0.2 4h0m0.1 6.4h0m0 0h0m0.1-6.6h0m0 3.2h0m0.1 1.4h0m0.1-3.4h0m0 2.7h0m0.1-0.7h0m0 2h0m0.1 5.5h0m0.1-15.2h0m0 24.2h0m0.1-12.4h0m0.1-3.6h0m0.2-3.9h0m0.1 10h0m0.3-10.3h0m0.1-0.8h0m0.1 15h0m0-15.2h0m0.2 1h0m0.1 6.9h0m0.1-11.6h0m0.1 6.4h0m0-1.3h0m0.1 3.6h0m0-3.1h0m0.1-9.2h0m0.1 6.7h0m0.2 5.3h0m0-7.3h0m0.2 21.7h0m0-8h0m0.3-19.5h0m0.1 1h0m0 11.3h0m0.1-0.9h0m0 2h0m0.1 1.5h0m0.1-14.7h0m0 5.2h0m0 1.6h0m0.2-0.7h0m0.1 3.5h0m0.1-3.7h0m0.1 3.8h0m0-0.6h0m0 4.1h0m0.1-6h0m0.4 5h0m0-0.6h0m0.1-7.3h0m0.1 2.1h0m0.1-5.7h0m0 11.4h0m0.2-3.2h0m0 0.1h0m0 11.4h0m0.1-12.6h0m0-1.7h0m0 15.5h0m0.3-12.3h0m0-3.6h0m0.1 6.7h0m0-1.7h0m0.1 6.3h0m0.2-11.5h0m0.1 3.1h0m0.1 3.3h0m0.1-1.5h0m0-2.4h0m0.2-4.3h0m0 4.5h0m0.8 5.7h0m0-7.5h0m0.2 4.9h0m0 2.3h0m0.1 6.4h0m0-5h0m0-0.7h0m0.2-17.1h0m0.1 8.3h0m0.1 7.7h0m0.3 10.4h0m0.1-12.7h0m0.1-4.6h0m0.1 0.8h0m0.2 0.2h0m0.1 2h0m0.1 4.2h0m0.2-7.6h0m0.2 3.1h0m0.3 2.8h0m0.2 4.4h0m0.1-7.1h0m0.1 4.7h0m0.1-1.8h0m0.1 3.5h0m0 7.3h0m0-5.8h0m0-15h0m0.1 12.2h0m0 6.1h0m0-10.9h0m0.1 6.8h0m0.2-1.1h0m0.1-4.6h0m0.1 0.6h0m0.1 4h0m0.1-4.1h0m0-8.7h0m0.2 7.5h0m0.1 2.9h0m0.1-4.1h0m0 2.3h0m0.1-3.5h0m0 4.4h0m0.1 3.3h0m0.2-6.8h0m0.1 2.2h0m0 3.9h0m0-6.4h0m0.1 2h0m0 3.5h0m0.1-3.9h0m0.2-4.3h0m0.2 4.1h0m0-1.5h0m0.4-4.4h0m0 8.6h0m0.2 10.3h0m0.3-14h0m0 7.2h0m0.1-10.4h0m0.1 4.9h0m0.1 2.9h0m0.1-5.8h0m0 4.1h0m0.1 6.6h0m0.2-4.6h0m0-1.3h0m0.1-10.8h0m0.1 8.9h0m0.1 7.1h0m0-9.5h0m0 5.4h0m0-2.1h0m0.1-4.9h0m0.1 3.1h0m0.1 3.2h0m0.2 5.4h0m0-4.3h0m0.1-5.6h0m0 7.1h0m0.3-2.7h0m0.1-1.9h0m0 4.7h0m0.1 3.5h0m0-12.5h0m0-1.7h0m0.1 12.5h0m0.1-12h0m0.1 11.4h0m0.1 1.1h0m0.1 1.3h0m0.4-3.1h0m0 2.9h0m0.3-3.7h0m0.1 6.1h0m0.1-9.9h0m0.1 4.9h0m0.1 8.1h0m0-4.7h0m0-11.5h0m0.1 5.9h0m0.1 1.7h0m0.2 1.2h0m0.3-16.4h0m0.1 4.4h0m0.2 4.2h0m0.2 0.3h0m0.1 2.4h0m0.1-4.2h0m0.1 0.4h0m0.1 14.8h0m0-13.8h0m0.2 7.1h0m0-12.4h0m0.1-0.5h0m0-0.8h0m0 2.8h0m0.1 0.2h0m0 4h0m0.1-4.8h0m0.1 0.1h0m0 7.5h0m0.2-8.5h0m0.2 8.2h0m0.1-7.7h0m0.1 12.2h0m0.2-8h0m0.1-0.5h0m0.2 6.9h0m0.4-6.5h0m0 11.6h0m0.1-4.1h0m0.1-9.6h0m0.2 6.2h0m0.1 1.1h0m0 13.9h0m0.1-12h0m0-11.5h0m0 17.5h0m0.1 2.1h0m0-17.7h0m0.2 4.8h0m0 3.6h0m0.1-7.4h0m0-1h0m0.1 6.7h0m0.2-5.1h0m0 26.7h0m0.1-21.6h0m0.1 3.3h0m0-1.7h0m0-8.8h0m0.1 4.6h0m0.1 4.7h0m0 8.2h0m0.1-19.5h0m0.2 12h0m0.3-13.7h0m0 6.4h0m0.2 5.8h0m0.1-1.4h0m0.3 0.6h0m0.1-9.1h0m0 6.2h0m0.1 4.2h0m0 0.6h0m0.2-12.2h0m0 12h0m0 1.4h0m0.2-5.8h0m0.5 9.3h0m0.1-4.2h0m0.2-5.4h0m0.1 6.3h0m0-16.8h0m0.2 11.5h0m0-10.4h0m0 9.8h0m0.1 20.8h0m0.5-12.7h0m0.1-6.8h0m0.1-2.8h0m0 13.2h0m0.3-9.3h0m0-1.1h0m0.1-0.3h0m0-0.1h0m0 1.2h0m0-1h0m0.3-5.9h0m0 1.8h0m0 1.2h0m0.3-1.4h0m0.3 2.9h0m0 2.2h0m0-3.4h0m0 1.4h0m0 2.4h0m0.1-0.5h0m0.3-2.2h0m0.1-1.9h0m0 0.6h0m0.1 6.2h0m0-2.1h0m0.1-2.5h0m0-2.4h0m0 2.2h0m0.1-6.2h0m0 11.5h0m0.1-4.9h0m0.1-0.9h0m0.1 0.8h0m0-2.2h0m0.2 0.4h0m0.2 3.1h0m0 8.4h0m0-13.5h0m0.3 6.6h0m0-1.4h0m0.1 0.1h0m0-3.8h0m0.2-2.2h0m0.1 5.1h0m0.3-5.6h0m0.1 9.4h0m0.1-2.4h0m0 0.8h0m0.1-1.9h0m0-0.2h0m0.3-0.8h0m0.1 2h0m0 1.7h0m0-5.6h0m0.4 7.5h0m0.1-12.1h0m0 6.6h0m0.3-0.4h0m0.1-0.6h0m0.2 2.6h0m0-5.7h0m0.2 11.9h0m0.1-5.3h0m0.1-4.1h0m0 14.5h0m0.1-19.7h0m0.1 8.1h0m0-11.3h0m0 29.1h0m0.2-22.2h0m0.1 8.4h0m0.2-1.3h0m0.1-14.8h0m0 5.6h0m0.1 1h0m0 7.2h0m0.1-2.8h0m0 8.3h0m0.1-2h0m0-7.8h0m0.1-1.8h0m0.2 1.5h0m0.1 5.3h0m0.3-5.5h0m0.5 6h0m0.1 0.2h0m0.1 2.1h0m0.1-3.7h0m0.4-1.3h0m0 3.5h0m0.1-10.9h0m0 14.1h0m0.6-5h0m0 3.4h0m0-7.4h0m0.1 2.3h0m0.3-4.4h0m0 9.7h0m0.2-8.9h0m0-2.6h0m0.1 10h0m0-1.6h0m0.1 3.8h0m0.1-2.3h0m0-7.3h0m0.1 5.1h0m0.1-0.6h0m0-7.2h0m0 8.3h0m0.2 0.9h0m0.1 0.7h0m0-8.2h0m0.1 6.2h0m0.1 6.1h0m0-9.6h0m0.1-1.6h0m0-1.7h0m0.1 2.5h0m0 5.1h0m0.3 3.2h0m0-14h0m0.3 5.7h0m0.1 3.9h0m0 5.2h0m0-12.5h0m0.1 10.6h0m0-2.8h0m0.1 1.6h0m0.5-1.6h0m0-0.5h0m0.2 4.6h0m0.1-0.9h0m0.2-7h0m0.1 5h0m0-9.4h0m0.2 8.6h0m0 1.4h0m0.2 12.2h0m0.1-16.2h0m0.1 0.1h0m0.5 3.5h0m0.3-8.4h0m0 13.2h0m0.2-8.4h0m0.2-3.1h0m0 7.9h0m0.1-2.3h0m0 3.1h0m0.5-5.7h0m0-2.9h0m0 1.8h0m0.1 3.6h0m0.3-0.3h0m0.1-15h0m0 13.8h0m0 5h0m0.2-9.8h0m0 4.9h0m0.1 2.8h0m0-9.1h0m0.1 3.9h0m0.1 3.9h0m0-0.8h0m0-2.3h0m0.1 17.3h0m0.1-12.9h0m0 0.4h0m0.2 3.9h0m0-7.5h0m0.1 10.9h0m0-15.6h0m0 7.2h0m0.1 1.6h0m0-6.2h0m0.1 4.8h0m0.1-0.6h0m0-4.1h0m0-2.1h0m0 0h0m0.1 11.6h0m0-16.7h0m0 7.1h0m0.4 8.9h0m0.1-17.6h0m0.1 8.6h0m0.1 2.8h0m0.1 1.5h0m0.2 5.4h0m0.1-14.5h0m0.2 1.3h0m0-2.7h0m0.1 10.4h0m0.4-5.5h0m0 9.5h0m0-4.3h0m0.2-14.9h0m0.2 18.7h0m0.1-7.8h0m0 4.6h0m0.1 4.6h0m0.1-14.3h0m0.1-0.7h0m0.1 15.7h0m0.1 1h0m0-10h0m0.1 5.5h0m0-8.4h0m0.1 8.8h0m0 2.9h0m0-9.9h0m0.1-5.6h0m0 0.6h0m0.1 7.2h0m0 4.2h0m0-2.1h0m0.1-5.5h0m0 7.5h0m0.1 8.4h0m0.1-15.9h0m0 3.9h0m0.1-9.7h0m0.3 10.1h0m0.2 8.2h0m0.1-9.6h0m0.1-1.5h0m0.1 10h0m0.1-7.4h0m0-0.3h0m0-4.2h0m0.1 9.4h0m0.1-13.8h0m0.2 8.6h0m0.1 0.9h0m0-7.7h0m0.2 18.9h0m0-10.2h0m0-3.2h0m0.1 3.6h0m0 7.8h0m0.1-4.1h0m0 2.1h0m0.1-6.4h0m0-6h0m0.4 13h0m0.1-9.3h0m0.1 3.9h0" stroke="#2a2a2a" stroke-width=".95" stroke-linecap="square"/>
<path d="M214.2 226h0m0.6 3.3h0m0.3-1.4h0m1.6-3.1h0m0.5 0.1h0m0.3-0.1h0m0.4 2.2h0m0.3 0.6h0m0.5 0.2h0m0-2.1h0m0.1 0.3h0m0.1-1.2h0m1.6 1.4h0m0.7-0.1h0m0.6 1h0m0.2-1h0m0.4-0.3h0m0.6-0.7h0m0.5 0.3h0m0.1 3.5h0m0-5.5h0m0.4 3h0m0.4-4.7h0m0.5 2.6h0m1 1.7h0m1 0.8h0m0.7-0.2h0m0.2-1h0m0.4-0.2h0m0.4 1h0m0.3-0.1h0m0.1 0.9h0m0.1-2.7h0m0.5 2.2h0m0.3-3h0m0.5 2.7h0m0.4 1.2h0m0.1-2.6h0m0.2 1.9h0m0.5-0.4h0m1.6-1.8h0m1.6 0.3h0m0.3 1.2h0m1 0.7h0m0.2-0.4h0m0.1 0.8h0m0.2-1h0m0.8-0.3h0m0.3 3.1h0m0.3-2.3h0m1.3-1.5h0m0.6 2h0m0.6-3.5h0m0.5 3.8h0m1.7 1.2h0m1.2-5.4h0m0.2 5.2h0m0.5-4.3h0m0.1 0.9h0m0.9 3.2h0m0.3-6.3h0m0.2 3.6h0m1.2 1.2h0m0 0.8h0m0.1 0.9h0m1.8-2.8h0m0.4 1.7h0m0.4-1.1h0m0.6-2.4h0m0.2 3.4h0m0.1-0.5h0m1-1.1h0m0.3 0.2h0m0.1 0.5h0m0.1-2.3h0m0.2 3h0m0.2-1.4h0m0.1 4.7h0m1.2-2.9h0m0.7 0h0m0.4 1.4h0m0.1-3.5h0m0.6-1.1h0m0.1 2.7h0m2.2 0.5h0m0.1-0.1h0m0.9-0.1h0m1.4-2.3h0m0.1 3.4h0m0.2 2.9h0m0.3-4.7h0m2.3 0.9h0m0-1.7h0m0.6-2h0m0.1 0.9h0m0.5 0.5h0m0.5 4.8h0m0.4-3.7h0m0.2 0.1h0m0.3 0.4h0m0.6 0.3h0m0.1-1.3h0m0.4 0.8h0m0.1-0.4h0m0.3 1.1h0m0.5 0.9h0m1-4.1h0m0.2 1.4h0m0.2 0.2h0m0.1 1.7h0m0-0.6h0m0.2 1.5h0m0-0.3h0m0.9-2.6h0m0.2-1.4h0m0.2-0.1h0m1.4 0.1h0m2 5.3h0m0.2-4.7h0m0.5 1.4h0m0.1 1h0m1.5-1.3h0m2.1 0.8h0m1.1-0.4h0m0.6 0h0m0.3-1.9h0m1.1 3.2h0m1.3-1.4h0m0.4 5h0m2.9-4.4h0m0.2-2.1h0m1 1.6h0m1.4 0.8h0m0.2-1.6h0m0.7-0.1h0m0.1 0.9h0m0 0.2h0m0.1-0.2h0m0 1.2h0m0.1-2.7h0m0.1 4h0m0.9-3.1h0m1.3 0.5h0m0.4-0.9h0m0.1-0.1h0m0.4 0.5h0m0.3-0.8h0m0.6-0.1h0m1.6 1.5h0m2-1h0m0.1-0.8h0m1.4 2.2h0m0.1-2.5h0m0.7 3h0m0.2-4h0m0.3 6.8h0m1-3.5h0m1 1.2h0m0.6 1.8h0m0-8h0m2 5.1h0m1.4-1.3h0m0.6-0.6h0m0.4 0.8h0m0.8 0.8h0m1.2-1h0m0.4 0.9h0m1.8 1.9h0m0 0.2h0m0.3-0.9h0m1.6 1.1h0m1.1-0.7h0m0.3 0.3h0m0.1-0.8h0m0.3-0.8h0m0.3-1.1h0m0.5 1.6h0m2.2 0h0m1.7-3.2h0m0.2 3.3h0m1.2-0.2h0m0.2-0.9h0m0.5-0.9h0m0.2 2.8h0m0.1-2.6h0m0.3 2.5h0m0.5-0.9h0m0.6 0.3h0m0.1-3.4h0m0.2 1.5h0m0.9 0.5h0m1 0.3h0m0-1.1h0m0.4 0.8h0m0.4-0.6h0m0.2 1.8h0m0.1 1.4h0m1-2h0m0.1 3.3h0m0.2-3h0m0.8-1.7h0m0.3 1.2h0m0-2.9h0m0.2 5.1h0m0.2-4.8h0m0.4 5h0m0.4-3.4h0m0.7 1.4h0m0.9 0.5h0m0.1 0.9h0m0.1-3.9h0m1.1 4.7h0m0.2-2h0m1.1-0.4h0m1.2-0.1h0m0.3 1.2h0m0.2-1.9h0m0.8 1.5h0m0.4-2.8h0m0.2 1.5h0m0.2 3.2h0m0.3-0.7h0m0.8 1.2h0m0.9-0.6h0m0.8-4.1h0m0.1 2.8h0m0.7 1.2h0m1.5-3h0m0.1 2.1h0m1.2-3.4h0m1.2 1h0m0.1 4.3h0m1.6-3.8h0m0.1-0.4h0m1.1 3.5h0m0.4-1.7h0m0.1-3h0m0.4 4.9h0m0.1-1.8h0m0.3-0.6h0m0.1 0.6h0m1-3h0m0.1 2.9h0m0.5-0.2h0m1.1-0.9h0m0.2 0.9h0m0 0.9h0m2.1 0.2h0m1-2.9h0m0.1 2.2h0m1.5-2.4h0m1.6 1h0m0-0.6h0m0.2-2.1h0m0.2 1.9h0m0.2 0.1h0m0.1 3.6h0m1.7-3.9h0m0.2 4.7h0m0.4 0.4h0m0.1-3.8h0m0.3 0.8h0m0.3-2h0m1.2 3.8h0m0.7-3.3h0m0.5 2.2h0m0.3-1.8h0m0.4 1.5h0m0.2-1.7h0m0.8-0.4h0m2 2.3h0m0.1-1.7h0m1.3 2.4h0m0.2-1.4h0m1.1 1.1h0m0.2-3.9h0m0.5-0.5h0m0.1 4h0m0.4-1.3h0m0.6 1.1h0m0.3-5.5h0m0.3 4.1h0m0.2-0.6h0m1.8 3.2h0m0.2-0.7h0m0.2-0.8h0m0.7-2h0m1.5-1h0m0.6 1.4h0m0.3-0.1h0m0 1.2h0m0.3-0.7h0m2.3-1.8h0m0.1 2.5h0m0.4 0.7h0m0.2-3.2h0m0.3 2.5h0m0-1h0m2.2 1h0m0.5-0.4h0m0.4-0.2h0m1.4 2.2h0m0.4-2.4h0m0.4-1.8h0m0.1 0.2h0m0.6 2.3h0m0.9-0.1h0m0.4-2.4h0m0.5 3.2h0m1.1 0.7h0m0.4-1.2h0m0.2 1h0m0.1-3.8h0m0.4 2.7h0m1.8-0.6h0m0.7-1.6h0m1 3.8h0m0-4.4h0m1.3 1.3h0m0.6 0.6h0m0.4-0.6h0m2.3-1.5h0m0.3 3.6h0m0.3 0.4h0m0-0.8h0m0.9 2.3h0m0.3-0.2h0m1-0.6h0m0.7 0.2h0m0.5-4.3h0m0.4 0.4h0m1 3.6h0m0.3-0.8h0m0.3-1.6h0m0.7-0.6h0m0.2 0.7h0m0.7-1.6h0m1.3-0.9h0m0.1 1h0m1.1-1.3h0m0.2 3.7h0m0.2 1h0m0.3-1.9h0m0.5 0.8h0m0.1-1.9h0m0.2 0.4h0m0.1-2.1h0m0 2.7h0m0.7-0.3h0m0.2 0.5h0m1.4-2.3h0m0.7 2.7h0m1.4-0.5h0m0.7-0.3h0m0.4 2.2h0m1-4.3h0m0.1 1.2h0m0.5 0h0m0.2 1.4h0m0.1-4.5h0m0.5 3.8h0m0.4 0.3h0m1.9-1.8h0m0.6 2.3h0m0.1-1.6h0m2.1 2.1h0m0.6-0.9h0m0.7 2.6h0m1.2 1.3h0m0-2.4h0m1.3-0.7h0m0.1-2.1h0m1 1.4h0m1.1 1.2h0m0.7-0.5h0m0.7 2.2h0m0-0.6h0m0.3-4h0m0.1 0.5h0m1 0.7h0m3.2 2h0m0.5-0.7h0m0.4-4.7h0m0.6 3.4h0m1 3.2h0m0-0.3h0m0.2-3.6h0m0.1 0.6h0m0.1 0.5h0m0-1h0m0.1 2.4h0m0 0.8h0m0.2-1.2h0m0.1-3.8h0m0.2 1.8h0m0.5-0.1h0m0.5 0.6h0m0.2 3.4h0m0.3-3.6h0m1.2 1h0m0.6-0.4h0m0.4 0.9h0m0.4 1.4h0m0.1-0.7h0m0.1-1.8h0m1.6-2.8h0m0.2 2.2h0m0.4 0h0m0.3 4h0m0.4-4h0m1.9 4.2h0m0.7-0.1h0m0-4.1h0m3.4 2.9h0m0.1-2.4h0m0.1 1.3h0m0.3-0.1h0m0-0.3h0m0.6-1.2h0m0.5 0.4h0m0.1 1.2h0m0.3 1.3h0m0.4-2.6h0m0.1 1.1h0m2-0.6h0m0.7-0.4h0m0.6-0.8h0m1.9 3h0m0.7-1.3h0m0.7-2.3h0m0.1 2.3h0m0.2-2h0m0.1 2.6h0m1-1h0m0.6-1.2h0m0.2-0.2h0m0.1-0.7h0m0.1 1h0m0.4 5h0m2-2.7h0m0.1 0.6h0m0.2-0.5h0m0.1 0.2h0m0.3 2.1h0m0.2-1.6h0m0.6-0.8h0m0.7-3.1h0m2.2 3.1h0m0-2.5h0m0.1 0.1h0m0.7 0.3h0m0.2 1h0m0.2 2.5h0m0.2-4.8h0m0.6 7.9h0m0.4-5.7h0m0.6 0.5h0m1.2-0.8h0m0.3-3h0m2.3 2.6h0m0.1 2.7h0m0.4-0.2h0m0.3-1.5h0m0.7-3.5h0m0.7 0.8h0m0.1 3.2h0m0.6-1.1h0m1.2 1.1h0m0.9 0h0m0.2 0.9h0m0.3-2.2h0m1.3 0h0m0.2-1.6h0m0.7 0h0m0.3 0h0m0-0.2h0m0.2 3.5h0m1.1-3.2h0m0.5 5.3h0m0.2-0.8h0m0.4-3.1h0m0.1 2.2h0m0.3-1.3h0m1.8-0.1h0m0.6-1.1h0m0.2-0.1h0m0.2-0.7h0m0 2.6h0m0.1 0.5h0m2-4.4h0m0.2 3.2h0m2.4 0.3h0m0.5 2.5h0m2-2.8h0m0.2 2.1h0m0.8-3.7h0m0.4 2.9h0m0.5-3.4h0m0.3 0.6h0m0.2 5.8h0m0.1-4.8h0m0.1-0.6h0m0.5 0.6h0m1.3-1.4h0m0.6 3.7h0m0.6-2.4h0m0.7 0.7h0m0.1 1.5h0m0.2-1.1h0m0.8-1.6h0m0.3-1h0m1.1-0.4h0m0.9 0.1h0m0.3 4.2h0m0.9-1.2h0m0.2 0.1h0m0.3 1.2h0m0.2 0.7h0" stroke="#88a888" stroke-width=".95" stroke-linecap="square"/>
<g stroke="#111" stroke-width="0.2"><text x="193" y="263.0" font-size="6.4" font-weight="bold" fill="#111">chr:</text>
<text x="208.8" y="263.0" font-size="6.4" font-weight="bold" fill="#111">1</text>
<text x="218.5" y="263.0" font-size="6.4" font-weight="bold" fill="#111">2</text>
<text x="225.6" y="263.0" font-size="6.4" font-weight="bold" fill="#111">3</text>
<text x="243" y="263.0" font-size="6.4" font-weight="bold" fill="#111">4</text>
<text x="249.6" y="263.0" font-size="6.4" font-weight="bold" fill="#111">5</text>
<text x="285.9" y="263.0" font-size="6.4" font-weight="bold" fill="#111">6</text>
<text x="296.8" y="263.0" font-size="6.4" font-weight="bold" fill="#111">7</text>
<text x="335.8" y="263.0" font-size="6.4" font-weight="bold" fill="#111">8</text>
<text x="353.8" y="263.0" font-size="6.4" font-weight="bold" fill="#111">9</text>
<text x="358.6" y="263.0" font-size="6.4" font-weight="bold" fill="#111">10</text>
<text x="367.8" y="263.0" font-size="6.4" font-weight="bold" fill="#111">11</text>
<text x="394.9" y="263.0" font-size="6.4" font-weight="bold" fill="#111">12</text>
<text x="416.2" y="263.0" font-size="6.4" font-weight="bold" fill="#111">13</text>
<text x="427" y="263.0" font-size="6.4" font-weight="bold" fill="#111">14 -1 6</text>
<text x="466" y="263.0" font-size="6.4" font-weight="bold" fill="#111">17 18 19</text>
<text x="498.5" y="263.0" font-size="6.4" font-weight="bold" fill="#111">20 - 22</text>
</g>
<text transform="translate(195.2,218.4) rotate(-90)" font-size="7.3" font-weight="bold" fill="#111" text-anchor="middle">normalized</text>
<text transform="translate(203.4,217.6) rotate(-90)" font-size="7.3" font-weight="bold" fill="#111" text-anchor="middle">segment coverage</text>
<text x="328" y="189.2" font-size="2.9" font-weight="bold" fill="#000" textLength="71" lengthAdjust="spacingAndGlyphs">difference of median coverage per segment (dn-rem), cnv</text>
<rect x="214.8" y="94.4" width="2.5" height="32.8" fill="#1010c8"/>
<rect x="214.8" y="128.6" width="2.1" height="32.9" fill="#127012"/>
<line x1="217.5" y1="127" x2="514" y2="127" stroke="#c8c8c8" stroke-width="0.6"/>
<line x1="217.5" y1="160.1" x2="514" y2="160.1" stroke="#c8c8c8" stroke-width="0.6"/>
<line x1="514" y1="94.4" x2="514" y2="160.1" stroke="#e0e0e0" stroke-width="0.5"/>
<line x1="456.5" y1="84.7" x2="456.5" y2="155.5" stroke="#8a8a98" stroke-width="0.7"/>
<text x="218.7" y="98.4" font-size="2.8" fill="#6060c8" textLength="104" lengthAdjust="spacingAndGlyphs">HG_TW_00000_ClassesAMetaDP_D_CNS CHCHIP - SoundSignal (0, 4)</text>
<text x="219.0" y="132.4" font-size="2.8" fill="#6a8a6a" textLength="104" lengthAdjust="spacingAndGlyphs">HG_TW_00000_ClassesAMetaDP_R_CNS CHCHIP - SoundSignal (0, 4)</text>
<text x="221" y="112.5" font-size="2.8" fill="#888">2</text>
<text x="221" y="119.3" font-size="2.8" fill="#888">1</text>
<text x="221" y="126.2" font-size="2.8" fill="#888">0</text>
<text x="218" y="140.7" font-size="2.8" fill="#888">1</text>
<text x="218" y="146.8" font-size="2.8" fill="#888">0</text>
<text x="218" y="153.7" font-size="2.8" fill="#888">-1</text>
<text x="218" y="160.6" font-size="2.8" fill="#888">-2</text>
<polyline points="218.5,105.64 219.0,106.33 219.5,105.06 220.0,106.16 220.5,106.23 221.0,108.23 221.5,104.80 222.0,103.88 222.5,104.59 223.0,106.68 223.5,104.63 224.0,104.74 224.5,105.38 225.0,106.56 225.5,105.24 226.0,105.84 226.5,105.88 227.0,105.52 227.5,106.89 228.0,106.30 228.5,106.99 229.0,106.05 229.5,105.37 230.0,103.83 230.5,106.60 231.0,106.43 231.5,105.77 232.0,106.20 232.5,105.87 233.0,106.94 233.5,105.29 234.0,106.60 234.5,106.49 235.0,106.66 235.5,104.55 236.0,104.14 236.5,106.41 237.0,105.95 237.5,107.34 238.0,107.92 238.5,106.88 239.0,107.90 239.5,105.91 240.0,106.77 240.5,105.90 241.0,107.02 241.5,104.49 242.0,102.43 242.5,102.62 243.0,104.83 243.5,105.74 244.0,104.87 244.5,106.19 245.0,103.15 245.5,104.37 246.0,101.94 246.5,103.27 247.0,105.64 247.5,105.27 248.0,105.07 248.5,104.98 249.0,106.69 249.5,103.94 250.0,105.17 250.5,106.07 251.0,104.92 251.5,107.17 252.0,106.30 252.5,107.58 253.0,107.13 253.5,104.11 254.0,104.10 254.5,105.01 255.0,104.74 255.5,106.13 256.0,104.37 256.5,105.06 257.0,105.68 257.5,106.07 258.0,106.09 258.5,107.73 259.0,106.60 259.5,103.50 260.0,105.12 260.5,106.31 261.0,105.55 261.5,106.44 262.0,105.01 262.5,106.35 263.0,106.53 263.5,106.28 264.0,103.25 264.5,104.49 265.0,105.26 265.5,104.67 266.0,104.29 266.5,105.03 267.0,105.31 267.5,107.20 268.0,107.31 268.5,105.94 269.0,106.10 269.5,106.85 270.0,106.25 270.5,106.74 271.0,105.21 271.5,104.02 272.0,104.58 272.5,105.74 273.0,105.36 273.5,104.52 274.0,105.18 274.5,106.12 275.0,105.04 275.5,104.91 276.0,105.62 276.5,106.98 277.0,106.78 277.5,104.20 278.0,104.70 278.5,105.20 279.0,107.04 279.5,105.32 280.0,106.42 280.5,107.71 281.0,105.12 281.5,105.31 282.0,106.52 282.5,104.92 283.0,106.66 283.5,106.34 284.0,106.29 284.5,105.95 285.0,105.95 285.5,105.30 286.0,105.97 286.5,105.41 287.0,107.12 287.5,107.79 288.0,106.96 288.5,104.48 289.0,104.73 289.5,103.93 290.0,105.25 290.5,105.94 291.0,105.30 291.5,104.83 292.0,106.85 292.5,106.50 293.0,104.97 293.5,106.01 294.0,104.70 294.5,105.56 295.0,105.76 295.5,104.71 296.0,104.85 296.5,106.31 297.0,106.46 297.5,105.34 298.0,105.39 298.5,106.82 299.0,106.69 299.5,105.44 300.0,106.81 300.5,104.60 301.0,107.06 301.5,106.31 302.0,104.57 302.5,105.93 303.0,106.36 303.5,106.57 304.0,104.48 304.5,105.36 305.0,103.72 305.5,105.18 306.0,106.44 306.5,106.38 307.0,104.96 307.5,106.44 308.0,105.04 308.5,106.54 309.0,105.91 309.5,107.36 310.0,106.15 310.5,106.69 311.0,105.56 311.5,104.89 312.0,105.07 312.5,104.00 313.0,103.80 313.5,101.78 314.0,105.50 314.5,109.89 315.0,108.52 315.5,106.27 316.0,103.70 316.5,106.44 317.0,103.64 317.5,105.76 318.0,105.52 318.5,104.60 319.0,106.45 319.5,107.13 320.0,107.01 320.5,107.39 321.0,105.40 321.5,107.78 322.0,107.83 322.5,105.64 323.0,104.11 323.5,103.53 324.0,102.96 324.5,103.98 325.0,105.93 325.5,105.38 326.0,106.64 326.5,104.46 327.0,105.35 327.5,105.11 328.0,106.52 328.5,103.85 329.0,105.95 329.5,106.26 330.0,105.66 330.5,105.35 331.0,103.64 331.5,105.58 332.0,105.87 332.5,106.37 333.0,107.54 333.5,103.50 334.0,104.93 334.5,107.53 335.0,105.45 335.5,106.01 336.0,104.98 336.5,104.22 337.0,104.98 337.5,104.69 338.0,105.27 338.5,106.49 339.0,105.95 339.5,104.15 340.0,106.23 340.5,107.04 341.0,106.31 341.5,106.25 342.0,104.34 342.5,105.80 343.0,107.47 343.5,106.93 344.0,106.75 344.5,105.32 345.0,103.79 345.5,104.80 346.0,105.81 346.5,105.53 347.0,105.25 347.5,106.14 348.0,104.62 348.5,104.55 349.0,105.58 349.5,105.35 350.0,106.08 350.5,105.75 351.0,105.87 351.5,105.03 352.0,104.98 352.5,105.46 353.0,106.53 353.5,107.70 354.0,107.09 354.5,105.79 355.0,105.13 355.5,104.74 356.0,106.53 356.5,105.75 357.0,106.94 357.5,104.83 358.0,108.14 358.5,106.60 359.0,106.68 359.5,105.40 360.0,105.34 360.5,105.32 361.0,104.93 361.5,105.97 362.0,103.14 362.5,104.69 363.0,106.72 363.5,104.88 364.0,104.38 364.5,105.65 365.0,105.78 365.5,106.40 366.0,104.70 366.5,104.41 367.0,107.30 367.5,106.72 368.0,108.51 368.5,106.21 369.0,104.44 369.5,106.64 370.0,106.06 370.5,107.08 371.0,106.54 371.5,104.60 372.0,101.97 372.5,103.13 373.0,105.77 373.5,106.49 374.0,106.20 374.5,105.57 375.0,105.14 375.5,106.39 376.0,106.73 376.5,107.66 377.0,107.33 377.5,104.44 378.0,105.18 378.5,106.58 379.0,105.91 379.5,105.64 380.0,107.27 380.5,108.08 381.0,106.63 381.5,106.47 382.0,107.17 382.5,107.28 383.0,105.94 383.5,104.88 384.0,104.87 384.5,106.19 385.0,107.21 385.5,106.42 386.0,105.85 386.5,104.50 387.0,106.12 387.5,105.18 388.0,105.42 388.5,104.40 389.0,104.60 389.5,101.51 390.0,104.55 390.5,105.44 391.0,105.75 391.5,105.04 392.0,103.70 392.5,105.09 393.0,105.61 393.5,104.92 394.0,105.60 394.5,107.11 395.0,108.60 395.5,106.43 396.0,105.90 396.5,106.84 397.0,108.37 397.5,104.87 398.0,105.41 398.5,104.78 399.0,105.96 399.5,105.62 400.0,106.05 400.5,105.37 401.0,104.90 401.5,104.50 402.0,104.84 402.5,105.66 403.0,105.41 403.5,106.09 404.0,104.62 404.5,105.25 405.0,106.83 405.5,106.71 406.0,107.24 406.5,105.41 407.0,106.30 407.5,106.56 408.0,105.27 408.5,105.39 409.0,104.63 409.5,104.30 410.0,103.30 410.5,104.21 411.0,106.26 411.5,106.21 412.0,105.11 412.5,105.35 413.0,104.40 413.5,103.83 414.0,106.88 414.5,104.84 415.0,103.92 415.5,105.07 416.0,105.55 416.5,106.06 417.0,105.99 417.5,104.92 418.0,106.38 418.5,106.38 419.0,105.79 419.5,106.81 420.0,106.74 420.5,104.33 421.0,102.25 421.5,105.11 422.0,104.63 422.5,106.27 423.0,104.55 423.5,103.52 424.0,103.71 424.5,104.24 425.0,104.82 425.5,103.90 426.0,106.72 426.5,105.20 427.0,106.21 427.5,106.51 428.0,103.34 428.5,105.59 429.0,104.81 429.5,103.57 430.0,103.87 430.5,105.47 431.0,106.27 431.5,105.13 432.0,104.99 432.5,106.47 433.0,105.83 433.5,106.36 434.0,106.75 434.5,106.37 435.0,106.39 435.5,105.90 436.0,105.40 436.5,105.31 437.0,106.59 437.5,105.76 438.0,106.66 438.5,104.53 439.0,105.28 439.5,104.54 440.0,106.76 440.5,107.73 441.0,106.93 441.5,105.13 442.0,105.29 442.5,106.44 443.0,105.86 443.5,106.03 444.0,107.81 444.5,105.15 445.0,104.96 445.5,104.95 446.0,106.28 446.5,106.61 447.0,106.22 447.5,104.92 448.0,103.10 448.5,105.35 449.0,104.69 449.5,105.83 450.0,104.89 450.5,106.70 451.0,105.48 451.5,105.83 452.0,104.37 452.5,105.30 453.0,105.02 453.5,104.21 454.0,106.80 454.5,105.17 455.0,104.68 455.5,106.86 456.0,106.20 456.5,107.18 457.0,107.80 457.5,105.92 458.0,105.27 458.5,104.03 459.0,104.91 459.5,104.38 460.0,104.24 460.5,104.01 461.0,105.47 461.5,103.92 462.0,105.71 462.5,105.90 463.0,104.16 463.5,105.66 464.0,106.47 464.5,104.64 465.0,106.96 465.5,106.49 466.0,105.12 466.5,108.16 467.0,106.59 467.5,104.91 468.0,106.25 468.5,104.69 469.0,106.19 469.5,104.22 470.0,106.13 470.5,107.74 471.0,105.60 471.5,104.89 472.0,105.48 472.5,103.88 473.0,106.83 473.5,105.81 474.0,105.61 474.5,106.60 475.0,107.76 475.5,106.81 476.0,104.91 476.5,104.97 477.0,104.78 477.5,106.05 478.0,107.16 478.5,106.84 479.0,105.01 479.5,104.70 480.0,104.34 480.5,102.74 481.0,106.50 481.5,106.19 482.0,105.20 482.5,106.51 483.0,105.51 483.5,107.83 484.0,106.25 484.5,105.88 485.0,104.81 485.5,105.42 486.0,106.50 486.5,106.20 487.0,105.39 487.5,105.19 488.0,107.76 488.5,107.01 489.0,104.56 489.5,103.29 490.0,104.11 490.5,104.93 491.0,106.75 491.5,108.06 492.0,106.34 492.5,105.35 493.0,104.61 493.5,106.39 494.0,105.49 494.5,103.29 495.0,104.78 495.5,107.10 496.0,106.65 496.5,105.15 497.0,103.34 497.5,103.45 498.0,105.76 498.5,105.91 499.0,104.50 499.5,104.17 500.0,106.70 500.5,106.52 501.0,106.28 501.5,105.25 502.0,105.61 502.5,105.85 503.0,106.46 503.5,105.02 504.0,105.46 504.5,104.10 505.0,104.32 505.5,105.11 506.0,106.01 506.5,103.79 507.0,104.55 507.5,106.33 508.0,107.40 508.5,105.70 509.0,107.57 509.5,104.50 510.0,103.53 510.5,105.72 511.0,103.59 511.5,104.42 512.0,104.05 512.5,105.80 513.0,105.22 513.5,105.54 514.0,105.26" fill="none" stroke="#3434d4" stroke-width="1.05"/>
<polyline points="218.5,146.85 219.0,146.69 219.5,147.34 220.0,146.86 220.5,146.11 221.0,147.15 221.5,146.76 222.0,146.91 222.5,146.72 223.0,146.41 223.5,146.69 224.0,146.89 224.5,146.12 225.0,147.13 225.5,147.09 226.0,146.92 226.5,146.41 227.0,147.31 227.5,146.81 228.0,147.21 228.5,146.60 229.0,146.90 229.5,146.64 230.0,146.73 230.5,146.96 231.0,146.58 231.5,146.03 232.0,144.34 232.5,146.39 233.0,147.07 233.5,146.25 234.0,145.94 234.5,146.33 235.0,146.67 235.5,146.38 236.0,146.80 236.5,147.04 237.0,147.29 237.5,146.99 238.0,146.98 238.5,147.42 239.0,147.37 239.5,147.07 240.0,147.21 240.5,146.58 241.0,146.96 241.5,147.27 242.0,146.30 242.5,142.23 243.0,145.21 243.5,146.41 244.0,147.32 244.5,147.35 245.0,146.70 245.5,147.08 246.0,147.41 246.5,146.96 247.0,146.55 247.5,146.54 248.0,146.56 248.5,146.36 249.0,146.50 249.5,147.01 250.0,146.71 250.5,146.92 251.0,146.36 251.5,146.95 252.0,147.76 252.5,146.78 253.0,146.74 253.5,147.20 254.0,147.32 254.5,146.71 255.0,146.48 255.5,146.72 256.0,147.21 256.5,147.06 257.0,147.06 257.5,147.64 258.0,147.25 258.5,146.28 259.0,147.27 259.5,147.21 260.0,146.58 260.5,147.19 261.0,146.99 261.5,147.87 262.0,147.66 262.5,146.42 263.0,145.48 263.5,146.77 264.0,147.12 264.5,146.90 265.0,146.72 265.5,146.11 266.0,147.24 266.5,147.06 267.0,146.28 267.5,146.07 268.0,147.43 268.5,147.11 269.0,146.20 269.5,147.19 270.0,147.39 270.5,147.34 271.0,146.89 271.5,146.77 272.0,146.63 272.5,146.66 273.0,146.08 273.5,147.04 274.0,147.32 274.5,147.32 275.0,147.36 275.5,147.82 276.0,146.97 276.5,146.42 277.0,146.65 277.5,147.11 278.0,146.72 278.5,147.30 279.0,147.53 279.5,147.05 280.0,146.43 280.5,146.55 281.0,146.77 281.5,146.28 282.0,147.40 282.5,146.79 283.0,146.85 283.5,147.27 284.0,147.09 284.5,146.33 285.0,146.03 285.5,146.85 286.0,146.79 286.5,146.86 287.0,146.60 287.5,147.07 288.0,147.48 288.5,147.02 289.0,146.91 289.5,146.76 290.0,146.67 290.5,146.75 291.0,146.37 291.5,146.45 292.0,146.72 292.5,146.85 293.0,146.62 293.5,146.73 294.0,147.19 294.5,147.07 295.0,147.10 295.5,147.45 296.0,146.56 296.5,146.31 297.0,147.24 297.5,147.07 298.0,146.40 298.5,146.84 299.0,146.70 299.5,146.87 300.0,146.33 300.5,146.29 301.0,146.62 301.5,146.12 302.0,146.46 302.5,146.65 303.0,146.08 303.5,146.67 304.0,147.47 304.5,145.79 305.0,144.42 305.5,145.70 306.0,147.00 306.5,146.46 307.0,146.78 307.5,145.99 308.0,146.61 308.5,146.88 309.0,146.72 309.5,147.16 310.0,146.69 310.5,146.74 311.0,146.65 311.5,147.01 312.0,146.78 312.5,146.91 313.0,147.49 313.5,147.24 314.0,146.72 314.5,146.75 315.0,146.28 315.5,146.60 316.0,146.34 316.5,146.50 317.0,146.16 317.5,146.33 318.0,146.03 318.5,146.87 319.0,146.59 319.5,146.77 320.0,146.74 320.5,146.92 321.0,146.69 321.5,146.75 322.0,147.43 322.5,147.53 323.0,147.15 323.5,147.22 324.0,146.56 324.5,145.39 325.0,143.30 325.5,145.77 326.0,147.28 326.5,146.63 327.0,146.91 327.5,146.56 328.0,147.53 328.5,147.00 329.0,146.54 329.5,146.30 330.0,146.29 330.5,146.48 331.0,147.34 331.5,147.18 332.0,146.63 332.5,146.96 333.0,146.47 333.5,146.92 334.0,146.50 334.5,147.11 335.0,147.33 335.5,148.03 336.0,147.07 336.5,146.79 337.0,147.16 337.5,146.72 338.0,145.74 338.5,145.91 339.0,146.63 339.5,145.52 340.0,147.07 340.5,146.21 341.0,146.76 341.5,147.43 342.0,146.90 342.5,146.59 343.0,146.60 343.5,146.20 344.0,146.37 344.5,146.83 345.0,147.00 345.5,146.53 346.0,146.36 346.5,146.61 347.0,147.34 347.5,147.36 348.0,146.33 348.5,146.59 349.0,146.56 349.5,146.48 350.0,146.67 350.5,147.14 351.0,147.14 351.5,147.19 352.0,146.96 352.5,146.85 353.0,146.54 353.5,147.18 354.0,147.31 354.5,146.36 355.0,146.42 355.5,146.59 356.0,146.81 356.5,146.27 357.0,146.59 357.5,147.11 358.0,146.94 358.5,146.64 359.0,146.29 359.5,146.30 360.0,147.20 360.5,147.28 361.0,146.99 361.5,146.81 362.0,145.97 362.5,146.32 363.0,146.99 363.5,147.07 364.0,146.87 364.5,147.33 365.0,147.17 365.5,146.21 366.0,146.57 366.5,147.31 367.0,147.45 367.5,146.95 368.0,147.40 368.5,147.54 369.0,146.48 369.5,146.25 370.0,146.86 370.5,146.80 371.0,146.53 371.5,147.26 372.0,147.13 372.5,147.26 373.0,147.17 373.5,147.54 374.0,146.79 374.5,147.23 375.0,147.44 375.5,146.96 376.0,147.21 376.5,147.40 377.0,146.92 377.5,146.99 378.0,146.19 378.5,146.62 379.0,146.87 379.5,146.94 380.0,147.14 380.5,147.18 381.0,146.96 381.5,146.91 382.0,147.36 382.5,146.82 383.0,146.94 383.5,147.08 384.0,146.88 384.5,147.32 385.0,146.71 385.5,146.67 386.0,146.77 386.5,146.84 387.0,146.79 387.5,147.08 388.0,146.71 388.5,147.16 389.0,147.72 389.5,147.05 390.0,147.20 390.5,146.54 391.0,146.79 391.5,146.87 392.0,147.19 392.5,146.65 393.0,147.45 393.5,146.69 394.0,146.32 394.5,147.18 395.0,146.84 395.5,146.80 396.0,146.93 396.5,146.49 397.0,147.01 397.5,146.28 398.0,146.49 398.5,146.57 399.0,146.67 399.5,146.97 400.0,147.31 400.5,146.38 401.0,146.45 401.5,146.51 402.0,146.40 402.5,147.26 403.0,147.02 403.5,147.04 404.0,146.62 404.5,146.87 405.0,146.73 405.5,147.58 406.0,147.15 406.5,147.03 407.0,147.11 407.5,146.44 408.0,146.94 408.5,146.98 409.0,146.54 409.5,147.65 410.0,146.94 410.5,146.25 411.0,146.45 411.5,146.13 412.0,146.29 412.5,146.49 413.0,146.89 413.5,146.79 414.0,146.76 414.5,147.13 415.0,147.10 415.5,147.04 416.0,147.33 416.5,147.27 417.0,146.78 417.5,146.47 418.0,147.66 418.5,147.63 419.0,147.20 419.5,146.78 420.0,146.98 420.5,146.05 421.0,146.80 421.5,146.40 422.0,146.76 422.5,146.77 423.0,146.87 423.5,147.44 424.0,146.88 424.5,146.55 425.0,147.43 425.5,147.19 426.0,146.67 426.5,146.77 427.0,146.93 427.5,146.93 428.0,146.90 428.5,147.45 429.0,147.17 429.5,147.18 430.0,146.93 430.5,146.38 431.0,146.77 431.5,146.88 432.0,146.64 432.5,147.21 433.0,146.50 433.5,146.65 434.0,146.47 434.5,146.49 435.0,146.79 435.5,147.12 436.0,147.17 436.5,146.21 437.0,147.57 437.5,147.25 438.0,147.24 438.5,146.56 439.0,146.42 439.5,146.75 440.0,147.55 440.5,146.81 441.0,146.71 441.5,147.14 442.0,147.12 442.5,146.61 443.0,146.79 443.5,146.49 444.0,146.38 444.5,146.56 445.0,146.73 445.5,146.89 446.0,146.58 446.5,147.39 447.0,147.55 447.5,146.49 448.0,147.14 448.5,146.13 449.0,146.97 449.5,147.58 450.0,147.98 450.5,147.27 451.0,147.24 451.5,146.98 452.0,147.29 452.5,147.54 453.0,147.27 453.5,147.25 454.0,147.15 454.5,147.15 455.0,146.90 455.5,146.86 456.0,146.15 456.5,147.47 457.0,147.54 457.5,146.95 458.0,147.02 458.5,147.26 459.0,146.97 459.5,146.91 460.0,147.81 460.5,147.57 461.0,147.52 461.5,146.73 462.0,147.31 462.5,146.54 463.0,146.17 463.5,146.24 464.0,146.99 464.5,147.38 465.0,147.33 465.5,146.89 466.0,147.22 466.5,146.57 467.0,146.16 467.5,145.82 468.0,146.06 468.5,146.17 469.0,146.47 469.5,147.59 470.0,147.43 470.5,147.08 471.0,146.50 471.5,146.97 472.0,146.45 472.5,146.19 473.0,145.97 473.5,146.77 474.0,146.61 474.5,147.04 475.0,146.89 475.5,146.33 476.0,146.54 476.5,146.66 477.0,146.67 477.5,146.66 478.0,147.05 478.5,146.90 479.0,146.88 479.5,145.82 480.0,147.16 480.5,146.82 481.0,146.52 481.5,146.75 482.0,146.37 482.5,146.47 483.0,147.18 483.5,147.05 484.0,147.02 484.5,146.85 485.0,146.94 485.5,146.37 486.0,146.69 486.5,147.02 487.0,146.45 487.5,145.95 488.0,146.68 488.5,146.92 489.0,147.22 489.5,147.25 490.0,147.09 490.5,146.84 491.0,147.65 491.5,147.35 492.0,146.35 492.5,146.09 493.0,146.32 493.5,146.10 494.0,146.48 494.5,146.08 495.0,146.40 495.5,145.91 496.0,146.16 496.5,146.03 497.0,145.58 497.5,145.64 498.0,146.26 498.5,146.07 499.0,146.48 499.5,146.05 500.0,145.31 500.5,145.33 501.0,145.50 501.5,145.26 502.0,145.78 502.5,145.49 503.0,145.79 503.5,146.58 504.0,146.19 504.5,145.63 505.0,145.33 505.5,145.33 506.0,145.49 506.5,145.42 507.0,145.99 507.5,145.82 508.0,145.34 508.5,145.51 509.0,144.74 509.5,145.24 510.0,144.06 510.5,144.77 511.0,144.78 511.5,144.73 512.0,144.72 512.5,144.45 513.0,143.90 513.5,144.76 514.0,144.27" fill="none" stroke="#2a862a" stroke-width="0.95"/>
<text x="197.8" y="128.4" font-size="6.2" font-weight="bold" fill="#111" text-anchor="start" >chr8</text>
<text x="194.5" y="315.8" font-size="6.2" font-weight="bold" fill="#111" text-anchor="start" >chr8</text>
<line x1="349.6" y1="257.5" x2="349.6" y2="339" stroke="#9a9aa8" stroke-width="0.7"/>
<line x1="213" y1="280.2" x2="382" y2="280.2" stroke="#c8c8c8" stroke-width="0.6" stroke-dasharray="0.6,0.8"/>
<line x1="213" y1="290.3" x2="382" y2="290.3" stroke="#e4a0a0" stroke-width="0.6" stroke-dasharray="0.6,0.8"/>
<line x1="213" y1="293.5" x2="382" y2="293.5" stroke="#b0b0b0" stroke-width="0.6" stroke-dasharray="0.6,1"/>
<line x1="213" y1="296.8" x2="382" y2="296.8" stroke="#dedede" stroke-width="0.7"/>
<line x1="213" y1="300.8" x2="382" y2="300.8" stroke="#e4e4e4" stroke-width="0.7"/>
<line x1="213" y1="303.8" x2="382" y2="303.8" stroke="#c0c0d0" stroke-width="0.6" stroke-dasharray="0.6,0.8"/>
<line x1="213" y1="311.2" x2="382" y2="311.2" stroke="#b0b0c0" stroke-width="0.6" stroke-dasharray="0.6,1"/>
<line x1="213" y1="315.2" x2="382" y2="315.2" stroke="#dedede" stroke-width="0.7"/>
<text x="212.5" y="280.5" font-size="2.8" fill="#777" text-anchor="end">1</text>
<text x="212.5" y="287.5" font-size="2.8" fill="#777" text-anchor="end">0</text>
<text x="212.5" y="294" font-size="2.8" fill="#777" text-anchor="end">-1</text>
<text x="212.5" y="301.2" font-size="2.8" fill="#777" text-anchor="end">1</text>
<text x="212.5" y="307.3" font-size="2.8" fill="#777" text-anchor="end">0</text>
<polyline points="213.0,285.73 213.5,286.17 214.0,286.19 214.5,286.74 215.0,286.45 215.5,286.34 216.0,286.32 216.5,286.09 217.0,285.88 217.5,285.76 218.0,285.62 218.5,286.29 219.0,285.87 219.5,285.93 220.0,286.27 220.5,286.34 221.0,285.86 221.5,286.64 222.0,286.45 222.5,286.53 223.0,285.83 223.5,286.60 224.0,286.26 224.5,286.07 225.0,286.19 225.5,286.17 226.0,286.14 226.5,285.61 227.0,286.52 227.5,286.28 228.0,286.15 228.5,286.46 229.0,286.53 229.5,286.34 230.0,286.72 230.5,286.03 231.0,286.26 231.5,286.34 232.0,285.55 232.5,285.31 233.0,285.89 233.5,286.70 234.0,286.22 234.5,285.80 235.0,286.79 235.5,286.75 236.0,285.63 236.5,286.31 237.0,286.31 237.5,286.29 238.0,285.41 238.5,286.74 239.0,286.65 239.5,286.53 240.0,286.76 240.5,286.72 241.0,285.86 241.5,286.65 242.0,286.85 242.5,285.91 243.0,284.11 243.5,284.02 244.0,284.72 244.5,284.71 245.0,284.36 245.5,284.40 246.0,283.71 246.5,284.45 247.0,284.00 247.5,284.62 248.0,283.81 248.5,283.90 249.0,283.87 249.5,284.89 250.0,284.34 250.5,284.60 251.0,284.27 251.5,284.77 252.0,284.08 252.5,284.48 253.0,284.13 253.5,284.40 254.0,284.43 254.5,284.40 255.0,284.34 255.5,284.60 256.0,284.48 256.5,284.86 257.0,284.58 257.5,284.30 258.0,284.31 258.5,284.38 259.0,284.46 259.5,284.59 260.0,285.02 260.5,284.16 261.0,283.97 261.5,284.55 262.0,284.51 262.5,284.58 263.0,283.90 263.5,284.33 264.0,284.24 264.5,284.54 265.0,284.81 265.5,284.36 266.0,284.98 266.5,284.14 267.0,283.99 267.5,284.35 268.0,284.67 268.5,283.51 269.0,284.18 269.5,284.09 270.0,284.45 270.5,284.38 271.0,285.06 271.5,284.53 272.0,284.10 272.5,284.21 273.0,284.52 273.5,284.54 274.0,283.32 274.5,284.29 275.0,285.51 275.5,284.18 276.0,285.09 276.5,284.79 277.0,284.02 277.5,284.30 278.0,284.18 278.5,284.41 279.0,284.43 279.5,284.93 280.0,283.95 280.5,284.40 281.0,284.14 281.5,283.89 282.0,284.76 282.5,284.55 283.0,284.04 283.5,284.57 284.0,284.60 284.5,284.09 285.0,284.31 285.5,284.64 286.0,284.06 286.5,284.63 287.0,283.41 287.5,284.01 288.0,284.26 288.5,284.53 289.0,284.09 289.5,284.54 290.0,283.54 290.5,284.05 291.0,284.19 291.5,284.04 292.0,284.59 292.5,284.50 293.0,284.94 293.5,284.09 294.0,284.09 294.5,283.72 295.0,284.87 295.5,284.45 296.0,284.70 296.5,283.67 297.0,284.54 297.5,284.59 298.0,284.07 298.5,283.87 299.0,284.36 299.5,284.29 300.0,284.56 300.5,285.21 301.0,284.77 301.5,284.47 302.0,284.36 302.5,284.32 303.0,283.74 303.5,284.32 304.0,284.08 304.5,283.90 305.0,284.25 305.5,285.00 306.0,284.15 306.5,284.19 307.0,284.26 307.5,284.04 308.0,284.23 308.5,284.69 309.0,284.28 309.5,284.54 310.0,284.06 310.5,284.06 311.0,284.80 311.5,284.03 312.0,284.07 312.5,283.33 313.0,283.13 313.5,284.48 314.0,283.71 314.5,283.84 315.0,284.25 315.5,283.77 316.0,283.16 316.5,284.24 317.0,283.60 317.5,283.17 318.0,283.23 318.5,283.54 319.0,282.96 319.5,283.70 320.0,283.38 320.5,283.79 321.0,283.48 321.5,283.88 322.0,283.83 322.5,282.94 323.0,283.47 323.5,283.37 324.0,283.54 324.5,283.69 325.0,283.22 325.5,283.00 326.0,283.71 326.5,284.05 327.0,283.14 327.5,283.49 328.0,282.85 328.5,283.50 329.0,283.12 329.5,283.09 330.0,283.10 330.5,283.17 331.0,282.90 331.5,283.48 332.0,283.55 332.5,283.68 333.0,283.72 333.5,283.35 334.0,283.64 334.5,283.94 335.0,283.09 335.5,282.99 336.0,282.90 336.5,283.44 337.0,284.02 337.5,282.61 338.0,283.41 338.5,283.64 339.0,283.72 339.5,283.47 340.0,283.19 340.5,282.88 341.0,282.53 341.5,283.72 342.0,283.26 342.5,283.10 343.0,283.19 343.5,283.93 344.0,283.15 344.5,283.50 345.0,283.64 345.5,283.05 346.0,283.47 346.5,283.14 347.0,283.51 347.5,282.89 348.0,284.01 348.5,283.64 349.0,283.49 349.5,283.43 350.0,282.81 350.5,283.45 351.0,283.36 351.5,284.03 352.0,283.27 352.5,283.64 353.0,282.37 353.5,282.81 354.0,282.81 354.5,283.11 355.0,282.94 355.5,283.90 356.0,283.55 356.5,283.74 357.0,283.07 357.5,282.82 358.0,283.56 358.5,282.95 359.0,283.73 359.5,283.95 360.0,283.43 360.5,283.75 361.0,282.82 361.5,283.47 362.0,283.47 362.5,283.71 363.0,283.08 363.5,283.04 364.0,283.24 364.5,282.76 365.0,283.56 365.5,283.38 366.0,283.65 366.5,283.11 367.0,283.03 367.5,283.23 368.0,282.78 368.5,283.73 369.0,282.93 369.5,283.74 370.0,283.39 370.5,283.29 371.0,283.29 371.5,282.80 372.0,283.63 372.5,283.38 373.0,283.36 373.5,283.41 374.0,283.21 374.5,283.25 375.0,283.15 375.5,283.38 376.0,283.25 376.5,283.52 377.0,282.84 377.5,282.61 378.0,283.66 378.5,283.60 379.0,283.49 379.5,283.31 380.0,283.51 380.5,283.29 381.0,282.85 381.5,283.33 382.0,283.38" fill="none" stroke="#f0a8b4" stroke-width="4.6"/>
<polyline points="213.0,285.92 213.5,286.61 214.0,286.31 214.5,286.39 215.0,286.28 215.5,286.02 216.0,285.99 216.5,286.16 217.0,285.96 217.5,286.48 218.0,285.88 218.5,286.18 219.0,286.03 219.5,286.21 220.0,286.18 220.5,286.33 221.0,286.41 221.5,286.01 222.0,286.10 222.5,286.54 223.0,285.81 223.5,286.36 224.0,286.28 224.5,286.13 225.0,286.05 225.5,285.99 226.0,286.47 226.5,286.17 227.0,286.16 227.5,286.19 228.0,286.01 228.5,286.41 229.0,286.30 229.5,286.40 230.0,286.11 230.5,286.42 231.0,286.42 231.5,286.37 232.0,286.18 232.5,286.05 233.0,286.02 233.5,286.35 234.0,286.42 234.5,286.16 235.0,286.28 235.5,286.23 236.0,286.46 236.5,286.37 237.0,286.23 237.5,286.17 238.0,286.42 238.5,286.23 239.0,286.37 239.5,285.99 240.0,285.99 240.5,286.08 241.0,286.20 241.5,286.40 242.0,286.20 242.5,286.18 243.0,284.35 243.5,284.31 244.0,284.61 244.5,284.51 245.0,284.15 245.5,284.44 246.0,284.76 246.5,284.58 247.0,284.28 247.5,284.71 248.0,284.12 248.5,284.22 249.0,284.07 249.5,284.45 250.0,284.18 250.5,284.38 251.0,284.63 251.5,284.15 252.0,284.22 252.5,284.26 253.0,284.61 253.5,284.33 254.0,284.41 254.5,283.85 255.0,284.28 255.5,284.23 256.0,283.81 256.5,284.25 257.0,284.27 257.5,284.35 258.0,284.05 258.5,284.49 259.0,284.65 259.5,284.63 260.0,284.32 260.5,284.44 261.0,284.06 261.5,284.38 262.0,284.35 262.5,284.51 263.0,284.75 263.5,284.27 264.0,284.51 264.5,284.26 265.0,284.09 265.5,284.28 266.0,283.87 266.5,284.03 267.0,284.35 267.5,284.04 268.0,284.11 268.5,284.51 269.0,284.34 269.5,284.14 270.0,284.45 270.5,284.41 271.0,283.88 271.5,284.20 272.0,284.39 272.5,283.92 273.0,284.25 273.5,284.11 274.0,284.42 274.5,284.77 275.0,284.13 275.5,284.32 276.0,284.06 276.5,284.48 277.0,284.22 277.5,284.05 278.0,284.31 278.5,284.40 279.0,284.38 279.5,283.84 280.0,284.29 280.5,284.26 281.0,284.38 281.5,283.66 282.0,284.30 282.5,284.33 283.0,284.07 283.5,284.45 284.0,284.44 284.5,284.41 285.0,284.25 285.5,284.05 286.0,284.30 286.5,283.98 287.0,284.48 287.5,284.50 288.0,283.89 288.5,284.53 289.0,284.16 289.5,284.23 290.0,283.85 290.5,284.41 291.0,284.23 291.5,284.18 292.0,284.02 292.5,284.59 293.0,284.30 293.5,284.45 294.0,283.86 294.5,284.20 295.0,284.37 295.5,283.86 296.0,284.44 296.5,283.65 297.0,284.20 297.5,284.18 298.0,284.53 298.5,284.29 299.0,283.97 299.5,284.33 300.0,284.13 300.5,284.46 301.0,284.60 301.5,284.20 302.0,284.84 302.5,284.09 303.0,284.31 303.5,284.44 304.0,284.22 304.5,284.56 305.0,284.28 305.5,284.44 306.0,284.25 306.5,284.37 307.0,284.40 307.5,284.04 308.0,283.94 308.5,284.66 309.0,284.48 309.5,284.20 310.0,284.15 310.5,284.57 311.0,284.51 311.5,284.20 312.0,283.43 312.5,283.53 313.0,283.53 313.5,283.50 314.0,283.47 314.5,283.45 315.0,283.61 315.5,283.56 316.0,283.37 316.5,283.36 317.0,283.31 317.5,283.47 318.0,283.64 318.5,283.05 319.0,283.10 319.5,283.13 320.0,283.47 320.5,283.40 321.0,283.23 321.5,283.43 322.0,283.02 322.5,283.53 323.0,283.74 323.5,283.64 324.0,283.39 324.5,283.57 325.0,283.42 325.5,284.09 326.0,283.52 326.5,284.04 327.0,283.53 327.5,283.39 328.0,283.20 328.5,283.22 329.0,283.35 329.5,283.45 330.0,283.54 330.5,283.34 331.0,283.56 331.5,283.82 332.0,283.47 332.5,283.31 333.0,282.85 333.5,283.64 334.0,283.55 334.5,284.13 335.0,283.19 335.5,283.57 336.0,283.16 336.5,283.15 337.0,283.30 337.5,283.48 338.0,283.50 338.5,283.23 339.0,283.57 339.5,283.68 340.0,283.46 340.5,283.26 341.0,283.43 341.5,283.26 342.0,283.46 342.5,283.13 343.0,283.04 343.5,283.67 344.0,283.38 344.5,283.45 345.0,283.45 345.5,283.12 346.0,283.70 346.5,283.71 347.0,283.14 347.5,283.42 348.0,283.28 348.5,283.38 349.0,283.25 349.5,283.24 350.0,283.50 350.5,283.05 351.0,283.33 351.5,283.69 352.0,283.34 352.5,283.30 353.0,283.08 353.5,283.90 354.0,283.55 354.5,283.59 355.0,283.50 355.5,283.42 356.0,283.08 356.5,283.13 357.0,283.61 357.5,283.43 358.0,283.84 358.5,283.58 359.0,283.31 359.5,283.77 360.0,283.34 360.5,283.78 361.0,283.04 361.5,283.13 362.0,283.28 362.5,283.30 363.0,283.46 363.5,283.31 364.0,283.77 364.5,283.29 365.0,283.55 365.5,283.63 366.0,283.78 366.5,283.59 367.0,283.15 367.5,283.23 368.0,283.15 368.5,283.62 369.0,283.61 369.5,283.31 370.0,283.27 370.5,283.33 371.0,283.55 371.5,283.42 372.0,283.24 372.5,283.23 373.0,283.32 373.5,283.51 374.0,283.68 374.5,283.10 375.0,283.65 375.5,283.15 376.0,283.36 376.5,283.77 377.0,283.29 377.5,283.68 378.0,283.40 378.5,283.37 379.0,283.75 379.5,282.97 380.0,283.49 380.5,283.42 381.0,283.23 381.5,283.22 382.0,283.23" fill="none" stroke="#d82438" stroke-width="2.7"/>
<polyline points="213.0,307.43 213.5,307.94 214.0,307.27 214.5,307.53 215.0,308.33 215.5,308.04 216.0,308.03 216.5,307.96 217.0,308.10 217.5,308.35 218.0,308.48 218.5,307.56 219.0,306.96 219.5,307.79 220.0,308.09 220.5,307.63 221.0,307.64 221.5,308.38 222.0,308.40 222.5,308.17 223.0,307.75 223.5,307.29 224.0,307.70 224.5,307.68 225.0,308.07 225.5,308.31 226.0,308.18 226.5,307.33 227.0,308.48 227.5,307.36 228.0,308.07 228.5,307.89 229.0,307.50 229.5,308.28 230.0,308.29 230.5,308.02 231.0,308.21 231.5,307.30 232.0,307.23 232.5,307.87 233.0,308.22 233.5,307.62 234.0,308.18 234.5,308.03 235.0,307.36 235.5,308.08 236.0,307.83 236.5,308.12 237.0,307.84 237.5,307.72 238.0,307.73 238.5,307.41 239.0,308.21 239.5,307.64 240.0,308.62 240.5,308.04 241.0,307.98 241.5,307.98 242.0,308.68 242.5,307.91 243.0,305.90 243.5,306.22 244.0,306.15 244.5,305.81 245.0,306.29 245.5,306.57 246.0,306.47 246.5,306.07 247.0,307.03 247.5,306.68 248.0,306.00 248.5,306.42 249.0,306.18 249.5,306.58 250.0,306.50 250.5,306.29 251.0,305.71 251.5,306.47 252.0,306.03 252.5,305.76 253.0,305.55 253.5,306.08 254.0,306.42 254.5,306.36 255.0,306.59 255.5,306.12 256.0,306.59 256.5,306.24 257.0,306.36 257.5,306.11 258.0,305.92 258.5,306.09 259.0,306.16 259.5,305.65 260.0,305.80 260.5,306.40 261.0,305.99 261.5,305.68 262.0,305.43 262.5,305.65 263.0,305.66 263.5,306.42 264.0,305.68 264.5,305.63 265.0,305.96 265.5,305.49 266.0,306.60 266.5,305.97 267.0,306.56 267.5,306.13 268.0,305.89 268.5,306.12 269.0,306.00 269.5,306.45 270.0,306.55 270.5,305.70 271.0,305.91 271.5,305.97 272.0,306.30 272.5,306.57 273.0,306.55 273.5,305.88 274.0,305.65 274.5,305.86 275.0,305.47 275.5,305.48 276.0,306.30 276.5,306.26 277.0,306.40 277.5,306.11 278.0,305.96 278.5,306.08 279.0,306.28 279.5,306.03 280.0,306.29 280.5,306.53 281.0,305.96 281.5,306.47 282.0,305.65 282.5,306.28 283.0,305.52 283.5,306.47 284.0,305.74 284.5,306.25 285.0,305.86 285.5,306.35 286.0,305.70 286.5,306.08 287.0,305.87 287.5,306.12 288.0,306.19 288.5,306.26 289.0,305.40 289.5,305.94 290.0,306.40 290.5,305.96 291.0,305.52 291.5,306.33 292.0,306.49 292.5,306.35 293.0,305.79 293.5,306.12 294.0,306.02 294.5,306.64 295.0,305.91 295.5,306.00 296.0,305.98 296.5,306.00 297.0,306.87 297.5,305.77 298.0,305.84 298.5,306.35 299.0,305.83 299.5,306.63 300.0,306.07 300.5,306.22 301.0,306.11 301.5,306.17 302.0,306.34 302.5,305.93 303.0,306.08 303.5,305.35 304.0,306.36 304.5,306.31 305.0,306.10 305.5,306.10 306.0,306.51 306.5,305.36 307.0,305.89 307.5,306.09 308.0,306.26 308.5,305.86 309.0,305.70 309.5,305.90 310.0,305.92 310.5,306.11 311.0,306.16 311.5,306.05 312.0,304.53 312.5,304.00 313.0,304.77 313.5,304.88 314.0,305.06 314.5,304.69 315.0,304.77 315.5,304.52 316.0,304.37 316.5,303.92 317.0,304.58 317.5,304.54 318.0,304.49 318.5,305.26 319.0,304.78 319.5,304.47 320.0,303.86 320.5,305.19 321.0,304.77 321.5,304.41 322.0,304.53 322.5,304.08 323.0,304.25 323.5,304.38 324.0,304.58 324.5,303.99 325.0,304.84 325.5,304.87 326.0,304.71 326.5,304.32 327.0,303.69 327.5,304.75 328.0,304.39 328.5,304.51 329.0,304.76 329.5,304.80 330.0,304.69 330.5,305.18 331.0,304.95 331.5,303.85 332.0,305.00 332.5,304.74 333.0,303.63 333.5,305.24 334.0,305.03 334.5,304.26 335.0,305.03 335.5,304.48 336.0,304.56 336.5,305.12 337.0,304.94 337.5,304.31 338.0,304.10 338.5,304.39 339.0,304.62 339.5,304.16 340.0,304.43 340.5,304.70 341.0,304.03 341.5,304.29 342.0,304.28 342.5,304.55 343.0,304.45 343.5,304.33 344.0,304.58 344.5,304.29 345.0,304.28 345.5,304.68 346.0,304.17 346.5,304.52 347.0,304.88 347.5,304.22 348.0,303.72 348.5,304.80 349.0,304.35 349.5,304.77 350.0,304.52 350.5,304.59 351.0,304.43 351.5,304.61 352.0,304.46 352.5,304.80 353.0,304.26 353.5,304.84 354.0,304.68 354.5,304.30 355.0,305.37 355.5,304.43 356.0,305.08 356.5,304.93 357.0,304.37 357.5,304.64 358.0,304.70 358.5,304.86 359.0,304.63 359.5,303.90 360.0,304.45 360.5,304.85 361.0,304.44 361.5,305.05 362.0,304.44 362.5,305.13 363.0,304.44 363.5,303.96 364.0,305.00 364.5,304.77 365.0,304.58 365.5,304.61 366.0,304.45 366.5,304.48 367.0,304.64 367.5,305.16 368.0,304.59 368.5,305.00 369.0,304.81 369.5,305.16 370.0,304.44 370.5,304.18 371.0,304.40 371.5,304.75 372.0,304.16 372.5,304.08 373.0,304.06 373.5,304.17 374.0,304.85 374.5,304.11 375.0,304.63 375.5,303.93 376.0,305.21 376.5,304.13 377.0,304.09 377.5,304.59 378.0,304.58 378.5,304.69 379.0,304.05 379.5,304.81 380.0,304.26 380.5,304.98 381.0,304.14 381.5,304.95 382.0,304.29" fill="none" stroke="#1c1cb0" stroke-width="1.3"/>
<rect x="213.3" y="322" width="168.5" height="4.9" fill="#fff" stroke="#555" stroke-width="0.5"/>
<line x1="216" y1="322" x2="216" y2="326.9" stroke="#999" stroke-width="0.4"/>
<line x1="275.5" y1="322" x2="275.5" y2="326.9" stroke="#999" stroke-width="0.4"/>
<line x1="280.2" y1="322" x2="280.2" y2="326.9" stroke="#999" stroke-width="0.4"/>
<line x1="283" y1="322" x2="283" y2="326.9" stroke="#999" stroke-width="0.4"/>
<line x1="297" y1="322" x2="297" y2="326.9" stroke="#999" stroke-width="0.4"/>
<line x1="329" y1="322" x2="329" y2="326.9" stroke="#999" stroke-width="0.4"/>
<line x1="357" y1="322" x2="357" y2="326.9" stroke="#999" stroke-width="0.4"/>
<line x1="368.5" y1="322" x2="368.5" y2="326.9" stroke="#999" stroke-width="0.4"/>
<rect x="215.6" y="322" width="13.4" height="4.9" fill="#555"/>
<rect x="236.3" y="322" width="13.3" height="4.9" fill="#080808"/>
<rect x="254" y="322" width="5.2" height="4.9" fill="#777"/>
<rect x="261.7" y="322" width="9.1" height="4.9" fill="#444"/>
<rect x="282" y="322" width="8.6" height="4.9" fill="#888"/>
<rect x="291.5" y="322" width="4.8" height="4.9" fill="#888"/>
<rect x="299.2" y="322" width="4.7" height="4.9" fill="#999"/>
<rect x="303.9" y="322" width="5.1" height="4.9" fill="#111"/>
<rect x="310.7" y="322" width="4.3" height="4.9" fill="#666"/>
<rect x="317.1" y="322" width="5.4" height="4.9" fill="#111"/>
<rect x="335.3" y="322" width="5.0" height="4.9" fill="#555"/>
<rect x="342.8" y="322" width="5.4" height="4.9" fill="#080808"/>
<rect x="351" y="322" width="3.6" height="4.9" fill="#888"/>
<rect x="360.5" y="322" width="4.1" height="4.9" fill="#888"/>
<rect x="372.4" y="322" width="5.1" height="4.9" fill="#444"/>
<rect x="242.5" y="328.7" width="139.5" height="2.5" fill="#1a6e1a"/>
<line x1="243" y1="330" x2="381" y2="330" stroke="#60c060" stroke-width="0.5" stroke-dasharray="4,0.8"/>
<text x="213.7" y="331" font-size="2.8" fill="#555">8000</text>
<text x="227.7" y="331" font-size="2.8" fill="#666">1 3 1 8</text>
<rect x="216.2" y="335.8" width="28.8" height="1.3" fill="#3030c8"/>
<path d="M348.1 72.9 L352.25 76.8 L350.40000000000003 76.8 L350.40000000000003 80.9 L345.8 80.9 L345.8 76.8 L343.95000000000005 76.8 Z" fill="#0c1e5a"/>
<path d="M349.3 248.3 L353.90000000000003 252.6 L351.95 252.6 L351.95 256.6 L346.65000000000003 256.6 L346.65000000000003 252.6 L344.7 252.6 Z" fill="#0c1e5a"/>
<path d="M456.8 156.4 L461.55 160.7 L459.25 160.7 L459.25 165.0 L454.35 165.0 L454.35 160.7 L452.05 160.7 Z" fill="#0c1e5a"/>
<path d="M349.3 341.1 L354.15000000000003 345.4 L351.90000000000003 345.4 L351.90000000000003 351 L346.7 351 L346.7 345.4 L344.45 345.4 Z" fill="#0c1e5a"/>
</svg></body></html>
